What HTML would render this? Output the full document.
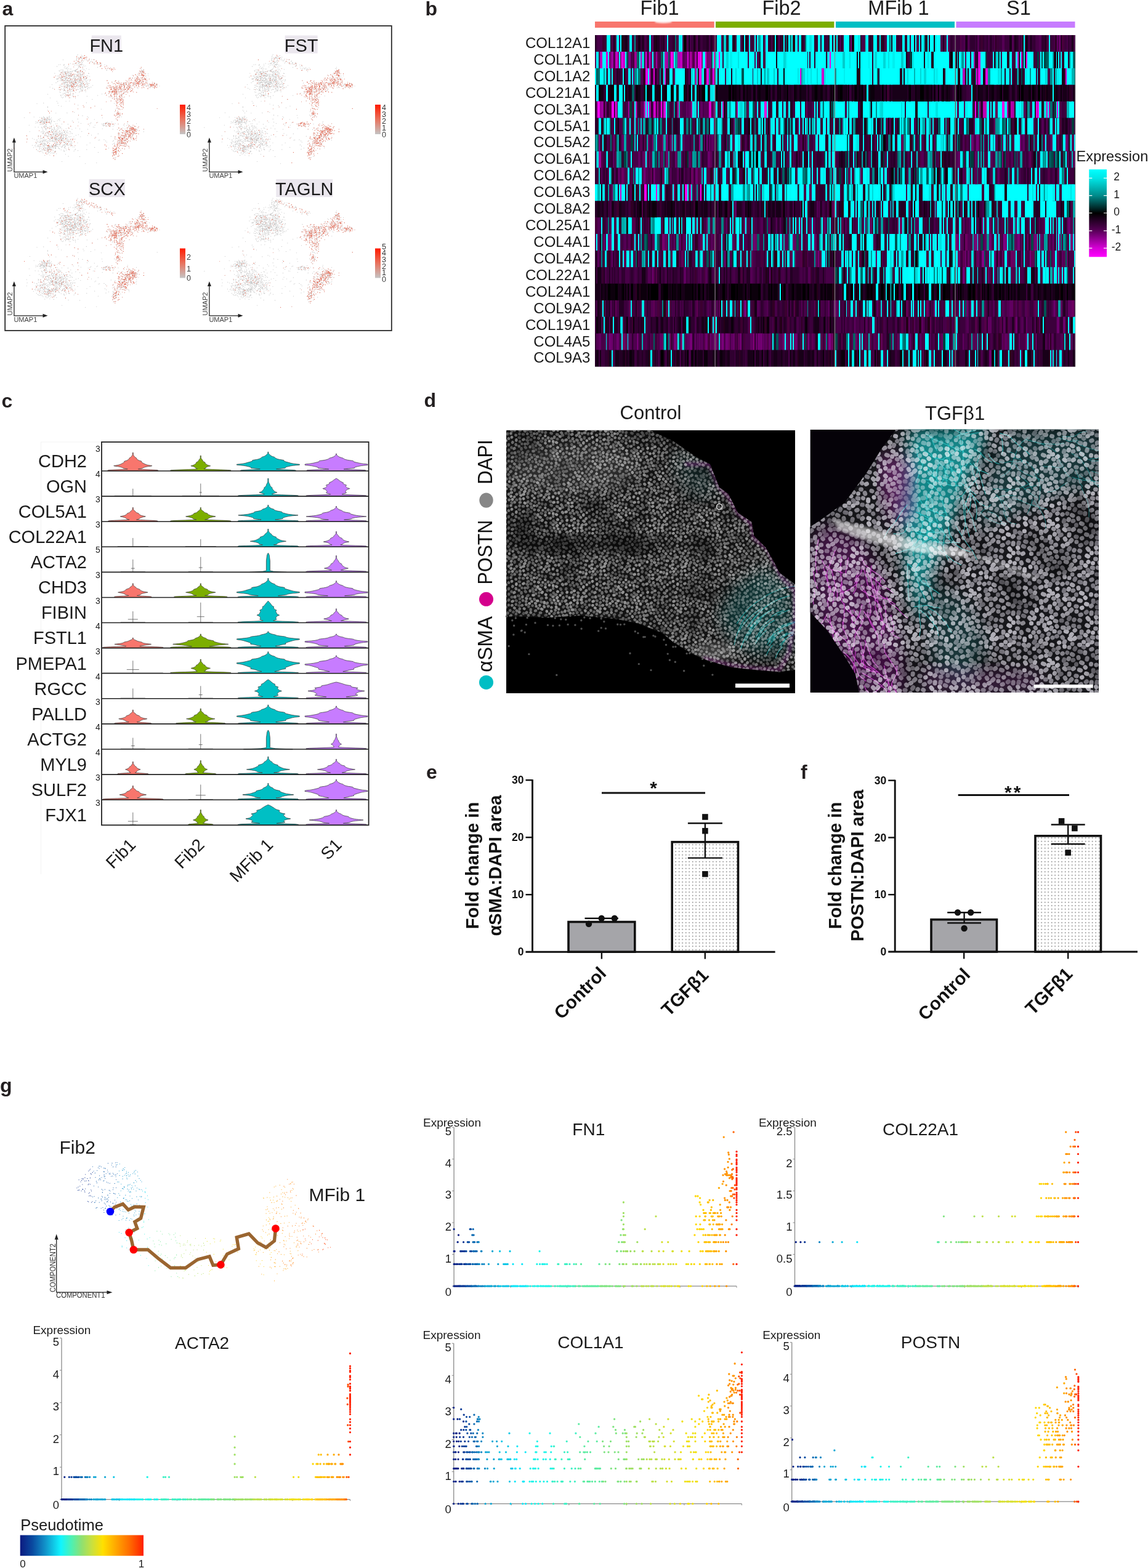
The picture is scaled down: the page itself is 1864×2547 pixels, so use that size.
<!DOCTYPE html>
<html><head><meta charset="utf-8"><title>Figure</title>
<style>
html,body{margin:0;padding:0;background:#fff;}
body{width:1864px;height:2547px;overflow:hidden;}
svg{display:block;}
text{font-family:"Liberation Sans", Arial, Helvetica, sans-serif;}
</style></head>
<body>
<svg width="1864" height="2547" viewBox="0 0 1864 2547">
<defs>
<g id="umapbase"><path d="M113.7 135.4h0M114.1 127.4h0M107.3 129.3h0M127.9 135h0M128 134.2h0M121.2 133.6h0M99.8 140h0M120.5 134.7h0M98.3 113.8h0M107.9 126.4h0M119.4 132h0M121.2 123.1h0M118.1 134.8h0M110 149.1h0M121.7 143.8h0M109.9 123h0M112.4 130.5h0M123.4 132.7h0M110.9 121.4h0M112.6 142.6h0M107 133.9h0M121 115.4h0M116.7 144.7h0M94.4 127.8h0M115.6 123.4h0M122.2 130.4h0M100.2 140.5h0M123.6 140.2h0M131.7 135.5h0M117.3 116h0M122.1 124.2h0M111 118.1h0M105.5 125.9h0M130.8 109.5h0M102.2 133.1h0M131.3 136.8h0M97.9 104.9h0M120.4 123h0M105 141h0M128.3 131.4h0M117.7 136.5h0M132.7 138.6h0M120.7 136.8h0M100.7 145.4h0M125.9 136.1h0M96.7 124.5h0M124.2 113.2h0M112.9 140.6h0M104 147h0M121.6 129.8h0M120.4 138.1h0M116.7 142.3h0M110.3 126.7h0M126.3 132h0M108.2 142.3h0M130.3 126h0M101.6 129.9h0M114.3 128.9h0M128.4 121.3h0M128.5 117.9h0M108.7 137.6h0M126.9 140.9h0M120.2 132.1h0M117.9 136h0M113.5 133.6h0M122.3 131.1h0M123.4 135.7h0M135.4 135.6h0M112.2 126.6h0M117 140.9h0M112.5 134.5h0M135.8 105.2h0M106.1 133.8h0M119.8 133h0M111.3 137.9h0M119.3 126.2h0M141.3 133.8h0M110.4 129.3h0M114.3 129.4h0M88 125.4h0M126 119h0M116.7 140.5h0M123.8 146h0M99.5 127.9h0M112.9 138.9h0M128.2 103.8h0M128.2 115.3h0M123 115.2h0M118.1 144.4h0M114.3 134.2h0M123.5 133.6h0M114 146h0M127.7 128h0M144.3 119.4h0M125.7 128.2h0M116.8 138h0M118.6 136.8h0M101.1 117h0M121.2 120.8h0M105.6 116.1h0M129.2 138.1h0M131.2 121.5h0M116.2 120.6h0M124.1 146.1h0M106 147.4h0M126 128.8h0M95.1 145.1h0M115.2 124.4h0M120 135.9h0M132.1 121.1h0M127.6 145.1h0M131.6 130.4h0M109.6 142.3h0M117.6 132.6h0M130.7 129.3h0M92.7 128.8h0M98 139.1h0M119.4 123.6h0M115.6 139.3h0M118.9 143.9h0M116.3 141.7h0M131.2 147.9h0M107.8 140.7h0M98.6 120.3h0M96.2 142h0M104.2 130.5h0M114.4 131.1h0M109.9 133.7h0M134.7 132h0M120.9 140.8h0M113.9 119.2h0M110.8 140.7h0M98.5 126.5h0M126.7 138.1h0M115.6 139.3h0M119 120.3h0M100 124.3h0M127.1 124.5h0M108.3 123.5h0M100.7 130.8h0M104.6 134.1h0M91 134.4h0M110.1 112.3h0M121.6 129.3h0M94 123.3h0M119.8 126.5h0M124.5 138.9h0M122.5 134.3h0M129.9 137.4h0M119.7 108.7h0M125.7 144.8h0M113.3 125.4h0M136.6 112.9h0M119.4 156.9h0M105.6 139.8h0M135.8 129.5h0M120.1 139.7h0M108.2 131.2h0M119.4 138.1h0M115.6 128.8h0M106.2 127.3h0M125.6 130.8h0M107 123.6h0M142.2 143.3h0M124.5 105.2h0M121.5 136.9h0M131.9 135.7h0M115.2 137.3h0M97.4 141.7h0M120.9 124.7h0M129.3 148.7h0M103.9 124h0M119.5 132.8h0M111.8 119.9h0M137.7 141.5h0M104.8 117h0M132.3 140.3h0M134.7 139.5h0M107.9 133.4h0M94.7 123.5h0M116.9 136.3h0M108.9 130.2h0M121.8 134.2h0M122.3 133h0M111.3 140.1h0M117.6 122.7h0M112.5 132h0M116.7 133.8h0M116.9 131.7h0M116 118.6h0M119.6 141.8h0M121.2 129.9h0M120.9 120.8h0M97.5 131.1h0M106.7 139.2h0M104.1 104.6h0M104.1 146.4h0M111.4 117h0M109 136.3h0M122 132.9h0M131.2 138.6h0M115.8 137.2h0M133.9 140.5h0M127.5 119.2h0M114.5 137.1h0M112.8 143.1h0M122.6 141.3h0M112.9 156.2h0M129.2 129.5h0M117.8 156.1h0M113.1 139.9h0M126.3 131.5h0M104.1 131.6h0M119 141.4h0M123.2 131.2h0M125.9 136h0M117.7 130.7h0M112.4 138.1h0M105.1 124.5h0M115.5 116.5h0M110.9 111h0M108.8 137.4h0M121.3 130.8h0M114.2 116.6h0M136.1 136.4h0M126.7 122.6h0M113.7 112.1h0M124.2 140.7h0M98.3 129.2h0M122.4 114h0M97.5 120.5h0M111 115.8h0M116.6 134.2h0M122.2 136.8h0M130.7 143h0M103 127.3h0M106.5 118.9h0M116.2 131.8h0M122.5 114.8h0M103.2 130.9h0M115.4 128.4h0M116.9 123.9h0M122.9 133.9h0M116.8 123h0M114.2 103.1h0M105.5 131h0M100.9 134.9h0M117.7 116.6h0M113.8 128.6h0M120.3 137h0M114.5 122.9h0M115.3 131.5h0M122.8 135.7h0M109.6 117.1h0M112.1 123.3h0M104 130.5h0M110.8 131.6h0M121.9 126.9h0M139.4 127.6h0M127 133.3h0M128.4 106.3h0M108.5 134.6h0M122.1 156.2h0M119.8 144.6h0M122.4 141.3h0M121.7 129.9h0M121.8 120.5h0M127.8 121.4h0M118.8 151.8h0M113.2 131.4h0M128.3 129.6h0M106.4 134.5h0M122.1 140.5h0M107.2 148.7h0M132.7 131.7h0M120.1 127.9h0M129.8 124.8h0M122.1 126.4h0M109.3 138.8h0M129.2 132h0M109.3 139.3h0M115.5 133.4h0M132.3 142.8h0M111.3 155.7h0M115.6 138.8h0M109.6 131.3h0M98.3 149.9h0M130.5 117.3h0M100.4 113h0M128 126h0M116.1 128h0M114.9 121h0M116.9 115.5h0M115 134.4h0M122.3 128.5h0M106.9 132.9h0M111.9 146.9h0M124.3 129.5h0M111 123.3h0M107.2 127h0M119.6 136.6h0M122.8 150.3h0M108.3 130.2h0M144.5 112.7h0M112.9 134h0M118.9 135.5h0M113.5 135.2h0M115.1 139.6h0M97 122.5h0M115.4 119.7h0M105.1 137.4h0M109.9 137.2h0M124.1 134.7h0M120.5 129.9h0M100.7 130.3h0M121.5 125.1h0M116.7 139.1h0M108 137.6h0M135.8 126.3h0M117.8 129.1h0M131.5 135.8h0M125.2 123.7h0M115.5 129.6h0M97.8 145.9h0M125 112.7h0M124.1 130.1h0M120.4 135h0M100.2 129.6h0M130.6 124.9h0M105.9 116.9h0M102.9 136.1h0M134.6 134.1h0M118.8 152.8h0M111.2 123.2h0M122.1 137h0M107.2 120.1h0M118.8 134.3h0M102.6 128.9h0M110.3 134.3h0M115.5 128.6h0M112.4 142.2h0M130.5 126.1h0M124.3 123.9h0M117.8 139.9h0M130.2 127.5h0M115.1 133.6h0M99.7 131.1h0M109.9 134.3h0M104.4 110.2h0M117.5 132.7h0M109.9 139.8h0M113.2 126.5h0M121.3 114.4h0M109.8 131.1h0M125.1 129.3h0M119.7 123.5h0M118.4 147.6h0M108.4 155.7h0M111.2 132.2h0M118.3 141.7h0M95.1 105.1h0M109.4 126h0M109.4 140.4h0M106.7 123.2h0M111.4 123.6h0M115.3 112.1h0M102.4 97.1h0M111.6 117.9h0M110.6 137.5h0M104.2 121.5h0M101.2 114.1h0M99.6 127.2h0M103.4 122h0M102.3 129.2h0M107.8 119.5h0M108.1 119.7h0M94.2 131.6h0M109.7 114.5h0M112.2 123h0M93.5 132.7h0M106.4 128.9h0M106.4 119.6h0M94.5 128.4h0M105.2 119.4h0M108.1 122.4h0M109.2 119.2h0M104 105.9h0M102.8 125.4h0M113.5 118.4h0M103.3 133.9h0M101 128.5h0M118 121.3h0M113.7 115.9h0M106.6 121.3h0M106 130.2h0M123.5 116.4h0M101 124.8h0M97 125.1h0M108.7 119.6h0M107.8 110h0M109.6 109.2h0M99 116.9h0M101.6 126.4h0M105 117.6h0M107.9 133h0M105.5 124.2h0M113.2 123h0M96.3 138.2h0M121.5 105.8h0M103.8 124.4h0M111.4 127.5h0M103 113.7h0M106.1 128.9h0M96.1 114.8h0M105.6 108.3h0M101.8 119.7h0M107.5 116.9h0M99.1 120.3h0M103 115.7h0M105.6 127.2h0M113 131.5h0M99.3 118.2h0M84.5 137.2h0M97.4 120.7h0M108.4 111.7h0M108.6 121h0M90.6 123.2h0M111.6 106.9h0M112 122.3h0M108 126h0M114.9 119.8h0M111.5 118.2h0M109.2 116.2h0M103.9 135.2h0M107.6 119.9h0M96.6 115.5h0M105.8 127.5h0M107.9 125.4h0M105.7 131.2h0M100.4 117.7h0M112.8 121.5h0M101.9 117h0M100.5 125.6h0M107 111.4h0M108.1 122h0M95.9 126.4h0M103.1 120.4h0M111.4 131.1h0M99.2 124.3h0M99 137.8h0M101.3 130.8h0M99.2 126.8h0M121.1 102.9h0M101.3 124.6h0M103.9 118h0M121.3 120.7h0M92.7 127.6h0M92.1 128.6h0M100.3 122.5h0M113.2 122.5h0M92.6 107.9h0M113.3 127h0M98.5 127.2h0M108.4 126.9h0M88.9 119.1h0M110.8 127.5h0M111.4 104.2h0M105.6 124.3h0M123.3 113.9h0M103.1 122.3h0M109.3 118.7h0M114 116.4h0M106.2 116.9h0M106.5 117.1h0M93 128.4h0M105.6 117.5h0M105.4 128h0M97.8 121.4h0M106.9 124.7h0M103.2 106h0M140.5 126.7h0M130.9 119.9h0M133.6 120.8h0M125.1 116.8h0M128.2 117.6h0M122.4 127.5h0M122.4 129.7h0M124.6 126.3h0M141.4 125.9h0M126.4 122.6h0M133.9 107.7h0M127.6 124.7h0M129.1 124.2h0M138 130.1h0M137.9 128h0M130.1 122.5h0M130.5 120.4h0M129.7 107.6h0M129.2 124.5h0M125.3 123.1h0M134.8 123.4h0M146.6 100.6h0M129.9 108.4h0M139 146.1h0M113.7 123.6h0M134.7 120.5h0M133.5 104.7h0M139.5 125.7h0M131.8 116.9h0M136.5 119.2h0M133.9 117.8h0M114.9 122.5h0M133 131.7h0M125.2 123h0M135.8 125.2h0M142.8 141.6h0M126.3 105.7h0M138.8 136.6h0M139.4 131.2h0M127.7 115.8h0M138.3 115h0M118.9 114.6h0M150.6 138.8h0M126.2 116.9h0M133.7 116.4h0M141.2 122.7h0M124.7 134.6h0M127.7 123.8h0M129.6 119.4h0M134.4 115.4h0M118.6 104h0M122.5 116.1h0M131.2 124.4h0M136 124.3h0M125.6 117.3h0M117.3 121.8h0M135 127h0M130.9 121.1h0M137.4 124.1h0M136.6 126.8h0M132.7 136.1h0M127.5 119.1h0M125 116.9h0M143.3 138.8h0M131.7 128.6h0M141.5 130.7h0M140.3 111.2h0M127.4 128.5h0M142.7 123.2h0M125.6 121.2h0M126.4 116.2h0M143.6 119.1h0M130.6 140.8h0M140.6 126.8h0M127 126.9h0M143.2 129.7h0M139.1 124.3h0M134.5 121h0M133.6 133.9h0M121.3 122.8h0M134.9 118.1h0M129.8 130.4h0M146.5 129.9h0M134.2 109.9h0M145.6 124h0M131.4 114.3h0M131.3 113.8h0M132.2 128h0M131.6 126.5h0M125.1 136.3h0M128.5 107.6h0M130.3 115.7h0M125 120.2h0M134.6 112.5h0M131.1 137.2h0M137 121.7h0M131.6 122.2h0M131.9 130.1h0M130.2 101.5h0M130.8 114.7h0M136.2 118.2h0M134.3 142.4h0M125.3 112.2h0M122.7 103h0M118.4 127.1h0M127.6 108.5h0M121.6 127.3h0M124.7 121.4h0M134.1 136.2h0M145.5 131.8h0M132.5 125.1h0M145 135.3h0M129.9 127.8h0M133.1 122.9h0M126.5 111.5h0M127.8 109.3h0M140.1 127.9h0M123 135.9h0M138.9 107h0M146 129.6h0M122.4 140.7h0M111.1 150.7h0M110.1 149.7h0M114.4 138.3h0M101.6 140h0M104.9 145.6h0M110.2 150.1h0M109.4 143.8h0M104.7 155.2h0M114.7 147.1h0M106.5 157.6h0M104.4 151.6h0M118.1 146.2h0M113.9 140.6h0M114.3 149.4h0M98.3 154.2h0M102.9 158.1h0M103.2 147.5h0M110 145.1h0M113.1 144.7h0M113.1 147.9h0M109.4 129.7h0M116.9 148.4h0M96.7 149.2h0M110.6 155.7h0M101.3 158.9h0M107.1 164.2h0M107.9 153.7h0M105.5 141.9h0M114.9 154.3h0M118.6 154.2h0M102.8 136.8h0M104.1 144.8h0M102.6 153.5h0M109.2 146.8h0M110 147.5h0M110.1 154.1h0M114.1 144.5h0M99.5 157.6h0M107.4 154.8h0M97.1 145.5h0M109 138.4h0M107.1 153.7h0M114.5 158.7h0M104 139.9h0M111.1 155.4h0M109.4 141.7h0M113.2 154.1h0M112.5 144.9h0M110.3 154.6h0M105.2 136.4h0M111 153h0M109.3 154.7h0M104.9 146.7h0M106.6 151.8h0M119.5 146.4h0M122.3 157.6h0M114.4 151.7h0M120 147.8h0M107.5 141.5h0M112.4 158.7h0M110.5 150.5h0M107.7 150.3h0M98.8 155.4h0M105.6 143.1h0M103.4 142.1h0M112.8 154.4h0M100.6 154.2h0M115.8 145.2h0M99.1 144.1h0M105 151.4h0M105.4 134.8h0M109.6 138.5h0M114.2 139.6h0M103.4 144.3h0M106.6 156.3h0M114.3 152.4h0M109.9 138.9h0M105 146.2h0M102.4 151.6h0M124.4 94.9h0M126.1 88.6h0M131.4 104.5h0M128 93.7h0M120.4 99.5h0M132.8 99.4h0M131.5 104.3h0M132.4 95.3h0M132.7 101.2h0M124.3 95.9h0M124.6 97.7h0M131.4 93.8h0M123 103.6h0M130 104.3h0M123.6 102.6h0M136.3 107.5h0M127.5 99.5h0M128.9 101.4h0M132.4 98.8h0M125.1 101.5h0M125.9 99.3h0M131.2 104.9h0M133.5 97.1h0M130 104.9h0M128.2 100h0M133 104h0M131.2 93.2h0M123.7 98.1h0M130.2 109.2h0M126.7 103h0M131.1 92.4h0M127.3 99.8h0M128.1 96.8h0M130.2 94.5h0M129.4 94.7h0M127.2 99.5h0M127.4 99.7h0M133.7 98h0M128.8 101.7h0M127.9 101.9h0M123.4 102.4h0M126.7 94.3h0M133 93.8h0M133.8 101.6h0M131.4 92.8h0M132.3 104.1h0M127.8 97.2h0M135.4 99.1h0M128.4 95.5h0M129.8 100.5h0M129.8 104.8h0M127.3 99.7h0M133.4 94.7h0M131.6 106h0M124.6 92.4h0M125.1 90.5h0M139.1 128.5h0M139.1 148.9h0M127.2 139.4h0M126 145.5h0M131 138.5h0M134.8 144.3h0M134 141.5h0M132.7 140.2h0M128.5 140.9h0M124.5 138.5h0M147.8 141.4h0M126.6 141.4h0M128.3 130.5h0M130.4 145.2h0M137.6 141h0M131.1 134.1h0M144.2 142.2h0M130.4 129.5h0M126.7 155.1h0M130.1 139.7h0M137 139.9h0M133.6 131.7h0M128.9 149.8h0M132.1 145.8h0M126.3 138.2h0M137.5 146.9h0M129.9 143.6h0M138.5 137.5h0M139.8 134.8h0M130.1 139.5h0M120.6 140.6h0M130.1 131.5h0M134.1 146.4h0M133.2 148h0M129.8 133.5h0M145.7 142.7h0M141.4 135.7h0M139.8 142h0M139.1 141.3h0M142.4 137h0M129.4 131.2h0M143.5 135.7h0M131 136h0M131.2 132.8h0M133.6 137.1h0M132.2 134.7h0M136.8 137.9h0M137 141.6h0M137 129h0M132.3 135.2h0M140 132.4h0M131.3 138.5h0M134.1 147.3h0M132.9 146.1h0M126.8 132.3h0M142.5 144.6h0M138.3 141.8h0M136.8 133.8h0M141.1 137.4h0M141 140.2h0M122.9 133.4h0M141.6 139.9h0M133.2 141.7h0M132.5 139h0M185.8 149.1h0M195.6 147.9h0M197.5 162.2h0M197.9 156.3h0M189.4 150.1h0M186 142.5h0M186.4 145.1h0M196.4 153.8h0M182.4 133.7h0M185.6 144.8h0M179.4 139.4h0M171.3 151.1h0M185.5 168h0M185.5 147.6h0M196.3 148.6h0M186 145.8h0M182.2 159.2h0M191.7 161.9h0M182.8 148.5h0M180.2 156.1h0M176.5 151.9h0M194.7 158.1h0M180.4 156.3h0M180.9 142.9h0M177.1 157.1h0M194.7 144.1h0M181.1 145.3h0M202 157.6h0M183.9 135.9h0M181.7 156.9h0M199.3 146.2h0M180.8 145.3h0M172.9 154.5h0M180 154.9h0M174.7 139.3h0M188 141.8h0M190.9 148.3h0M179.8 153.8h0M190.9 135.3h0M198.4 152h0M190.7 134.7h0M180 145.4h0M193.7 139h0M181.6 133.4h0M184.9 149.1h0M174.7 143.2h0M189.9 158.7h0M189.5 145.4h0M178.6 142.3h0M180.9 151h0M185.8 159.9h0M188.1 140.7h0M196.7 155.6h0M188.3 144.2h0M173.2 141.7h0M192.5 141.9h0M176.7 149.3h0M185.6 153.4h0M190.1 159.7h0M180 155.6h0M180.1 154.3h0M187.4 149.4h0M194 149h0M194.3 156.1h0M188 144.7h0M181.4 145.1h0M183.5 148.9h0M204.7 153.4h0M190.2 142.8h0M180.9 148.1h0M187.4 141.3h0M195.8 144.2h0M193 131.3h0M185.6 149.8h0M187.8 152.5h0M187.1 149.9h0M172.9 143.2h0M170.2 152.3h0M187.8 146.4h0M179.6 144.5h0M197.8 159.9h0M185.3 158h0M175.9 134.7h0M183 142.6h0M181.9 149.2h0M206.2 143.4h0M186.3 151h0M186.5 156.2h0M197 139.2h0M187.5 145.4h0M187.3 137.8h0M174 130.9h0M190 150.3h0M187.2 131h0M183.3 142.7h0M177 140.2h0M190 153h0M185.2 152.2h0M182.1 149.4h0M185.9 151.6h0M187.5 146.9h0M186.4 142.4h0M200.7 152.1h0M190.3 166.7h0M195.9 136.4h0M189.9 154h0M197.9 158.2h0M190.4 139.7h0M181.4 151.5h0M187.8 140.3h0M183.2 146.6h0M186.1 152.4h0M184.4 140.6h0M193.4 159.8h0M186.1 156.4h0M187.4 153.1h0M189.3 143.4h0M189.2 157.2h0M180.2 163.9h0M199.9 161.8h0M198.7 153h0M184.4 144.7h0M181.4 149h0M185 153.1h0M172.5 165.3h0M201.6 147.6h0M190 152.5h0M188.5 148.7h0M185.6 141.8h0M186.3 147.7h0M188.1 142.5h0M186.2 148.3h0M189.8 140.7h0M189.2 155.7h0M189.2 144.9h0M183.9 146.7h0M190.6 159.7h0M185.8 143.6h0M188.6 149.8h0M180.5 142.3h0M185.5 154.2h0M179.1 141.6h0M189.5 140.8h0M187.2 152.1h0M184.3 140.2h0M186.2 145.9h0M187.8 141.6h0M194.3 135.4h0M184.9 147.5h0M192.1 145.8h0M191.4 144h0M190 162.4h0M182.7 150.3h0M180.2 154.7h0M192.7 149.6h0M178 150.6h0M193.6 156.2h0M192.2 135.3h0M182.8 159.7h0M179.3 157.6h0M198.3 154.4h0M193.3 144.9h0M177 148.3h0M182.8 147.5h0M189.5 147.4h0M186.4 151.8h0M185.8 161.5h0M188.2 147.4h0M184.7 142.9h0M194.5 149.9h0M179.7 144.9h0M186.2 144.1h0M193.6 141.3h0M189.5 148.7h0M178.6 148.4h0M204 144.8h0M201.3 141.8h0M190.3 135.2h0M211.5 148.1h0M205.4 137.7h0M214.6 126.3h0M197.9 144.3h0M213.1 134.1h0M188.6 151.2h0M207.2 134.7h0M206.3 146.8h0M183.6 149.3h0M211.5 127.1h0M211.9 130h0M215.6 143.9h0M225.7 136.2h0M205.5 148.6h0M200.5 136.7h0M201.9 140h0M195.2 143.7h0M210 140.1h0M221.1 138h0M216.9 137.6h0M211.5 126.7h0M207.8 139.9h0M200.8 137.6h0M203 135.3h0M186.2 135.5h0M200.3 138.4h0M195.5 140.5h0M211 138.9h0M201.8 150.9h0M214.2 147.3h0M216.8 136.7h0M202.9 149.5h0M202.4 140.4h0M208.7 143.4h0M203 146.7h0M203.8 145.4h0M215.2 145.6h0M212.5 133.6h0M193.2 137.8h0M207.4 150.6h0M194.9 142.3h0M199.4 135.1h0M202 144.9h0M207.5 149.1h0M196.8 147.1h0M212.9 140.7h0M209.6 136h0M196 137.8h0M200.3 158.8h0M200.7 151.1h0M206.8 142h0M211.6 134.6h0M213.7 143.7h0M192.1 144.5h0M209.5 142.9h0M219 137.3h0M208.9 145.7h0M197.5 148.3h0M192.1 132.2h0M209.4 133.3h0M204.5 130.5h0M206.5 132.8h0M209.3 129.8h0M209.1 140h0M207.7 140.4h0M206.2 131.8h0M182 140.8h0M196.9 137.2h0M210 127.1h0M200 137.4h0M196.6 142.4h0M203.7 133.8h0M197 145.8h0M199.9 144h0M209.6 127.2h0M194.2 141.1h0M209.2 143.4h0M213.3 147.2h0M202 138.2h0M211.3 138.5h0M214 130.3h0M210.9 141.1h0M188.9 146.1h0M207.7 140h0M194.9 137.2h0M219.4 135.4h0M175.6 135h0M194.6 139.9h0M201.9 136.3h0M199.4 147.9h0M193.2 152h0M200.5 135.4h0M211.6 145h0M197.2 145.3h0M189.1 134.3h0M215.8 139.1h0M195.2 145h0M213.3 142.6h0M189.4 138h0M208.8 145.1h0M221.2 139h0M201.8 139.3h0M214.8 134h0M216.5 123.1h0M211.7 137.5h0M208.9 145.1h0M195.1 141.1h0M207.7 144.6h0M196.8 134.4h0M188.9 157.1h0M203.6 137.8h0M191.9 147.7h0M201.8 150.1h0M211.1 142.3h0M211.5 135.4h0M202.2 137.7h0M193.8 141.9h0M205 149.3h0M177.1 138.5h0M197.2 136.8h0M209.2 143.1h0M204.4 136.8h0M209.8 141.9h0M190.1 139.4h0M193.2 134.1h0M205.9 141.7h0M205.3 134.8h0M204.1 134.3h0M208.6 145.7h0M221.8 150h0M198.7 137.5h0M196 144.1h0M224 143.7h0M186.8 132.5h0M194.6 144.3h0M205.2 142.7h0M220.8 136.2h0M197.7 153.2h0M208.8 136.1h0M188 131h0M185.2 142h0M205.9 147.1h0M204.6 134.7h0M198.5 152.6h0M190.1 141.6h0M207.5 145.3h0M202.1 145.7h0M212.4 139.5h0M202.3 140.2h0M197.6 140.3h0M202.4 141.6h0M216.4 149.4h0M202.2 143.9h0M207.5 144.7h0M207.1 143.1h0M201.4 134.7h0M212.1 148.7h0M211.1 142.6h0M207.5 138.7h0M189.8 145.1h0M205.5 136.9h0M196.8 148.5h0M188.5 152.2h0M210.1 155.8h0M197.9 140.5h0M201.6 141.1h0M203.8 134.7h0M215.1 136h0M200.6 145h0M200 137.9h0M209.7 138.3h0M193.6 141h0M225.5 140.7h0M217.3 135.2h0M219.8 130.1h0M224.5 132h0M233.8 142.4h0M221.4 139.1h0M232.6 136.1h0M222.5 135.2h0M225.9 132.6h0M224.6 135h0M235 138.3h0M225.5 137.6h0M238 126.5h0M236.8 123.6h0M230.3 133.8h0M238.9 132.9h0M223.2 124.8h0M217.4 136.1h0M224.8 126.4h0M231.6 126.4h0M223.2 128.3h0M238.5 140.4h0M225.9 121.9h0M228.4 131.3h0M230.5 134.1h0M224.8 135.2h0M233 132.8h0M224.7 128.5h0M232.1 124.9h0M226.3 128.3h0M216.7 133.9h0M226.9 131.2h0M233.5 123h0M226.3 132.4h0M232.9 123.8h0M232.1 131.6h0M236.8 137.8h0M230.5 142.6h0M226.7 128h0M224.1 126.1h0M227.2 119.1h0M226.7 134.6h0M234.7 129.2h0M236.7 128.6h0M225.4 118.9h0M221.2 126.7h0M236.4 133.1h0M220.3 134.2h0M230.7 129.3h0M225.6 129.2h0M223.8 120.5h0M224.6 138.2h0M236.6 129.5h0M220.5 129.6h0M232.6 133.7h0M222.6 133.8h0M225.1 132.3h0M222.3 123.1h0M227.7 136h0M218.7 129h0M232.5 129.2h0M223.1 142.3h0M232.1 136.3h0M220.7 141h0M213.5 129.1h0M231.2 137.4h0M218.8 126.7h0M229.8 122.1h0M230.2 133.7h0M223.6 134.4h0M231.8 131.6h0M230 139.1h0M221.9 132.1h0M221.8 135.5h0M224.9 134.5h0M228.7 131.5h0M238.4 130.5h0M235.6 136.3h0M236.1 129.9h0M231.7 135.2h0M223.6 133.7h0M226.4 130.6h0M235.9 127.4h0M215 122.1h0M223 125.6h0M224.9 133.5h0M237.9 133.3h0M230.7 126.9h0M231.1 138.7h0M236.2 119.7h0M232.6 140.8h0M232.2 122.6h0M225.4 135.1h0M229.3 126.7h0M219.6 136.6h0M217.5 139.1h0M226.9 133h0M215.4 127.1h0M231.5 122.4h0M240.4 123h0M219.3 131.1h0M229.5 134.8h0M223.1 130.3h0M224.2 128.5h0M209.3 136.9h0M229.2 131.9h0M220.9 132.4h0M227 129.4h0M233.4 122.3h0M228.7 126.1h0M224.9 139.5h0M219.4 131.1h0M222.5 136.2h0M220 121.4h0M232.1 128.5h0M223.3 136.1h0M221.3 128.6h0M227.8 133.2h0M223.3 135.7h0M242.3 128.3h0M240.5 119.8h0M235.5 128.4h0M228 130.1h0M222.8 123.8h0M224.7 136.4h0M234.2 128.3h0M222.2 127.6h0M218.5 141.3h0M231.2 132.2h0M223.8 124.9h0M236.5 134.7h0M221.4 135.5h0M218.7 133.8h0M220 129.8h0M229.5 134.8h0M234.8 126.7h0M237.2 139.2h0M224.4 133h0M222 130.2h0M219.4 131h0M229.9 122h0M232.9 121.7h0M228.4 116.8h0M230.8 117.7h0M226.1 119.2h0M227.8 116.3h0M231 115.9h0M234.8 117h0M234.4 122.2h0M230.5 119.3h0M233.3 116.9h0M229.5 114.2h0M231.9 116.4h0M229.9 120.5h0M233.3 118h0M230.3 121.2h0M228.6 116h0M232 115.5h0M233 112.8h0M233.4 113.9h0M232.5 122.4h0M228.5 122.8h0M227.9 111.4h0M233.8 119.4h0M229.3 109.2h0M231.5 117.2h0M229.2 116.4h0M226.9 115.3h0M234.6 123.7h0M230.2 115h0M231.2 122.6h0M231.1 115h0M231.4 118h0M232.9 123.1h0M232.6 122.4h0M231.3 121.4h0M229.7 118.6h0M231.9 114.4h0M229.5 111.8h0M230.8 116.2h0M230.3 119.7h0M227.8 118.1h0M248.5 137.3h0M254.5 141.9h0M245.6 137.4h0M245 140h0M250.4 136.4h0M253.7 135.7h0M252.1 140.8h0M250.8 143.2h0M246 138.5h0M250.6 139.7h0M241.1 138.4h0M244.8 139.8h0M253.8 137.7h0M247.6 138.5h0M232.9 141.5h0M252.7 139.8h0M246.8 136.8h0M248 141h0M247.3 140.5h0M233.6 138.1h0M249.4 137.9h0M239.4 138.1h0M254.9 136.7h0M243.2 135.7h0M244.8 138.7h0M250.4 134.9h0M255.4 137.9h0M245 140.6h0M247.1 137.4h0M244.4 137.4h0M241.8 136.8h0M251.6 141.8h0M240.1 143.9h0M242.5 137.5h0M249.2 141.7h0M245.5 140h0M259 139.7h0M241.2 139.4h0M244.5 138.4h0M248.7 138.3h0M245.1 141.5h0M247.3 136.1h0M253.8 138.1h0M254.1 137.3h0M251.1 139.4h0M234.9 136.1h0M241.9 141.5h0M236.9 139.9h0M252.5 139.5h0M250.5 136.3h0M247.1 137.6h0M251.4 141.3h0M246 139h0M245.3 137.6h0M238.7 135.4h0M244.3 137.4h0M247.4 133.6h0M244.9 137.7h0M251.7 135.6h0M246.2 139h0M250 139.7h0M253.2 137.3h0M250 138.2h0M243.4 142.7h0M243.5 137.7h0M246.9 138.8h0M252.3 139.6h0M255.6 139.7h0M243.7 141.7h0M246.2 139h0M194.3 165.7h0M200.4 162.6h0M196.3 166.7h0M191.7 160.6h0M194.7 169.2h0M196.4 167.7h0M195.8 162.3h0M198.1 160.9h0M189.6 164.2h0M191.3 162.7h0M193.4 162.3h0M195.4 161.4h0M194.6 155.6h0M195.2 161.2h0M196.7 150.5h0M192.4 166.2h0M187.7 164.1h0M196.6 166.2h0M190.1 168.2h0M194.8 161.9h0M198.7 165.6h0M195.8 163.9h0M196.9 166.7h0M198.9 167h0M193.6 164.7h0M199.4 164.3h0M197.6 169.5h0M194.2 153.8h0M198.3 166.7h0M195.1 162.2h0M200.6 166h0M194.7 160.8h0M197.2 160.2h0M193.1 176.4h0M200.3 171.5h0M200.3 169.1h0M189.6 171.2h0M200 168.7h0M188.5 170h0M199.9 162.6h0M195.4 171.6h0M196.1 171.9h0M196.4 172.4h0M195.2 158h0M191.7 184.9h0M197.5 173.2h0M200.1 174.9h0M196.3 163.2h0M197 154.9h0M194.6 169.6h0M189.8 166.1h0M197.8 173.2h0M193.4 162.3h0M189 160.2h0M198.2 177.5h0M191.7 173.6h0M191.8 182.3h0M195.9 171.6h0M191.3 184.3h0M196.9 189.8h0M195.5 184.1h0M194.2 188.2h0M191.9 185h0M191.3 180.3h0M188.5 192.8h0M190 175.4h0M191.1 184.4h0M193.4 190.5h0M191 182.7h0M189.2 183.7h0M191.8 184.4h0M198.6 184.9h0M190.8 190.9h0M194.9 186.8h0M193 185.5h0M192.8 189.5h0M194.9 187.8h0M190.6 182.8h0M189.3 187.4h0M192.9 182.1h0M190.8 195.1h0M192.9 177h0M192 185.8h0M191.8 184.2h0M193.4 184.1h0M189.4 185.7h0M191.2 183.1h0M190.8 176.6h0M187.5 179.7h0M189.5 171.9h0M195 177.8h0M189.3 184.4h0M187.3 188.5h0M190.9 186.1h0M190.5 183.1h0M191.4 184h0M187.4 177.6h0M190.4 190.1h0M72.4 200.1h0M74.9 198h0M79.5 190h0M75.5 194.5h0M70.9 193.9h0M68.7 193.1h0M67.3 206.6h0M83.4 197.3h0M78.4 192.8h0M55.2 190h0M74.9 203.9h0M73.1 193.2h0M72 191.9h0M64.7 194.6h0M70.9 193.6h0M68.5 192.1h0M74 202.2h0M70.6 205.9h0M65.4 198.2h0M65.6 195.7h0M75.7 198.3h0M80.7 194.5h0M65.1 195.5h0M74.1 193.3h0M80.3 205.2h0M64.3 199h0M80.5 188.8h0M74.8 196.9h0M65 202.3h0M74.8 195.6h0M76 199.1h0M78.3 199h0M77.2 192.2h0M70.9 197h0M57.1 206.3h0M72.9 193.2h0M61.8 197.5h0M73.6 194.6h0M71.6 193.5h0M70.1 195.3h0M69.5 198.6h0M71.9 197h0M75.7 201.5h0M76.2 198.8h0M72.3 194.3h0M70.5 197.9h0M74.6 196h0M64.7 190.7h0M74.8 202.4h0M76.3 191.9h0M72 198.9h0M67.8 198h0M71.8 193.4h0M65 199.4h0M76 193.7h0M66.9 201.4h0M78.7 194.6h0M84 194.9h0M66.4 201.7h0M70.5 198.9h0M74.5 193.1h0M66.6 197.5h0M82.3 193.5h0M83.4 198.2h0M65.1 197.9h0M77 191.8h0M60 199h0M66.3 198.6h0M62.6 195.8h0M67.7 190.7h0M73 198.1h0M70.1 191.5h0M75.9 190.2h0M75.6 199.2h0M82.3 201.8h0M76.4 197.5h0M72.7 191h0M81.5 199.6h0M71.4 190.6h0M83 200.1h0M65.1 199.5h0M87.1 197h0M75.7 195.3h0M70.2 200.6h0M93.1 196.1h0M71.5 199h0M72.3 200.2h0M79.5 193.6h0M66.8 196.8h0M79.2 198.4h0M80.6 190.9h0M76.6 194.3h0M73.6 198.2h0M67.7 196.1h0M66.7 198.7h0M68.7 195.6h0M75.7 195.3h0M81.4 193.7h0M80.9 199h0M68 196.6h0M68.3 194.5h0M72.2 204.3h0M70.6 201.8h0M77.7 190.4h0M58.1 200.1h0M61.4 199.3h0M80.1 198.8h0M72.4 196.3h0M75.9 195.3h0M68.9 197.1h0M80.7 193.5h0M76.6 192.5h0M68.6 193h0M70.5 200.8h0M75.5 195.1h0M77.7 195.2h0M76.2 197h0M92.9 200.7h0M70.4 227.7h0M84.2 238.4h0M85.2 215.2h0M103.5 223.6h0M108.4 224.3h0M84.4 225h0M78.4 216.7h0M81.8 218.7h0M97.1 217h0M88.5 217.3h0M97 196.1h0M85.2 222.3h0M73.8 227.7h0M90.2 230.5h0M99.1 225.7h0M85 209.9h0M85.2 214.9h0M88.9 215.2h0M122.9 208.1h0M100.2 215.9h0M85 228.9h0M86.5 211.7h0M91.6 219.4h0M62.2 221.8h0M74.8 215.5h0M92.4 221.6h0M85.5 237.9h0M91.9 214h0M90.4 219.3h0M62.2 206.6h0M71.1 236.9h0M84 218.8h0M81.5 227.3h0M86.5 234.8h0M97.8 233.8h0M85.6 223.1h0M82.5 218.6h0M68.6 216h0M76.9 215.9h0M100.6 221.9h0M103.3 225.8h0M96.2 226.7h0M80.7 226h0M84.4 214h0M100.4 238h0M75.3 235.6h0M96.2 213.4h0M89.8 223.4h0M91 217.2h0M72.7 219.9h0M97.2 226.6h0M93.8 228.6h0M76.4 220.9h0M89.9 228.2h0M89.3 225.3h0M89.2 236.8h0M62.7 220.7h0M115.1 221.9h0M65.7 221.4h0M71.1 214.5h0M90.9 235.5h0M91.7 225.9h0M98.3 221.9h0M78.9 220.1h0M91 217.3h0M79.6 217.4h0M70 212.4h0M86.2 216.2h0M89.2 229.6h0M90.3 219.8h0M74.8 212h0M92.5 214.1h0M92.2 211.2h0M89.5 219.5h0M97.3 216.5h0M83.5 222.7h0M86.9 235.3h0M84.5 214.4h0M84 224.9h0M90.2 225.7h0M71 241.8h0M107.9 219.9h0M73.3 220.6h0M90.3 201.1h0M88.2 208.4h0M91.7 233h0M98.5 206.7h0M103.4 228.9h0M82.8 223.4h0M104.1 215.4h0M87 216.7h0M100.3 201.5h0M103.6 211.6h0M98.5 206.2h0M78.3 214.9h0M96.6 205.8h0M92.9 215.1h0M101.3 216.8h0M93.1 218.4h0M106.8 217.1h0M87.2 237.4h0M89 226.2h0M78.3 221.3h0M62.1 220.1h0M79.8 207.2h0M71.3 229.9h0M92.8 208.7h0M108.2 215.1h0M82.2 223h0M75.5 205.5h0M80.9 229.6h0M95.9 208.3h0M100.7 219.8h0M92.3 221.4h0M92 211.5h0M77.9 213.5h0M82.4 224.9h0M73 234.1h0M79.9 214.4h0M94.7 222.2h0M83.5 211.2h0M76.5 206.6h0M100.3 228.5h0M108.1 224.5h0M89.9 227h0M97.9 218h0M90.7 239.8h0M68.2 207.7h0M75.7 226.9h0M100.3 216.7h0M94.1 220.5h0M90.6 216.5h0M86.8 219.2h0M100.5 239.1h0M66.3 224.4h0M86.3 228.9h0M98.7 227.1h0M96.4 212h0M68.4 234h0M99.7 211.8h0M100.7 226.3h0M60.2 227.2h0M76.6 230.1h0M80.3 213.2h0M69.9 217.5h0M98 215.6h0M64.7 237.4h0M108.2 226.6h0M80.5 208.3h0M67.4 225.1h0M102.6 212h0M86.6 218.9h0M84.1 224.9h0M110.4 216.1h0M96.3 227.6h0M83.7 219h0M72.4 228.6h0M81 213.7h0M87.7 213h0M75.7 219h0M102.2 218.8h0M93.4 206.9h0M65.4 235.4h0M81.9 207.8h0M87.5 225.8h0M68.4 213.6h0M90 213.2h0M95.5 228.4h0M92.7 217.6h0M86.4 214.6h0M86.1 222.8h0M83.9 229h0M115.7 216.2h0M91.3 226.9h0M93.4 217.6h0M81.8 229.3h0M92.6 225h0M78.3 224.6h0M96.8 218.9h0M94.8 237.6h0M65.2 226h0M75.1 208.9h0M84.4 224.4h0M86.4 211.1h0M70.9 216.4h0M86.7 214h0M69.7 235.4h0M78.8 218.3h0M81.7 215.2h0M86.9 217.8h0M94.6 209.6h0M70.2 236.1h0M85.7 226.5h0M101.1 224.4h0M88.6 206.7h0M68.6 229.2h0M95.9 224.4h0M69 201.2h0M75 209.9h0M89.5 210.5h0M104.6 214.3h0M80.9 226.5h0M89.8 214.8h0M96.6 235.2h0M74 217h0M73.5 205.1h0M95.2 225.4h0M97.3 224.1h0M66.1 220.4h0M80.2 209.3h0M73.3 226.9h0M84.6 236.9h0M92.5 205.1h0M96.6 231.6h0M88.2 209.4h0M107.2 209.1h0M86.7 203.2h0M72.8 205.8h0M99.5 230.2h0M82.8 208.5h0M86.1 224.2h0M69.4 210.1h0M85.3 225.2h0M88.4 223.9h0M72.9 199.4h0M90.6 212.9h0M87.2 217.2h0M92.4 214.9h0M104.1 219.1h0M94.2 225.7h0M99.6 222.7h0M66.6 214.3h0M108.7 223.3h0M93 224.9h0M79.4 214.5h0M79.1 228.7h0M91.2 235.2h0M91.7 237h0M93 210.8h0M106.6 222.1h0M100.7 222.1h0M83.3 221.1h0M73.6 209.4h0M77 215.3h0M73 219h0M91 237.1h0M108 219h0M96.9 217.1h0M90 220.9h0M80.2 221.1h0M70.2 223.5h0M84.4 210.4h0M83.4 224.6h0M80.2 225h0M93.7 234.4h0M75.1 220.4h0M92.9 231.8h0M90.3 226.8h0M70.1 215h0M106 216.7h0M113.3 213.3h0M83.1 205.2h0M93.8 222.4h0M111.4 222h0M83.7 207.1h0M85.3 228.2h0M96.3 230.3h0M98.3 221.3h0M94.2 219.9h0M72.7 234.8h0M92 211.9h0M90.8 222.7h0M98.7 232h0M52.8 224.8h0M104.4 213.4h0M65.9 223.8h0M90.9 224h0M73.8 216.2h0M90.3 224.9h0M112.8 222.5h0M81.1 199.9h0M99.5 218h0M88.2 211h0M95.4 204.1h0M88.2 221.4h0M89.6 232.2h0M85.8 221.4h0M95.4 206.3h0M83.6 220.4h0M97.7 213.5h0M96.8 222.7h0M68.5 207.9h0M70.4 222.2h0M90.2 226.3h0M95.5 215.1h0M98.9 228.2h0M91.3 225h0M71.1 222.8h0M74.1 209.3h0M82.8 221.6h0M86.1 217.8h0M77 221.9h0M77.7 207.8h0M88.2 232.5h0M83.4 211.8h0M104.7 235.4h0M81.7 218.2h0M90.1 245.1h0M88.2 229.5h0M92.4 203.5h0M74 207h0M81.2 239.2h0M93 237h0M79.4 239.5h0M80.9 252h0M79 247.6h0M89.6 236.6h0M84 237.1h0M78.5 239.8h0M77.5 236.2h0M89.9 237.2h0M85.1 249.5h0M82.3 245.4h0M89.2 246.8h0M92.4 230.7h0M95 239.9h0M61.8 235.2h0M65.5 238.1h0M63.8 234.5h0M80.7 241.3h0M70.2 237.7h0M76.4 239.6h0M78.4 238.1h0M86.2 229.6h0M73.5 241.6h0M73.4 235.8h0M73.2 239.5h0M88.1 237.9h0M76.9 241.2h0M73.7 229h0M80.6 237.3h0M72.7 243.7h0M77.4 236.3h0M58.6 230.8h0M78.7 239h0M80.2 241.5h0M73.3 233.1h0M68 238.8h0M68 243.3h0M65.4 230.9h0M75.1 229.9h0M92.2 234.4h0M78.1 237h0M71.1 227.6h0M61.3 244.8h0M87.2 252.9h0M64 242.6h0M77.2 243.9h0M72.4 243.2h0M86.2 244.1h0M90.7 239.8h0M91 234.6h0M91.5 223.7h0M78.4 235.8h0M76.8 246.3h0M83.3 240.5h0M93 232.1h0M70 248.5h0M80.7 227.1h0M80.5 233.1h0M89.1 245.7h0M74.5 247.4h0M69.8 243.4h0M81.8 239.2h0M65.6 238.2h0M58 235.8h0M62.6 245.7h0M69.4 225.2h0M81.2 242.4h0M72.8 252.4h0M85.2 240h0M71.3 222.2h0M81.6 246.2h0M73 232.5h0M77.7 229.2h0M78.3 244.8h0M90.5 241.4h0M78.9 242.9h0M89.6 238.3h0M66.5 233.2h0M65.9 235.2h0M76.6 242.4h0M78.2 239.6h0M73.6 241.4h0M85.6 244h0M90.1 238.1h0M74.3 249.1h0M78.1 240.7h0M73.5 244.3h0M75.2 234.7h0M77.9 236.5h0M85.2 236.4h0M78.1 238.4h0M79.2 236h0M87.6 229.6h0M72.2 235.2h0M83 239.9h0M80.8 238h0M71.3 232.4h0M75.8 236.6h0M80.5 243h0M85.6 238.7h0M69.6 233.2h0M78.3 243.6h0M94.9 240.7h0M91.8 249.7h0M66.9 245.5h0M87.5 247.6h0M76.7 244.9h0M72.7 239.6h0M78.1 249.4h0M75.2 244.1h0M77.7 237.1h0M79.6 244h0M71.7 244.4h0M71 233.7h0M80.2 238.9h0M68.4 230.9h0M77.7 240.9h0M74.9 241h0M64.4 241.5h0M81.3 242h0M72.5 239.4h0M79 245.6h0M80.1 240.8h0M69.5 243.2h0M87.4 234.9h0M81.9 242.9h0M77.6 231.7h0M93 226.9h0M80.3 238.1h0M87.6 236h0M78.6 242.6h0M81 236.7h0M83.2 243.4h0M86 238.2h0M77.4 236.3h0M70.2 241h0M82.2 248.8h0M76.6 241.2h0M87.1 240.7h0M77.3 240.6h0M72.7 233h0M86.9 239.9h0M77.2 232.6h0M78.5 246.8h0M66.9 234.1h0M87.5 249.4h0M90.9 236.4h0M83.7 235.2h0M83 237.6h0M80.1 247.4h0M79.7 237.4h0M78.3 242.5h0M74.5 240.5h0M84.6 247.6h0M58.9 233.4h0M92.7 238.1h0M126 232h0M104.7 240h0M84.2 228.2h0M78.4 231.2h0M100.5 225.4h0M106.5 224.6h0M114.6 229.2h0M106.4 250.6h0M101.7 237.7h0M96.8 241.6h0M112.8 229.8h0M112.8 243.1h0M116.4 229.1h0M104.2 239.8h0M91.4 224.5h0M108.7 235.4h0M120.1 245.6h0M108.4 233.5h0M92.4 228h0M105.5 227.4h0M104.2 234.9h0M96.1 225.3h0M89.3 240.1h0M95.4 215.4h0M110.3 228.5h0M113.9 227.5h0M121.9 236.3h0M104.6 231.4h0M102.7 236.4h0M121.2 226h0M95.2 234.2h0M113.8 217.2h0M99 221.2h0M109.4 236h0M99.1 220.4h0M109.4 212.6h0M110.6 226.4h0M121 238.7h0M99.6 227.5h0M102.1 224.7h0M105.6 237.9h0M91.4 229.5h0M116.7 235.8h0M97.8 223h0M97.5 217.1h0M115.4 230.8h0M98.6 217.5h0M101.1 226.2h0M118.4 225.1h0M105.2 238.3h0M109.7 229.2h0M84.1 242.3h0M108.7 225.9h0M103.4 220.8h0M95.7 217.2h0M106.6 232.6h0M105.8 237.4h0M110.6 230.6h0M96.4 234.7h0M115.1 236h0M114.5 226.2h0M96.2 241.5h0M99.3 231.7h0M102.3 229h0M102.5 225.8h0M90.2 246.4h0M106 212.6h0M95.9 219.6h0M98.5 208.1h0M107.7 243.8h0M102.3 235.4h0M109.7 219.6h0M114.2 214.3h0M99.4 227h0M115.1 232.1h0M103.6 222.2h0M106 229.7h0M111.4 241.8h0M111.9 229.2h0M103.9 243.8h0M105.6 230.3h0M121.7 243.5h0M108.8 228.8h0M100.2 239.1h0M101.9 237.5h0M98.9 229.5h0M107.9 230.8h0M106.2 234.1h0M94.5 220.6h0M104.8 245.9h0M103.2 221.3h0M97.4 230.4h0M115.4 225.9h0M109.6 233.2h0M102.2 219.9h0M102.6 224.3h0M108.9 215.5h0M116.2 235.7h0M111.3 242.5h0M108.6 215.4h0M105.8 233.2h0M100 219.5h0M108.1 234.9h0M100.8 227.3h0M100.3 225.5h0M105.5 240.1h0M92.4 226.9h0M117 232.5h0M105.6 236.1h0M95.7 219.5h0M90.5 218.2h0M106 238h0M101.1 224.6h0M109 234.1h0M108 213.1h0M100.3 209.2h0M107.4 221.4h0M99.2 243.5h0M115.7 233.9h0M107 232.6h0M99.2 228.6h0M120 222h0M98.8 231.5h0M112.1 235.5h0M95.1 229.3h0M102.9 218.3h0M106 223.8h0M114.3 234h0M96.7 230.9h0M101.5 224.1h0M100.2 238.7h0M101 214.6h0M97.6 237.1h0M123.3 219.8h0M101.2 228.3h0M93.2 234.6h0M103.1 231.4h0M121.8 226h0M111 236.1h0M98.3 224.3h0M117.7 236.6h0M106.3 219.2h0M113.3 234h0M122.4 242.3h0M111.1 231h0M106.4 224.7h0M106.7 232.3h0M111.5 239.4h0M106.5 225.6h0M112.3 243.3h0M98 233h0M109.2 233h0M108.3 228.2h0M103.7 245.3h0M117.5 216.9h0M52.4 236.1h0M62 230.2h0M56.5 236.7h0M64 231.1h0M68.4 246.8h0M70.3 239.8h0M61.6 237.5h0M64.1 239.2h0M65.8 234h0M66.4 230.2h0M67 241.6h0M63 237.3h0M54.6 239.7h0M67 228.5h0M72.6 234.1h0M55.8 226.2h0M67.7 232.6h0M67.5 225.2h0M64.2 239.8h0M61.6 238.5h0M61.7 236.6h0M65.5 245.5h0M58.4 238.3h0M69.7 228.4h0M64.4 246.3h0M70.1 216.7h0M62.3 224.8h0M64.9 229h0M60.7 229.9h0M64.3 231.2h0M59.7 232.3h0M65 229h0M69.1 225.2h0M65.4 230.6h0M69.4 230.1h0M59.1 227.2h0M72.4 237.3h0M58.2 231.3h0M59.3 242.8h0M211.8 205.3h0M211.1 219.9h0M209 220h0M208 217.6h0M210.6 211.3h0M213.4 217.1h0M209.4 212.1h0M203.2 218.6h0M216 203.4h0M206 225h0M216 212.4h0M219.4 210h0M201.6 227.9h0M206.2 214.5h0M197.3 209.8h0M200.2 215.7h0M196.3 222.9h0M206.6 213.4h0M205.3 219.9h0M218.7 213.4h0M220.4 225h0M220.5 217.4h0M199.1 219.5h0M206.9 216.4h0M196.7 214.8h0M210.5 210h0M212.6 225.3h0M212 210.5h0M225.1 205.6h0M204.1 218.6h0M205.8 203.8h0M210.8 221.1h0M202.7 223.5h0M212.8 223.6h0M198.5 215.3h0M221.2 227.8h0M219.1 216h0M210.3 213.6h0M218.1 211.4h0M209.2 205.4h0M198.8 226.4h0M208.8 218.3h0M193.8 216.3h0M224.2 207.4h0M192.7 215.5h0M206 215.4h0M199.3 208h0M200.2 220.8h0M208.3 221.8h0M202.4 220.3h0M207.9 216.8h0M216.1 217.4h0M207 207.6h0M209.6 221.9h0M205 214.4h0M197.5 208.5h0M211.4 223.4h0M206.8 207.7h0M206.8 207.3h0M207.2 226.5h0M210.8 215h0M216.4 213.2h0M211.2 218.2h0M212.7 207.9h0M214.5 221.1h0M192 201.5h0M204.6 225.2h0M209.9 222.1h0M212.2 221.8h0M204.4 212.7h0M210.6 219.7h0M213.6 216.9h0M205.6 222.2h0M211.8 222.9h0M192.4 222.4h0M192.6 218.1h0M204.4 217.4h0M206.9 214.2h0M210.5 217.2h0M202 201.2h0M204.3 219.7h0M203.4 219.8h0M205.1 212h0M217.6 226.4h0M209.6 215.3h0M215.4 209h0M202.9 222.3h0M215.6 212.9h0M203.7 218h0M200.5 212.6h0M208 202.2h0M214.7 219.9h0M216.5 209.4h0M199.5 211.3h0M199.5 227.3h0M203.2 215.7h0M210.6 218.3h0M218.5 210.5h0M215.1 217.6h0M198.8 216.8h0M199.6 226h0M201.6 222.3h0M218.7 212.7h0M202.5 216.7h0M201.8 221.9h0M207.9 211.9h0M205 220.3h0M199.7 225.3h0M205.1 215.9h0M202.2 227.8h0M216.3 225.1h0M213 216.7h0M221.8 221h0M212.4 218.6h0M215.5 217.8h0M208.3 206.8h0M224 207.7h0M194.2 211.7h0M221.8 223.7h0M204.8 218.6h0M209.7 203.8h0M206.6 218h0M217.8 208.5h0M192.9 207.9h0M212.6 217.9h0M210.9 215.1h0M206.3 207.9h0M210.2 219.7h0M214.1 223.5h0M200.5 203.1h0M196.1 229.8h0M204 219.2h0M208.6 220.7h0M233.3 213.9h0M207.4 213.6h0M211.6 219.8h0M201.8 223.9h0M216 218.8h0M208 214.7h0M197 219.8h0M202.2 213.4h0M215.9 210.8h0M205.3 221.7h0M223 212h0M216.6 211.2h0M211 219.4h0M200.2 223.5h0M222.1 216.3h0M211 209h0M221.7 216.7h0M198.8 220.8h0M198.5 211.6h0M194.5 224.6h0M226.1 212.1h0M203.5 212h0M203.8 218h0M221.1 210h0M212.6 205.4h0M220.2 217h0M202.7 224.4h0M208.5 223.5h0M217.6 226.9h0M204.1 217.2h0M211.7 215.9h0M219.6 211.2h0M216.3 224h0M196 209.9h0M203.6 212.5h0M211 213.9h0M209.7 212.5h0M208.8 219.1h0M214.3 210.2h0M208 212.2h0M206.5 208.5h0M216.1 219.8h0M208.5 212.8h0M205.9 211.8h0M198.6 225.2h0M233.4 209.9h0M201.8 220.9h0M202.4 219.7h0M184.9 233.5h0M185 241.5h0M194.9 229.7h0M198.8 224.9h0M197.5 226.9h0M204.8 228.8h0M197.1 225.3h0M193.9 224.9h0M198.7 241h0M203.4 231.9h0M208.3 237.2h0M197.1 227.8h0M190.5 233h0M194.5 218h0M188.8 243.6h0M200.2 232h0M198.4 225.3h0M199.9 236.2h0M195.9 234.1h0M206.2 226.4h0M199.3 225.2h0M201.6 229h0M205.6 226.1h0M208.9 228.5h0M192.5 223.9h0M201.4 223.9h0M209.4 237.9h0M200.7 220h0M198.1 224.9h0M185.6 232.4h0M213 225.9h0M204 237.5h0M192.5 228.1h0M198.9 233.3h0M191 230.5h0M196.7 236.3h0M187 225.9h0M194.3 228h0M202.9 226.9h0M215.2 227.5h0M202.8 237.9h0M203.8 227.4h0M191.8 227.9h0M202.8 229h0M200.9 233.5h0M192.3 224h0M207.7 226.5h0M187 242.9h0M193.5 224h0M204 221.8h0M193.6 237h0M192.7 245h0M198.7 249.3h0M198.3 230h0M194.6 228.2h0M195 231.2h0M201.7 220.9h0M192.1 216.2h0M207.4 229.2h0M197.6 229.7h0M203.8 231.7h0M203.3 227.9h0M197.1 227.7h0M185.9 236.9h0M186.3 224.4h0M201 231.8h0M202.3 241.9h0M209.7 240.2h0M195.9 244h0M191.6 227.8h0M204.4 228.8h0M197.1 228.8h0M205.9 212.6h0M206.1 236.2h0M197 233.5h0M190.6 238h0M217.5 225.2h0M206.9 230.3h0M195.1 226.1h0M195.9 221h0M189.1 240.8h0M196.6 232.2h0M198.9 231.5h0M186.9 222.4h0M202.3 235.4h0M189.6 226h0M190.6 234.4h0M200.4 230.6h0M193.1 233.1h0M198.1 224.4h0M201 224.6h0M204.2 234.9h0M193.2 233.9h0M198.1 225.7h0M191.8 219h0M190.8 230.6h0M205.7 225.5h0M200.2 232.3h0M202.2 233.2h0M205.3 233.9h0M192.4 232.8h0M183.2 229.5h0M197.9 233.5h0M195.8 236.2h0M206.1 225.3h0M193.4 231.5h0M201.4 231.3h0M203.2 221.7h0M201.2 237.1h0M204.2 232.3h0M197.3 231.8h0M197.8 219.4h0M192.8 229.7h0M194.8 222.8h0M195.1 227.1h0M198.6 229h0M199 236.7h0M198.5 232.8h0M190.6 210.4h0M195.2 233.4h0M194.8 225.7h0M190.1 235.1h0M193 232.2h0M206.8 231.3h0M211.4 229.1h0M204.2 233.6h0M193.6 231h0M193.7 223.7h0M199.6 224h0M208.1 224.5h0M195.1 231.3h0M194.4 228.9h0M193.2 220.2h0M180.3 221.4h0M193.6 246.5h0M188.1 242.6h0M188.8 247.4h0M183.5 241.3h0M183.7 252.5h0M183.5 249.8h0M186.8 258.9h0M187.6 245.9h0M192.6 250.1h0M192.3 239.6h0M191.7 253.9h0M188 242.6h0M184 250h0M188.9 245.8h0M182.8 253.4h0M189.9 244.7h0M193.3 240.9h0M190.3 240.2h0M192.3 244.2h0M192.5 243.6h0M189.2 250h0M184.2 244.8h0M184.3 249.6h0M186.5 242.9h0M186.6 251.4h0M182.5 246.8h0M185.5 243.3h0M185.8 245.3h0M188.5 238h0M188.5 240.1h0M187.4 256.3h0M184.7 244.6h0M187.5 249.6h0M186.4 235.5h0M182 247.9h0M188 249.8h0M184.7 248.5h0M185.3 251.6h0M188.4 241.7h0M188 255.8h0M185.7 237.6h0M183.4 239.8h0M188.2 246.9h0M187.5 246.8h0M191.9 244.6h0M182.7 234.3h0M189.5 242h0M186.7 247.4h0M187.8 237.6h0M183.3 244.1h0M188 250.4h0M186.3 234.9h0M190.8 236.3h0M184.2 247.7h0M184.1 257h0M188.3 248.1h0M185.3 256.3h0M189.4 240h0M193.8 237.4h0M185.4 247.5h0M187.6 241.7h0M193.3 252.9h0M184.1 247.3h0M185.8 243.2h0M190.8 246.6h0M187.9 245.9h0M184.5 251h0M186.2 251.9h0M216.5 208.8h0M222.2 211.2h0M215.5 210h0M218.8 215.3h0M219.8 210.3h0M213.4 208.2h0M217.5 211.2h0M214.7 214.7h0M213 206.6h0M218.9 212.4h0M215.9 213.7h0M212 216h0M225 217.3h0M217.4 216.8h0M216.7 214.6h0M216.6 211.1h0M220.1 205.4h0M217.1 215.7h0M207.2 210.9h0M220 212.2h0M217 214.8h0M218.6 205.1h0M213.9 210h0M217.3 209.5h0M216.2 215h0M205.1 213.7h0M219 212.2h0M217.2 209.8h0M218.3 211.4h0M214.1 212h0M213.9 210.7h0M216.4 208.6h0M217.6 210.5h0M213.1 209.7h0M212.2 216.3h0M218.9 217.3h0M215.7 212.2h0M211.6 208.9h0M217.8 210.3h0M220.1 209.1h0M221.1 213.3h0M214.7 209.5h0M215.1 214.1h0M215.1 215.1h0M220.2 210.2h0M214.8 214.1h0M214.8 206.5h0M212 211.6h0M218.2 214h0M210 212.4h0M210.9 213.7h0M218.2 209.8h0M222.6 210.3h0M215.9 206.9h0M215 209.4h0M218.2 214.6h0M215.7 207.5h0M214.3 209h0M217 207.7h0M213 211.2h0M213.6 209.5h0M212 211.8h0M219 213.8h0M214.9 207.1h0M212.6 207.4h0M213.5 208.8h0M210.4 212.7h0M210.5 207.9h0M170.1 203.4h0M183.3 201.6h0M173.3 200.3h0M173.1 200.5h0M186.9 200.5h0M173 199h0M176.5 200.6h0M177.2 200.2h0M185.3 202.8h0M165.1 201.2h0M171.6 199.5h0M176.2 201.2h0M177.9 201.8h0M178.4 202h0M175.9 203.7h0M171.8 200.3h0M176.3 203.6h0M172.3 205.5h0M181.7 198.1h0M179.6 201.4h0M176.9 200.7h0M183 201.1h0M173.2 199.5h0M183.8 205.1h0M168.5 200.5h0M175.2 201.7h0M173.4 199h0M176.8 199.3h0M179.1 205.7h0M172.4 204.1h0M176.7 201.1h0M173.2 199.9h0M174.3 204.7h0M180.3 201.1h0M167.5 202.8h0M182.8 202.3h0M174.7 198.5h0M172.2 204.3h0M168.1 204.6h0M170.7 200.3h0M171.3 201.8h0M177.5 201.3h0M167.2 201.3h0M177.7 204.9h0M168.9 203.9h0M178.2 202.7h0M171.6 200.9h0M169 201h0M176.6 204h0M183.6 201.3h0M148.9 96.2h0M163.6 104h0M173.1 114.4h0M172.9 106h0M152.9 96.8h0M142.9 97.8h0M160.4 104.4h0M177.5 111.9h0M139.9 95.3h0M154 103.7h0M158.6 101.7h0M181.9 112.4h0M169.9 105.5h0M145.2 95.8h0M171.3 111.2h0M164.2 106.7h0M133.3 91.4h0M135.9 94.4h0M137.3 90.4h0M135.3 94.5h0M147.9 99.5h0M142.8 99.1h0M151.8 96.8h0M137.5 93.5h0M153.1 101.4h0M176.4 110.5h0M132.5 89.7h0M181.5 114.5h0M138.6 93.2h0M152.5 103.7h0M174.3 110.8h0M156.4 99.1h0M164.4 105h0M162.5 107.9h0M181.2 111.8h0M179.6 109.6h0M162.4 101.6h0M158.1 104h0M170.3 108.7h0M164 102.7h0M130.1 93.3h0M163.3 106.9h0M165.6 111.3h0M144.8 97.2h0M137.3 94.1h0M186.6 112.7h0M152.6 102.3h0M157 103.8h0M158.6 109.3h0M150.1 101.1h0M182.7 116.2h0M173.5 113.1h0M148.2 99.3h0M157.4 101.7h0M155.7 99.7h0M136.4 95.3h0M185 110.5h0M162.2 103.6h0M157.8 102.2h0M163.3 103.1h0M183.6 113.1h0M173.4 107.4h0M136.8 94.7h0M140.5 97.3h0M137.8 96.9h0M140.7 92.9h0M145.3 102.3h0M135.1 91.9h0M180.7 113.6h0M178.6 111.3h0M95 171.3h0M108.9 183.4h0M87.5 206.8h0M84 212.9h0M83.6 191.5h0M106.9 241.2h0M184.3 228.4h0M83.8 204.7h0M154 224.2h0M47.3 203.2h0M85.2 223.4h0M143.3 191.1h0M207.2 197.6h0M221.6 200.8h0M111.1 253.9h0M94.8 194.1h0M179.1 203.9h0M136.2 173.7h0M192.9 229.6h0M130.8 222h0M96.2 194.5h0M48.2 213.8h0M169 226.9h0M155.4 223h0M77.3 173.4h0M142.5 210.1h0M158.6 198.6h0M77.4 216h0M92.3 164.6h0M90.8 183.7h0M67.7 192.3h0M156.8 264.5h0M189.9 194.2h0M167 203.8h0M134 187.9h0M112.9 164.1h0M193 187.4h0M142.1 189.6h0M126.5 176.7h0M100.7 227.6h0M141.3 156.3h0M154 172.3h0M127.3 218.7h0M88.8 197.4h0M105.4 215h0M153.7 239.4h0M129.6 254.4h0M76.1 250.3h0M103.3 224.1h0M111.3 207.9h0M76.3 215h0M202.9 209.5h0M114.8 205h0M146.2 200.9h0M116.9 210.1h0M171.7 228.9h0M70.6 189.3h0M117.8 226.7h0M157 199.4h0M206.9 199.9h0M176.4 240.6h0M183.2 209.9h0M140.3 166.9h0M39.6 191h0M146.1 232.1h0M112 232h0M140.8 242.9h0M48.4 183.1h0M77.3 179h0M186.3 181.2h0M80.7 196.4h0M153.3 194h0M148.5 219.5h0M88.6 145.1h0M77.4 174.5h0M185.8 186.9h0M71.9 213.2h0M118.1 181.4h0M161.7 227.3h0M127.5 187.2h0M77.6 153.1h0M132.8 213.6h0M75.3 205.2h0M255.2 176.3h0M43.2 220.6h0M97.5 192.6h0M143.3 201.7h0M159.3 217.4h0M166.2 209h0M22.9 241h0M43.3 230.7h0M126.8 170.9h0M118.1 226.9h0M72.1 207.1h0M83.3 180.6h0M89.6 236.1h0M145.6 204.1h0M112.8 208.3h0M129.4 209.3h0M44.1 225.8h0M81.1 141.2h0M147.5 175.1h0M110.4 201.9h0M92 217.4h0M103.9 198h0M75.6 198.3h0M71 205.7h0M173.2 231h0M135.1 171.4h0M160 227.8h0M204 148.9h0M117.3 196.3h0M164.4 177.2h0M100.6 262.5h0M158.7 155.1h0M118.3 238.7h0M90.2 219.9h0M121.1 169h0M90.7 232.6h0M166.3 191.2h0M165.4 187.2h0M126.6 204.5h0M63.7 212.3h0M100.7 136.5h0M80.4 183.5h0M78.8 180.8h0M85.7 143.4h0M153.7 206.8h0M127.7 198.3h0M119.1 198.6h0M70.8 167.4h0M120.7 230.2h0M126.5 244.6h0M58.2 197.6h0M90.1 235.1h0M188.6 192.7h0M147.7 199.4h0M73.2 200.7h0M72.8 243.4h0M141 235.2h0M130.7 143.6h0M151.5 206.6h0M14.9 207.1h0M159.4 247.6h0M72 225.3h0M131.4 200.5h0M104.5 218.4h0M142.3 220h0M99.5 172.5h0M172.5 237.2h0M91.7 204.9h0M149.9 161.3h0M138.6 265.7h0M127.5 186.8h0M202.1 204.2h0M126.2 193.4h0M122.6 159.7h0M60 168.2h0M154.2 203.2h0M165.5 152.7h0M89.9 240.7h0M81.6 159h0M83.5 196.4h0M115.2 237.8h0M172 242.4h0M141.5 193.2h0M93.9 167.4h0M170.4 235.4h0M120.8 182.5h0M144 216.8h0" stroke="#c4c4c4" stroke-width="1.15" stroke-linecap="round" fill="none"/></g>
<linearGradient id="redbar" x1="0" y1="0" x2="0" y2="1"><stop offset="0" stop-color="#ff1a00"/><stop offset="0.5" stop-color="#e8735e"/><stop offset="1" stop-color="#c4c4c4"/></linearGradient>
<filter id="blur1" x="-50%" y="-200%" width="200%" height="500%"><feGaussianBlur stdDeviation="1"/></filter>
<linearGradient id="expbar" x1="0" y1="0" x2="0" y2="1"><stop offset="0" stop-color="#00ffff"/><stop offset="0.1" stop-color="#00e6e6"/><stop offset="0.3" stop-color="#008a8a"/><stop offset="0.5" stop-color="#000000"/><stop offset="0.7" stop-color="#580058"/><stop offset="0.9" stop-color="#d600d6"/><stop offset="1" stop-color="#ff00ff"/></linearGradient>
<pattern id="nucA" width="131" height="117" patternUnits="userSpaceOnUse"><path d="M17.6 99.1l0 0.1M85.4 92.3l-0.5 0.3M109.5 50.6l-0.1 0.1M30.5 27l1.3 0.9M115.6 99l0.6 0.3M66.6 91.1l1.3 0.6M68.2 46l0.3 0.2M106 60.7l0 0M74.7 23.4l0 0.9M88.2 9.7l0.6 0.4M22 31.9l-0.5 1M3.1 45.2l1.3 0.4M134.1 45.2l1.3 0.4M29.2 75.9l-0.2 0.7M40.1 100.4l-0.1 0.6M97.4 48.7l0.5 1.3M121.2 53.6l0 0M36.3 92.1l-1.5 0M119.7 113.5l-0.1 0.5M119.7 -3.5l-0.1 0.5M127 13l1.1 1M-4 13l1.1 1M84.7 48.8l0 0M20.9 89.6l-0.1 0.3M50.2 33.2l0 1M14.2 94.5l1.1 0.2M57.9 52.6l-0.2 0.9M109.1 56.7l0.1 0.1M90.4 47l0 0.4M93.5 95.4l0.1 0.2M24.5 6.5l-0.2 1.1M44.9 98l-1.1 0.2M7.9 109.4l0.6 0.4M77.4 40.9l0.2 0.1M19.8 107.5l0 0.2M129.4 84.2l0.8 0.8M-1.6 84.2l0.8 0.8M34.8 32.6l-1.2 0.5M11.1 26.3l-0.5 0.1M117.7 74l-0.4 0.4M62 47.2l-0.8 0.2M81.9 9l-0.2 0.2M83.1 99.1l0 0.1M34.9 23l-0.6 0.9M25.6 21.2l0.4 0.4M9.7 49.2l0.3 1.1M2 39.6l-1.2 1M133 39.6l-1.2 1M43.6 2.2l-0.1 0M43.6 119.2l-0.1 0M19.7 5l-0.9 0.5M28.8 33.5l-1.1 0.9M8.2 77l0.2 0.1M70.6 78.9l-0.9 0.3M0.6 56.3l-0.3 1M131.6 56.3l-0.3 1M101.3 35l-0.4 0.1M23.1 1l-0.5 0.8M23.1 118l-0.5 0.8M13 10.2l-0.2 0.8M68.5 35.7l0.6 0.7M70.4 2.6l-0.2 0.2M70.4 119.6l-0.2 0.2M83.2 43.9l0.6 0.3M62.5 33l-0.2 0.9M8.9 59.9l0.1 0.1M49.4 26.2l-1 0.6M26.8 11.6l0.1 0.6M75.6 59l0.3 0.1M49.2 105.1l-0.2 0.2M28.6 42.8l-1.2 0.7M60.9 79.4l0.6 1M44.3 92.3l-0.3 0.5M108 92l-0.9 0.7M107.9 22.8l-0.4 0.2M19.7 70l0.5 0.9M112.4 33.3l-0.8 0.1M52.1 85.9l-1.4 0.2M95.3 9.9l0 0.2M52.8 55.9l1.1 0.6" stroke="#838383" stroke-width="4.5" stroke-linecap="round" fill="none"/><path d="M100.1 29.8l0.4 0.3M64.9 52.6l0.5 0.3M12.3 3.3l-1 0.6M12.3 120.3l-1 0.6M123 44.6l0.1 0.9M3.8 25.9l-0.2 0.5M134.8 25.9l-0.2 0.5M57.4 58l-0.2 0.3M109.7 65.1l0.3 0.8M15.8 38.9l-0.6 0.3M49.1 51.4l0.5 0.5M5.7 82.3l0.7 1.1M128.8 69.4l0.9 0.5M-2.2 69.4l0.9 0.5M65.8 114.9l1 0.5M65.8 -2.1l1 0.5M102.7 96l-0.1 0.2M46.7 40.5l-1.1 0.5M45.1 8.1l-0.2 0.3M93.2 53.2l1.1 0.5M51.7 67.4l-0.1 0.2M7.7 34.9l-0.1 0.2M113.7 113.9l-1.2 0.3M113.7 -3.1l-1.2 0.3M26.3 38.3l1 0.1M119.3 24.9l0.4 0.2M119.1 34.4l-0.9 1.1M33.2 55.8l0.3 0.5M64.6 100.9l-1 0.3M117.1 16.6l1 0.4M105.3 106.1l0.1 0.9M110.1 87.3l0.2 0.3M90.3 20.8l1.2 0.7M118.8 107.4l0 0.5M112.2 104.9l-0.2 0.5M28.5 66.6l0.1 0M99.3 6.1l0 0M5.3 114.8l0.8 0.5M5.3 -2.2l0.8 0.5M86.4 81.9l1 0.4M32.9 80l0.5 0.7M64.5 75.8l0.3 0.1M92.8 102.3l-1 0.7M22.1 76.4l0.6 0.3M113.5 38.6l0.3 0.4M79.4 30.7l1.3 0M64.5 11.7l-1.1 0.5M99.4 17.8l0.2 0.2M35.8 13.7l0 0.1M20.6 43.3l0.1 0.4M97.8 42.3l0.1 1.2M117 49.8l0.3 1.2M101.8 56.8l0.1 0.6M43.9 104l-0.4 0.4M121.4 98.3l0.1 1M15.8 23.6l-0.9 0.3M17 65.5l0.2 0.6M94.7 25.7l-0.7 1M2.7 12.3l-1 0.3M133.7 12.3l-1 0.3M87.2 40l-1.2 0.1M46.7 76.5l0 0.1M59.5 102.6l0.3 0.1M64 107.9l0.2 0.3M52.4 12.3l-0.1 1.3M87.4 16.7l-0.5 1.4M34.8 112.5l-0.1 1M9.9 43.1l-0.9 0.8M41 80.2l0 0M45.6 47.3l-0.5 0.1M24.8 71.8l-0.6 0.2M97.5 105.6l-0.2 0.4M106 14.6l-0.1 0M30.4 16.7l-0.2 1.4M73.4 44.2l0.5 0.1M24.5 110.3l1 0M120 40l0.3 0.2M81.5 107.1l-0.1 0.1M122.9 6.9l0.8 0.3M104.7 85l-0.2 0.2M2.9 93.5l0 0.6M133.9 93.5l0 0.6M13.3 34.4l-0.1 0.1M123.6 30.9l0 0.1M81 2.4l0.1 0M81 119.4l0.1 0M12.3 114.8l-0.9 0M12.3 -2.2l-0.9 0M112.1 14.9l0.1 0.8M46.2 109.1l-0.4 0.3M66.4 96.1l-1 0.9M12 54.5l1.4 0.1" stroke="#929292" stroke-width="4.5" stroke-linecap="round" fill="none"/><path d="M99.9 0.2l-0.3 0.9M99.9 117.2l-0.3 0.9M28.4 49.4l-0.1 0.1M38 2.5l-0.2 0.6M38 119.5l-0.2 0.6M130 100.6l0.5 0.1M-1 100.6l0.5 0.1M108.7 78.4l0 0.2M100.9 63.1l-1.3 0.3M112.7 27.2l0.4 0.7M35.3 64.1l0 0.3M7.4 101.8l0.3 1.5M70.5 72.9l-0.8 1M2.2 1.7l-0.4 0.3M2.2 118.7l-0.4 0.3M133.2 1.7l-0.4 0.3M133.2 118.7l-0.4 0.3M19.2 84.1l-0.4 0.5M42.1 73.8l-0.1 1.4M107.3 112.6l1.1 0.1M129.3 91.6l-0.2 0.2M-1.7 91.6l-0.2 0.2M44.4 24.9l0.1 0.5M88.4 98l1.1 1.2M115.6 80.4l-0.2 0.2M11.1 19.9l0.4 0.9M44.6 34.1l1.3 0M116.7 66l0.6 0M108.4 1.4l1.3 0.7M108.4 118.4l1.3 0.7M129.4 49.3l-0.8 0.9M-1.6 49.3l-0.8 0.9M40.3 28.8l-0.1 0.8M85.4 75.3l0.9 0.9M31.9 8.5l-0.1 1.6M20.2 58.7l-0.2 0.9M124.3 20.3l0.6 1.3M107.6 37.4l0.2 1.5M51.8 39.6l0.8 0.4M78.7 47.8l-0.1 0M102.6 80l0 1M40 19.9l-0.1 1M81.2 62.1l-1 0.5M76.6 85.9l0 0M102.9 22.2l-0.3 1.3M94.1 35.7l-1.3 0.5M13.9 46.4l0.2 0M17 54.2l0.4 1M83.5 87.1l-0.2 0M82.7 113.4l0.2 0.2M82.7 -3.6l0.2 0.2M26.1 103l0.5 0.4M22 17.4l1.3 0.2M71.5 31.1l-1.2 1.1M26.4 87.4l0.2 1M52.7 109.6l0.6 0.5M2.4 20.1l-0.4 0.8M133.4 20.1l-0.4 0.8M72.4 49.1l-0.1 0.5M129.6 76.9l-0.3 0.8M-1.4 76.9l-0.3 0.8M19.5 48.4l0.3 0.9M89.7 26.5l-0.3 0.2M89 32l0.2 0M1.1 111.4l0.2 0.7M132.1 111.4l0.2 0.7M2.8 105l0.3 0.7M133.8 105l0.3 0.7M20.4 113.7l-0.2 0M20.4 -3.3l-0.2 0M122.6 84.8l-0.9 1M55.2 31.8l1.6 0.1M118.9 11l0.4 0.2M41.3 87.7l-0.5 0.7M77.1 77.6l-0.4 1.3M114.5 60l-0.9 1M15.8 111l0.1 0.4M56.7 8.7l1.1 0.4M60 64.6l-0.3 0.1M94.1 116.3l0.2 0.5M94.1 -0.7l0.2 0.5M108.3 30.3l0.2 0.3M32.7 70.6l1 0.7M126.1 109.1l-0.4 1.1M88.2 110.1l0 0.2M48 71.2l0.7 1.4M92.4 14.4l1.4 0.7M23.8 54.1l1.1 0.8M33 45.9l-0.3 0.1M49.7 93.2l-0.1 1.5M30.5 91.3l0 0M58.2 36.6l-0.2 0.1M64.4 60.1l-0.5 0.8M9.9 68.8l-0.4 0.3M14.7 89.5l-0.1 0.1M47.6 57.9l-0.3 0.4M26.6 82l-0.3 0.6M7.1 3.1l-0.4 1M7.1 120.1l-0.4 1M126.6 40.4l-0.2 0.4M79 20.2l-0.1 1.4M92.4 41.4l1.3 0.6M80 25.3l0.1 0.1M90.3 90.7l0.7 0.3M126 95.4l-1 0M44.6 114.3l0.8 1M44.6 -2.7l0.8 1M56.6 47.5l0.7 0.4" stroke="#5e5e5e" stroke-width="4.5" stroke-linecap="round" fill="none"/><path d="M58.3 84.4l0.8 0.1M118.1 3.6l1.3 0.4M118.1 120.6l1.3 0.4M94.5 83.2l1.2 0.9M39.7 68.7l-0.1 0.1M64.1 3.5l-1.1 0.1M64.1 120.5l-1.1 0.1M75.7 53.7l0 1.4M116.1 86.6l1.1 0.1M14.2 105.3l0.1 0.1M66.8 24.5l0.9 0.9M79.3 95.6l0.7 0.7M88.8 63.7l0.5 0.5M30.7 84.9l-0.5 0.9M99.4 70.2l0.3 0M40.2 38.3l-0.4 0.8M72.2 8.3l-1.3 0.4M14 60.2l-0.2 0.2M72 63.3l0 0.5M16.4 30.3l-1.6 0M89.9 85.6l-0.1 0.5M36.1 75.6l0.5 0.4M48.7 82.1l-0.8 1.1M105.8 73.5l-0.1 0.6M57.5 2.5l-0.1 0.5M57.5 119.5l-0.1 0.5M71.4 112.9l-0.7 1.1M122.8 91.5l1.5 0.2M71.3 17.8l-1 1.1M90.2 70.8l0.7 1.4M9.8 97.2l-0.4 0.8M81.5 37l0.4 0.7M47.3 87.9l-0.8 0.2M84.1 28.4l0 0M58.1 15l0 0.2M76.5 12.2l-0.9 0.1M70.2 104.9l1 1.2M75.4 116.1l0.8 0.7M75.4 -0.9l0.8 0.7M123.4 75.3l-1.5 0.5M126.6 26.8l0.3 0.8M109.3 10.4l1.2 0.2M71.4 98.7l-0.4 1.3M7 55.1l-1.1 1.1M88.2 104.3l-0.2 0.3M26.3 95.6l0.2 0.3M122.4 64.6l0.4 1.1M21.1 38l-0.5 1.3M37 85l0.9 0.7M57.9 42.6l-0.2 0.1M73.8 94.3l-0.6 0.9M98 87.7l0.4 0.1M82.2 15.8l0.5 0.5M52 61.1l-0.1 0.3M57.9 97.7l0.2 1.5M91.3 4.9l-0.8 0.2M14.7 80.2l-0.5 0.5M112.2 20l0 0M68.6 83.6l-0.9 0.1M34.6 40.9l0.4 0.1M128.1 5l-1.3 0.2M-2.9 5l-1.3 0.2M81.6 80.3l-0.3 0.1M3.2 32.6l0 0.1M134.2 32.6l0 0.1M4 50.2l1 0.7M135 50.2l1 0.7M8.9 14.3l0.6 0.2M72.3 88.4l0.3 0M120.8 79.6l-0.9 1M28 2.2l0 0.2M28 119.2l0 0.2M5.8 87.9l-0.1 0.2M60.6 26.3l0 1.6M99.7 12.6l0 0.9M94.6 73.3l-0.4 0.1M121.9 70.5l-0.1 0.2M126.2 58.4l0.5 0.1M117.1 29.8l-1.1 0.6M35.7 50.3l-0.6 0.7M61.4 19.1l0 0M21 95.4l0.5 0.8M78.4 90.5l0.4 0.1M31.2 103.3l-0.8 0.1M69.6 12.8l1.3 0.9" stroke="#6a6a6a" stroke-width="4.5" stroke-linecap="round" fill="none"/><path d="M30 110.6l-0.3 1.2M3.3 63.3l-1.6 0.3M134.3 63.3l-1.6 0.3M84.1 21.8l0 0.1M66.2 68.9l-1.2 0.5M104.5 48.5l-0.6 0.4M22.7 64.2l0.1 0.2M51.6 19.9l0.3 0.9M125.4 0.7l0.8 1.1M125.4 117.7l0.8 1.1M112.8 93.4l0.3 0.8M33.4 98.5l0.7 0.1M14.3 73.1l0.4 0.4M42.2 55.4l0.2 0.4M40.7 109.9l-0.2 0.2M33.1 1l-1 0.1M33.1 118l-1 0.1M92.2 59.5l-1.4 0M56.7 22.7l0.1 0.3M110.2 43.1l-0.1 0.1M113.6 70.7l0.4 0.2M125 103.8l1.2 0.1M49.6 113.5l0.2 0.4M49.6 -3.5l0.2 0.4M128.7 34.6l-0.1 1M-2.3 34.6l-0.1 1M128.4 63.5l0.8 1M-2.6 63.5l0.8 1M90.2 77.4l0 0M43.8 63.7l-1 1M75.8 69.7l-1.3 0.9M104.1 9l-0.3 0.5M46.5 16.2l-0.3 0.7M69.3 58.6l-0.9 1M6.3 8.4l0.2 0.7M35 106.8l0.2 0.4M58.3 108.1l0.5 1.1M82.2 70.9l1.1 0.2M75 36.4l0 0.2M39.9 46.7l0 0.2M78.4 103.2l-0.1 0.1M53.1 100.8l-0.4 0.3M86 2.3l-0.7 0.3M86 119.3l-0.7 0.3M56.6 89.1l-0.1 0.9M55.6 77.5l0.6 1M105.7 100.1l-1 0.8M76.6 4.7l0.9 1.3M60.8 93.1l-0.5 0.5M63.1 39.4l-0.1 0.2M38.5 59.4l-0.2 0.9M89.2 115.2l0 0.3M89.2 -1.8l0 0.3M10.1 84.8l-1.4 0.4M101.5 109.4l0.4 0.3M84 56l-1 0.2M51.8 45.5l0 0.4M27.2 59.4l0.1 0M103.1 90.8l1.5 0.2M19.4 12.6l1.2 0.8M15 15.2l0.2 0.1M39.8 10.3l0.2 0.3M66.5 19.2l-0.1 0.1M51.4 4.8l0.4 0.2M58.6 71.5l0.1 0M2.9 71.5l-0.7 0.2M133.9 71.5l-0.7 0.2M117.7 91.4l-0.1 0M114.3 7.4l-0.2 1.3M94.7 68.2l-0.4 1.2M77.9 111.2l-0.2 0M9.5 91.3l0.5 1M100.6 101.1l-0.2 0.8M94.3 109.9l0.1 0.2M115.8 54.8l0.1 0.4M102.8 43.3l-1.1 1M21.4 26.8l0.6 0.5M115.9 43.6l1.1 1.2M96.8 78l-0.2 0.7M58.9 114.1l-1 0.2M58.9 -2.9l-1 0.2M104.4 68l-0.3 0.2M53.4 73l-0.8 0.5M120.6 59l-0.4 0.1M64 86.4l-0.2 1M68.3 40.7l-0.3 0.6M88.2 52.3l-0.3 0" stroke="#767676" stroke-width="4.5" stroke-linecap="round" fill="none"/></pattern>
<pattern id="nucB" width="127" height="113" patternUnits="userSpaceOnUse"><path d="M121.4 107.1l0 0.4M106.1 83.2l-0.6 0.2M77 68.6l1.9 1.5M56.5 30.3l1.2 0.3M66.8 63.3l-1.4 1M85.7 20.5l2.2 1M58.6 59.9l-1.4 0.2M115.3 30.3l-0.5 0.3M39.6 23.5l-1.2 2.1M79.2 8.5l2.1 0.6M13.5 59l1.1 1.9M49 4.9l-1.8 1.2M13 50.6l1.6 0.7M111.1 14.4l0.9 0.6M12.2 71.8l0.3 0M12.7 20.5l-0.1 2.5M66.1 52.5l-0.4 0.2M77.5 32.7l0.1 0.6M52.2 54.9l1.2 0.7M113.7 111.7l2.2 1.1M113.7 -1.3l2.2 1.1M115 100l1.5 2M56.2 98.4l1.1 0.6M116.2 8.7l-0.1 0.1M23.7 108.6l-0.3 0M68.9 26.8l-0.3 0.1M22 16.6l0.1 0.4M104.4 59.1l2.2 1.1M112.4 77.1l1.8 0.5M1.6 98.4l0.4 0.8M128.6 98.4l0.4 0.8M111 66.8l0.5 0.5M29.6 58.5l-0.5 1.3M94.5 19.5l-1.6 1.4M32.3 86.4l-0.2 1.4M89.3 13.1l-1.4 2M51.6 63.3l-0.1 0.6M50 20.4l-1.1 0.8M54.1 107.7l-2.2 0.5M47.5 28.3l-2.6 0.2M123.5 10.7l0 0M-3.5 10.7l0 0" stroke="#b0aeb6" stroke-width="7.0" stroke-linecap="round" fill="none"/><path d="M7.2 9.6l0.6 1.6M30 2.7l0.5 0.8M30 115.7l0.5 0.8M96.9 89.2l0.1 0M63.6 94l-1 0.2M121.6 79.8l-1.2 1M3.9 50.7l-1.2 1.1M130.9 50.7l-1.2 1.1M74.3 44.4l-0.5 0.3M17.9 6.4l1.2 0.4M4.3 18.2l0.3 0.1M31.8 66.8l0.7 1.6M90.1 29l0 0M0.6 4l0.9 0.1M127.6 4l0.9 0.1M121.2 90.9l-0.2 2.1M2.2 106.6l0.5 0.4M129.2 106.6l0.5 0.4M24.3 90.9l1.9 1.5M48.1 70.4l-1.9 1.5M29.1 79.4l0 0.1M80.8 61.5l-2.1 0.7M19.6 30.3l-0.9 1.8M65.5 83.3l0.9 1.2M36 9.5l-0.4 0.2M105.2 9.1l-0.1 1.7M110.9 42.6l-0.2 1.4M84.3 2.7l-0.7 0.3M84.3 115.7l-0.7 0.3M66.3 42.9l-0.7 0.4M89 86.3l-1.7 1.9M11.2 30.1l1.5 1.7M27.3 10.2l-0.4 0.6M56.4 2.6l-1 1.8M56.4 115.6l-1 1.8M59.4 67.9l0.8 0.5M77.9 24.8l-0.9 2M31 16.9l0.6 2.3M40.9 102.9l-0.5 2.1" stroke="#94929a" stroke-width="7.0" stroke-linecap="round" fill="none"/><path d="M85.1 34.8l0 0M120.6 61.5l-0.1 0.5M48.3 100.8l0.6 0.5M64.8 112.9l0.5 0.9M64.8 -0.1l0.5 0.9M44.9 110.9l-0.3 2.4M44.9 -2.1l-0.3 2.4M62.2 104.5l1.8 0.5M28.2 36.7l0 0M94.6 6.6l-0.6 0.5M28.8 98.9l-0.9 1.9M53.7 81l-0.5 2.4M10.5 107.9l-1.5 0.7M78.1 83.9l0.8 1.5M2.3 63l-0.4 0.1M129.3 63l-0.4 0.1M39.3 72.5l0.1 2.5M101.4 30.4l1.4 0.1M85.2 77l-0.2 1.7M89.3 45.7l1.8 0.9M82.6 92.2l-1.3 0.8M92.6 68.5l-1.6 1.1M61.6 76.3l-0.3 0.8M101.3 71.1l2.4 0.8M35.2 108.2l0 0.6M47.5 40.2l1.2 0.9M40.2 94.7l1.2 1.3M42.3 60.8l2.3 1.1M99.9 50.6l0.3 1.2M61.4 8.4l-0.5 0M74.5 95.1l0.9 1.2M74.5 2.5l1.9 0.1M74.5 115.5l1.9 0.1M108.5 25.9l0.4 0.1M40.1 49.4l-2 0.9M20.4 99.5l1.5 1.7M40.9 82.4l-0.3 0.5M84.5 52.4l-0.6 1.2M47.7 48l-0.1 0M122.3 26l-2.3 0.4" stroke="#a2a0a8" stroke-width="7.0" stroke-linecap="round" fill="none"/><path d="M73.8 17.9l0.8 1.2M54.7 44.5l-0.8 2.1M91.8 112.4l1 0.1M91.8 -0.6l1 0.1M93.3 102.4l-0.5 0.7M122.2 18.2l1.8 0.5M95.8 80.8l1.5 0.4M114.3 52.1l-0.5 2.1M91.9 55l-1.1 0.3M4 40.9l-1.9 1.5M21.8 76l-0.2 0.2M103.3 17.8l-2.4 0.4M14.4 38.1l0.1 0.4M51.9 12.6l-0.4 0.7M24.4 64.6l1 0.8M81.4 108.4l0.2 0.5M122.2 37.4l-1.5 0.6M58.1 18.8l-0.2 0.1M101.3 1l-0.2 0M101.3 114l-0.2 0M104.5 94.4l-1.5 0.4M101.7 103.5l1 0.6M13.6 88.6l1.8 0.5M68.2 35.4l-1.7 0.6M41.1 33.1l0.3 0M67.7 71.3l0.3 1.4M56 88.5l-0.5 1.7M21.9 55.7l1 1.5M69.8 9.6l-0.6 0.4M85 68.6l-0.5 0M82 43.1l-0.1 0.2M33.8 30.8l-1.2 1.2" stroke="#86848c" stroke-width="7.0" stroke-linecap="round" fill="none"/><path d="M41.3 15.4l-0.5 1.2M113.5 90l-1.2 1M72.1 104l1.1 0.1M115.3 21.6l1.4 2M3.2 82.4l1 0.1M130.2 82.4l1 0.1M2.7 28.9l0.8 0.1M129.7 28.9l0.8 0.1M65.4 16.3l-0.8 0.3M29.5 50.3l0.8 0.8M29.4 24.6l-1.5 2.1M101.9 41.4l2.1 0.5M10.2 96.1l1.8 0.8M124.1 71.7l0.2 2M-2.9 71.7l0.2 2M20.6 43.1l0.3 0.6M47.3 86.8l-0.9 0M72.3 77.6l-2.3 1.1M85.8 99.5l-1.3 2M77.1 54.2l-0.8 2.2M123.7 47l0.3 1M-3.3 47l0.3 1M94.8 36l-0.8 1.6M35.8 40.5l1 0.5M14.9 79.6l0 0.7M3.3 90.4l-0.5 2M130.3 90.4l-0.5 2M59.9 38.3l-0.3 0.4M96.5 61.8l0 0.4M108.2 34l0.8 0.5M4.5 74.1l2 1.7" stroke="#78767e" stroke-width="7.0" stroke-linecap="round" fill="none"/></pattern>
<filter id="soft" x="0" y="0" width="100%" height="100%"><feGaussianBlur stdDeviation="0.75"/></filter>
<filter id="patchy" x="0" y="0" width="100%" height="100%" color-interpolation-filters="sRGB">
<feTurbulence type="fractalNoise" baseFrequency="0.018" numOctaves="2" seed="7" result="n"/>
<feColorMatrix in="n" type="matrix" values="0 0 0 0 0  0 0 0 0 0  0 0 0 0 0  -2.2 0 0 0 1.25"/>
</filter>
<filter id="fib" x="0" y="0" width="100%" height="100%" color-interpolation-filters="sRGB">
<feTurbulence type="fractalNoise" baseFrequency="0.02 0.09" numOctaves="3" seed="2" result="n"/>
<feColorMatrix in="n" type="matrix" values="0 0 0 0 0  0 0 0 0 0  0 0 0 0 0  2.2 0 0 0 -0.7"/>
</filter>
<filter id="blur6"><feGaussianBlur stdDeviation="6"/></filter>
<filter id="blur3"><feGaussianBlur stdDeviation="2.5"/></filter>
<filter id="blur12"><feGaussianBlur stdDeviation="12"/></filter>
<clipPath id="clipd1"><rect x="821.9" y="698.7" width="469.1" height="427.5"/></clipPath>
<clipPath id="tis1"><polygon points="821.9,698.7 1055.3,698.7 1092.8,716.3 1130.4,742.6 1152.9,753.9 1167.9,791.4 1182.9,802.6 1197.9,832.7 1220.4,847.7 1224.2,870.2 1243,889 1258,915.2 1265.5,930.2 1291,949 1291,1087.9 1265.5,1091.6 1224.2,1087.9 1186.7,1084.1 1149.1,1072.9 1122.9,1061.6 1092.8,1042.8 1074.1,1027.8 1036.5,1012.8 999,1005.3 942.7,999.7 886.4,1003.4 848.9,1001.6 821.9,1001.6"/></clipPath>
<clipPath id="clipd2"><rect x="1315.4" y="697.8" width="468.6" height="427.2"/></clipPath>
<clipPath id="tis2"><polygon points="1455,697 1785,697 1785,1126 1395,1126 1389,1095 1372,1067 1343,1024 1315,994 1315,856 1332,845 1372,816 1409,765 1432,728"/></clipPath>
<pattern id="dots" width="5.5" height="5.5" patternUnits="userSpaceOnUse"><rect width="5.5" height="5.5" fill="#fff"/><rect x="2" y="2" width="1.3" height="1.3" fill="#444"/></pattern>
<linearGradient id="jetg" x1="0" y1="0" x2="1" y2="0"><stop offset="0%" stop-color="#0c1a80"/><stop offset="10%" stop-color="#0a4aa0"/><stop offset="20%" stop-color="#1190c8"/><stop offset="33%" stop-color="#10f5ff"/><stop offset="42%" stop-color="#50f0b0"/><stop offset="50%" stop-color="#90e070"/><stop offset="58%" stop-color="#c8e040"/><stop offset="67%" stop-color="#ffe000"/><stop offset="78%" stop-color="#ffa500"/><stop offset="88%" stop-color="#ff7000"/><stop offset="100%" stop-color="#ff2000"/></linearGradient>
</defs>
<rect width="1864" height="2547" fill="#fff"/>
<text x="3.5" y="25" font-size="32" font-weight="bold" fill="#231f20">a</text>
<text x="690.5" y="25" font-size="32" font-weight="bold" fill="#231f20">b</text>
<text x="2.5" y="662" font-size="32" font-weight="bold" fill="#231f20">c</text>
<text x="688.5" y="661" font-size="32" font-weight="bold" fill="#231f20">d</text>
<text x="692" y="1265" font-size="32" font-weight="bold" fill="#231f20">e</text>
<text x="1300" y="1265" font-size="32" font-weight="bold" fill="#231f20">f</text>
<text x="0" y="1774" font-size="32" font-weight="bold" fill="#231f20">g</text>
<rect x="8.2" y="42" width="627.6" height="495" fill="none" stroke="#2a2a2a" stroke-width="1.8"/>
<rect x="148.8" y="57.6" width="48" height="29" fill="#ebe7ee"/>
<text x="172.8" y="83.6" font-size="29" text-anchor="middle" fill="#1a1a1a">FN1</text>
<use href="#umapbase" x="0" y="0"/>
<path d="M113.7 135.4h0M107.9 126.4h0M119.4 132h0M121.7 143.8h0M105 141h0M120.7 136.8h0M101.6 129.9h0M114.3 128.9h0M117.9 136h0M117 140.9h0M125.7 128.2h0M115.6 139.3h0M118.9 143.9h0M134.7 132h0M98.5 126.5h0M104.6 134.1h0M122.5 134.3h0M119.7 108.7h0M120.1 139.7h0M97.4 141.7h0M103.9 124h0M116.9 136.3h0M112.5 132h0M116.7 133.8h0M116 118.6h0M129.2 129.5h0M123.2 131.2h0M121.3 130.8h0M103.2 130.9h0M109.6 117.1h0M128.4 106.3h0M122.1 156.2h0M121.8 120.5h0M127.8 121.4h0M118.8 151.8h0M122.1 140.5h0M109.3 139.3h0M111.3 155.7h0M109.6 131.3h0M117.8 129.1h0M125 112.7h0M100.2 129.6h0M115.5 128.6h0M109.9 134.3h0M103.4 122h0M106.6 121.3h0M101.8 119.7h0M90.6 123.2h0M101.9 117h0M95.9 126.4h0M108.4 126.9h0M97.8 121.4h0M130.1 122.5h0M139 146.1h0M127.7 123.8h0M118.6 104h0M136 124.3h0M117.3 121.8h0M127.4 128.5h0M130.6 140.8h0M146.5 129.9h0M134.2 109.9h0M130.2 101.5h0M110.2 150.1h0M107.4 154.8h0M107.1 153.7h0M104 139.9h0M112.5 144.9h0M122.3 157.6h0M115.8 145.2h0M105 146.2h0M131.4 104.5h0M128 93.7h0M127.5 99.5h0M132.4 98.8h0M125.9 99.3h0M133.5 97.1h0M128.1 96.8h0M126.3 138.2h0M133.2 148h0M141.4 135.7h0M141 140.2h0M196.4 153.8h0M185.6 144.8h0M185.5 147.6h0M196.3 148.6h0M186 145.8h0M191.7 161.9h0M180.2 156.1h0M176.5 151.9h0M177.1 157.1h0M202 157.6h0M183.9 135.9h0M181.7 156.9h0M199.3 146.2h0M180.8 145.3h0M188 141.8h0M179.8 153.8h0M193.7 139h0M181.6 133.4h0M184.9 149.1h0M189.5 145.4h0M180.9 151h0M185.8 159.9h0M188.1 140.7h0M188.3 144.2h0M173.2 141.7h0M192.5 141.9h0M185.6 153.4h0M180.1 154.3h0M187.4 149.4h0M194 149h0M204.7 153.4h0M190.2 142.8h0M187.4 141.3h0M185.6 149.8h0M172.9 143.2h0M187.8 146.4h0M197.8 159.9h0M185.3 158h0M206.2 143.4h0M186.3 151h0M186.5 156.2h0M187.5 145.4h0M190 150.3h0M187.2 131h0M177 140.2h0M185.2 152.2h0M182.1 149.4h0M185.9 151.6h0M187.5 146.9h0M195.9 136.4h0M197.9 158.2h0M190.4 139.7h0M186.1 152.4h0M184.4 140.6h0M193.4 159.8h0M187.4 153.1h0M189.3 143.4h0M180.2 163.9h0M198.7 153h0M184.4 144.7h0M172.5 165.3h0M201.6 147.6h0M185.6 141.8h0M188.1 142.5h0M186.2 148.3h0M189.8 140.7h0M189.2 155.7h0M183.9 146.7h0M185.8 143.6h0M180.5 142.3h0M179.1 141.6h0M189.5 140.8h0M186.2 145.9h0M194.3 135.4h0M184.9 147.5h0M191.4 144h0M190 162.4h0M182.7 150.3h0M192.7 149.6h0M182.8 159.7h0M182.8 147.5h0M189.5 147.4h0M186.4 151.8h0M179.7 144.9h0M193.6 141.3h0M190.3 135.2h0M211.5 148.1h0M197.9 144.3h0M183.6 149.3h0M211.9 130h0M215.6 143.9h0M205.5 148.6h0M195.2 143.7h0M210 140.1h0M216.9 137.6h0M207.8 139.9h0M211 138.9h0M216.8 136.7h0M202.9 149.5h0M202.4 140.4h0M208.7 143.4h0M215.2 145.6h0M193.2 137.8h0M207.4 150.6h0M202 144.9h0M207.5 149.1h0M196 137.8h0M206.8 142h0M211.6 134.6h0M213.7 143.7h0M192.1 144.5h0M219 137.3h0M197.5 148.3h0M192.1 132.2h0M204.5 130.5h0M206.5 132.8h0M207.7 140.4h0M206.2 131.8h0M210 127.1h0M197 145.8h0M194.2 141.1h0M209.2 143.4h0M202 138.2h0M214 130.3h0M188.9 146.1h0M194.6 139.9h0M199.4 147.9h0M193.2 152h0M211.6 145h0M197.2 145.3h0M221.2 139h0M214.8 134h0M207.7 144.6h0M196.8 134.4h0M188.9 157.1h0M191.9 147.7h0M202.2 137.7h0M193.8 141.9h0M205 149.3h0M209.2 143.1h0M204.4 136.8h0M209.8 141.9h0M190.1 139.4h0M193.2 134.1h0M205.3 134.8h0M204.1 134.3h0M198.7 137.5h0M186.8 132.5h0M185.2 142h0M204.6 134.7h0M198.5 152.6h0M190.1 141.6h0M202.1 145.7h0M212.4 139.5h0M216.4 149.4h0M202.2 143.9h0M207.5 144.7h0M189.8 145.1h0M205.5 136.9h0M210.1 155.8h0M197.9 140.5h0M203.8 134.7h0M215.1 136h0M200.6 145h0M200 137.9h0M233.8 142.4h0M232.6 136.1h0M222.5 135.2h0M225.5 137.6h0M236.8 123.6h0M230.3 133.8h0M217.4 136.1h0M238.5 140.4h0M230.5 134.1h0M232.1 124.9h0M226.3 128.3h0M216.7 133.9h0M232.9 123.8h0M232.1 131.6h0M226.7 128h0M224.1 126.1h0M227.2 119.1h0M234.7 129.2h0M225.4 118.9h0M221.2 126.7h0M236.4 133.1h0M220.3 134.2h0M224.6 138.2h0M220.5 129.6h0M225.1 132.3h0M223.1 142.3h0M213.5 129.1h0M218.8 126.7h0M223.6 134.4h0M230 139.1h0M221.8 135.5h0M224.9 134.5h0M235.6 136.3h0M236.1 129.9h0M231.7 135.2h0M223.6 133.7h0M235.9 127.4h0M237.9 133.3h0M232.6 140.8h0M225.4 135.1h0M215.4 127.1h0M231.5 122.4h0M227 129.4h0M233.4 122.3h0M224.9 139.5h0M222.5 136.2h0M221.3 128.6h0M242.3 128.3h0M222.8 123.8h0M224.7 136.4h0M223.8 124.9h0M236.5 134.7h0M218.7 133.8h0M222 130.2h0M219.4 131h0M228.4 116.8h0M226.1 119.2h0M234.4 122.2h0M229.5 114.2h0M228.6 116h0M232 115.5h0M233.4 113.9h0M227.9 111.4h0M233.8 119.4h0M231.2 122.6h0M231.4 118h0M232.6 122.4h0M229.7 118.6h0M230.8 116.2h0M252.1 140.8h0M250.6 139.7h0M252.7 139.8h0M246.8 136.8h0M248 141h0M239.4 138.1h0M243.2 135.7h0M244.8 138.7h0M245 140.6h0M247.1 137.4h0M249.2 141.7h0M245.5 140h0M244.5 138.4h0M251.1 139.4h0M241.9 141.5h0M252.5 139.5h0M247.1 137.6h0M245.3 137.6h0M247.4 133.6h0M244.9 137.7h0M246.2 139h0M243.5 137.7h0M246.9 138.8h0M252.3 139.6h0M246.2 139h0M191.7 160.6h0M195.8 162.3h0M198.1 160.9h0M191.3 162.7h0M195.2 161.2h0M196.7 150.5h0M192.4 166.2h0M187.7 164.1h0M196.6 166.2h0M194.8 161.9h0M196.9 166.7h0M198.9 167h0M193.6 164.7h0M197.6 169.5h0M195.1 162.2h0M194.7 160.8h0M193.1 176.4h0M200.3 171.5h0M196.4 172.4h0M191.7 184.9h0M197.5 173.2h0M196.3 163.2h0M194.6 169.6h0M198.2 177.5h0M191.7 173.6h0M191.8 182.3h0M195.9 171.6h0M195.5 184.1h0M191.9 185h0M191.3 180.3h0M188.5 192.8h0M190 175.4h0M193.4 190.5h0M191 182.7h0M190.8 190.9h0M192.8 189.5h0M190.6 182.8h0M189.3 187.4h0M191.8 184.2h0M189.4 185.7h0M189.5 171.9h0M195 177.8h0M189.3 184.4h0M190.5 183.1h0M190.4 190.1h0M73.1 193.2h0M77.2 192.2h0M72.9 193.2h0M72.3 194.3h0M65 199.4h0M80.1 198.8h0M72.4 196.3h0M78.4 216.7h0M62.2 221.8h0M84 218.8h0M86.5 234.8h0M65.7 221.4h0M103.6 211.6h0M100.3 228.5h0M80.5 208.3h0M65.4 235.4h0M90 213.2h0M93.4 217.6h0M69 201.2h0M74 217h0M92.5 205.1h0M73 219h0M92.9 231.8h0M98.7 232h0M71.1 222.8h0M77 221.9h0M81.7 218.2h0M92.4 203.5h0M82.3 245.4h0M77.2 243.9h0M76.8 246.3h0M80.5 233.1h0M78.3 244.8h0M73.5 244.3h0M80.2 238.9h0M77.2 232.6h0M121.9 236.3h0M118.4 225.1h0M114.5 226.2h0M99.3 231.7h0M102.3 229h0M111.4 241.8h0M116.2 235.7h0M109 234.1h0M96.7 230.9h0M106.3 219.2h0M112.3 243.3h0M64.4 246.3h0M58.2 231.3h0M59.3 242.8h0M211.8 205.3h0M209.4 212.1h0M203.2 218.6h0M216 203.4h0M206.2 214.5h0M197.3 209.8h0M218.7 213.4h0M220.5 217.4h0M199.1 219.5h0M206.9 216.4h0M210.5 210h0M212.6 225.3h0M225.1 205.6h0M202.7 223.5h0M212.8 223.6h0M221.2 227.8h0M219.1 216h0M210.3 213.6h0M209.2 205.4h0M198.8 226.4h0M208.8 218.3h0M193.8 216.3h0M224.2 207.4h0M207.9 216.8h0M197.5 208.5h0M211.4 223.4h0M206.8 207.7h0M206.8 207.3h0M207.2 226.5h0M216.4 213.2h0M211.2 218.2h0M192 201.5h0M204.6 225.2h0M209.9 222.1h0M212.2 221.8h0M204.4 212.7h0M211.8 222.9h0M192.4 222.4h0M204.4 217.4h0M206.9 214.2h0M210.5 217.2h0M202 201.2h0M204.3 219.7h0M203.4 219.8h0M215.6 212.9h0M203.7 218h0M199.5 211.3h0M210.6 218.3h0M215.1 217.6h0M198.8 216.8h0M199.6 226h0M218.7 212.7h0M202.5 216.7h0M201.8 221.9h0M205 220.3h0M212.4 218.6h0M215.5 217.8h0M221.8 223.7h0M204.8 218.6h0M217.8 208.5h0M212.6 217.9h0M210.2 219.7h0M196.1 229.8h0M204 219.2h0M201.8 223.9h0M216 218.8h0M215.9 210.8h0M205.3 221.7h0M211 219.4h0M222.1 216.3h0M198.8 220.8h0M198.5 211.6h0M226.1 212.1h0M203.5 212h0M221.1 210h0M220.2 217h0M202.7 224.4h0M208.5 223.5h0M204.1 217.2h0M211.7 215.9h0M219.6 211.2h0M196 209.9h0M208 212.2h0M206.5 208.5h0M208.5 212.8h0M198.6 225.2h0M233.4 209.9h0M201.8 220.9h0M202.4 219.7h0M185 241.5h0M197.5 226.9h0M204.8 228.8h0M203.4 231.9h0M208.3 237.2h0M197.1 227.8h0M194.5 218h0M188.8 243.6h0M200.2 232h0M198.4 225.3h0M199.9 236.2h0M195.9 234.1h0M199.3 225.2h0M208.9 228.5h0M209.4 237.9h0M200.7 220h0M198.1 224.9h0M198.9 233.3h0M187 225.9h0M202.8 237.9h0M192.3 224h0M193.5 224h0M204 221.8h0M192.7 245h0M195 231.2h0M201.7 220.9h0M207.4 229.2h0M197.6 229.7h0M185.9 236.9h0M201 231.8h0M202.3 241.9h0M209.7 240.2h0M195.9 244h0M204.4 228.8h0M205.9 212.6h0M206.1 236.2h0M195.1 226.1h0M189.1 240.8h0M202.3 235.4h0M201 224.6h0M205.7 225.5h0M200.2 232.3h0M205.3 233.9h0M206.1 225.3h0M203.2 221.7h0M201.2 237.1h0M197.8 219.4h0M195.1 227.1h0M199 236.7h0M193 232.2h0M206.8 231.3h0M211.4 229.1h0M204.2 233.6h0M208.1 224.5h0M195.1 231.3h0M193.2 220.2h0M183.7 252.5h0M187.6 245.9h0M192.6 250.1h0M188 242.6h0M188.9 245.8h0M184.2 244.8h0M184.3 249.6h0M186.6 251.4h0M185.8 245.3h0M188.5 240.1h0M187.5 249.6h0M186.4 235.5h0M184.7 248.5h0M185.3 251.6h0M183.4 239.8h0M191.9 244.6h0M189.5 242h0M187.8 237.6h0M188.3 248.1h0M189.4 240h0M193.8 237.4h0M187.6 241.7h0M193.3 252.9h0M185.8 243.2h0M184.5 251h0M186.2 251.9h0M216.5 208.8h0M215.5 210h0M219.8 210.3h0M214.7 214.7h0M213 206.6h0M215.9 213.7h0M220.1 205.4h0M217.1 215.7h0M217 214.8h0M205.1 213.7h0M219 212.2h0M218.3 211.4h0M217.6 210.5h0M213.1 209.7h0M212.2 216.3h0M215.7 212.2h0M211.6 208.9h0M220.1 209.1h0M214.7 209.5h0M215.1 214.1h0M215.1 215.1h0M218.2 214h0M210 212.4h0M210.9 213.7h0M218.2 209.8h0M215.7 207.5h0M214.3 209h0M217 207.7h0M213 211.2h0M213.6 209.5h0M212.6 207.4h0M213.5 208.8h0M210.4 212.7h0M210.5 207.9h0M173.3 200.3h0M177.2 200.2h0M178.4 202h0M176.3 203.6h0M172.2 204.3h0M183.6 201.3h0M152.9 96.8h0M139.9 95.3h0M154 103.7h0M181.9 112.4h0M145.2 95.8h0M164.2 106.7h0M142.8 99.1h0M137.5 93.5h0M176.4 110.5h0M181.5 114.5h0M152.5 103.7h0M174.3 110.8h0M162.5 107.9h0M144.8 97.2h0M137.3 94.1h0M182.7 116.2h0M155.7 99.7h0M136.4 95.3h0M162.2 103.6h0M157.8 102.2h0M173.4 107.4h0M154 224.2h0M179.1 203.9h0M155.4 223h0M67.7 192.3h0M126.5 176.7h0M154 172.3h0M76.1 250.3h0M111.3 207.9h0M76.3 215h0M157 199.4h0M48.4 183.1h0M80.7 196.4h0M88.6 145.1h0M118.1 181.4h0M127.5 187.2h0M255.2 176.3h0M143.3 201.7h0M43.3 230.7h0M118.1 226.9h0M72.1 207.1h0M83.3 180.6h0M89.6 236.1h0M135.1 171.4h0M121.1 169h0M126.6 204.5h0M63.7 212.3h0M119.1 198.6h0M90.1 235.1h0" stroke="#f3a092" stroke-width="1.15" stroke-linecap="round" fill="none"/>
<path d="M115.6 123.4h0M130.8 109.5h0M108.2 142.3h0M130.3 126h0M135.4 135.6h0M88 125.4h0M116.7 140.5h0M123.8 146h0M123.5 133.6h0M131.6 130.4h0M116.3 141.7h0M96.2 142h0M119 120.3h0M124.5 138.9h0M119.4 156.9h0M119.4 138.1h0M119 141.4h0M116.6 134.2h0M106.5 118.9h0M122.9 133.9h0M112.1 123.3h0M114.9 121h0M122.3 128.5h0M124.3 129.5h0M119.6 136.6h0M116.7 139.1h0M135.8 126.3h0M97.8 145.9h0M117.8 139.9h0M130.2 127.5h0M118 121.3h0M103.8 124.4h0M111.4 127.5h0M99.3 118.2h0M100.5 125.6h0M101.3 124.6h0M100.3 122.5h0M111.4 104.2h0M134.7 120.5h0M125.2 123h0M135.8 125.2h0M126.2 116.9h0M133.7 116.4h0M140.6 126.8h0M139.1 124.3h0M132.2 128h0M130.3 115.7h0M130.8 114.7h0M136.2 118.2h0M113.1 144.7h0M110.6 155.7h0M110 147.5h0M110.1 154.1h0M113.2 154.1h0M119.5 146.4h0M120 147.8h0M112.4 158.7h0M120.4 99.5h0M131.2 93.2h0M131.1 92.4h0M123.4 102.4h0M128.4 95.5h0M127.3 99.7h0M124.6 92.4h0M130.1 139.7h0M129.8 133.5h0M136.8 137.9h0M185.8 149.1h0M197.5 162.2h0M197.9 156.3h0M189.4 150.1h0M186.4 145.1h0M179.4 139.4h0M171.3 151.1h0M182.8 148.5h0M194.7 158.1h0M180.9 142.9h0M194.7 144.1h0M172.9 154.5h0M180 154.9h0M190.9 135.3h0M180 145.4h0M174.7 143.2h0M178.6 142.3h0M194.3 156.1h0M188 144.7h0M181.4 145.1h0M183.5 148.9h0M195.8 144.2h0M187.1 149.9h0M175.9 134.7h0M181.9 149.2h0M197 139.2h0M187.3 137.8h0M174 130.9h0M190 153h0M200.7 152.1h0M190.3 166.7h0M186.1 156.4h0M181.4 149h0M185 153.1h0M190 152.5h0M188.5 148.7h0M186.3 147.7h0M185.5 154.2h0M184.3 140.2h0M192.1 145.8h0M178 150.6h0M193.6 156.2h0M192.2 135.3h0M177 148.3h0M185.8 161.5h0M184.7 142.9h0M189.5 148.7h0M178.6 148.4h0M204 144.8h0M201.3 141.8h0M205.4 137.7h0M213.1 134.1h0M188.6 151.2h0M206.3 146.8h0M211.5 127.1h0M225.7 136.2h0M221.1 138h0M211.5 126.7h0M186.2 135.5h0M214.2 147.3h0M203.8 145.4h0M212.5 133.6h0M194.9 142.3h0M209.6 136h0M200.7 151.1h0M209.5 142.9h0M209.4 133.3h0M209.3 129.8h0M209.1 140h0M182 140.8h0M196.9 137.2h0M200 137.4h0M196.6 142.4h0M209.6 127.2h0M213.3 147.2h0M210.9 141.1h0M175.6 135h0M200.5 135.4h0M189.1 134.3h0M215.8 139.1h0M208.8 145.1h0M201.8 139.3h0M216.5 123.1h0M208.9 145.1h0M195.1 141.1h0M211.1 142.3h0M211.5 135.4h0M177.1 138.5h0M197.2 136.8h0M205.9 141.7h0M221.8 150h0M188 131h0M207.5 145.3h0M197.6 140.3h0M202.4 141.6h0M201.4 134.7h0M212.1 148.7h0M207.5 138.7h0M196.8 148.5h0M225.5 140.7h0M217.3 135.2h0M219.8 130.1h0M221.4 139.1h0M231.6 126.4h0M223.2 128.3h0M225.9 121.9h0M224.8 135.2h0M233 132.8h0M224.7 128.5h0M226.9 131.2h0M226.3 132.4h0M230.5 142.6h0M236.7 128.6h0M230.7 129.3h0M236.6 129.5h0M222.6 133.8h0M227.7 136h0M232.5 129.2h0M232.1 136.3h0M231.2 137.4h0M229.8 122.1h0M231.8 131.6h0M221.9 132.1h0M228.7 131.5h0M238.4 130.5h0M223 125.6h0M224.9 133.5h0M231.1 138.7h0M236.2 119.7h0M232.2 122.6h0M229.3 126.7h0M226.9 133h0M219.3 131.1h0M229.5 134.8h0M223.1 130.3h0M209.3 136.9h0M220.9 132.4h0M219.4 131.1h0M220 121.4h0M223.3 136.1h0M223.3 135.7h0M228 130.1h0M234.2 128.3h0M222.2 127.6h0M218.5 141.3h0M221.4 135.5h0M229.5 134.8h0M234.8 126.7h0M229.9 122h0M232.9 121.7h0M233.3 116.9h0M231.9 116.4h0M233.3 118h0M230.3 121.2h0M229.3 109.2h0M226.9 115.3h0M232.9 123.1h0M231.3 121.4h0M230.3 119.7h0M254.5 141.9h0M245.6 137.4h0M245 140h0M250.4 136.4h0M250.8 143.2h0M246 138.5h0M253.8 137.7h0M247.6 138.5h0M233.6 138.1h0M249.4 137.9h0M254.9 136.7h0M250.4 134.9h0M244.4 137.4h0M251.6 141.8h0M240.1 143.9h0M248.7 138.3h0M247.3 136.1h0M253.8 138.1h0M234.9 136.1h0M251.4 141.3h0M238.7 135.4h0M244.3 137.4h0M250 138.2h0M196.3 166.7h0M194.7 169.2h0M196.4 167.7h0M189.6 164.2h0M195.4 161.4h0M190.1 168.2h0M198.7 165.6h0M195.8 163.9h0M199.4 164.3h0M200.6 166h0M197.2 160.2h0M200.3 169.1h0M189.6 171.2h0M200 168.7h0M199.9 162.6h0M195.2 158h0M200.1 174.9h0M197 154.9h0M189.8 166.1h0M197.8 173.2h0M189 160.2h0M191.8 184.4h0M198.6 184.9h0M194.9 186.8h0M193 185.5h0M190.8 195.1h0M192.9 177h0M193.4 184.1h0M187.5 179.7h0M187.3 188.5h0M190.9 186.1h0M75.7 198.3h0M76 199.1h0M76.2 198.8h0M62.6 195.8h0M75.6 199.2h0M72.3 200.2h0M79.2 198.4h0M66.7 198.7h0M81.8 218.7h0M92.4 221.6h0M85.5 237.9h0M97.8 233.8h0M86.9 235.3h0M84.5 214.4h0M71 241.8h0M79.9 214.4h0M89.9 227h0M80.3 213.2h0M84.1 224.9h0M95.5 228.4h0M78.3 224.6h0M88.4 223.9h0M99.6 222.7h0M90 220.9h0M70.2 223.5h0M83.1 205.2h0M77.7 207.8h0M88.2 232.5h0M89.2 246.8h0M92.4 230.7h0M78.1 237h0M87.2 252.9h0M81.2 242.4h0M74.3 249.1h0M77.9 236.5h0M79.2 236h0M78.6 242.6h0M83.2 243.4h0M77.4 236.3h0M66.9 234.1h0M104.6 231.4h0M99.6 227.5h0M115.1 236h0M111.9 229.2h0M109.6 233.2h0M100 219.5h0M95.7 219.5h0M98.3 224.3h0M106.5 225.6h0M211.1 219.9h0M213.4 217.1h0M206 225h0M201.6 227.9h0M200.2 215.7h0M196.3 222.9h0M206.6 213.4h0M220.4 225h0M210.8 221.1h0M198.5 215.3h0M218.1 211.4h0M200.2 220.8h0M208.3 221.8h0M209.6 221.9h0M205 214.4h0M210.8 215h0M212.7 207.9h0M214.5 221.1h0M192.6 218.1h0M205.1 212h0M209.6 215.3h0M215.4 209h0M200.5 212.6h0M199.5 227.3h0M203.2 215.7h0M199.7 225.3h0M216.3 225.1h0M213 216.7h0M221.8 221h0M194.2 211.7h0M209.7 203.8h0M206.6 218h0M192.9 207.9h0M207.4 213.6h0M211.6 219.8h0M197 219.8h0M211 209h0M221.7 216.7h0M217.6 226.9h0M216.3 224h0M209.7 212.5h0M208.8 219.1h0M214.3 210.2h0M205.9 211.8h0M198.8 224.9h0M193.9 224.9h0M198.7 241h0M190.5 233h0M206.2 226.4h0M192.5 223.9h0M204 237.5h0M196.7 236.3h0M194.3 228h0M203.8 227.4h0M191.8 227.9h0M200.9 233.5h0M187 242.9h0M193.6 237h0M198.7 249.3h0M198.3 230h0M192.1 216.2h0M203.8 231.7h0M197.1 227.7h0M197.1 228.8h0M190.6 238h0M217.5 225.2h0M206.9 230.3h0M196.6 232.2h0M198.9 231.5h0M186.9 222.4h0M190.6 234.4h0M198.1 224.4h0M193.2 233.9h0M198.1 225.7h0M190.8 230.6h0M202.2 233.2h0M195.8 236.2h0M193.4 231.5h0M201.4 231.3h0M197.3 231.8h0M194.8 222.8h0M198.6 229h0M198.5 232.8h0M194.8 225.7h0M190.1 235.1h0M193.7 223.7h0M193.6 246.5h0M188.8 247.4h0M183.5 241.3h0M186.8 258.9h0M192.3 239.6h0M191.7 253.9h0M184 250h0M182.8 253.4h0M193.3 240.9h0M192.3 244.2h0M189.2 250h0M186.5 242.9h0M184.7 244.6h0M188 249.8h0M188.4 241.7h0M185.7 237.6h0M188.2 246.9h0M187.5 246.8h0M186.7 247.4h0M183.3 244.1h0M190.8 236.3h0M184.2 247.7h0M184.1 257h0M185.4 247.5h0M184.1 247.3h0M187.9 245.9h0M213.4 208.2h0M217.5 211.2h0M212 216h0M225 217.3h0M217.4 216.8h0M220 212.2h0M218.6 205.1h0M213.9 210h0M217.3 209.5h0M216.2 215h0M214.1 212h0M216.4 208.6h0M221.1 213.3h0M220.2 210.2h0M214.8 214.1h0M212 211.6h0M215.9 206.9h0M215 209.4h0M212 211.8h0M214.9 207.1h0M183.3 201.6h0M179.6 201.4h0M176.9 200.7h0M175.2 201.7h0M177.7 204.9h0M171.6 200.9h0M158.6 101.7h0M171.3 111.2h0M135.9 94.4h0M137.3 90.4h0M135.3 94.5h0M138.6 93.2h0M156.4 99.1h0M181.2 111.8h0M162.4 101.6h0M158.1 104h0M170.3 108.7h0M163.3 106.9h0M165.6 111.3h0M186.6 112.7h0M150.1 101.1h0M157.4 101.7h0M185 110.5h0M163.3 103.1h0M183.6 113.1h0M136.8 94.7h0M140.7 92.9h0M145.3 102.3h0M180.7 113.6h0M178.6 111.3h0M85.2 223.4h0M207.2 197.6h0M136.2 173.7h0M114.8 205h0M117.8 226.7h0M185.8 186.9h0M43.2 220.6h0M22.9 241h0M44.1 225.8h0M147.5 175.1h0M103.9 198h0M165.4 187.2h0M100.7 136.5h0M80.4 183.5h0M78.8 180.8h0M120.7 230.2h0M172.5 237.2h0M172 242.4h0M141.5 193.2h0M170.4 235.4h0M144 216.8h0" stroke="#ec5a40" stroke-width="1.15" stroke-linecap="round" fill="none"/>
<rect x="292" y="170" width="9" height="48" fill="url(#redbar)"/>
<text x="303" y="179" font-size="12.5" fill="#3a3a3a">4</text>
<text x="303" y="189.9" font-size="12.5" fill="#3a3a3a">3</text>
<text x="303" y="200.8" font-size="12.5" fill="#3a3a3a">2</text>
<text x="303" y="211.6" font-size="12.5" fill="#3a3a3a">1</text>
<text x="303" y="222.5" font-size="12.5" fill="#3a3a3a">0</text>
<path d="M22.9 228V279.3H72" stroke="#222" stroke-width="1.3" fill="none"/>
<path d="M22.9 223.5l-3 8h6z M77.5 279.3l-8 -3v6z" fill="#222"/>
<text x="22.4" y="289" font-size="11" fill="#444">UMAP1</text>
<text transform="translate(20.4 260) rotate(-90)" font-size="11" text-anchor="middle" fill="#444">UMAP2</text>
<rect x="462.6" y="57.6" width="53" height="29" fill="#ebe7ee"/>
<text x="489.1" y="83.6" font-size="29" text-anchor="middle" fill="#1a1a1a">FST</text>
<use href="#umapbase" x="317" y="0"/>
<path d="M439.2 130.4h0M428 118.1h0M447.8 109.5h0M440 115.2h0M446.9 137.4h0M436.4 138.1h0M442.6 130.8h0M448.9 135.7h0M449.3 140.3h0M433.9 115.5h0M426.9 137.2h0M437.5 129.9h0M452.8 126.3h0M435.8 152.8h0M423 130.2h0M416.1 120.3h0M456 146.1h0M457.3 111.2h0M459.7 123.2h0M448.4 114.3h0M445.5 107.6h0M430.1 147.9h0M433.9 148.4h0M414.1 145.5h0M437.4 99.5h0M442.9 99.3h0M446.4 94.7h0M444.8 97.2h0M452.4 99.1h0M445.4 95.5h0M445.5 140.9h0M461.2 142.2h0M456.1 141.3h0M514.5 162.2h0M506.4 150.1h0M513.4 153.8h0M502.5 168h0M499.2 159.2h0M499.8 148.5h0M497.2 156.1h0M497.4 156.3h0M497.9 142.9h0M494.1 157.1h0M511.7 144.1h0M516.3 146.2h0M489.9 154.5h0M491.7 139.3h0M505 141.8h0M507.9 135.3h0M515.4 152h0M507.7 134.7h0M510.7 139h0M501.9 149.1h0M506.9 158.7h0M506.5 145.4h0M505.1 140.7h0M505.3 144.2h0M509.5 141.9h0M502.6 153.4h0M507.1 159.7h0M497 155.6h0M497.1 154.3h0M504.4 149.4h0M511 149h0M505 144.7h0M498.4 145.1h0M521.7 153.4h0M510 131.3h0M502.6 149.8h0M489.9 143.2h0M504.8 146.4h0M496.6 144.5h0M500 142.6h0M498.9 149.2h0M523.2 143.4h0M503.3 151h0M504.3 137.8h0M491 130.9h0M507 150.3h0M494 140.2h0M502.2 152.2h0M499.1 149.4h0M502.9 151.6h0M504.5 146.9h0M503.4 142.4h0M506.9 154h0M514.9 158.2h0M507.4 139.7h0M504.8 140.3h0M501.4 140.6h0M510.4 159.8h0M503.1 156.4h0M506.3 143.4h0M506.2 157.2h0M497.2 163.9h0M516.9 161.8h0M515.7 153h0M489.5 165.3h0M507 152.5h0M503.3 147.7h0M505.1 142.5h0M503.2 148.3h0M506.8 140.7h0M506.2 155.7h0M497.5 142.3h0M508.4 144h0M495 150.6h0M499.8 159.7h0M496.3 157.6h0M515.3 154.4h0M510.3 144.9h0M494 148.3h0M505.2 147.4h0M501.7 142.9h0M496.7 144.9h0M503.2 144.1h0M506.5 148.7h0M495.6 148.4h0M521 144.8h0M507.3 135.2h0M531.6 126.3h0M505.6 151.2h0M523.3 146.8h0M500.6 149.3h0M528.5 127.1h0M542.7 136.2h0M517.5 136.7h0M518.9 140h0M528.5 126.7h0M524.8 139.9h0M517.8 137.6h0M503.2 135.5h0M517.3 138.4h0M512.5 140.5h0M528 138.9h0M518.8 150.9h0M532.2 145.6h0M529.5 133.6h0M524.4 150.6h0M516.4 135.1h0M519 144.9h0M524.5 149.1h0M526.6 136h0M513 137.8h0M528.6 134.6h0M536 137.3h0M514.5 148.3h0M509.1 132.2h0M526.4 133.3h0M521.5 130.5h0M523.5 132.8h0M526.1 140h0M524.7 140.4h0M513.9 137.2h0M527 127.1h0M517 137.4h0M520.7 133.8h0M514 145.8h0M526.6 127.2h0M519 138.2h0M531 130.3h0M527.9 141.1h0M505.9 146.1h0M524.7 140h0M536.4 135.4h0M511.6 139.9h0M518.9 136.3h0M516.4 147.9h0M510.2 152h0M517.5 135.4h0M514.2 145.3h0M532.8 139.1h0M531.8 134h0M533.5 123.1h0M528.7 137.5h0M505.9 157.1h0M518.8 150.1h0M528.1 142.3h0M528.5 135.4h0M519.2 137.7h0M510.8 141.9h0M522 149.3h0M526.2 143.1h0M510.2 134.1h0M522.3 134.8h0M525.6 145.7h0M515.7 137.5h0M513 144.1h0M503.8 132.5h0M522.2 142.7h0M514.7 153.2h0M522.9 147.1h0M515.5 152.6h0M519.1 145.7h0M529.4 139.5h0M519.3 140.2h0M519.4 141.6h0M524.5 144.7h0M524.1 143.1h0M518.4 134.7h0M528.1 142.6h0M517 137.9h0M526.7 138.3h0M542.5 140.7h0M536.8 130.1h0M538.4 139.1h0M542.9 132.6h0M542.5 137.6h0M541.8 126.4h0M548.6 126.4h0M545.4 131.3h0M547.5 134.1h0M541.8 135.2h0M550 132.8h0M541.7 128.5h0M543.3 128.3h0M550.5 123h0M551.7 129.2h0M553.4 133.1h0M537.3 134.2h0M547.7 129.3h0M541.6 138.2h0M537.5 129.6h0M539.6 133.8h0M544.7 136h0M546.8 122.1h0M547.2 133.7h0M547 139.1h0M538.9 132.1h0M545.7 131.5h0M540.6 133.7h0M532 122.1h0M540 125.6h0M541.9 133.5h0M554.9 133.3h0M547.7 126.9h0M548.1 138.7h0M553.2 119.7h0M549.2 122.6h0M542.4 135.1h0M534.5 139.1h0M546.5 134.8h0M541.2 128.5h0M537.9 132.4h0M544 129.4h0M550.4 122.3h0M545.7 126.1h0M540.3 136.1h0M544.8 133.2h0M540.3 135.7h0M559.3 128.3h0M552.5 128.4h0M539.8 123.8h0M541.7 136.4h0M539.2 127.6h0M548.2 132.2h0M553.5 134.7h0M538.4 135.5h0M537 129.8h0M554.2 139.2h0M541.4 133h0M536.4 131h0M547.8 117.7h0M544.8 116.3h0M547.5 119.3h0M547.3 121.2h0M545.6 116h0M550 112.8h0M545.5 122.8h0M548.5 117.2h0M546.2 116.4h0M551.6 123.7h0M547.2 115h0M548.2 122.6h0M548.1 115h0M548.3 121.4h0M544.8 118.1h0M571.5 141.9h0M562 140h0M567.8 143.2h0M567.6 139.7h0M561.8 139.8h0M564.6 138.5h0M549.9 141.5h0M565 141h0M564.3 140.5h0M566.4 137.9h0M571.9 136.7h0M560.2 135.7h0M567.4 134.9h0M562 140.6h0M561.4 137.4h0M559.5 137.5h0M562.5 140h0M565.7 138.3h0M570.8 138.1h0M567.5 136.3h0M555.7 135.4h0M564.4 133.6h0M568.7 135.6h0M563.2 139h0M567 139.7h0M572.6 139.7h0M560.7 141.7h0M511.3 165.7h0M517.4 162.6h0M508.7 160.6h0M511.7 169.2h0M513.4 167.7h0M515.1 160.9h0M508.3 162.7h0M511.6 155.6h0M513.7 150.5h0M504.7 164.1h0M513.6 166.2h0M511.8 161.9h0M512.8 163.9h0M515.9 167h0M514.6 169.5h0M511.2 153.8h0M512.1 162.2h0M517.3 169.1h0M506.6 171.2h0M505.5 170h0M516.9 162.6h0M513.1 171.9h0M513.4 172.4h0M512.2 158h0M508.7 184.9h0M511.6 169.6h0M506.8 166.1h0M510.4 162.3h0M506 160.2h0M508.8 182.3h0M508.3 184.3h0M513.9 189.8h0M512.5 184.1h0M511.2 188.2h0M505.5 192.8h0M507 175.4h0M508.1 184.4h0M510.4 190.5h0M508 182.7h0M507.8 190.9h0M509.8 189.5h0M511.9 187.8h0M507.6 182.8h0M507.8 195.1h0M509.9 177h0M509 185.8h0M506.4 185.7h0M508.2 183.1h0M504.5 179.7h0M506.5 171.9h0M504.3 188.5h0M507.5 183.1h0M504.4 177.6h0M395.4 192.8h0M401 194.9h0M392.7 195.3h0M385 196.6h0M387.6 201.8h0M401.4 225h0M403.5 234.8h0M404.2 237.4h0M399.4 224.9h0M390 234.1h0M407.7 239.8h0M415.7 227.1h0M392.1 208.9h0M409.9 231.8h0M421.7 235.4h0M394.7 240.9h0M404.4 234.9h0M403 238.2h0M408.4 224.5h0M430.8 217.2h0M432.4 225.9h0M387.3 239.8h0M389.4 237.3h0M528.1 219.9h0M525 217.6h0M526.4 212.1h0M533 203.4h0M533 212.4h0M518.6 227.9h0M514.3 209.8h0M513.3 222.9h0M537.4 225h0M527.5 210h0M529 210.5h0M529.8 223.6h0M515.5 215.3h0M536.1 216h0M527.3 213.6h0M526.2 205.4h0M515.8 226.4h0M541.2 207.4h0M509.7 215.5h0M523 215.4h0M525.3 221.8h0M524.9 216.8h0M533.1 217.4h0M526.6 221.9h0M514.5 208.5h0M523.8 207.7h0M527.8 215h0M528.2 218.2h0M526.9 222.1h0M521.4 212.7h0M522.6 222.2h0M509.6 218.1h0M521.4 217.4h0M523.9 214.2h0M527.5 217.2h0M519 201.2h0M521.3 219.7h0M522.1 212h0M526.6 215.3h0M532.4 209h0M519.9 222.3h0M532.6 212.9h0M517.5 212.6h0M533.5 209.4h0M516.5 227.3h0M535.5 210.5h0M532.1 217.6h0M518.6 222.3h0M519.5 216.7h0M524.9 211.9h0M519.2 227.8h0M529.4 218.6h0M532.5 217.8h0M525.3 206.8h0M521.8 218.6h0M526.7 203.8h0M534.8 208.5h0M527.9 215.1h0M527.2 219.7h0M521 219.2h0M525.6 220.7h0M524.4 213.6h0M528.6 219.8h0M533 218.8h0M540 212h0M533.6 211.2h0M538.7 216.7h0M515.5 211.6h0M511.5 224.6h0M529.6 205.4h0M528.7 215.9h0M528 213.9h0M526.7 212.5h0M525.8 219.1h0M515.6 225.2h0M550.4 209.9h0M518.8 220.9h0M501.9 233.5h0M511.9 229.7h0M514.5 226.9h0M515.7 241h0M520.4 231.9h0M525.3 237.2h0M511.5 218h0M505.8 243.6h0M515.4 225.3h0M512.9 234.1h0M523.2 226.4h0M516.3 225.2h0M522.6 226.1h0M526.4 237.9h0M517.7 220h0M515.1 224.9h0M502.6 232.4h0M521 237.5h0M515.9 233.3h0M504 225.9h0M519.9 226.9h0M532.2 227.5h0M519.8 237.9h0M520.8 227.4h0M517.9 233.5h0M509.3 224h0M504 242.9h0M510.6 237h0M515.7 249.3h0M515.3 230h0M511.6 228.2h0M512 231.2h0M514.6 229.7h0M520.3 227.9h0M518 231.8h0M519.3 241.9h0M512.9 244h0M508.6 227.8h0M521.4 228.8h0M522.9 212.6h0M523.1 236.2h0M514 233.5h0M507.6 238h0M523.9 230.3h0M512.1 226.1h0M506.1 240.8h0M510.1 233.1h0M518 224.6h0M515.1 225.7h0M508.8 219h0M517.2 232.3h0M519.2 233.2h0M509.4 232.8h0M500.2 229.5h0M512.8 236.2h0M523.1 225.3h0M518.4 231.3h0M520.2 221.7h0M514.3 231.8h0M514.8 219.4h0M509.8 229.7h0M512.1 227.1h0M515.6 229h0M512.2 233.4h0M510 232.2h0M521.2 233.6h0M516.6 224h0M511.4 228.9h0M510.2 220.2h0M510.6 246.5h0M505.1 242.6h0M500.7 252.5h0M500.5 249.8h0M505 242.6h0M501 250h0M499.8 253.4h0M506.9 244.7h0M510.3 240.9h0M506.2 250h0M503.6 251.4h0M499.5 246.8h0M502.5 243.3h0M505.5 240.1h0M504.4 256.3h0M501.7 244.6h0M504.5 249.6h0M503.4 235.5h0M505 249.8h0M502.3 251.6h0M508.9 244.6h0M499.7 234.3h0M506.5 242h0M503.7 247.4h0M504.8 237.6h0M505 250.4h0M503.3 234.9h0M507.8 236.3h0M501.2 247.7h0M501.1 257h0M506.4 240h0M510.8 237.4h0M502.4 247.5h0M504.6 241.7h0M510.3 252.9h0M504.9 245.9h0M503.2 251.9h0M532.5 210h0M530.4 208.2h0M531.7 214.7h0M530 206.6h0M535.9 212.4h0M529 216h0M534.4 216.8h0M533.6 211.1h0M537.1 205.4h0M534.1 215.7h0M524.2 210.9h0M537 212.2h0M534 214.8h0M534.3 209.5h0M534.2 209.8h0M535.3 211.4h0M530.9 210.7h0M534.6 210.5h0M529.2 216.3h0M528.6 208.9h0M532.1 215.1h0M537.2 210.2h0M531.8 206.5h0M535.2 214h0M527 212.4h0M539.6 210.3h0M532 209.4h0M535.2 214.6h0M532.7 207.5h0M529 211.8h0M536 213.8h0M529.6 207.4h0M527.4 212.7h0M490.3 200.3h0M490.1 200.5h0M493.5 200.6h0M502.3 202.8h0M482.1 201.2h0M495.4 202h0M488.8 200.3h0M493.3 203.6h0M496.6 201.4h0M490.2 199.5h0M500.8 205.1h0M485.5 200.5h0M489.4 204.1h0M493.7 201.1h0M490.2 199.9h0M491.3 204.7h0M497.3 201.1h0M484.5 202.8h0M491.7 198.5h0M489.2 204.3h0M488.3 201.8h0M494.5 201.3h0M484.2 201.3h0M494.7 204.9h0M485.9 203.9h0M495.2 202.7h0M486 201h0M500.6 201.3h0M465.9 96.2h0M469.9 96.8h0M477.4 104.4h0M471 103.7h0M481.2 106.7h0M450.3 91.4h0M498.5 114.5h0M482.6 111.3h0M454.3 94.1h0M500.6 113.1h0M453.8 94.7h0M400.8 204.7h0M471 224.2h0M402.2 223.4h0M538.6 200.8h0M428.1 253.9h0M453.2 173.7h0M413.2 194.5h0M365.2 213.8h0M394.4 216h0M384.7 192.3h0M429.9 164.1h0M443.5 176.7h0M458.3 156.3h0M433.9 210.1h0M387.6 189.3h0M434.8 226.7h0M500.2 209.9h0M457.3 166.9h0M397.7 196.4h0M435.1 181.4h0M460.3 201.7h0M435.1 226.9h0M389.1 207.1h0M398.1 141.2h0M434.3 196.3h0M387.8 167.4h0M519.1 204.2h0" stroke="#f3a092" stroke-width="1.15" stroke-linecap="round" fill="none"/>
<path d="M418.6 129.9h0M432.6 139.3h0M415.6 120.3h0M437.9 140.8h0M430.9 119.2h0M415.3 129.2h0M417.9 134.9h0M435.8 151.8h0M428 123.3h0M424.2 120.1h0M419.4 97.1h0M425.1 119.7h0M420 113.7h0M407.6 123.2h0M422.6 124.3h0M454.9 128h0M447.5 120.4h0M451.8 123.4h0M457.6 126.8h0M438.6 127.3h0M428.1 155.4h0M444.3 99.7h0M460.5 135.7h0M448.2 132.8h0M502.8 149.1h0M514.9 156.3h0M503 142.5h0M499.4 133.7h0M502.6 144.8h0M496.4 139.4h0M502.5 147.6h0M503 145.8h0M508.7 161.9h0M511.7 158.1h0M500.9 135.9h0M498.7 156.9h0M497.8 145.3h0M497 154.9h0M496.8 153.8h0M497 145.4h0M498.6 133.4h0M491.7 143.2h0M495.6 142.3h0M497.9 151h0M502.8 159.9h0M513.7 155.6h0M490.2 141.7h0M500.5 148.9h0M507.2 142.8h0M497.9 148.1h0M504.4 141.3h0M504.8 152.5h0M504.1 149.9h0M487.2 152.3h0M502.3 158h0M514 139.2h0M504.5 145.4h0M504.2 131h0M500.3 142.7h0M507 153h0M517.7 152.1h0M507.3 166.7h0M498.4 151.5h0M500.2 146.6h0M503.1 152.4h0M504.4 153.1h0M501.4 144.7h0M498.4 149h0M502 153.1h0M518.6 147.6h0M505.5 148.7h0M506.2 144.9h0M502.8 143.6h0M502.5 154.2h0M506.5 140.8h0M504.2 152.1h0M511.3 135.4h0M507 162.4h0M499.7 150.3h0M509.7 149.6h0M510.6 156.2h0M499.8 147.5h0M506.5 147.4h0M503.4 151.8h0M502.8 161.5h0M511.5 149.9h0M510.6 141.3h0M518.3 141.8h0M528.5 148.1h0M522.4 137.7h0M530.1 134.1h0M524.2 134.7h0M528.9 130h0M522.5 148.6h0M512.2 143.7h0M527 140.1h0M538.1 138h0M533.9 137.6h0M520 135.3h0M533.8 136.7h0M519.4 140.4h0M520.8 145.4h0M510.2 137.8h0M513.8 147.1h0M529.9 140.7h0M517.7 151.1h0M526.5 142.9h0M525.9 145.7h0M526.3 129.8h0M523.2 131.8h0M513.6 142.4h0M516.9 144h0M511.9 137.2h0M528.6 145h0M506.1 134.3h0M530.3 142.6h0M506.4 138h0M525.8 145.1h0M538.2 139h0M518.8 139.3h0M525.9 145.1h0M512.1 141.1h0M513.8 134.4h0M494.1 138.5h0M514.2 136.8h0M521.4 136.8h0M507.1 139.4h0M521.1 134.3h0M538.8 150h0M541 143.7h0M511.6 144.3h0M505 131h0M521.6 134.7h0M507.1 141.6h0M514.6 140.3h0M533.4 149.4h0M519.2 143.9h0M529.1 148.7h0M524.5 138.7h0M522.5 136.9h0M513.8 148.5h0M514.9 140.5h0M518.6 141.1h0M520.8 134.7h0M532.1 136h0M517.6 145h0M510.6 141h0M534.3 135.2h0M541.5 132h0M539.5 135.2h0M541.6 135h0M552 138.3h0M547.3 133.8h0M555.9 132.9h0M534.4 136.1h0M555.5 140.4h0M549.9 123.8h0M553.8 137.8h0M543.7 128h0M544.2 119.1h0M543.7 134.6h0M553.7 128.6h0M542.4 118.9h0M542.6 129.2h0M553.6 129.5h0M549.6 133.7h0M542.1 132.3h0M539.3 123.1h0M535.7 129h0M549.5 129.2h0M540.1 142.3h0M549.1 136.3h0M537.7 141h0M530.5 129.1h0M548.2 137.4h0M535.8 126.7h0M540.6 134.4h0M548.8 131.6h0M541.9 134.5h0M555.4 130.5h0M552.6 136.3h0M553.1 129.9h0M548.7 135.2h0M543.4 130.6h0M536.6 136.6h0M543.9 133h0M532.4 127.1h0M536.3 131.1h0M540.1 130.3h0M526.3 136.9h0M541.9 139.5h0M537 121.4h0M549.1 128.5h0M538.3 128.6h0M557.5 119.8h0M545 130.1h0M540.8 124.9h0M546.5 134.8h0M551.8 126.7h0M539 130.2h0M549.9 121.7h0M545.4 116.8h0M543.1 119.2h0M548 115.9h0M550.3 116.9h0M546.5 114.2h0M546.9 120.5h0M550.3 118h0M549 115.5h0M550.4 113.9h0M549.5 122.4h0M550.8 119.4h0M548.4 118h0M549.9 123.1h0M549.6 122.4h0M548.9 114.4h0M547.3 119.7h0M562.6 137.4h0M567.4 136.4h0M570.7 135.7h0M569.1 140.8h0M570.8 137.7h0M569.7 139.8h0M561.8 138.7h0M572.4 137.9h0M564.1 137.4h0M557.1 143.9h0M566.2 141.7h0M564.3 136.1h0M568.1 139.4h0M551.9 136.1h0M569.5 139.5h0M564.1 137.6h0M563 139h0M561.9 137.7h0M567 138.2h0M563.9 138.8h0M569.3 139.6h0M513.3 166.7h0M512.4 161.4h0M512.2 161.2h0M509.4 166.2h0M507.1 168.2h0M515.7 165.6h0M513.9 166.7h0M510.6 164.7h0M516.4 164.3h0M515.3 166.7h0M517.6 166h0M514.2 160.2h0M510.1 176.4h0M517.3 171.5h0M517 168.7h0M512.4 171.6h0M513.3 163.2h0M514.8 173.2h0M515.2 177.5h0M508.9 185h0M508.3 180.3h0M506.2 183.7h0M515.6 184.9h0M510 185.5h0M509.9 182.1h0M508.8 184.2h0M510.4 184.1h0M507.8 176.6h0M512 177.8h0M507.9 186.1h0M508.4 184h0M374.1 206.3h0M389.9 193.2h0M397.7 193.5h0M408.9 214h0M396.6 217.4h0M414.3 216.5h0M420.6 211.6h0M399.2 223h0M386.9 217.5h0M413.6 235.2h0M410 237h0M409.4 230.7h0M390.5 241.6h0M394.4 236.3h0M397.8 238h0M393.7 244.9h0M396 245.6h0M410 226.9h0M404.5 249.4h0M412.2 234.2h0M432.1 232.1h0M417.2 238.7h0M423.5 225.6h0M385.4 246.8h0M375.4 238.3h0M528.8 205.3h0M527.6 211.3h0M530.4 217.1h0M520.2 218.6h0M523 225h0M536.4 210h0M523.2 214.5h0M523.6 213.4h0M522.3 219.9h0M535.7 213.4h0M537.5 217.4h0M523.9 216.4h0M529.6 225.3h0M542.1 205.6h0M521.1 218.6h0M522.8 203.8h0M519.7 223.5h0M535.1 211.4h0M525.8 218.3h0M510.8 216.3h0M516.3 208h0M517.2 220.8h0M519.4 220.3h0M522 214.4h0M523.8 207.3h0M524.2 226.5h0M529.7 207.9h0M529.2 221.8h0M527.6 219.7h0M530.6 216.9h0M534.6 226.4h0M520.7 218h0M525 202.2h0M531.7 219.9h0M516.5 211.3h0M520.2 215.7h0M527.6 218.3h0M515.8 216.8h0M522.1 215.9h0M533.3 225.1h0M530 216.7h0M541 207.7h0M511.2 211.7h0M538.8 223.7h0M509.9 207.9h0M529.6 217.9h0M517.5 203.1h0M513.1 229.8h0M550.3 213.9h0M518.8 223.9h0M525 214.7h0M514 219.8h0M519.2 213.4h0M522.3 221.7h0M528 219.4h0M517.2 223.5h0M539.1 216.3h0M528 209h0M543.1 212.1h0M520.5 212h0M520.8 218h0M538.1 210h0M537.2 217h0M519.7 224.4h0M525.5 223.5h0M521.1 217.2h0M536.6 211.2h0M533.3 224h0M531.3 210.2h0M525.5 212.8h0M515.8 224.9h0M514.1 225.3h0M510.9 224.9h0M514.1 227.8h0M507.5 233h0M517.2 232h0M516.9 236.2h0M518.6 229h0M525.9 228.5h0M509.5 223.9h0M518.4 223.9h0M530 225.9h0M508 230.5h0M513.7 236.3h0M511.3 228h0M519.8 229h0M509.7 245h0M518.7 220.9h0M509.1 216.2h0M524.4 229.2h0M520.8 231.7h0M502.9 236.9h0M503.3 224.4h0M514.1 228.8h0M534.5 225.2h0M513.6 232.2h0M515.9 231.5h0M503.9 222.4h0M519.3 235.4h0M506.6 226h0M521.2 234.9h0M522.3 233.9h0M514.9 233.5h0M510.4 231.5h0M518.2 237.1h0M511.8 222.8h0M516 236.7h0M515.5 232.8h0M511.8 225.7h0M528.4 229.1h0M510.7 223.7h0M512.1 231.3h0M500.5 241.3h0M503.8 258.9h0M504.6 245.9h0M509.6 250.1h0M509.3 239.6h0M505.9 245.8h0M509.5 243.6h0M501.3 249.6h0M503.5 242.9h0M502.8 245.3h0M505.5 238h0M499 247.9h0M501.7 248.5h0M505.4 241.7h0M502.7 237.6h0M500.4 239.8h0M505.3 248.1h0M502.3 256.3h0M501.1 247.3h0M502.8 243.2h0M507.8 246.6h0M501.5 251h0M533.5 208.8h0M539.2 211.2h0M535.8 215.3h0M536.8 210.3h0M534.5 211.2h0M532.9 213.7h0M542 217.3h0M535.6 205.1h0M530.9 210h0M522.1 213.7h0M531.1 212h0M533.4 208.6h0M530.1 209.7h0M535.9 217.3h0M532.7 212.2h0M534.8 210.3h0M537.1 209.1h0M538.1 213.3h0M531.7 209.5h0M532.1 214.1h0M531.8 214.1h0M535.2 209.8h0M531.3 209h0M534 207.7h0M531.9 207.1h0M530.5 208.8h0M527.5 207.9h0M487.1 203.4h0M500.3 201.6h0M503.9 200.5h0M490 199h0M488.6 199.5h0M493.2 201.2h0M494.9 201.8h0M492.9 203.7h0M489.3 205.5h0M498.7 198.1h0M493.9 200.7h0M500 201.1h0M492.2 201.7h0M490.4 199h0M493.8 199.3h0M496.1 205.7h0M485.1 204.6h0M487.7 200.3h0M488.6 200.9h0M493.6 204h0M490.1 114.4h0M489.9 106h0M464.9 99.5h0M449.5 89.7h0M503.6 112.7h0M469.6 102.3h0M453.4 95.3h0M480.3 103.1h0M412 171.3h0M475.6 198.6h0M473.8 264.5h0M506.9 194.2h0M444.3 218.7h0M572.2 176.3h0M361.1 225.8h0M409 217.4h0M481.4 177.2h0M407.7 232.6h0M464.7 199.4h0M468.5 206.6h0M476.4 247.6h0M421.5 218.4h0M459.3 220h0M466.9 161.3h0M482.5 152.7h0M458.5 193.2h0" stroke="#ec5a40" stroke-width="1.15" stroke-linecap="round" fill="none"/>
<rect x="609" y="170" width="9" height="48" fill="url(#redbar)"/>
<text x="620" y="179" font-size="12.5" fill="#3a3a3a">4</text>
<text x="620" y="189.9" font-size="12.5" fill="#3a3a3a">3</text>
<text x="620" y="200.8" font-size="12.5" fill="#3a3a3a">2</text>
<text x="620" y="211.6" font-size="12.5" fill="#3a3a3a">1</text>
<text x="620" y="222.5" font-size="12.5" fill="#3a3a3a">0</text>
<path d="M339.9 228V279.3H389" stroke="#222" stroke-width="1.3" fill="none"/>
<path d="M339.9 223.5l-3 8h6z M394.5 279.3l-8 -3v6z" fill="#222"/>
<text x="339.4" y="289" font-size="11" fill="#444">UMAP1</text>
<text transform="translate(337.4 260) rotate(-90)" font-size="11" text-anchor="middle" fill="#444">UMAP2</text>
<rect x="144.6" y="291.1" width="58.4" height="29" fill="#ebe7ee"/>
<text x="173.8" y="317.1" font-size="29" text-anchor="middle" fill="#1a1a1a">SCX</text>
<use href="#umapbase" x="0" y="233.5"/>
<path d="M115.6 356.9h0M131.3 370.3h0M132.7 372.1h0M104 380.5h0M123.4 369.2h0M125.7 361.7h0M118.6 370.3h0M98.6 353.8h0M108.3 357h0M97.4 375.2h0M107.9 366.9h0M112.5 365.5h0M104.1 338.1h0M109 369.8h0M129.2 363h0M113.1 373.4h0M98.3 362.7h0M111.3 389.2h0M111.9 380.4h0M115.1 373.1h0M97.8 379.4h0M130.6 358.4h0M134.6 367.6h0M111.2 365.7h0M106.7 356.7h0M112.2 356.5h0M106.4 353.1h0M104 339.4h0M101.6 359.9h0M113 365h0M103.9 368.7h0M103.1 353.9h0M139 379.6h0M113.7 357.1h0M133.5 338.2h0M126.3 339.2h0M134.9 351.6h0M129.8 363.9h0M128.5 341.1h0M114.1 378h0M106.6 385.3h0M114.4 385.2h0M130 337.8h0M125.1 335h0M129.4 328.2h0M133.7 331.5h0M129.8 334h0M131.6 339.5h0M125.1 324h0M139.1 382.4h0M126.3 371.7h0M138.5 371h0M131 369.5h0M185.8 382.6h0M195.6 381.4h0M197.5 395.7h0M189.4 383.6h0M196.4 387.3h0M182.4 367.2h0M179.4 372.9h0M171.3 384.6h0M185.5 381.1h0M196.3 382.1h0M182.8 382h0M177.1 390.6h0M194.7 377.6h0M183.9 369.4h0M180 388.4h0M174.7 372.8h0M179.8 387.3h0M190.9 368.8h0M190.7 368.2h0M180 378.9h0M181.6 366.9h0M174.7 376.7h0M178.6 375.8h0M180.9 384.5h0M196.7 389.1h0M192.5 375.4h0M180 389.1h0M194.3 389.6h0M188 378.2h0M204.7 386.9h0M187.8 386h0M187.1 383.4h0M179.6 378h0M175.9 368.2h0M183 376.1h0M186.5 389.7h0M197 372.7h0M187.3 371.3h0M190 383.8h0M183.3 376.2h0M177 373.7h0M190 386.5h0M185.2 385.7h0M185.9 385.1h0M200.7 385.6h0M197.9 391.7h0M190.4 373.2h0M183.2 380.1h0M186.1 385.9h0M193.4 393.3h0M186.1 389.9h0M189.3 376.9h0M180.2 397.4h0M199.9 395.3h0M184.4 378.2h0M181.4 382.5h0M172.5 398.8h0M201.6 381.1h0M190 386h0M188.1 376h0M185.8 377.1h0M185.5 387.7h0M179.1 375.1h0M189.5 374.3h0M186.2 379.4h0M187.8 375.1h0M184.9 381h0M191.4 377.5h0M190 395.9h0M182.7 383.8h0M198.3 387.9h0M193.3 378.4h0M189.5 380.9h0M184.7 376.4h0M179.7 378.4h0M186.2 377.6h0M189.5 382.2h0M204 378.3h0M211.5 381.6h0M197.9 377.8h0M213.1 367.6h0M211.5 360.6h0M200.8 371.1h0M203 368.8h0M200.3 371.9h0M201.8 384.4h0M216.8 370.2h0M202.4 373.9h0M208.7 376.9h0M212.5 367.1h0M199.4 368.6h0M209.6 369.5h0M200.3 392.3h0M200.7 384.6h0M206.8 375.5h0M211.6 368.1h0M208.9 379.2h0M197.5 381.8h0M204.5 364h0M209.1 373.5h0M206.2 365.3h0M203.7 367.3h0M194.2 374.6h0M213.3 380.7h0M202 371.7h0M210.9 374.6h0M207.7 373.5h0M194.9 370.7h0M194.6 373.4h0M199.4 381.4h0M200.5 368.9h0M211.6 378.5h0M189.4 371.5h0M208.8 378.6h0M221.2 372.5h0M214.8 367.5h0M216.5 356.6h0M211.7 371h0M201.8 383.6h0M209.2 376.6h0M209.8 375.4h0M190.1 372.9h0M205.3 368.3h0M208.6 379.2h0M221.8 383.5h0M198.7 371h0M224 377.2h0M186.8 366h0M208.8 369.6h0M185.2 375.5h0M204.6 368.2h0M190.1 375.1h0M202.3 373.7h0M216.4 382.9h0M202.2 377.4h0M207.1 376.6h0M212.1 382.2h0M211.1 376.1h0M207.5 372.2h0M210.1 389.3h0M201.6 374.6h0M215.1 369.5h0M200 371.4h0M209.7 371.8h0M193.6 374.5h0M225.5 374.2h0M217.3 368.7h0M222.5 368.7h0M235 371.8h0M225.5 371.1h0M236.8 357.1h0M223.2 358.3h0M224.8 359.9h0M231.6 359.9h0M238.5 373.9h0M228.4 364.8h0M230.5 367.6h0M224.8 368.7h0M233 366.3h0M224.7 362h0M233.5 356.5h0M226.3 365.9h0M236.8 371.3h0M230.5 376.1h0M226.7 361.5h0M224.1 359.6h0M227.2 352.6h0M226.7 368.1h0M234.7 362.7h0M221.2 360.2h0M230.7 362.8h0M225.6 362.7h0M224.6 371.7h0M220.5 363.1h0M232.6 367.2h0M222.6 367.3h0M222.3 356.6h0M223.1 375.8h0M232.1 369.8h0M213.5 362.6h0M231.2 370.9h0M218.8 360.2h0M229.8 355.6h0M231.8 365.1h0M224.9 368h0M238.4 364h0M223.6 367.2h0M237.9 366.8h0M230.7 360.4h0M232.6 374.3h0M229.3 360.2h0M219.6 370.1h0M231.5 355.9h0M219.3 364.6h0M229.5 368.3h0M224.2 362h0M229.2 365.4h0M220.9 365.9h0M227 362.9h0M233.4 355.8h0M228.7 359.6h0M224.9 373h0M219.4 364.6h0M223.3 369.2h0M234.2 361.8h0M218.7 367.3h0M237.2 372.7h0M224.4 366.5h0M222 363.7h0M229.9 355.5h0M230.8 351.2h0M226.1 352.7h0M231 349.4h0M234.8 350.5h0M229.5 347.7h0M233.3 351.5h0M230.3 354.7h0M228.6 349.5h0M232 349h0M233.4 347.4h0M229.3 342.7h0M226.9 348.8h0M231.2 356.1h0M231.1 348.5h0M232.9 356.6h0M229.5 345.3h0M230.8 349.7h0M230.3 353.2h0M254.5 375.4h0M245.6 370.9h0M245 373.5h0M250.4 369.9h0M246 372h0M241.1 371.9h0M253.8 371.2h0M233.6 371.6h0M249.4 371.4h0M239.4 371.6h0M243.2 369.2h0M244.8 372.2h0M244.4 370.9h0M240.1 377.4h0M249.2 375.2h0M245.5 373.5h0M241.2 372.9h0M248.7 371.8h0M251.1 372.9h0M252.5 373h0M247.1 371.1h0M245.3 371.1h0M244.9 371.2h0M246.2 372.5h0M250 373.2h0M253.2 370.8h0M250 371.7h0M243.5 371.2h0M252.3 373.1h0M243.7 375.2h0M246.2 372.5h0M200.4 396.1h0M196.3 400.2h0M191.7 394.1h0M194.7 402.7h0M198.1 394.4h0M193.4 395.8h0M195.4 394.9h0M194.6 389.1h0M196.6 399.7h0M190.1 401.7h0M194.8 395.4h0M198.7 399.1h0M195.8 397.4h0M196.9 400.2h0M198.9 400.5h0M199.4 397.8h0M197.6 403h0M198.3 400.2h0M195.1 395.7h0M197.2 393.7h0M193.1 409.9h0M200.3 405h0M199.9 396.1h0M195.4 405.1h0M196.1 405.4h0M191.7 418.4h0M197.5 406.7h0M196.3 396.7h0M194.6 403.1h0M197.8 406.7h0M189 393.7h0M191.8 415.8h0M195.9 405.1h0M195.5 417.6h0M194.2 421.7h0M191.9 418.5h0M188.5 426.3h0M190 408.9h0M193.4 424h0M191 416.2h0M189.2 417.2h0M198.6 418.4h0M194.9 420.3h0M193 419h0M194.9 421.3h0M189.3 420.9h0M192.9 415.6h0M193.4 417.6h0M189.4 419.2h0M191.2 416.6h0M195 411.3h0M190.9 419.6h0M190.5 416.6h0M72 425.4h0M65.6 429.2h0M81.5 433.1h0M76.6 427.8h0M68.3 428h0M85 443.4h0M74.8 449h0M65.7 454.9h0M73 467.6h0M86.3 462.4h0M67.4 458.6h0M94.8 471.1h0M88.6 440.2h0M74 450.5h0M92.5 438.6h0M72.8 439.3h0M82.8 442h0M72.7 468.3h0M71.1 456.3h0M71.1 461.1h0M72.4 476.7h0M86.2 477.6h0M91 468.1h0M81.8 472.7h0M73 466h0M73.5 477.8h0M85.2 469.9h0M85.6 472.2h0M76.7 478.4h0M87.4 468.4h0M81.9 476.4h0M83.7 468.7h0M58.9 466.9h0M106.5 458.1h0M97.8 456.5h0M115.1 469.5h0M99.4 460.5h0M100.3 442.7h0M117.7 470.1h0M122.4 475.8h0M61.6 472h0M65.4 464.1h0M211.8 438.8h0M209.4 445.6h0M219.4 443.5h0M201.6 461.4h0M197.3 443.3h0M200.2 449.2h0M196.3 456.4h0M218.7 446.9h0M220.5 450.9h0M199.1 453h0M206.9 449.9h0M212 444h0M205.8 437.3h0M202.7 457h0M212.8 457.1h0M218.1 444.9h0M209.2 438.9h0M208.8 451.8h0M206 448.9h0M208.3 455.3h0M202.4 453.8h0M211.4 456.9h0M206.8 440.8h0M207.2 460h0M210.8 448.5h0M211.2 451.7h0M212.7 441.4h0M214.5 454.6h0M213.6 450.4h0M205.6 455.7h0M202 434.7h0M215.6 446.4h0M203.7 451.5h0M214.7 453.4h0M216.5 442.9h0M198.8 450.3h0M201.8 455.4h0M205.1 449.4h0M216.3 458.6h0M213 450.2h0M212.4 452.1h0M224 441.2h0M204.8 452.1h0M217.8 442h0M210.9 448.6h0M196.1 463.3h0M204 452.7h0M208.6 454.2h0M207.4 447.1h0M201.8 457.4h0M208 448.2h0M222.1 449.8h0M221.7 450.2h0M194.5 458.1h0M226.1 445.6h0M203.8 451.5h0M221.1 443.5h0M220.2 450.5h0M217.6 460.4h0M211.7 449.4h0M203.6 446h0M209.7 446h0M208.8 452.6h0M206.5 442h0M216.1 453.3h0M198.6 458.7h0M233.4 443.4h0M184.9 467h0M185 475h0M198.8 458.4h0M197.5 460.4h0M198.7 474.5h0M197.1 461.3h0M198.4 458.8h0M195.9 467.6h0M201.6 462.5h0M205.6 459.6h0M201.4 457.4h0M200.7 453.5h0M213 459.4h0M204 471h0M194.3 461.5h0M202.9 460.4h0M215.2 461h0M202.8 471.4h0M191.8 461.4h0M207.7 460h0M193.5 457.5h0M204 455.3h0M198.7 482.8h0M198.3 463.5h0M192.1 449.7h0M203.8 465.2h0M186.3 457.9h0M201 465.3h0M202.3 475.4h0M197.1 462.3h0M205.9 446.1h0M206.1 469.7h0M206.9 463.8h0M195.9 454.5h0M189.6 459.5h0M200.4 464.1h0M191.8 452.5h0M205.7 459h0M195.8 469.7h0M193.4 465h0M201.2 470.6h0M197.3 465.3h0M195.1 460.6h0M198.5 466.3h0M211.4 462.6h0M188.1 476.1h0M183.7 486h0M186.8 492.4h0M192.6 483.6h0M192.3 473.1h0M182.8 486.9h0M190.3 473.7h0M192.5 477.1h0M184.3 483.1h0M188.5 471.5h0M188.5 473.6h0M184.7 478.1h0M187.5 483.1h0M188 483.3h0M185.7 471.1h0M187.5 480.3h0M186.7 480.9h0M187.8 471.1h0M189.4 473.5h0M185.4 481h0M184.1 480.8h0M184.5 484.5h0M222.2 444.7h0M213.4 441.7h0M215.9 447.2h0M212 449.5h0M217.4 450.3h0M207.2 444.4h0M205.1 447.2h0M219 445.7h0M217.2 443.3h0M218.3 444.9h0M213.9 444.2h0M216.4 442.1h0M217.6 444h0M212.2 449.8h0M218.9 450.8h0M211.6 442.4h0M217.8 443.8h0M220.1 442.6h0M214.8 440h0M218.2 448.1h0M213 444.7h0M213.6 443h0M212 445.3h0M219 447.3h0M214.9 440.6h0M210.4 446.2h0M183.3 435.1h0M176.5 434.1h0M177.2 433.7h0M165.1 434.7h0M176.2 434.7h0M181.7 431.6h0M183.8 438.6h0M175.2 435.2h0M172.4 437.6h0M173.2 433.4h0M178.2 436.2h0M163.6 337.5h0M142.9 331.3h0M177.5 345.4h0M139.9 328.8h0M154 337.2h0M158.6 335.2h0M181.9 345.9h0M145.2 329.3h0M171.3 344.7h0M135.3 328h0M142.8 332.6h0M153.1 334.9h0M176.4 344h0M132.5 323.2h0M138.6 326.7h0M152.5 337.2h0M156.4 332.6h0M181.2 345.3h0M158.1 337.5h0M165.6 344.8h0M137.3 327.6h0M186.6 346.2h0M152.6 335.8h0M155.7 333.2h0M183.6 346.6h0M145.3 335.8h0M180.7 347.1h0M108.9 416.9h0M87.5 440.3h0M106.9 474.7h0M83.8 438.2h0M96.2 428h0M112.9 397.6h0M111.3 441.4h0M202.9 443h0M206.9 433.4h0M88.6 378.6h0M118.1 414.9h0M103.9 431.5h0M173.2 464.5h0M204 382.4h0M117.3 429.8h0M153.7 440.3h0M120.7 463.7h0M126.5 478.1h0M142.3 453.5h0M165.5 386.2h0M81.6 392.5h0M83.5 429.9h0M115.2 471.3h0M144 450.3h0" stroke="#f3a092" stroke-width="1.15" stroke-linecap="round" fill="none"/>
<path d="M141.3 367.3h0M123.8 379.5h0M117.6 366.1h0M98 372.6h0M118.9 377.4h0M131.2 381.4h0M134.7 365.5h0M126.7 371.6h0M116.7 367.3h0M97.5 364.6h0M105.1 358h0M121.3 364.3h0M113.7 345.6h0M130.7 376.5h0M122.5 348.3h0M121.8 354h0M118.8 385.3h0M129.8 358.3h0M106.9 366.4h0M111.6 351.4h0M109.6 342.7h0M111.4 361h0M105.6 341.8h0M109.2 349.7h0M100.5 359.1h0M92.7 361.1h0M93 361.9h0M103.2 339.5h0M130.9 353.4h0M130.1 356h0M129.6 352.9h0M136 357.8h0M141.5 364.2h0M118.4 360.6h0M105.5 375.4h0M98.8 388.9h0M99.1 377.6h0M114.2 373.1h0M132.4 328.8h0M125.9 332.8h0M130 338.4h0M128.2 333.5h0M124.6 325.9h0M130.1 373h0M145.7 376.2h0M143.5 369.2h0M132.3 368.7h0M136.8 367.3h0M132.5 372.5h0M197.9 389.8h0M186 376h0M185.6 378.3h0M185.5 401.5h0M186 379.3h0M191.7 395.4h0M180.2 389.6h0M176.5 385.4h0M194.7 391.6h0M180.4 389.8h0M180.9 376.4h0M181.1 378.8h0M202 391.1h0M180.8 378.8h0M172.9 388h0M188 375.3h0M198.4 385.5h0M184.9 382.6h0M189.9 392.2h0M189.5 378.9h0M185.8 393.4h0M188.3 377.7h0M173.2 375.2h0M185.6 386.9h0M190.1 393.2h0M180.1 387.8h0M187.4 382.9h0M183.5 382.4h0M180.9 381.6h0M193 364.8h0M185.6 383.3h0M170.2 385.8h0M185.3 391.5h0M181.9 382.7h0M187.5 378.9h0M174 364.4h0M187.5 380.4h0M195.9 369.9h0M189.9 387.5h0M181.4 385h0M184.4 374.1h0M187.4 386.6h0M189.2 390.7h0M185 386.6h0M188.5 382.2h0M185.6 375.3h0M186.3 381.2h0M186.2 381.8h0M189.2 378.4h0M183.9 380.2h0M188.6 383.3h0M184.3 373.7h0M194.3 368.9h0M192.1 379.3h0M192.7 383.1h0M178 384.1h0M192.2 368.8h0M179.3 391.1h0M182.8 381h0M186.4 385.3h0M188.2 380.9h0M193.6 374.8h0M178.6 381.9h0M201.3 375.3h0M190.3 368.7h0M214.6 359.8h0M188.6 384.7h0M207.2 368.2h0M206.3 380.3h0M183.6 382.8h0M211.9 363.5h0M205.5 382.1h0M201.9 373.5h0M210 373.6h0M221.1 371.5h0M211.5 360.2h0M207.8 373.4h0M195.5 374h0M214.2 380.8h0M203.8 378.9h0M215.2 379.1h0M193.2 371.3h0M207.4 384.1h0M194.9 375.8h0M207.5 382.6h0M213.7 377.2h0M192.1 378h0M219 370.8h0M192.1 365.7h0M182 374.3h0M196.9 370.7h0M200 370.9h0M199.9 377.5h0M211.3 372h0M219.4 368.9h0M175.6 368.5h0M197.2 378.8h0M189.1 367.8h0M215.8 372.6h0M195.2 378.5h0M201.8 372.8h0M208.9 378.6h0M207.7 378.1h0M188.9 390.6h0M203.6 371.3h0M211.1 375.8h0M211.5 368.9h0M193.8 375.4h0M205 382.8h0M177.1 372h0M197.2 370.3h0M204.4 370.3h0M193.2 367.6h0M205.9 375.2h0M204.1 367.8h0M196 377.6h0M205.2 376.2h0M220.8 369.7h0M197.7 386.7h0M198.5 386.1h0M202.1 379.2h0M212.4 373h0M197.6 373.8h0M202.4 375.1h0M189.8 378.6h0M205.5 370.4h0M196.8 382h0M188.5 385.7h0M197.9 374h0M203.8 368.2h0M219.8 363.6h0M233.8 375.9h0M221.4 372.6h0M232.6 369.6h0M224.6 368.5h0M238 360h0M230.3 367.3h0M238.9 366.4h0M223.2 361.8h0M225.9 355.4h0M232.1 365.1h0M236.4 366.6h0M220.3 367.7h0M236.6 363h0M225.1 365.8h0M227.7 369.5h0M218.7 362.5h0M232.5 362.7h0M220.7 374.5h0M223.6 367.9h0M221.8 369h0M228.7 365h0M231.7 368.7h0M226.4 364.1h0M235.9 360.9h0M215 355.6h0M224.9 367h0M236.2 353.2h0M232.2 356.1h0M225.4 368.6h0M217.5 372.6h0M226.9 366.5h0M240.4 356.5h0M223.1 363.8h0M232.1 362h0M223.3 369.6h0M221.3 362.1h0M227.8 366.7h0M235.5 361.9h0M222.8 357.3h0M224.7 369.9h0M222.2 361.1h0M218.5 374.8h0M231.2 365.7h0M223.8 358.4h0M236.5 368.2h0M221.4 369h0M220 363.3h0M229.5 368.3h0M219.4 364.5h0M228.4 350.3h0M234.4 355.7h0M230.5 352.8h0M233.3 350.4h0M233 346.3h0M228.5 356.3h0M227.9 344.9h0M234.6 357.2h0M230.2 348.5h0M231.4 351.5h0M229.7 352.1h0M227.8 351.6h0M248.5 370.8h0M252.1 374.3h0M244.8 373.3h0M247.6 372h0M232.9 375h0M252.7 373.3h0M246.8 370.3h0M248 374.5h0M254.9 370.2h0M250.4 368.4h0M255.4 371.4h0M245 374.1h0M247.1 370.9h0M251.6 375.3h0M242.5 371h0M245.1 375h0M247.3 369.6h0M253.8 371.6h0M234.9 369.6h0M250.5 369.8h0M251.4 374.8h0M246 372.5h0M238.7 368.9h0M247.4 367.1h0M251.7 369.1h0M246.9 372.3h0M255.6 373.2h0M194.3 399.2h0M189.6 397.7h0M191.3 396.2h0M192.4 399.7h0M193.6 398.2h0M200.6 399.5h0M194.7 394.3h0M200.3 402.6h0M189.6 404.7h0M200 402.2h0M188.5 403.5h0M195.2 391.5h0M200.1 408.4h0M197 388.4h0M193.4 395.8h0M198.2 411h0M191.7 407.1h0M191.3 417.8h0M196.9 423.3h0M191.1 417.9h0M191.8 417.9h0M192.8 423h0M190.6 416.3h0M190.8 428.6h0M191.8 417.7h0M190.8 410.1h0M187.5 413.2h0M189.3 417.9h0M191.4 417.5h0M187.4 411.1h0M190.4 423.6h0M83.4 431.7h0M71.4 424.1h0M75.7 428.8h0M72.2 437.8h0M77.7 423.9h0M85.6 456.6h0M72.7 453.4h0M90.3 434.6h0M95.9 441.8h0M100.3 462h0M97.9 451.5h0M90.7 473.3h0M90.6 450h0M66.3 457.9h0M68.4 467.5h0M80.5 441.8h0M96.3 461.1h0M75.1 442.4h0M86.9 451.3h0M85.7 460h0M104.6 447.8h0M96.6 468.7h0M90.6 446.4h0M92 445.4h0M52.8 458.3h0M112.8 456h0M91.3 458.5h0M81.7 451.7h0M85.1 483h0M87.6 463.1h0M83 473.4h0M87.5 481.1h0M72.7 473.1h0M75.2 477.6h0M80.2 472.4h0M78.6 476.1h0M92.7 471.6h0M106.4 484.1h0M108.4 467h0M105.6 471.4h0M105.2 471.8h0M105.6 463.8h0M101.9 471h0M108.1 468.4h0M100.3 459h0M108 446.6h0M107 466.1h0M113.3 467.5h0M111.5 472.9h0M52.4 469.6h0M64.2 473.3h0M59.7 465.8h0M211.1 453.4h0M209 453.5h0M208 451.1h0M210.6 444.8h0M216 436.9h0M196.7 448.3h0M212.6 458.8h0M225.1 439.1h0M210.8 454.6h0M198.5 448.8h0M219.1 449.5h0M193.8 449.8h0M192.7 449h0M200.2 454.3h0M216.1 450.9h0M207 441.1h0M197.5 442h0M204.6 458.7h0M212.2 455.3h0M204.4 446.2h0M210.6 453.2h0M192.6 451.6h0M206.9 447.7h0M210.5 450.7h0M204.3 453.2h0M203.4 453.3h0M205.1 445.5h0M217.6 459.9h0M209.6 448.8h0M215.4 442.5h0M200.5 446.1h0M199.5 460.8h0M210.6 451.8h0M215.1 451.1h0M199.6 459.5h0M218.7 446.2h0M202.5 450.2h0M207.9 445.4h0M199.7 458.8h0M202.2 461.3h0M194.2 445.2h0M209.7 437.3h0M212.6 451.4h0M210.2 453.2h0M200.5 436.6h0M233.3 447.4h0M216 452.3h0M202.2 446.9h0M205.3 455.2h0M216.6 444.7h0M211 452.9h0M211 442.5h0M198.5 445.1h0M202.7 457.9h0M204.1 450.7h0M216.3 457.5h0M196 443.4h0M214.3 443.7h0M208 445.7h0M208.5 446.3h0M201.8 454.4h0M202.4 453.2h0M204.8 462.3h0M193.9 458.4h0M203.4 465.4h0M190.5 466.5h0M194.5 451.5h0M188.8 477.1h0M192.5 461.6h0M191 464h0M187 459.4h0M203.8 460.9h0M202.8 462.5h0M192.3 457.5h0M187 476.4h0M192.7 478.5h0M194.6 461.7h0M195 464.7h0M207.4 462.7h0M197.6 463.2h0M203.3 461.4h0M197.1 461.2h0M191.6 461.3h0M197 467h0M217.5 458.7h0M189.1 474.3h0M201 458.1h0M204.2 468.4h0M198.1 459.2h0M190.8 464.1h0M202.2 466.7h0M205.3 467.4h0M183.2 463h0M201.4 464.8h0M204.2 465.8h0M197.8 452.9h0M199 470.2h0M190.6 443.9h0M194.8 459.2h0M190.1 468.6h0M193 465.7h0M204.2 467.1h0M193.7 457.2h0M208.1 458h0M195.1 464.8h0M194.4 462.4h0M193.2 453.7h0M183.5 483.3h0M187.6 479.4h0M191.7 487.4h0M193.3 474.4h0M192.3 477.7h0M189.2 483.5h0M184.2 478.3h0M186.5 476.4h0M186.6 484.9h0M187.4 489.8h0M186.4 469h0M184.7 482h0M188.4 475.2h0M191.9 478.1h0M185.3 489.8h0M193.3 486.4h0M187.9 479.4h0M215.5 443.5h0M218.8 448.8h0M219.8 443.8h0M214.7 448.2h0M213 440.1h0M216.7 448.1h0M217 448.3h0M218.6 438.6h0M213.9 443.5h0M214.1 445.5h0M213.1 443.2h0M215.7 445.7h0M221.1 446.8h0M214.7 443h0M215.1 447.6h0M215.1 448.6h0M220.2 443.7h0M214.8 447.6h0M218.2 447.5h0M210 445.9h0M215.9 440.4h0M215.7 441h0M217 441.2h0M186.9 434h0M172.3 439h0M183 434.6h0M179.1 439.2h0M172.2 437.8h0M177.7 438.4h0M169 434.5h0M148.9 329.7h0M172.9 339.5h0M164.2 340.2h0M133.3 324.9h0M137.3 323.9h0M147.9 333h0M151.8 330.3h0M181.5 348h0M174.3 344.3h0M144.8 330.7h0M150.1 334.6h0M182.7 349.7h0M148.2 332.8h0M157.4 335.2h0M136.4 328.8h0M162.2 337.1h0M140.5 330.8h0M140.7 326.4h0M85.2 456.9h0M142.5 443.6h0M92.3 398.1h0M193 420.9h0M142.1 423.1h0M88.8 430.9h0M103.3 457.6h0M70.6 422.8h0M39.6 424.5h0M132.8 447.1h0M97.5 426.1h0M126.8 404.4h0M83.3 414.1h0M145.6 437.6h0M75.6 431.8h0M118.3 472.2h0M90.2 453.4h0M121.1 402.5h0M126.6 438h0M78.8 414.3h0M85.7 376.9h0M149.9 394.8h0M126.2 426.9h0M120.8 416h0" stroke="#ec5a40" stroke-width="1.15" stroke-linecap="round" fill="none"/>
<rect x="292" y="403.5" width="9" height="48" fill="url(#redbar)"/>
<text x="303" y="422.3" font-size="12.5" fill="#3a3a3a">2</text>
<text x="303" y="440.5" font-size="12.5" fill="#3a3a3a">1</text>
<text x="303" y="455.8" font-size="12.5" fill="#3a3a3a">0</text>
<path d="M22.9 461.5V512.8H72" stroke="#222" stroke-width="1.3" fill="none"/>
<path d="M22.9 457l-3 8h6z M77.5 512.8l-8 -3v6z" fill="#222"/>
<text x="22.4" y="522.5" font-size="11" fill="#444">UMAP1</text>
<text transform="translate(20.4 493.5) rotate(-90)" font-size="11" text-anchor="middle" fill="#444">UMAP2</text>
<rect x="448.3" y="291.1" width="92" height="29" fill="#ebe7ee"/>
<text x="494.3" y="317.1" font-size="29" text-anchor="middle" fill="#1a1a1a">TAGLN</text>
<use href="#umapbase" x="317" y="233.5"/>
<path d="M437.5 368.2h0M439.2 363.9h0M422.5 359.4h0M418.6 363.4h0M431.3 362.4h0M429.9 372.4h0M423 380.9h0M442.7 378.3h0M423.2 360.8h0M428.8 353.4h0M450.9 374h0M433.6 367.7h0M447.6 358.4h0M428.6 351.4h0M423.1 362.4h0M416.2 357.8h0M438.3 354.2h0M420.2 339.5h0M453.5 352.7h0M444.4 362h0M447.6 374.3h0M439.4 374.2h0M428.1 384.2h0M422.5 375.4h0M419.4 385.1h0M454 362.5h0M443.8 365.8h0M512.6 381.4h0M514.5 395.7h0M514.9 389.8h0M503 376h0M499.4 367.2h0M502.5 381.1h0M500.9 369.4h0M498.7 390.4h0M489.9 388h0M497 388.4h0M507.9 381.8h0M496.8 387.3h0M507.9 368.8h0M497 378.9h0M498.6 366.9h0M495.6 375.8h0M497.9 384.5h0M505.1 374.2h0M513.7 389.1h0M509.5 375.4h0M493.7 382.8h0M507.1 393.2h0M511 382.5h0M511.3 389.6h0M500.5 382.4h0M504.1 383.4h0M502.3 391.5h0M492.9 368.2h0M500 376.1h0M503.3 384.5h0M514 372.7h0M504.5 378.9h0M507 383.8h0M500.3 376.2h0M507 386.5h0M502.2 385.7h0M504.5 380.4h0M512.9 369.9h0M506.9 387.5h0M514.9 391.7h0M507.4 373.2h0M498.4 385h0M503.1 385.9h0M501.4 374.1h0M510.4 393.3h0M504.4 386.6h0M506.2 390.7h0M497.2 397.4h0M501.4 378.2h0M502 386.6h0M503.2 381.8h0M506.8 374.2h0M497.5 375.8h0M504.2 385.6h0M501.9 381h0M508.4 377.5h0M495 384.1h0M499.8 393.2h0M499.8 381h0M505.2 380.9h0M501.7 376.4h0M511.5 383.4h0M496.7 378.4h0M510.6 374.8h0M506.5 382.2h0M495.6 381.9h0M518.3 375.3h0M531.6 359.8h0M514.9 377.8h0M528.5 360.6h0M528.9 363.5h0M527 373.6h0M533.9 371.1h0M528.5 360.2h0M520 368.8h0M503.2 369h0M517.3 371.9h0M512.5 374h0M525.7 376.9h0M524.4 384.1h0M529.9 374.2h0M517.7 384.6h0M509.1 378h0M536 370.8h0M514.5 381.8h0M509.1 365.7h0M526.1 373.5h0M524.7 373.9h0M523.2 365.3h0M514 379.3h0M516.9 377.5h0M531 363.8h0M527.9 374.6h0M505.9 379.6h0M492.6 368.5h0M518.9 369.8h0M516.4 381.4h0M510.2 385.5h0M528.6 378.5h0M530.3 376.1h0M506.4 371.5h0M531.8 367.5h0M528.7 371h0M512.1 374.6h0M524.7 378.1h0M505.9 390.6h0M519.2 371.2h0M510.8 375.4h0M522 382.8h0M494.1 372h0M507.1 372.9h0M522.3 368.3h0M525.6 379.2h0M503.8 366h0M511.6 377.8h0M505 364.5h0M522.9 380.6h0M507.1 375.1h0M519.3 373.7h0M514.6 373.8h0M519.4 375.1h0M533.4 382.9h0M529.1 382.2h0M505.5 385.7h0M527.1 389.3h0M514.9 374h0M518.6 374.6h0M526.7 371.8h0M510.6 374.5h0M542.5 374.2h0M534.3 368.7h0M539.5 368.7h0M541.6 368.5h0M552 371.8h0M542.5 371.1h0M547.3 367.3h0M540.2 358.3h0M548.6 359.9h0M540.2 361.8h0M545.4 364.8h0M541.8 368.7h0M550 366.3h0M533.7 367.4h0M543.9 364.7h0M543.3 365.9h0M549.1 365.1h0M547.5 376.1h0M541.1 359.6h0M551.7 362.7h0M542.4 352.4h0M553.4 366.6h0M537.3 367.7h0M547.7 362.8h0M542.6 362.7h0M541.6 371.7h0M535.7 362.5h0M547.2 367.2h0M538.8 369h0M555.4 364h0M552.6 369.8h0M540.6 367.2h0M540 359.1h0M541.9 367h0M554.9 366.8h0M547.7 360.4h0M548.1 372.2h0M553.2 353.2h0M549.2 356.1h0M542.4 368.6h0M548.5 355.9h0M557.4 356.5h0M540.1 363.8h0M550.4 355.8h0M541.9 373h0M539.5 369.7h0M537 354.9h0M549.1 362h0M540.3 369.6h0M544.8 366.7h0M540.3 369.2h0M552.5 361.9h0M539.2 361.1h0M535.5 374.8h0M540.8 358.4h0M537 363.3h0M551.8 360.2h0M541.4 366.5h0M549.9 355.2h0M547.8 351.2h0M543.1 352.7h0M548 349.4h0M547.5 352.8h0M549.5 355.9h0M551.6 357.2h0M548.2 356.1h0M548.4 351.5h0M546.5 345.3h0M547.8 349.7h0M547.3 353.2h0M571.5 375.4h0M567.4 369.9h0M570.7 369.2h0M567.8 376.7h0M563 372h0M567.6 373.2h0M564.6 372h0M569.7 373.3h0M564.3 374h0M566.4 371.4h0M556.4 371.6h0M561.8 372.2h0M567.4 368.4h0M572.4 371.4h0M562 374.1h0M559.5 371h0M562.5 373.5h0M576 373.2h0M565.7 371.8h0M551.9 369.6h0M553.9 373.4h0M569.5 373h0M567.5 369.8h0M568.4 374.8h0M563 372.5h0M561.3 370.9h0M561.9 371.2h0M568.7 369.1h0M563.2 372.5h0M563.9 372.3h0M569.3 373.1h0M508.7 394.1h0M511.7 402.7h0M512.8 395.8h0M515.1 394.4h0M508.3 396.2h0M510.4 395.8h0M511.6 389.1h0M509.4 399.7h0M511.8 395.4h0M512.8 397.4h0M515.9 400.5h0M514.6 403h0M511.2 387.3h0M512.1 395.7h0M517.6 399.5h0M517.3 405h0M517.3 402.6h0M506.6 404.7h0M513.1 405.4h0M513.4 405.9h0M512.2 391.5h0M508.7 418.4h0M514 388.4h0M511.6 403.1h0M506.8 399.6h0M506 393.7h0M515.2 411h0M508.7 407.1h0M508.8 415.8h0M513.9 423.3h0M512.5 417.6h0M508.9 418.5h0M505.5 426.3h0M508.1 417.9h0M510.4 424h0M506.2 417.2h0M508.8 417.9h0M507.8 428.6h0M508.2 416.6h0M506.3 417.9h0M504.3 422h0M507.9 419.6h0M507.5 416.6h0M504.4 411.1h0M507.4 423.6h0M400.4 430.8h0M374.1 439.8h0M377 432.5h0M392.9 423.7h0M409.9 434.2h0M401.4 458.5h0M391.8 449h0M379.1 453.6h0M417.7 453.3h0M414.9 451.5h0M413.4 445.5h0M417.7 459.8h0M412.2 458.9h0M390.3 460.4h0M403.1 451.3h0M409.4 437h0M378.8 468.7h0M395.7 472.5h0M397.2 472.4h0M398.9 476.4h0M433.4 462.6h0M413.1 458.8h0M438.2 459.5h0M416.4 460.5h0M428.9 462.7h0M417.2 472.6h0M418.5 457.6h0M387.1 450.2h0M528.8 438.8h0M520.2 452.1h0M536.4 443.5h0M518.6 461.4h0M523.2 448h0M513.3 456.4h0M523.6 446.9h0M537.5 450.9h0M529.6 458.8h0M529 444h0M542.1 439.1h0M529.8 457.1h0M515.5 448.8h0M538.2 461.3h0M527.3 447.1h0M515.8 459.9h0M525.8 451.8h0M510.8 449.8h0M519.4 453.8h0M533.1 450.9h0M526.6 455.4h0M514.5 442h0M528.2 451.7h0M529.7 441.4h0M531.5 454.6h0M521.6 458.7h0M530.6 450.4h0M522.6 455.7h0M527.5 450.7h0M520.4 453.3h0M519.9 455.8h0M525 435.7h0M516.5 444.8h0M520.2 449.2h0M527.6 451.8h0M519.5 450.2h0M522.1 449.4h0M519.2 461.3h0M538.8 454.5h0M532.5 451.3h0M525.3 440.3h0M541 441.2h0M511.2 445.2h0M521.8 452.1h0M523.6 451.5h0M529.6 451.4h0M527.9 448.6h0M527.2 453.2h0M521 452.7h0M550.3 447.4h0M525 448.2h0M514 453.3h0M519.2 446.9h0M522.3 455.2h0M540 445.5h0M515.8 454.3h0M511.5 458.1h0M543.1 445.6h0M520.8 451.5h0M529.6 438.9h0M525.5 457h0M513 443.4h0M528 447.4h0M526.7 446h0M531.3 443.7h0M523.5 442h0M533.1 453.3h0M525.5 446.3h0M515.6 458.7h0M550.4 443.4h0M521.8 462.3h0M525.3 470.7h0M507.5 466.5h0M516.9 469.7h0M523.2 459.9h0M518.6 462.5h0M526.4 471.4h0M502.6 465.9h0M508 464h0M511.3 461.5h0M532.2 461h0M509.3 457.5h0M510.6 470.5h0M509.1 449.7h0M503.3 457.9h0M518 465.3h0M508.6 461.3h0M521.4 462.3h0M514.1 462.3h0M514 467h0M507.6 471.5h0M523.9 463.8h0M512.9 454.5h0M515.9 465h0M510.1 466.6h0M521.2 468.4h0M515.1 459.2h0M508.8 452.5h0M519.2 466.7h0M512.8 469.7h0M510.4 465h0M520.2 455.2h0M518.2 470.6h0M521.2 465.8h0M514.3 465.3h0M514.8 452.9h0M509.8 463.2h0M511.8 456.3h0M515.6 462.5h0M512.2 466.9h0M507.1 468.6h0M510.6 464.5h0M516.6 457.5h0M512.1 464.8h0M505.1 476.1h0M505.8 480.9h0M500.5 474.8h0M503.8 492.4h0M509.6 483.6h0M509.3 473.1h0M501 483.5h0M505.9 479.3h0M509.5 477.1h0M501.3 483.1h0M502.5 476.8h0M503.4 469h0M505 483.3h0M505.4 475.2h0M505 489.3h0M500.4 473.3h0M499.7 467.8h0M503.7 480.9h0M500.3 477.6h0M505 483.9h0M502.3 489.8h0M510.8 470.9h0M501.1 480.8h0M507.8 480.1h0M501.5 484.5h0M539.2 444.7h0M535.8 448.8h0M530.4 441.7h0M534.5 444.7h0M530 440.1h0M542 450.8h0M535.6 438.6h0M522.1 447.2h0M536 445.7h0M534.2 443.3h0M531.1 445.5h0M530.9 444.2h0M529.2 449.8h0M534.8 443.8h0M537.2 443.7h0M527 445.9h0M539.6 443.8h0M532.9 440.4h0M532 442.9h0M535.2 448.1h0M531.3 442.5h0M530 444.7h0M530.6 443h0M529 445.3h0M531.9 440.6h0M529.6 440.9h0M530.5 442.3h0M527.5 441.4h0M490 432.5h0M494.9 435.3h0M497.3 434.6h0M494.5 434.8h0M484.2 434.8h0M489.9 339.5h0M469.9 330.3h0M459.9 331.3h0M477.4 337.9h0M494.5 345.4h0M456.9 328.8h0M471 337.2h0M475.6 335.2h0M468.8 330.3h0M470.1 334.9h0M498.5 348h0M469.5 337.2h0M491.3 344.3h0M481.4 338.5h0M479.5 341.4h0M475.1 337.5h0M480.3 340.4h0M469.6 335.8h0M474 337.3h0M474.4 335.2h0M502 344h0M457.5 330.8h0M454.8 330.4h0M452.1 325.4h0M497.7 347.1h0M495.6 344.8h0M496.1 437.4h0M413.2 428h0M365.2 447.3h0M473.8 498h0M443.5 410.2h0M356.6 424.5h0M429 465.5h0M503.3 414.7h0M394.4 408h0M460.3 435.2h0M388 439.2h0M435.3 472.2h0M395.8 414.3h0M402.7 376.9h0M437.7 463.7h0M464.7 432.9h0M421.5 451.9h0M489.5 470.7h0" stroke="#f3a092" stroke-width="1.15" stroke-linecap="round" fill="none"/>
<path d="M440.6 373.7h0M414.5 354h0M420.2 364.4h0M431.9 354.5h0M436.6 370.1h0M424.2 353.6h0M441.3 357.4h0M416.7 364.6h0M430.5 351.9h0M416.3 351.7h0M424.9 358.9h0M442.2 356.5h0M458.5 364.2h0M447.3 349.2h0M453.2 351.7h0M431.9 387.8h0M435.6 387.7h0M426.4 375.2h0M448.1 325.9h0M456.8 368.3h0M506.4 383.6h0M513.4 387.3h0M502.6 378.3h0M496.4 372.9h0M488.3 384.6h0M502.5 401.5h0M508.7 395.4h0M497.2 389.6h0M497.4 389.8h0M497.9 376.4h0M494.1 390.6h0M511.7 377.6h0M519 391.1h0M505 375.3h0M510.7 372.5h0M491.7 376.7h0M506.9 392.2h0M506.5 378.9h0M502.8 393.4h0M502.6 386.9h0M497 389.1h0M497.1 387.8h0M504.4 382.9h0M505 378.2h0M521.7 386.9h0M512.8 377.7h0M510 364.8h0M502.6 383.3h0M489.9 376.7h0M487.2 385.8h0M496.6 378h0M514.8 393.4h0M498.9 382.7h0M504.2 364.5h0M494 373.7h0M517.7 385.6h0M507.3 400.2h0M504.8 373.8h0M500.2 380.1h0M503.1 389.9h0M506.3 376.9h0M498.4 382.5h0M518.6 381.1h0M505.5 382.2h0M503.3 381.2h0M505.1 376h0M507.6 393.2h0M502.8 377.1h0M505.6 383.3h0M496.1 375.1h0M503.2 379.4h0M511.3 368.9h0M509.7 383.1h0M509.2 368.8h0M496.3 391.1h0M510.3 378.4h0M494 381.8h0M506.5 380.9h0M502.8 395h0M503.2 377.6h0M528.5 381.6h0M530.1 367.6h0M505.6 384.7h0M524.2 368.2h0M523.3 380.3h0M500.6 382.8h0M522.5 382.1h0M517.5 370.2h0M518.9 373.5h0M512.2 377.2h0M538.1 371.5h0M524.8 373.4h0M528 372.4h0M518.8 384.4h0M531.2 380.8h0M532.2 379.1h0M510.2 371.3h0M511.9 375.8h0M516.4 368.6h0M519 378.4h0M513.8 380.6h0M526.6 369.5h0M513 371.3h0M523.8 375.5h0M528.6 368.1h0M525.9 379.2h0M526.4 366.8h0M521.5 364h0M526.3 363.3h0M513.6 375.9h0M526.2 376.9h0M528.3 372h0M524.7 373.5h0M536.4 368.9h0M511.6 373.4h0M517.5 368.9h0M538.2 372.5h0M525.9 378.6h0M513.8 367.9h0M528.1 375.8h0M526.2 376.6h0M526.8 375.4h0M510.2 367.6h0M522.9 375.2h0M515.7 371h0M513 377.6h0M537.8 369.7h0M525.8 369.6h0M524.5 378.8h0M529.4 373h0M519.2 377.4h0M524.5 372.2h0M522.5 370.4h0M513.8 382h0M517.6 378.5h0M541.5 365.5h0M542.9 366.1h0M555 360h0M534.4 369.6h0M541.8 359.9h0M555.5 373.9h0M542.9 355.4h0M547.5 367.6h0M543.7 361.5h0M544.2 352.6h0M543.7 368.1h0M553.7 362.1h0M538.2 360.2h0M540.8 354h0M553.6 363h0M549.6 367.2h0M539.6 367.3h0M539.3 356.6h0M544.7 369.5h0M549.5 362.7h0M549.1 369.8h0M548.2 370.9h0M540.6 367.9h0M547 372.6h0M538.9 365.6h0M541.9 368h0M545.7 365h0M553.1 363.4h0M548.7 368.7h0M543.4 364.1h0M552.9 360.9h0M549.6 374.3h0M536.6 370.1h0M534.5 372.6h0M543.9 366.5h0M532.4 360.6h0M536.3 364.6h0M526.3 370.4h0M537.9 365.9h0M538.3 362.1h0M559.3 361.8h0M545 363.6h0M541.7 369.9h0M551.2 361.8h0M548.2 365.7h0M553.5 368.2h0M538.4 369h0M539 363.7h0M546.9 355.5h0M544.8 349.8h0M551.4 355.7h0M550.3 350.4h0M550.3 351.5h0M545.6 349.5h0M550 346.3h0M550.4 347.4h0M550.8 352.9h0M546.2 349.9h0M548.3 354.9h0M548.9 347.9h0M565.5 370.8h0M562.6 370.9h0M562 373.5h0M569.1 374.3h0M570.8 371.2h0M549.9 375h0M560.2 369.2h0M558.8 370.3h0M568.6 375.3h0M557.1 377.4h0M562.1 375h0M564.3 369.6h0M570.8 371.6h0M558.9 375h0M562.3 371.1h0M564.4 367.1h0M567 373.2h0M570.2 370.8h0M560.4 376.2h0M560.5 371.2h0M572.6 373.2h0M563.2 372.5h0M511.3 399.2h0M517.4 396.1h0M513.4 401.2h0M513.7 384h0M504.7 397.6h0M513.6 399.7h0M510.6 398.2h0M516.4 397.8h0M515.3 400.2h0M505.5 403.5h0M517.1 408.4h0M513.3 396.7h0M510.4 395.8h0M508.3 417.8h0M508.3 413.8h0M515.6 418.4h0M509.8 423h0M506.3 420.9h0M508.8 417.7h0M506.4 419.2h0M504.5 413.2h0M506.5 405.4h0M508.4 417.5h0M395.7 428.1h0M387.5 432.4h0M384.7 429.6h0M392.7 428.8h0M402.2 455.8h0M390.8 461.2h0M414.3 450h0M415 449.1h0M381.7 470.9h0M419.6 445.5h0M404.5 459.3h0M398.7 448.7h0M394 448.8h0M410.8 455.9h0M402.8 454.9h0M394 455.4h0M398.6 479.7h0M395.3 478.3h0M397.8 471.5h0M388 467.2h0M398.3 475.5h0M422.5 473.6h0M384.5 458.7h0M386.7 461.9h0M525 451.1h0M527.6 444.8h0M530.4 450.6h0M533 436.9h0M522.3 453.4h0M535.7 446.9h0M516.1 453h0M523.9 449.9h0M527.5 443.5h0M521.1 452.1h0M527.8 454.6h0M517.2 454.3h0M525.3 455.3h0M524.9 450.3h0M524 441.1h0M528.4 456.9h0M523.8 441.2h0M509 435h0M526.9 455.6h0M509.4 455.9h0M521.4 450.9h0M523.9 447.7h0M519 434.7h0M521.3 453.2h0M522.1 445.5h0M516.6 459.5h0M518.6 455.8h0M518.8 455.4h0M522 453.8h0M529.4 452.1h0M534.8 442h0M531.1 457h0M517.5 436.6h0M513.1 463.3h0M524.4 447.1h0M528.6 453.3h0M518.8 457.4h0M532.9 444.3h0M515.5 445.1h0M538.1 443.5h0M536.6 444.7h0M533.3 457.5h0M525 445.7h0M502 475h0M515.8 458.4h0M514.1 458.8h0M515.7 474.5h0M520.4 465.4h0M514.1 461.3h0M505.8 477.1h0M525.9 462h0M509.5 457.4h0M518.4 457.4h0M517.7 453.5h0M530 459.4h0M509.5 461.6h0M515.9 466.8h0M520.8 460.9h0M508.8 461.4h0M519.8 462.5h0M521 455.3h0M509.7 478.5h0M515.3 463.5h0M524.4 462.7h0M514.6 463.2h0M520.3 461.4h0M519.3 475.4h0M526.7 473.7h0M512.9 477.5h0M523.1 469.7h0M512.1 459.6h0M513.6 465.7h0M503.9 455.9h0M519.3 468.9h0M507.6 467.9h0M515.1 457.9h0M510.2 467.4h0M507.8 464.1h0M522.3 467.4h0M509.4 466.3h0M516 470.2h0M515.5 466.3h0M511.8 459.2h0M523.8 464.8h0M528.4 462.6h0M510.7 457.2h0M511.4 462.4h0M510.2 453.7h0M510.6 480h0M500.7 486h0M506.2 483.5h0M499.5 480.3h0M505.5 473.6h0M504.4 489.8h0M501.7 478.1h0M499 481.4h0M501.7 482h0M502.3 485.1h0M502.7 471.1h0M505.2 480.4h0M504.8 471.1h0M507.8 469.8h0M505.3 481.6h0M506.4 473.5h0M504.6 475.2h0M510.3 486.4h0M503.2 485.4h0M533.5 442.3h0M536.8 443.8h0M531.7 448.2h0M535.9 445.9h0M532.9 447.2h0M529 449.5h0M537.1 438.9h0M524.2 444.4h0M534.3 443h0M533.4 442.1h0M534.6 444h0M530.1 443.2h0M535.9 450.8h0M538.1 446.8h0M531.7 443h0M532.1 448.6h0M531.8 440h0M535.2 447.5h0M535.2 443.3h0M532.7 441h0M534 441.2h0M536 447.3h0M500.3 435.1h0M489.4 437.6h0M499.8 435.8h0M486.9 339h0M488.3 344.7h0M481.2 340.2h0M452.9 327.9h0M452.3 328h0M464.9 333h0M454.5 327h0M455.6 326.7h0M473.4 332.6h0M496.6 343.1h0M474.8 335.7h0M490.4 340.9h0M412 404.8h0M460.3 424.6h0M411.8 427.6h0M510 420.9h0M572.2 409.8h0M455.6 499.2h0" stroke="#ec5a40" stroke-width="1.15" stroke-linecap="round" fill="none"/>
<rect x="609" y="403.5" width="9" height="48" fill="url(#redbar)"/>
<text x="620" y="405.4" font-size="12.5" fill="#3a3a3a">5</text>
<text x="620" y="415.1" font-size="12.5" fill="#3a3a3a">4</text>
<text x="620" y="426" font-size="12.5" fill="#3a3a3a">3</text>
<text x="620" y="436.8" font-size="12.5" fill="#3a3a3a">2</text>
<text x="620" y="447.3" font-size="12.5" fill="#3a3a3a">1</text>
<text x="620" y="457.8" font-size="12.5" fill="#3a3a3a">0</text>
<path d="M339.9 461.5V512.8H389" stroke="#222" stroke-width="1.3" fill="none"/>
<path d="M339.9 457l-3 8h6z M394.5 512.8l-8 -3v6z" fill="#222"/>
<text x="339.4" y="522.5" font-size="11" fill="#444">UMAP1</text>
<text transform="translate(337.4 493.5) rotate(-90)" font-size="11" text-anchor="middle" fill="#444">UMAP2</text>
<rect x="966" y="57" width="780" height="538.4" fill="#2a0028"/>
<path d="M966 70.5h2M997 70.5h2M1013 70.5h2M1042 70.5h4M1061 70.5h2M1067 70.5h4M1077 70.5h2M1133 70.5h4M1147 70.5h4M1155 70.5h2M1173 70.5h2M1210 70.5h2M1251 70.5h1M1270 70.5h2M1278 70.5h2M1301 70.5h2M1345 70.5h2M1366 70.5h2M1379 70.5h2M1412 70.5h2M1432 70.5h2M1484 70.5h2M1494 70.5h2M1502 70.5h4M1531 70.5h2M1567 70.5h2M1608 70.5h2M1649 70.5h3M1672 70.5h4M1697 70.5h2M1722 70.5h2M1512 97.4h2M1555 97.4h2M1614 97.4h2M1635 97.4h4M1664 97.4h2M1726 97.4h2M1001 124.3h2M1085 124.3h2M1120 124.3h2M1187 124.3h2M1461 124.3h4M1567 124.3h2M1587 124.3h1M1598 124.3h2M1631 124.3h2M1645 124.3h2M1654 124.3h4M1660 124.3h2M966 151.2h2M1044 151.2h2M1124 151.2h4M1133 151.2h2M1137 151.2h2M1187 151.2h2M1202 151.2h2M1210 151.2h2M1222 151.2h1M1268 151.2h4M1283 151.2h4M1295 151.2h2M1311 151.2h1M1336 151.2h4M1356 151.2h4M1375 151.2h2M1385 151.2h2M1401 151.2h4M1410 151.2h2M1430 151.2h2M1447 151.2h2M1473 151.2h2M1479 151.2h7M1527 151.2h2M1533 151.2h2M1543 151.2h4M1561 151.2h2M1596 151.2h4M1614 151.2h4M1647 151.2h2M1652 151.2h2M1656 151.2h2M1682 151.2h2M1718 151.2h4M1724 151.2h2M1732 151.2h2M1260 178.1h4M1283 178.1h4M1347 178.1h2M1647 178.1h2M1666 178.1h2M1680 178.1h2M1691 178.1h4M968 205.1h2M976 205.1h4M1048 205.1h4M1059 205.1h2M1069 205.1h2M1094 205.1h6M1118 205.1h2M1137 205.1h4M1151 205.1h2M1208 205.1h4M1220 205.1h3M1274 205.1h4M1280 205.1h2M1285 205.1h2M1316 205.1h2M1356 205.1h2M1360 205.1h2M1377 205.1h2M1389 205.1h4M1418 205.1h4M1424 205.1h4M1447 205.1h2M1457 205.1h2M1492 205.1h2M1521 205.1h2M1552 205.1h2M1563 205.1h2M1573 205.1h8M1594 205.1h2M1641 205.1h2M1687 205.1h2M1701 205.1h2M1715 205.1h1M1724 205.1h4M1732 205.1h2M980 232h4M1005 232h2M1145 232h2M1177 232h2M1214 232h2M1341 232h2M1399 232h2M1412 232h2M1514 232h2M1537 232h2M1672 232h2M1173 258.9h2M1187 258.9h2M1200 258.9h2M1266 258.9h2M1270 258.9h2M1274 258.9h2M1305 258.9h7M1362 258.9h4M1368 258.9h4M1379 258.9h2M1397 258.9h2M1416 258.9h6M1430 258.9h4M1446 258.9h1M1451 258.9h2M1529 258.9h2M1533 258.9h4M1539 258.9h4M1629 258.9h2M993 285.8h4M1001 285.8h2M1073 285.8h2M1106 285.8h4M1167 285.8h2M1189 285.8h4M1256 285.8h4M1264 285.8h2M1274 285.8h4M1420 285.8h4M1444 285.8h3M1459 285.8h2M1549 285.8h2M1559 285.8h4M1602 285.8h4M1631 285.8h4M1668 285.8h2M1676 285.8h4M1713 285.8h3M985 312.7h2M1081 312.7h4M1110 312.7h2M1167 312.7h4M1223 312.7h2M1227 312.7h2M1249 312.7h2M1295 312.7h2M1385 312.7h4M1444 312.7h3M1492 312.7h6M1543 312.7h4M1606 312.7h4M966 339.7h4M974 339.7h4M1009 339.7h6M1019 339.7h1M1028 339.7h2M1046 339.7h2M1056 339.7h1M1069 339.7h2M1075 339.7h4M1081 339.7h2M1098 339.7h4M1104 339.7h4M1114 339.7h6M1122 339.7h4M1133 339.7h6M1141 339.7h2M1175 339.7h2M1196 339.7h8M1212 339.7h2M1229 339.7h4M1235 339.7h6M1243 339.7h2M1251 339.7h3M1282 339.7h5M1314 339.7h2M1349 339.7h2M1362 339.7h4M1391 339.7h2M1407 339.7h3M1418 339.7h2M1426 339.7h2M1451 339.7h4M1459 339.7h12M1502 339.7h4M1512 339.7h4M1557 339.7h2M1567 339.7h4M1579 339.7h4M1610 339.7h2M1662 339.7h2M1678 339.7h11M1697 339.7h2M1724 339.7h4M1054 366.6h2M1112 366.6h2M1218 366.6h2M1251 366.6h1M1289 366.6h2M1303 366.6h2M1311 366.6h1M1383 366.6h2M1506 366.6h2M1533 366.6h2M1590 366.6h4M1682 366.6h2M1177 393.5h2M1358 393.5h4M1379 393.5h4M1424 393.5h2M1428 393.5h2M1494 393.5h4M1500 393.5h2M968 420.4h2M1034 420.4h2M1054 420.4h3M1083 420.4h2M1098 420.4h4M1120 420.4h2M1347 420.4h4M1399 420.4h2M1407 420.4h3M1482 420.4h2M1618 420.4h2M980 447.3h2M989 447.3h2M1083 447.3h2M1092 447.3h2M1104 447.3h2M1169 447.3h2M1175 447.3h2M1179 447.3h2M1185 447.3h2M1206 447.3h2M1212 447.3h6M1245 447.3h4M1276 447.3h2M1283 447.3h4M1326 447.3h4M1336 447.3h2M1360 447.3h2M1420 447.3h2M1430 447.3h4M1463 447.3h2M1500 447.3h2M1575 447.3h2M1594 447.3h2M1633 447.3h4M1682 447.3h2M974 474.3h2M1017 474.3h2M1028 474.3h4M1131 474.3h2M1143 474.3h4M1167 474.3h2M1212 474.3h2M1243 474.3h4M1270 474.3h2M1314 474.3h2M1318 474.3h4M1328 474.3h4M1356 474.3h6M1379 474.3h2M1401 474.3h4M1436 474.3h2M1475 474.3h4M1488 474.3h2M1516 474.3h5M1527 474.3h4M1565 474.3h6M1600 474.3h2M1620 474.3h1M1631 474.3h2M1639 474.3h2M1649 474.3h3M1682 474.3h3M1691 474.3h2M1707 474.3h2M1730 474.3h2M972 501.2h4M984 501.2h1M989 501.2h2M1005 501.2h8M1032 501.2h2M1110 501.2h2M1124 501.2h4M1194 501.2h2M1212 501.2h2M1251 501.2h3M1280 501.2h3M1285 501.2h2M1293 501.2h4M1347 501.2h2M1395 501.2h2M1444 501.2h2M1465 501.2h4M1492 501.2h2M1604 501.2h2M1684 501.2h1M1726 501.2h4M972 528.1h2M985 528.1h4M997 528.1h6M1005 528.1h2M1036 528.1h2M1040 528.1h6M1057 528.1h2M1081 528.1h4M1094 528.1h2M1100 528.1h2M1131 528.1h4M1143 528.1h2M1167 528.1h2M1171 528.1h4M1183 528.1h4M1191 528.1h2M1198 528.1h4M1206 528.1h2M1227 528.1h4M1237 528.1h2M1272 528.1h4M1289 528.1h4M1320 528.1h2M1336 528.1h2M1349 528.1h6M1403 528.1h2M1440 528.1h2M1457 528.1h2M1633 528.1h2M1643 528.1h4M1676 528.1h2M1682 528.1h2M1689 528.1h2M1695 528.1h2M1324 555h4M1440 555h4M1482 555h2M1614 555h2M1684 555h1M966 581.9h2M991 581.9h2M1005 581.9h6M1019 581.9h3M1034 581.9h4M1042 581.9h2M1048 581.9h4M1054 581.9h2M1063 581.9h2M1071 581.9h2M1085 581.9h2M1094 581.9h2M1102 581.9h2M1114 581.9h2M1131 581.9h2M1149 581.9h8M1167 581.9h2M1177 581.9h4M1194 581.9h6M1202 581.9h4M1235 581.9h2M1241 581.9h4M1247 581.9h2M1252 581.9h4M1262 581.9h6M1270 581.9h2M1274 581.9h6M1282 581.9h1M1307 581.9h4M1316 581.9h2M1332 581.9h4M1341 581.9h4M1351 581.9h4M1360 581.9h4M1375 581.9h2M1409 581.9h1M1426 581.9h4M1447 581.9h6M1469 581.9h4M1549 581.9h2M1554 581.9h3M1577 581.9h6M1585 581.9h2M1598 581.9h2M1602 581.9h2M1639 581.9h2M1645 581.9h2M1651 581.9h1M1660 581.9h2M1726 581.9h4" stroke="#240024" stroke-width="27" fill="none"/>
<path d="M968 70.5h2M982 70.5h2M1019 70.5h3M1026 70.5h4M1040 70.5h2M1071 70.5h2M1085 70.5h7M1122 70.5h4M1137 70.5h4M1159 70.5h2M1162 70.5h2M1193 70.5h3M1204 70.5h2M1218 70.5h4M1227 70.5h2M1274 70.5h2M1305 70.5h2M1340 70.5h5M1362 70.5h2M1410 70.5h2M1455 70.5h2M1459 70.5h4M1547 70.5h4M1552 70.5h7M1583 70.5h2M1598 70.5h4M1606 70.5h2M1610 70.5h4M1618 70.5h2M1621 70.5h6M1631 70.5h8M1656 70.5h2M1664 70.5h2M1676 70.5h2M1680 70.5h2M1707 70.5h4M1728 70.5h4M1736 70.5h4M1173 97.4h2M1311 97.4h1M1314 97.4h2M1473 97.4h4M1541 97.4h2M1575 97.4h2M1602 97.4h10M1645 97.4h4M1680 97.4h4M1724 97.4h2M991 124.3h2M1007 124.3h4M1059 124.3h2M1145 124.3h2M1222 124.3h1M1662 124.3h2M1682 124.3h2M1019 151.2h1M1030 151.2h2M1379 151.2h2M1525 151.2h2M1547 151.2h2M1569 151.2h8M1649 151.2h2M1011 178.1h6M1087 178.1h4M1135 178.1h2M1167 178.1h4M1252 178.1h2M1270 178.1h2M1276 178.1h4M1287 178.1h4M1299 178.1h2M1311 178.1h7M1324 178.1h2M1393 178.1h4M1506 178.1h2M1579 178.1h4M1637 178.1h4M1724 178.1h8M995 205.1h2M1017 205.1h2M1075 205.1h6M1083 205.1h2M1092 205.1h2M1124 205.1h2M1179 205.1h2M1202 205.1h2M1223 205.1h2M1243 205.1h4M1258 205.1h2M1301 205.1h2M1324 205.1h2M1332 205.1h2M1341 205.1h2M1349 205.1h4M1358 205.1h2M1453 205.1h4M1502 205.1h2M1512 205.1h2M1519 205.1h2M1533 205.1h2M1559 205.1h4M1596 205.1h2M1612 205.1h2M1680 205.1h2M1709 205.1h4M1734 205.1h2M1744 205.1h2M974 232h4M989 232h2M993 232h2M1007 232h2M1100 232h2M1120 232h2M1128 232h7M1149 232h2M1171 232h4M1208 232h2M1212 232h2M1231 232h4M1247 232h4M1272 232h2M1280 232h2M1285 232h4M1307 232h2M1314 232h6M1379 232h2M1409 232h3M1481 232h1M1488 232h2M1552 232h2M1590 232h2M1594 232h2M1643 232h2M1664 232h4M1674 232h4M1693 232h2M1699 232h2M1722 232h2M1734 232h2M980 258.9h4M989 258.9h4M1026 258.9h2M1040 258.9h2M1052 258.9h2M1056 258.9h1M1079 258.9h2M1092 258.9h4M1143 258.9h6M1164 258.9h3M1252 258.9h2M1260 258.9h4M1276 258.9h2M1291 258.9h2M1299 258.9h4M1324 258.9h2M1334 258.9h4M1358 258.9h4M1375 258.9h2M1444 258.9h2M1455 258.9h2M1463 258.9h2M1490 258.9h4M1500 258.9h6M1543 258.9h2M1573 258.9h2M1581 258.9h2M1590 258.9h2M1594 258.9h2M1600 258.9h2M1639 258.9h2M1660 258.9h4M1666 258.9h4M1701 258.9h2M1711 258.9h2M968 285.8h4M978 285.8h2M999 285.8h2M1022 285.8h2M1071 285.8h2M1092 285.8h6M1112 285.8h4M1126 285.8h3M1165 285.8h2M1169 285.8h4M1204 285.8h2M1231 285.8h2M1249 285.8h2M1260 285.8h2M1268 285.8h2M1330 285.8h2M1383 285.8h4M1399 285.8h2M1412 285.8h4M1440 285.8h4M1479 285.8h3M1486 285.8h2M1552 285.8h2M1592 285.8h2M1606 285.8h2M1625 285.8h6M1639 285.8h2M1647 285.8h4M1658 285.8h4M1670 285.8h4M1684 285.8h1M1689 285.8h4M1697 285.8h4M1705 285.8h4M1736 285.8h8M982 312.7h3M991 312.7h2M1036 312.7h2M1040 312.7h2M1056 312.7h1M1073 312.7h2M1089 312.7h2M1118 312.7h2M1128 312.7h1M1345 312.7h2M1364 312.7h2M1527 312.7h2M1594 312.7h4M1720 312.7h4M987 339.7h4M1020 339.7h4M1096 339.7h2M1164 339.7h3M1206 339.7h4M1223 339.7h2M1233 339.7h2M1278 339.7h4M1334 339.7h2M1338 339.7h2M1358 339.7h4M1387 339.7h2M1412 339.7h4M1422 339.7h2M1442 339.7h4M1492 339.7h2M1506 339.7h2M1516 339.7h2M1535 339.7h4M1590 339.7h4M1647 339.7h5M1658 339.7h4M1718 339.7h4M982 366.6h2M989 366.6h2M1042 366.6h4M1048 366.6h2M1092 366.6h2M1108 366.6h4M1122 366.6h2M1133 366.6h4M1162 366.6h2M1167 366.6h4M1191 366.6h3M1204 366.6h4M1229 366.6h4M1243 366.6h2M1258 366.6h2M1268 366.6h2M1283 366.6h4M1305 366.6h2M1324 366.6h2M1328 366.6h4M1349 366.6h2M1362 366.6h2M1375 366.6h4M1387 366.6h2M1391 366.6h2M1399 366.6h2M1416 366.6h2M1426 366.6h4M1444 366.6h5M1453 366.6h2M1475 366.6h4M1481 366.6h3M1500 366.6h6M1519 366.6h4M1529 366.6h2M1539 366.6h8M1552 366.6h2M1555 366.6h2M1567 366.6h2M1585 366.6h2M1588 366.6h2M1610 366.6h2M1623 366.6h2M1629 366.6h2M1633 366.6h2M1666 366.6h4M1674 366.6h6M1684 366.6h3M1689 366.6h2M1711 366.6h4M1722 366.6h2M978 393.5h2M997 393.5h6M1009 393.5h2M1017 393.5h2M1032 393.5h4M1042 393.5h4M1056 393.5h1M1071 393.5h4M1096 393.5h2M1116 393.5h2M1164 393.5h3M1193 393.5h1M1202 393.5h4M1214 393.5h4M1241 393.5h4M1251 393.5h1M1305 393.5h2M1326 393.5h4M1336 393.5h4M1347 393.5h2M1370 393.5h7M1442 393.5h2M1488 393.5h2M1512 393.5h2M1521 393.5h2M1535 393.5h2M1664 393.5h4M1685 393.5h2M1701 393.5h2M1711 393.5h4M974 420.4h2M978 420.4h2M985 420.4h2M999 420.4h2M1022 420.4h2M1038 420.4h4M1048 420.4h4M1057 420.4h2M1063 420.4h2M1073 420.4h4M1081 420.4h2M1110 420.4h2M1114 420.4h2M1126 420.4h3M1133 420.4h2M1143 420.4h4M1151 420.4h2M1159 420.4h2M1162 420.4h3M1198 420.4h2M1204 420.4h8M1214 420.4h4M1227 420.4h8M1239 420.4h2M1266 420.4h4M1312 420.4h10M1358 420.4h8M1383 420.4h2M1391 420.4h2M1434 420.4h6M1451 420.4h2M1535 420.4h2M1561 420.4h2M1569 420.4h2M1575 420.4h2M1623 420.4h4M1629 420.4h2M1651 420.4h7M1689 420.4h2M1720 420.4h4M968 447.3h2M985 447.3h4M995 447.3h2M999 447.3h4M1022 447.3h2M1028 447.3h2M1034 447.3h2M1038 447.3h4M1050 447.3h2M1063 447.3h2M1073 447.3h4M1085 447.3h2M1089 447.3h3M1100 447.3h4M1114 447.3h2M1122 447.3h2M1126 447.3h2M1131 447.3h2M1139 447.3h4M1155 447.3h2M1165 447.3h2M1171 447.3h4M1177 447.3h2M1181 447.3h4M1187 447.3h2M1194 447.3h4M1208 447.3h4M1225 447.3h2M1254 447.3h2M1260 447.3h4M1274 447.3h2M1278 447.3h2M1282 447.3h1M1297 447.3h2M1303 447.3h2M1307 447.3h2M1311 447.3h1M1322 447.3h2M1330 447.3h6M1338 447.3h3M1353 447.3h2M1372 447.3h2M1377 447.3h2M1405 447.3h2M1418 447.3h2M1436 447.3h2M1449 447.3h4M1567 447.3h2M1577 447.3h2M1590 447.3h4M1602 447.3h2M1616 447.3h4M1621 447.3h2M1652 447.3h2M1662 447.3h2M1680 447.3h2M1684 447.3h1M1689 447.3h2M1703 447.3h2M1734 447.3h8M1500 474.3h2M1554 474.3h1M1666 474.3h2M1674 474.3h4M976 501.2h2M993 501.2h4M1013 501.2h6M1026 501.2h6M1036 501.2h4M1052 501.2h5M1071 501.2h4M1089 501.2h2M1106 501.2h2M1118 501.2h4M1133 501.2h4M1141 501.2h2M1165 501.2h2M1181 501.2h4M1198 501.2h2M1218 501.2h4M1239 501.2h2M1247 501.2h2M1266 501.2h4M1297 501.2h4M1309 501.2h2M1312 501.2h2M1316 501.2h6M1338 501.2h2M1364 501.2h4M1379 501.2h2M1391 501.2h4M1434 501.2h2M1442 501.2h2M1447 501.2h2M1451 501.2h2M1461 501.2h2M1475 501.2h4M1481 501.2h1M1486 501.2h2M1502 501.2h2M1514 501.2h2M1521 501.2h2M1525 501.2h4M1531 501.2h4M1573 501.2h2M1587 501.2h1M1602 501.2h2M1610 501.2h2M1618 501.2h2M1625 501.2h2M1652 501.2h2M1660 501.2h4M1672 501.2h6M1699 501.2h2M1703 501.2h4M1716 501.2h2M1732 501.2h2M1744 501.2h2M966 528.1h2M982 528.1h2M1003 528.1h2M1048 528.1h8M1069 528.1h2M1096 528.1h2M1155 528.1h2M1220 528.1h5M1249 528.1h5M1262 528.1h2M1270 528.1h2M1285 528.1h4M1297 528.1h4M1303 528.1h2M1314 528.1h6M1334 528.1h2M1341 528.1h2M1356 528.1h2M1375 528.1h4M1383 528.1h4M1395 528.1h2M1410 528.1h2M1438 528.1h2M1442 528.1h7M1461 528.1h2M1467 528.1h2M1477 528.1h4M1486 528.1h4M1504 528.1h2M1512 528.1h2M1519 528.1h6M1527 528.1h2M1541 528.1h2M1559 528.1h8M1573 528.1h4M1587 528.1h1M1610 528.1h4M1620 528.1h3M1678 528.1h2M1699 528.1h16M1720 528.1h2M1038 555h4M1052 555h4M1063 555h4M1196 555h2M1206 555h2M1295 555h4M1301 555h2M1336 555h2M1360 555h2M1409 555h1M1416 555h2M1434 555h2M1438 555h2M1451 555h2M1508 555h2M1512 555h2M1521 555h2M1541 555h4M1557 555h6M1606 555h2M1620 555h1M1625 555h2M1651 555h3M1670 555h2M1685 555h8M1701 555h2M1726 555h2M1744 555h2M972 581.9h2M976 581.9h6M997 581.9h2M1030 581.9h4M1079 581.9h4M1210 581.9h2M1225 581.9h2M1239 581.9h2M1249 581.9h3M1322 581.9h4M1372 581.9h2M1391 581.9h2M1399 581.9h4M1414 581.9h4M1422 581.9h2M1453 581.9h4M1481 581.9h1M1492 581.9h2M1539 581.9h2M1552 581.9h2M1559 581.9h8M1571 581.9h2M1635 581.9h2M1647 581.9h4M1652 581.9h4M1680 581.9h4M1716 581.9h4" stroke="#3c003c" stroke-width="27" fill="none"/>
<path d="M970 70.5h8M999 70.5h2M1046 70.5h4M1057 70.5h2M1079 70.5h4M1098 70.5h4M1120 70.5h2M1151 70.5h2M1202 70.5h2M1214 70.5h2M1223 70.5h2M1252 70.5h2M1295 70.5h2M1368 70.5h2M1399 70.5h6M1436 70.5h4M1488 70.5h4M1527 70.5h4M1533 70.5h4M1541 70.5h2M1561 70.5h4M1573 70.5h2M1604 70.5h2M1614 70.5h2M1645 70.5h2M1654 70.5h2M1658 70.5h2M1670 70.5h2M1682 70.5h5M1701 70.5h2M1711 70.5h2M1718 70.5h2M1732 70.5h2M1744 70.5h2M972 97.4h2M997 97.4h2M1024 97.4h4M1046 97.4h2M1069 97.4h4M1131 97.4h2M1214 97.4h2M1229 97.4h4M1625 97.4h2M1643 97.4h2M999 124.3h2M1019 124.3h1M1040 124.3h2M1056 124.3h1M1128 124.3h1M1177 124.3h2M1643 124.3h2M1701 124.3h4M997 178.1h2M1017 178.1h3M1034 178.1h2M1059 178.1h2M1065 178.1h2M1069 178.1h2M1098 178.1h2M1108 178.1h6M1141 178.1h2M1155 178.1h2M1225 178.1h4M1231 178.1h2M1247 178.1h2M1318 178.1h4M1372 178.1h3M1606 178.1h2M1672 178.1h4M1720 178.1h4M993 205.1h2M1005 205.1h6M1019 205.1h3M1024 205.1h2M1028 205.1h2M1042 205.1h2M1126 205.1h2M1249 205.1h2M1299 205.1h2M1366 205.1h2M1438 205.1h4M1484 205.1h4M1557 205.1h2M1678 205.1h2M1684 205.1h1M1738 205.1h2M985 232h4M1017 232h2M1020 232h4M1028 232h2M1032 232h2M1038 232h2M1042 232h2M1054 232h5M1102 232h2M1112 232h8M1122 232h4M1159 232h2M1162 232h2M1183 232h2M1189 232h4M1216 232h2M1274 232h4M1295 232h4M1305 232h2M1320 232h4M1328 232h2M1490 232h2M1496 232h4M1508 232h2M1565 232h2M1569 232h4M1581 232h4M1602 232h2M1606 232h2M1618 232h3M1623 232h2M1633 232h2M1637 232h2M1645 232h2M1658 232h2M1668 232h2M1680 232h4M1701 232h4M1716 232h2M978 258.9h2M997 258.9h4M1019 258.9h5M1028 258.9h8M1067 258.9h2M1071 258.9h2M1089 258.9h3M1110 258.9h2M1122 258.9h2M1193 258.9h1M1235 258.9h2M1264 258.9h2M1278 258.9h4M1287 258.9h4M1295 258.9h2M1314 258.9h4M1349 258.9h2M1356 258.9h2M1412 258.9h2M1436 258.9h4M1473 258.9h4M1519 258.9h6M1565 258.9h2M1602 258.9h2M1612 258.9h4M1633 258.9h2M1649 258.9h2M1652 258.9h4M1664 258.9h2M1684 258.9h1M1687 258.9h2M1732 258.9h2M1007 285.8h2M1015 285.8h4M1024 285.8h4M1042 285.8h2M1052 285.8h4M1065 285.8h6M1098 285.8h2M1104 285.8h2M1116 285.8h4M1147 285.8h2M1157 285.8h2M1179 285.8h4M1212 285.8h2M1293 285.8h2M1320 285.8h4M1328 285.8h2M1351 285.8h2M1366 285.8h2M1434 285.8h2M1473 285.8h2M1557 285.8h2M1565 285.8h4M1581 285.8h2M1588 285.8h4M1608 285.8h4M1618 285.8h2M1635 285.8h2M1654 285.8h4M1666 285.8h2M1685 285.8h2M1709 285.8h4M1716 285.8h2M1022 312.7h2M1071 312.7h2M1091 312.7h1M1104 312.7h4M1124 312.7h4M1133 312.7h4M1159 312.7h2M1235 312.7h2M1305 312.7h4M1471 312.7h2M1535 312.7h2M1571 312.7h2M991 339.7h2M1191 339.7h2M1287 339.7h2M1299 339.7h2M1328 339.7h4M1336 339.7h2M1343 339.7h2M1475 339.7h4M1481 339.7h1M1519 339.7h2M1559 339.7h4M1594 339.7h4M1620 339.7h1M1738 339.7h2M974 366.6h2M984 366.6h3M997 366.6h4M1038 366.6h2M1052 366.6h2M1073 366.6h4M1143 366.6h4M1153 366.6h4M1164 366.6h3M1175 366.6h4M1212 366.6h6M1222 366.6h7M1233 366.6h2M1278 366.6h4M1293 366.6h4M1307 366.6h2M1312 366.6h2M1341 366.6h2M1385 366.6h2M1389 366.6h2M1516 366.6h3M1571 366.6h2M1575 366.6h2M1587 366.6h1M1598 366.6h4M1618 366.6h2M1621 366.6h2M1625 366.6h4M1639 366.6h4M1656 366.6h2M1670 366.6h2M1691 366.6h2M1703 366.6h2M1726 366.6h2M1738 366.6h2M982 393.5h2M1007 393.5h2M1011 393.5h2M1019 393.5h1M1038 393.5h2M1052 393.5h4M1083 393.5h2M1087 393.5h2M1091 393.5h3M1133 393.5h2M1145 393.5h2M1151 393.5h4M1157 393.5h2M1167 393.5h4M1173 393.5h2M1194 393.5h2M1208 393.5h6M1218 393.5h2M1233 393.5h6M1303 393.5h2M1307 393.5h4M1418 393.5h4M1575 393.5h4M1610 393.5h4M1623 393.5h6M1656 393.5h2M1707 393.5h2M1724 393.5h2M1732 393.5h4M1744 393.5h2M972 420.4h2M991 420.4h2M997 420.4h2M1015 420.4h2M1028 420.4h4M1069 420.4h4M1089 420.4h2M1104 420.4h2M1124 420.4h2M1185 420.4h4M1200 420.4h2M1223 420.4h4M1293 420.4h6M1432 420.4h2M1527 420.4h2M1559 420.4h2M1581 420.4h2M1590 420.4h4M1600 420.4h2M1620 420.4h1M1637 420.4h4M1664 420.4h8M1695 420.4h2M1707 420.4h2M1736 420.4h8M982 447.3h3M991 447.3h2M1005 447.3h4M1015 447.3h7M1030 447.3h4M1056 447.3h3M1079 447.3h4M1116 447.3h4M1133 447.3h4M1157 447.3h4M1164 447.3h1M1189 447.3h5M1222 447.3h3M1229 447.3h4M1237 447.3h2M1268 447.3h6M1280 447.3h2M1299 447.3h4M1305 447.3h2M1341 447.3h12M1374 447.3h1M1410 447.3h2M1647 447.3h2M1656 447.3h6M1691 447.3h2M968 501.2h2M982 501.2h2M1001 501.2h4M1019 501.2h3M1040 501.2h2M1046 501.2h4M1063 501.2h4M1087 501.2h2M1091 501.2h5M1098 501.2h2M1104 501.2h2M1108 501.2h2M1122 501.2h2M1128 501.2h3M1147 501.2h2M1151 501.2h4M1162 501.2h2M1173 501.2h2M1189 501.2h2M1196 501.2h2M1206 501.2h2M1233 501.2h2M1241 501.2h4M1258 501.2h4M1278 501.2h2M1283 501.2h2M1305 501.2h4M1332 501.2h6M1341 501.2h4M1360 501.2h2M1368 501.2h2M1385 501.2h4M1416 501.2h2M1422 501.2h2M1428 501.2h2M1432 501.2h2M1449 501.2h2M1484 501.2h2M1496 501.2h4M1508 501.2h2M1512 501.2h2M1529 501.2h2M1541 501.2h4M1547 501.2h4M1552 501.2h2M1555 501.2h2M1581 501.2h4M1588 501.2h4M1606 501.2h4M1614 501.2h2M1631 501.2h4M1651 501.2h1M1658 501.2h2M1670 501.2h2M1687 501.2h4M1707 501.2h2M1715 501.2h1M1724 501.2h2M1730 501.2h2M976 528.1h2M989 528.1h2M1011 528.1h2M1020 528.1h2M1085 528.1h2M1092 528.1h2M1106 528.1h2M1128 528.1h3M1159 528.1h2M1214 528.1h2M1254 528.1h2M1293 528.1h4M1358 528.1h8M1368 528.1h2M1372 528.1h3M1379 528.1h4M1389 528.1h6M1397 528.1h6M1414 528.1h2M1420 528.1h4M1426 528.1h2M1434 528.1h4M1453 528.1h4M1469 528.1h2M1490 528.1h2M1500 528.1h2M1531 528.1h6M1545 528.1h4M1567 528.1h2M1594 528.1h4M1618 528.1h2M1639 528.1h4M1656 528.1h2M1668 528.1h8M1715 528.1h1M976 555h8M987 555h2M995 555h2M1005 555h4M1028 555h2M1032 555h2M1046 555h2M1050 555h2M1057 555h4M1069 555h2M1091 555h3M1129 555h2M1141 555h2M1175 555h2M1185 555h2M1210 555h8M1251 555h3M1299 555h2M1309 555h2M1314 555h4M1322 555h2M1343 555h2M1379 555h2M1401 555h4M1407 555h2M1414 555h2M1422 555h2M1436 555h2M1453 555h4M1475 555h2M1479 555h3M1484 555h2M1492 555h2M1496 555h6M1514 555h4M1545 555h2M1554 555h3M1565 555h6M1575 555h2M1588 555h2M1608 555h4M1643 555h2M1656 555h8M1672 555h4M1680 555h2M1699 555h2M1715 555h7M995 581.9h2M1069 581.9h2M1104 581.9h2M1118 581.9h4M1193 581.9h1M1280 581.9h2M1418 581.9h2M1434 581.9h4M1512 581.9h4M1592 581.9h4M1620 581.9h3M1724 581.9h2" stroke="#480048" stroke-width="27" fill="none"/>
<path d="M978 70.5h4M1114 70.5h2M1129 70.5h2M1179 70.5h2M1324 70.5h2M1592 70.5h4M1620 70.5h1M1720 97.4h2M985 124.3h2M995 124.3h4M1728 124.3h2M1116 151.2h2M1440 151.2h4M1307 178.1h2M1229 205.1h2M1643 205.1h4M1407 232h2M1422 232h2M1567 232h2M987 258.9h2M1320 258.9h4M1393 258.9h4M1525 258.9h2M1328 312.7h2M1343 312.7h2M1512 312.7h4M1001 339.7h4M1071 339.7h2M1112 339.7h2M1126 339.7h2M1159 339.7h2M1181 339.7h4M1245 339.7h2M1311 339.7h3M1345 339.7h2M1050 366.6h2M1024 393.5h4M1106 393.5h2M1307 420.4h4M978 447.3h2M1128 447.3h3M1316 447.3h2M1368 447.3h2M1592 474.3h2M1137 501.2h4M1200 501.2h2M1222 501.2h3M1274 501.2h4M1409 501.2h1M1026 528.1h2M1202 528.1h4M1256 528.1h2M1432 528.1h2M1481 528.1h3M1635 528.1h2M1684 528.1h3M1697 528.1h2M1089 555h2M1490 555h2M1687 581.9h2" stroke="#3c0030" stroke-width="27" fill="none"/>
<path d="M984 70.5h1M991 70.5h2M995 70.5h2M1032 70.5h4M1050 70.5h4M1073 70.5h4M1092 70.5h4M1141 70.5h6M1153 70.5h2M1189 70.5h2M1222 70.5h1M1239 70.5h2M1247 70.5h4M1254 70.5h2M1262 70.5h2M1266 70.5h4M1303 70.5h2M1322 70.5h2M1326 70.5h2M1332 70.5h2M1338 70.5h2M1351 70.5h2M1360 70.5h2M1397 70.5h2M1414 70.5h4M1424 70.5h4M1430 70.5h2M1457 70.5h2M1463 70.5h2M1469 70.5h4M1508 70.5h2M1543 70.5h4M1575 70.5h8M1585 70.5h2M1590 70.5h2M1596 70.5h2M1602 70.5h2M1652 70.5h2M1668 70.5h2M1678 70.5h2M1691 70.5h6M1705 70.5h2M1715 70.5h1M1734 70.5h2M1742 70.5h2M1322 97.4h2M1341 97.4h2M1416 97.4h2M1583 97.4h4M1660 97.4h2M1678 97.4h2M1734 97.4h2M1003 124.3h4M1024 124.3h2M1057 124.3h2M1063 124.3h4M1069 124.3h2M1073 124.3h4M1081 124.3h4M1092 124.3h2M1114 124.3h4M1143 124.3h2M1262 124.3h2M1416 124.3h2M1426 124.3h2M1533 124.3h2M1577 124.3h4M1639 124.3h2M1647 124.3h4M1685 124.3h4M980 151.2h4M1040 151.2h4M1204 151.2h2M1220 151.2h2M1227 151.2h2M1251 151.2h3M1258 151.2h4M1280 151.2h2M1287 151.2h2M1309 151.2h2M1314 151.2h4M1343 151.2h4M1381 151.2h2M1436 151.2h2M1514 151.2h2M1519 151.2h4M1552 151.2h2M1563 151.2h6M1585 151.2h3M1604 151.2h2M1627 151.2h2M1639 151.2h4M1674 151.2h2M1684 151.2h1M1689 151.2h2M1740 151.2h2M966 178.1h2M985 178.1h4M1036 178.1h4M1057 178.1h2M1091 178.1h1M1096 178.1h2M1165 178.1h2M1177 178.1h4M1194 178.1h2M1233 178.1h2M1249 178.1h3M1328 178.1h2M1469 178.1h2M1585 178.1h2M1592 178.1h4M1610 178.1h2M1709 178.1h2M1744 178.1h2M966 205.1h2M970 205.1h2M991 205.1h2M999 205.1h4M1026 205.1h2M1089 205.1h2M1100 205.1h4M1110 205.1h4M1128 205.1h3M1145 205.1h2M1173 205.1h6M1187 205.1h4M1212 205.1h2M1227 205.1h2M1291 205.1h4M1305 205.1h2M1312 205.1h2M1334 205.1h2M1347 205.1h2M1383 205.1h2M1397 205.1h4M1428 205.1h2M1432 205.1h2M1446 205.1h1M1477 205.1h2M1554 205.1h1M1606 205.1h6M1633 205.1h2M1654 205.1h4M1682 205.1h2M1689 205.1h2M1695 205.1h4M1728 205.1h2M1736 205.1h2M999 232h2M1036 232h2M1044 232h2M1048 232h2M1085 232h2M1141 232h2M1175 232h2M1222 232h3M1229 232h2M1237 232h4M1245 232h2M1256 232h4M1268 232h2M1340 232h1M1343 232h2M1349 232h2M1395 232h4M1403 232h4M1416 232h4M1426 232h2M1438 232h4M1446 232h1M1453 232h4M1486 232h2M1500 232h4M1547 232h4M1559 232h4M1573 232h2M1600 232h2M1715 232h1M1720 232h2M966 258.9h2M993 258.9h2M1009 258.9h4M1108 258.9h2M1112 258.9h2M1131 258.9h2M1139 258.9h4M1157 258.9h2M1175 258.9h2M1185 258.9h2M1237 258.9h4M1245 258.9h7M1285 258.9h2M1297 258.9h2M1326 258.9h8M1343 258.9h2M1381 258.9h4M1401 258.9h2M1407 258.9h3M1422 258.9h4M1442 258.9h2M1447 258.9h4M1453 258.9h2M1465 258.9h2M1469 258.9h4M1477 258.9h2M1482 258.9h6M1537 258.9h2M1545 258.9h6M1645 258.9h2M1676 258.9h2M1685 258.9h2M1722 258.9h4M1736 258.9h2M966 285.8h2M974 285.8h2M980 285.8h2M984 285.8h3M1059 285.8h2M1091 285.8h1M1102 285.8h2M1120 285.8h2M1183 285.8h2M1220 285.8h2M1237 285.8h6M1291 285.8h2M1316 285.8h2M1324 285.8h2M1341 285.8h6M1358 285.8h4M1374 285.8h1M1453 285.8h4M1471 285.8h2M1525 285.8h2M1533 285.8h2M1547 285.8h2M1579 285.8h2M1616 285.8h2M1641 285.8h2M1662 285.8h4M1693 285.8h4M1003 312.7h2M1015 312.7h2M1019 312.7h3M1034 312.7h2M1042 312.7h4M1050 312.7h2M1054 312.7h2M1085 312.7h4M1096 312.7h4M1139 312.7h4M1145 312.7h2M1183 312.7h4M1258 312.7h2M1270 312.7h4M1324 312.7h4M1330 312.7h10M1366 312.7h4M1401 312.7h2M1434 312.7h4M1610 312.7h4M1668 312.7h2M980 339.7h5M997 339.7h4M1015 339.7h4M1032 339.7h2M1048 339.7h2M1067 339.7h2M1073 339.7h2M1102 339.7h2M1128 339.7h1M1149 339.7h4M1155 339.7h4M1173 339.7h2M1204 339.7h2M1220 339.7h3M1225 339.7h4M1258 339.7h2M1268 339.7h2M1274 339.7h4M1291 339.7h8M1305 339.7h2M1322 339.7h4M1340 339.7h3M1401 339.7h2M1432 339.7h2M1447 339.7h2M1496 339.7h4M1552 339.7h2M1575 339.7h2M1585 339.7h3M1614 339.7h4M1621 339.7h6M1637 339.7h4M1715 339.7h3M978 366.6h4M1005 366.6h4M1019 366.6h1M1032 366.6h4M1046 366.6h2M1089 366.6h2M1098 366.6h4M1139 366.6h4M1181 366.6h4M1239 366.6h4M1254 366.6h4M1262 366.6h4M1270 366.6h2M1353 366.6h2M1356 366.6h4M1370 366.6h2M1438 366.6h4M1449 366.6h4M1455 366.6h2M1498 366.6h2M1510 366.6h6M1523 366.6h2M1554 366.6h1M1561 366.6h2M1664 366.6h2M1728 366.6h4M1744 366.6h2M1057 393.5h2M1124 393.5h2M1128 393.5h1M1245 393.5h2M1377 393.5h2M1391 393.5h6M1422 393.5h2M1426 393.5h2M1436 393.5h4M1479 393.5h5M1541 393.5h4M1565 393.5h2M1660 393.5h2M1670 393.5h2M966 420.4h2M980 420.4h2M995 420.4h2M1001 420.4h4M1007 420.4h4M1118 420.4h2M1122 420.4h2M1165 420.4h6M1196 420.4h2M1241 420.4h2M1249 420.4h3M1256 420.4h2M1276 420.4h2M1305 420.4h2M1351 420.4h2M1356 420.4h2M1370 420.4h2M1389 420.4h2M1453 420.4h2M1457 420.4h2M1471 420.4h2M1479 420.4h3M1512 420.4h4M1583 420.4h2M1660 420.4h2M1734 420.4h2M976 447.3h2M993 447.3h2M997 447.3h2M1003 447.3h2M1009 447.3h6M1024 447.3h4M1036 447.3h2M1048 447.3h2M1067 447.3h4M1077 447.3h2M1087 447.3h2M1094 447.3h6M1106 447.3h4M1120 447.3h2M1124 447.3h2M1149 447.3h2M1162 447.3h2M1227 447.3h2M1233 447.3h4M1239 447.3h4M1251 447.3h1M1256 447.3h4M1266 447.3h2M1287 447.3h10M1309 447.3h2M1318 447.3h4M1389 447.3h4M1412 447.3h2M1422 447.3h2M1428 447.3h2M1459 447.3h2M1537 447.3h4M1554 447.3h1M1559 447.3h4M1581 447.3h6M1588 447.3h2M1596 447.3h2M1610 447.3h2M1629 447.3h2M1022 474.3h2M1069 474.3h4M1181 474.3h2M1235 474.3h4M1264 474.3h2M1276 474.3h4M1362 474.3h6M1387 474.3h2M1459 474.3h4M1543 474.3h4M1585 474.3h2M1610 474.3h4M966 501.2h2M980 501.2h2M985 501.2h4M997 501.2h2M1050 501.2h2M1096 501.2h2M1100 501.2h4M1112 501.2h6M1143 501.2h4M1155 501.2h4M1175 501.2h4M1191 501.2h2M1204 501.2h2M1235 501.2h4M1249 501.2h2M1262 501.2h4M1270 501.2h4M1287 501.2h2M1303 501.2h2M1314 501.2h2M1324 501.2h4M1340 501.2h1M1349 501.2h4M1370 501.2h4M1397 501.2h4M1436 501.2h4M1453 501.2h2M1488 501.2h2M1510 501.2h2M1561 501.2h2M1592 501.2h2M1616 501.2h2M1691 501.2h4M1701 501.2h2M978 528.1h2M1013 528.1h4M1022 528.1h4M1030 528.1h6M1038 528.1h2M1056 528.1h1M1059 528.1h6M1071 528.1h2M1077 528.1h4M1087 528.1h4M1098 528.1h2M1122 528.1h6M1135 528.1h4M1165 528.1h2M1169 528.1h2M1193 528.1h5M1208 528.1h6M1225 528.1h2M1233 528.1h2M1264 528.1h2M1276 528.1h2M1282 528.1h3M1305 528.1h2M1311 528.1h3M1330 528.1h4M1340 528.1h1M1343 528.1h2M1366 528.1h2M1370 528.1h2M1409 528.1h1M1424 528.1h2M1428 528.1h4M1449 528.1h4M1459 528.1h2M1502 528.1h2M1514 528.1h4M1525 528.1h2M1529 528.1h2M1549 528.1h2M1555 528.1h4M1577 528.1h6M1588 528.1h2M1592 528.1h2M1602 528.1h2M1614 528.1h4M1627 528.1h2M1652 528.1h4M1662 528.1h4M1722 528.1h4M1730 528.1h4M966 555h2M1026 555h2M1083 555h2M1124 555h4M1193 555h1M1204 555h2M1225 555h2M1258 555h2M1362 555h4M1368 555h6M1428 555h2M1518 555h3M1571 555h2M1596 555h4M1612 555h2M1616 555h2M1647 555h4M1678 555h2M1711 555h4M1730 555h6M1742 555h2M982 581.9h5M1038 581.9h4M1044 581.9h4M1059 581.9h4M1065 581.9h4M1091 581.9h3M1096 581.9h2M1108 581.9h4M1126 581.9h2M1141 581.9h2M1165 581.9h2M1185 581.9h8M1206 581.9h4M1212 581.9h2M1233 581.9h2M1272 581.9h2M1285 581.9h2M1291 581.9h4M1305 581.9h2M1328 581.9h4M1338 581.9h3M1349 581.9h2M1358 581.9h2M1374 581.9h1M1379 581.9h2M1397 581.9h2M1438 581.9h2M1442 581.9h2M1457 581.9h4M1473 581.9h2M1496 581.9h2M1506 581.9h2M1519 581.9h10M1537 581.9h2M1543 581.9h2M1557 581.9h2M1575 581.9h2M1588 581.9h2M1596 581.9h2M1604 581.9h2M1629 581.9h4M1674 581.9h4M1684 581.9h3M1689 581.9h4M1711 581.9h4M1730 581.9h4M1736 581.9h6" stroke="#300030" stroke-width="27" fill="none"/>
<path d="M985 70.5h6M1001 70.5h4M1007 70.5h2M1022 70.5h4M1054 70.5h3M1083 70.5h2M1106 70.5h2M1164 70.5h7M1185 70.5h4M1196 70.5h6M1208 70.5h2M1216 70.5h2M1225 70.5h2M1229 70.5h2M1235 70.5h4M1243 70.5h4M1258 70.5h2M1272 70.5h2M1280 70.5h3M1285 70.5h2M1291 70.5h4M1297 70.5h4M1311 70.5h3M1318 70.5h4M1328 70.5h4M1334 70.5h4M1347 70.5h4M1358 70.5h2M1370 70.5h7M1387 70.5h6M1407 70.5h2M1418 70.5h4M1440 70.5h4M1446 70.5h1M1453 70.5h2M1465 70.5h4M1473 70.5h4M1479 70.5h5M1486 70.5h2M1492 70.5h2M1496 70.5h4M1506 70.5h2M1510 70.5h6M1521 70.5h6M1537 70.5h2M1662 70.5h2M1703 70.5h2M968 97.4h4M978 97.4h6M987 97.4h2M1005 97.4h2M1015 97.4h2M1059 97.4h2M1077 97.4h2M1094 97.4h2M1141 97.4h4M1157 97.4h2M1164 97.4h3M1169 97.4h4M1175 97.4h4M1183 97.4h2M1189 97.4h9M1200 97.4h14M1216 97.4h9M1227 97.4h2M1235 97.4h4M1243 97.4h17M1262 97.4h8M1278 97.4h33M1312 97.4h2M1318 97.4h2M1324 97.4h17M1345 97.4h2M1349 97.4h6M1356 97.4h12M1372 97.4h7M1381 97.4h10M1393 97.4h2M1397 97.4h13M1412 97.4h4M1418 97.4h2M1424 97.4h10M1438 97.4h4M1444 97.4h5M1453 97.4h10M1467 97.4h2M1481 97.4h1M1484 97.4h16M1502 97.4h4M1508 97.4h4M1516 97.4h25M1549 97.4h2M1557 97.4h4M1565 97.4h2M1569 97.4h6M1577 97.4h4M1592 97.4h8M1612 97.4h2M1618 97.4h2M1627 97.4h8M1639 97.4h4M1649 97.4h3M1656 97.4h2M1668 97.4h10M1689 97.4h2M1693 97.4h2M1703 97.4h6M1715 97.4h1M1718 97.4h2M1722 97.4h2M1728 97.4h6M1738 97.4h4M966 124.3h2M974 124.3h6M982 124.3h2M987 124.3h4M993 124.3h2M1011 124.3h2M1020 124.3h4M1026 124.3h2M1052 124.3h2M1077 124.3h2M1087 124.3h5M1098 124.3h14M1126 124.3h2M1141 124.3h2M1162 124.3h2M1167 124.3h10M1183 124.3h4M1189 124.3h5M1196 124.3h8M1208 124.3h14M1223 124.3h6M1231 124.3h4M1237 124.3h4M1243 124.3h2M1249 124.3h7M1258 124.3h4M1264 124.3h8M1274 124.3h21M1297 124.3h2M1307 124.3h4M1312 124.3h4M1318 124.3h8M1328 124.3h6M1341 124.3h2M1345 124.3h10M1358 124.3h12M1372 124.3h17M1397 124.3h15M1414 124.3h2M1418 124.3h6M1428 124.3h33M1465 124.3h2M1469 124.3h4M1475 124.3h9M1486 124.3h8M1496 124.3h4M1504 124.3h12M1518 124.3h1M1523 124.3h8M1535 124.3h14M1552 124.3h3M1559 124.3h2M1573 124.3h4M1594 124.3h2M1608 124.3h12M1627 124.3h4M1633 124.3h6M1641 124.3h2M1668 124.3h4M1674 124.3h8M1684 124.3h1M1689 124.3h8M1709 124.3h2M1720 124.3h4M1732 124.3h8M968 151.2h4M984 151.2h3M997 151.2h4M1005 151.2h6M1013 151.2h2M1048 151.2h2M1059 151.2h2M1073 151.2h2M1083 151.2h6M1094 151.2h4M1102 151.2h8M1122 151.2h2M1128 151.2h3M1145 151.2h4M1407 151.2h3M1577 151.2h2M1709 151.2h2M1003 178.1h6M1030 178.1h2M1048 178.1h2M1052 178.1h2M1081 178.1h2M1124 178.1h2M1128 178.1h1M1133 178.1h2M1164 178.1h1M1171 178.1h2M1181 178.1h2M1187 178.1h7M1198 178.1h2M1206 178.1h2M1218 178.1h4M1229 178.1h2M1235 178.1h6M1254 178.1h6M1264 178.1h6M1272 178.1h4M1280 178.1h3M1291 178.1h8M1301 178.1h6M1322 178.1h2M1326 178.1h2M1332 178.1h2M1338 178.1h3M1343 178.1h4M1356 178.1h14M1375 178.1h2M1379 178.1h14M1401 178.1h11M1416 178.1h6M1424 178.1h4M1434 178.1h29M1465 178.1h4M1471 178.1h15M1490 178.1h16M1508 178.1h11M1523 178.1h28M1552 178.1h2M1557 178.1h8M1571 178.1h8M1602 178.1h4M1608 178.1h2M1612 178.1h4M1620 178.1h7M1631 178.1h4M1649 178.1h5M1656 178.1h2M1676 178.1h4M1687 178.1h4M1701 178.1h2M1715 178.1h1M1718 178.1h2M1736 178.1h8M972 205.1h4M982 205.1h2M985 205.1h4M997 205.1h2M1015 205.1h2M1022 205.1h2M1030 205.1h2M1067 205.1h2M1081 205.1h2M1104 205.1h6M1131 205.1h2M1153 205.1h6M1165 205.1h2M1204 205.1h4M1237 205.1h2M1241 205.1h2M1251 205.1h1M1254 205.1h4M1260 205.1h4M1268 205.1h4M1287 205.1h4M1297 205.1h2M1303 205.1h2M1307 205.1h2M1314 205.1h2M1326 205.1h6M1336 205.1h5M1343 205.1h4M1353 205.1h2M1370 205.1h2M1374 205.1h3M1379 205.1h4M1410 205.1h4M1416 205.1h2M1436 205.1h2M1451 205.1h2M1461 205.1h2M1465 205.1h2M1471 205.1h2M1479 205.1h5M1494 205.1h2M1504 205.1h4M1527 205.1h6M1543 205.1h6M1555 205.1h2M1565 205.1h4M1587 205.1h3M1598 205.1h2M1602 205.1h4M1625 205.1h2M1635 205.1h2M1652 205.1h2M1660 205.1h4M1668 205.1h10M1685 205.1h2M1705 205.1h4M1713 205.1h2M978 232h2M1034 232h2M1091 232h1M1106 232h2M1187 232h2M1193 232h5M1235 232h2M1251 232h3M1260 232h8M1278 232h2M1289 232h6M1324 232h4M1330 232h10M1345 232h4M1358 232h17M1377 232h2M1401 232h2M1414 232h2M1424 232h2M1428 232h2M1457 232h6M1471 232h6M1494 232h2M1504 232h4M1510 232h4M1521 232h6M1533 232h2M1543 232h4M1608 232h4M1614 232h2M1629 232h4M1639 232h2M1647 232h9M1684 232h3M1697 232h2M1709 232h6M1726 232h4M1738 232h2M1744 232h2M1024 258.9h2M1048 258.9h2M1177 258.9h4M1183 258.9h2M1194 258.9h4M1206 258.9h2M1210 258.9h6M1220 258.9h2M1225 258.9h2M1231 258.9h4M1243 258.9h2M1268 258.9h2M1272 258.9h2M1282 258.9h3M1303 258.9h2M1312 258.9h2M1318 258.9h2M1340 258.9h3M1351 258.9h4M1385 258.9h2M1426 258.9h2M1440 258.9h2M1479 258.9h2M1527 258.9h2M1559 258.9h4M1569 258.9h4M1604 258.9h4M1699 258.9h2M1720 258.9h2M1730 258.9h2M989 285.8h2M1019 285.8h3M1032 285.8h4M1038 285.8h4M1079 285.8h2M1143 285.8h4M1159 285.8h2M1162 285.8h3M1173 285.8h6M1185 285.8h4M1198 285.8h2M1210 285.8h2M1214 285.8h6M1225 285.8h6M1233 285.8h4M1247 285.8h2M1251 285.8h5M1262 285.8h2M1282 285.8h1M1285 285.8h6M1295 285.8h8M1311 285.8h5M1318 285.8h2M1326 285.8h2M1332 285.8h4M1340 285.8h1M1353 285.8h2M1356 285.8h2M1372 285.8h2M1381 285.8h2M1389 285.8h6M1401 285.8h6M1409 285.8h3M1426 285.8h2M1430 285.8h4M1436 285.8h4M1465 285.8h4M1492 285.8h2M1498 285.8h6M1508 285.8h4M1519 285.8h2M1529 285.8h2M1539 285.8h6M1555 285.8h2M1577 285.8h2M1594 285.8h4M1600 285.8h2M1643 285.8h4M1674 285.8h2M1680 285.8h4M1687 285.8h2M1720 285.8h4M1732 285.8h2M966 312.7h4M974 312.7h2M1005 312.7h2M1009 312.7h6M1017 312.7h2M1030 312.7h2M1052 312.7h2M1057 312.7h8M1067 312.7h2M1075 312.7h4M1092 312.7h2M1100 312.7h4M1108 312.7h2M1116 312.7h2M1143 312.7h2M1147 312.7h6M1155 312.7h4M1162 312.7h5M1171 312.7h12M1191 312.7h15M1210 312.7h2M1218 312.7h5M1225 312.7h2M1229 312.7h2M1241 312.7h8M1254 312.7h4M1264 312.7h6M1274 312.7h2M1278 312.7h4M1285 312.7h10M1299 312.7h6M1309 312.7h5M1318 312.7h6M1341 312.7h2M1347 312.7h2M1356 312.7h8M1372 312.7h3M1379 312.7h2M1389 312.7h2M1393 312.7h8M1405 312.7h4M1412 312.7h4M1418 312.7h12M1432 312.7h2M1440 312.7h4M1453 312.7h18M1473 312.7h4M1482 312.7h4M1488 312.7h4M1498 312.7h10M1516 312.7h5M1525 312.7h2M1533 312.7h2M1539 312.7h4M1547 312.7h4M1555 312.7h4M1565 312.7h6M1573 312.7h21M1598 312.7h6M1616 312.7h15M1635 312.7h33M1670 312.7h6M1678 312.7h4M1684 312.7h3M1689 312.7h4M1697 312.7h2M1701 312.7h8M1715 312.7h5M1724 312.7h14M1740 312.7h6M1189 339.7h2M1303 339.7h2M1307 339.7h4M1356 339.7h2M1370 339.7h7M1381 339.7h6M1389 339.7h2M1393 339.7h4M1403 339.7h4M1410 339.7h2M1420 339.7h2M1434 339.7h8M1446 339.7h1M1455 339.7h2M1471 339.7h4M1482 339.7h2M1486 339.7h6M1518 339.7h1M1521 339.7h8M1531 339.7h4M1539 339.7h2M1543 339.7h4M1549 339.7h2M1563 339.7h2M1571 339.7h2M1577 339.7h2M1627 339.7h10M1641 339.7h6M1652 339.7h6M1664 339.7h14M1689 339.7h8M1699 339.7h16M1728 339.7h4M976 366.6h2M993 366.6h4M1001 366.6h2M1020 366.6h4M1040 366.6h2M1063 366.6h10M1079 366.6h6M1087 366.6h2M1091 366.6h1M1094 366.6h4M1102 366.6h2M1114 366.6h8M1124 366.6h4M1131 366.6h2M1137 366.6h2M1185 366.6h2M1196 366.6h4M1202 366.6h2M1210 366.6h2M1220 366.6h2M1287 366.6h2M1291 366.6h2M1297 366.6h2M1301 366.6h2M1309 366.6h2M1318 366.6h2M1334 366.6h2M1379 366.6h4M1393 366.6h2M1410 366.6h2M1418 366.6h2M1459 366.6h2M1465 366.6h2M1492 366.6h6M1531 366.6h2M1537 366.6h2M1547 366.6h4M1557 366.6h4M1577 366.6h4M1583 366.6h2M1602 366.6h4M1612 366.6h2M1620 366.6h1M1631 366.6h2M1645 366.6h2M1651 366.6h3M1658 366.6h6M1672 366.6h2M1697 366.6h6M1705 366.6h2M1715 366.6h1M1724 366.6h2M968 393.5h2M993 393.5h4M1003 393.5h4M1030 393.5h2M1036 393.5h2M1114 393.5h2M1122 393.5h2M1147 393.5h2M1183 393.5h4M1196 393.5h4M1206 393.5h2M1247 393.5h4M1301 393.5h2M1312 393.5h4M1318 393.5h4M1340 393.5h3M1356 393.5h2M1368 393.5h2M1383 393.5h8M1397 393.5h2M1401 393.5h2M1407 393.5h9M1430 393.5h6M1440 393.5h2M1444 393.5h9M1457 393.5h4M1463 393.5h10M1484 393.5h4M1490 393.5h2M1498 393.5h2M1504 393.5h4M1510 393.5h2M1518 393.5h3M1523 393.5h2M1529 393.5h6M1539 393.5h2M1545 393.5h6M1557 393.5h2M1587 393.5h1M1614 393.5h4M1621 393.5h2M1715 393.5h1M1718 393.5h2M1736 393.5h2M1742 393.5h2M982 420.4h3M1005 420.4h2M1011 420.4h2M1017 420.4h5M1024 420.4h4M1052 420.4h2M1059 420.4h4M1067 420.4h2M1077 420.4h4M1085 420.4h2M1096 420.4h2M1112 420.4h2M1137 420.4h4M1157 420.4h2M1171 420.4h2M1191 420.4h5M1202 420.4h2M1212 420.4h2M1245 420.4h2M1252 420.4h2M1262 420.4h4M1270 420.4h2M1278 420.4h4M1287 420.4h2M1334 420.4h6M1372 420.4h2M1375 420.4h2M1379 420.4h4M1385 420.4h4M1393 420.4h2M1410 420.4h4M1416 420.4h4M1424 420.4h6M1440 420.4h6M1447 420.4h4M1455 420.4h2M1459 420.4h4M1467 420.4h4M1475 420.4h4M1492 420.4h12M1508 420.4h4M1518 420.4h9M1529 420.4h6M1539 420.4h2M1547 420.4h4M1552 420.4h3M1606 420.4h2M1610 420.4h4M1631 420.4h4M1649 420.4h2M1662 420.4h2M1684 420.4h5M1691 420.4h4M1697 420.4h2M1713 420.4h3M1744 420.4h2M1167 447.3h2M1362 447.3h4M1375 447.3h2M1383 447.3h6M1393 447.3h4M1401 447.3h2M1409 447.3h1M1424 447.3h4M1438 447.3h6M1453 447.3h6M1465 447.3h4M1475 447.3h7M1490 447.3h4M1498 447.3h2M1502 447.3h2M1506 447.3h2M1510 447.3h6M1518 447.3h3M1523 447.3h2M1527 447.3h2M1531 447.3h4M1545 447.3h4M1552 447.3h2M1555 447.3h4M1571 447.3h4M1587 447.3h1M1600 447.3h2M1612 447.3h2M1623 447.3h4M1631 447.3h2M1637 447.3h4M1654 447.3h2M1668 447.3h2M1685 447.3h4M1693 447.3h4M1699 447.3h4M1711 447.3h2M1715 447.3h1M1724 447.3h2M1728 447.3h4M1266 474.3h2M1370 474.3h4M1385 474.3h2M1395 474.3h2M1422 474.3h4M1446 474.3h1M1451 474.3h2M1467 474.3h4M1481 474.3h3M1508 474.3h4M1525 474.3h2M978 501.2h2M1085 501.2h2M1171 501.2h2M1179 501.2h2M1187 501.2h2M1193 501.2h1M1202 501.2h2M1214 501.2h4M1374 501.2h1M1381 501.2h4M1389 501.2h2M1401 501.2h4M1407 501.2h2M1410 501.2h6M1440 501.2h2M1446 501.2h1M1457 501.2h4M1479 501.2h2M1482 501.2h2M1490 501.2h2M1494 501.2h2M1500 501.2h2M1518 501.2h3M1523 501.2h2M1535 501.2h6M1545 501.2h2M1557 501.2h2M1563 501.2h2M1577 501.2h4M1585 501.2h2M1621 501.2h4M1685 501.2h2M980 528.1h2M995 528.1h2M1009 528.1h2M1046 528.1h2M1149 528.1h2M1157 528.1h2M1162 528.1h2M1218 528.1h2M1416 528.1h4M1693 528.1h2M1734 528.1h2M1742 528.1h4M1009 555h2M1019 555h1M1079 555h2M1100 555h2M1108 555h2M1274 555h2M1283 555h2M1287 555h2M1303 555h2M1328 555h4M1377 555h2M1395 555h2M1426 555h2M1461 555h4M1471 555h4M1486 555h4M1502 555h6M1523 555h2M1539 555h2M1552 555h2M1594 555h2M1602 555h2M1639 555h4M1645 555h2M1668 555h2M1676 555h2M1736 555h2M993 581.9h2M1056 581.9h3M1089 581.9h2M1356 581.9h2M1377 581.9h2M1395 581.9h2M1403 581.9h4M1410 581.9h4M1432 581.9h2M1440 581.9h2M1475 581.9h2M1482 581.9h6M1494 581.9h2M1508 581.9h4M1516 581.9h2M1529 581.9h2M1541 581.9h2M1573 581.9h2M1583 581.9h2M1623 581.9h4M1637 581.9h2M1656 581.9h2M1664 581.9h4M1678 581.9h2M1715 581.9h1M1720 581.9h4" stroke="#00ffff" stroke-width="27" fill="none"/>
<path d="M993 70.5h2M1559 70.5h2M1124 97.4h4M989 178.1h4M1092 178.1h2M1106 178.1h2M1212 178.1h4M1069 232h6M1092 232h2M1420 232h2M976 258.9h2M1189 258.9h2M1494 258.9h2M1598 258.9h2M1635 258.9h4M1133 285.8h4M1149 285.8h4M1575 285.8h2M1701 285.8h4M1682 312.7h2M1713 312.7h2M1042 339.7h2M1026 366.6h6M1187 366.6h2M1336 366.6h2M1366 366.6h4M1569 366.6h2M1637 366.6h2M1687 366.6h2M1707 366.6h2M1508 393.5h2M1102 420.4h2M1222 420.4h1M1272 420.4h2M1299 420.4h4M1330 420.4h4M1061 447.3h2M1065 447.3h2M1643 447.3h4M1081 501.2h4M1289 501.2h2M1322 501.2h2M1375 501.2h4M1598 501.2h4M1654 501.2h4M1668 501.2h2M1678 501.2h2M1216 528.1h2M1412 528.1h2M1463 528.1h4M1583 528.1h4M1598 528.1h4M1623 528.1h4M1647 528.1h2M1067 555h2M1143 555h2M1194 555h2M1245 555h2M1311 555h1M1332 555h4M1366 555h2M1432 555h2M1525 555h2M1592 555h2M1629 555h2M1664 555h2M1498 581.9h2" stroke="#540048" stroke-width="27" fill="none"/>
<path d="M1005 70.5h2M1108 70.5h2M1116 70.5h2M1131 70.5h2M1264 70.5h2M1364 70.5h2M1565 70.5h2M1571 70.5h2M1587 70.5h3M1627 70.5h4M1643 70.5h2M1687 70.5h4M966 97.4h2M1050 97.4h4M1061 97.4h4M1108 97.4h4M1225 97.4h2M1687 97.4h2M1042 124.3h2M1067 124.3h2M1118 124.3h2M1153 124.3h4M1071 178.1h2M1104 178.1h2M1116 178.1h2M1143 178.1h8M1330 178.1h2M1554 178.1h3M1565 178.1h2M1662 178.1h4M1032 205.1h4M1038 205.1h2M1159 205.1h2M1295 205.1h2M1444 205.1h2M1581 205.1h2M1691 205.1h4M1019 232h1M1067 232h2M1098 232h2M1108 232h4M1153 232h2M1179 232h2M1210 232h2M1299 232h4M1516 232h3M1563 232h2M1598 232h2M1616 232h2M1705 232h2M1740 232h4M1042 258.9h2M1057 258.9h2M1098 258.9h2M1106 258.9h2M1155 258.9h2M1159 258.9h2M1387 258.9h2M1410 258.9h2M1481 258.9h1M1496 258.9h4M1552 258.9h3M1585 258.9h2M1608 258.9h4M1620 258.9h1M1641 258.9h4M1670 258.9h2M1734 258.9h2M1738 258.9h2M1742 258.9h4M976 285.8h2M997 285.8h2M1013 285.8h2M1048 285.8h4M1063 285.8h2M1087 285.8h4M1110 285.8h2M1141 285.8h2M1377 285.8h4M1554 285.8h1M1563 285.8h2M1583 285.8h4M1728 285.8h2M989 312.7h2M1024 312.7h2M1079 312.7h2M1129 312.7h2M1314 312.7h4M1326 339.7h2M970 366.6h4M991 366.6h2M1085 366.6h2M1128 366.6h3M1235 366.6h4M1247 366.6h4M1260 366.6h2M1266 366.6h2M1314 366.6h4M1320 366.6h4M1372 366.6h3M1401 366.6h2M1405 366.6h2M1486 366.6h6M1563 366.6h4M1573 366.6h2M1616 366.6h2M1643 366.6h2M1716 366.6h2M1732 366.6h2M1740 366.6h2M966 393.5h2M970 393.5h4M1013 393.5h4M1020 393.5h4M1028 393.5h2M1059 393.5h4M1089 393.5h2M1102 393.5h2M1108 393.5h6M1126 393.5h2M1135 393.5h2M1149 393.5h2M1189 393.5h4M1200 393.5h2M1222 393.5h1M1264 393.5h2M1270 393.5h2M1274 393.5h6M1297 393.5h4M1316 393.5h2M1473 393.5h2M1561 393.5h4M1571 393.5h4M1588 393.5h2M1596 393.5h2M1618 393.5h3M1658 393.5h2M1693 393.5h2M1705 393.5h2M1036 420.4h2M1091 420.4h1M1141 420.4h2M1220 420.4h2M1243 420.4h2M1283 420.4h4M1291 420.4h2M1311 420.4h1M1326 420.4h2M1573 420.4h2M1602 420.4h4M1616 420.4h2M1678 420.4h2M1701 420.4h4M1726 420.4h4M1052 447.3h4M1137 447.3h2M1145 447.3h4M1218 447.3h4M1312 447.3h4M1598 447.3h2M1606 447.3h2M1641 447.3h2M1720 447.3h4M1726 447.3h2M1057 501.2h4M1149 501.2h2M1159 501.2h2M1229 501.2h4M1245 501.2h2M1301 501.2h2M1353 501.2h2M1554 501.2h1M1559 501.2h2M1612 501.2h2M1620 501.2h1M1627 501.2h4M1635 501.2h4M1649 501.2h2M1664 501.2h4M1680 501.2h4M1709 501.2h2M1713 501.2h2M1405 528.1h4M1484 528.1h2M1498 528.1h2M1569 528.1h4M1631 528.1h2M1637 528.1h2M1658 528.1h4M1680 528.1h2M1687 528.1h2M1736 528.1h2M968 555h4M985 555h2M997 555h4M1017 555h2M1020 555h6M1030 555h2M1036 555h2M1044 555h2M1048 555h2M1104 555h2M1112 555h4M1131 555h4M1137 555h2M1155 555h2M1164 555h3M1229 555h2M1241 555h2M1247 555h2M1264 555h6M1280 555h3M1285 555h2M1305 555h2M1320 555h2M1383 555h2M1391 555h4M1418 555h4M1424 555h2M1459 555h2M1510 555h2M1527 555h2M1579 555h8M1635 555h4M1697 555h2M1703 555h2M1707 555h4M1722 555h4M1738 555h4M1547 581.9h2M1658 581.9h2" stroke="#540054" stroke-width="27" fill="none"/>
<path d="M1009 70.5h2M1015 70.5h4M1036 70.5h4M1065 70.5h2M1118 70.5h2M1126 70.5h3M1191 70.5h2M1206 70.5h2M1212 70.5h2M1256 70.5h2M1385 70.5h2M1447 70.5h2M1516 70.5h2M1569 70.5h2M1639 70.5h4M1647 70.5h2M1660 70.5h2M1740 70.5h2M1233 97.4h2M1260 97.4h2M1391 97.4h2M1471 97.4h2M1500 97.4h2M1514 97.4h2M1552 97.4h2M1587 97.4h1M1654 97.4h2M1711 97.4h4M1013 124.3h2M1112 124.3h2M1133 124.3h2M1165 124.3h2M1235 124.3h2M1391 124.3h4M1467 124.3h2M1531 124.3h2M1555 124.3h4M1571 124.3h2M1581 124.3h2M1596 124.3h2M1724 124.3h4M976 151.2h4M987 151.2h4M1001 151.2h4M1011 151.2h2M1015 151.2h4M1020 151.2h6M1036 151.2h4M1054 151.2h5M1063 151.2h10M1075 151.2h4M1098 151.2h4M1112 151.2h4M1120 151.2h2M1131 151.2h2M1165 151.2h18M1196 151.2h4M1214 151.2h6M1229 151.2h2M1235 151.2h8M1247 151.2h2M1254 151.2h4M1264 151.2h2M1272 151.2h6M1282 151.2h1M1293 151.2h2M1297 151.2h2M1301 151.2h8M1312 151.2h2M1318 151.2h4M1328 151.2h4M1340 151.2h3M1347 151.2h2M1351 151.2h2M1368 151.2h6M1383 151.2h2M1391 151.2h4M1397 151.2h2M1420 151.2h10M1434 151.2h2M1444 151.2h3M1449 151.2h24M1488 151.2h6M1500 151.2h4M1508 151.2h4M1535 151.2h2M1539 151.2h4M1549 151.2h2M1557 151.2h2M1579 151.2h4M1590 151.2h6M1600 151.2h2M1606 151.2h4M1618 151.2h5M1637 151.2h2M1643 151.2h4M1651 151.2h1M1662 151.2h8M1680 151.2h2M1693 151.2h4M1701 151.2h8M1713 151.2h2M1716 151.2h2M1726 151.2h6M1734 151.2h2M1742 151.2h4M1175 178.1h2M1397 178.1h4M1414 178.1h2M1486 178.1h4M1003 205.1h2M1214 205.1h4M1239 205.1h2M1247 205.1h2M1403 205.1h4M1442 205.1h2M1449 205.1h2M1488 205.1h2M1647 205.1h4M1666 205.1h2M1730 205.1h2M1447 232h2M1687 232h4M1198 258.9h2M1293 258.9h2M1366 258.9h2M1391 258.9h2M1403 258.9h2M1516 258.9h2M1678 258.9h4M1266 285.8h2M1424 285.8h2M1482 285.8h2M1516 285.8h3M1521 285.8h4M1730 285.8h2M1744 285.8h2M976 312.7h2M1026 312.7h4M1403 312.7h2M1430 312.7h2M1486 312.7h2M1521 312.7h2M1631 312.7h4M970 339.7h4M978 339.7h2M985 339.7h2M993 339.7h4M1005 339.7h4M1030 339.7h2M1034 339.7h4M1044 339.7h2M1052 339.7h2M1057 339.7h2M1065 339.7h2M1079 339.7h2M1083 339.7h6M1092 339.7h4M1108 339.7h4M1120 339.7h2M1139 339.7h2M1143 339.7h6M1153 339.7h2M1162 339.7h2M1169 339.7h4M1185 339.7h4M1210 339.7h2M1216 339.7h4M1247 339.7h4M1254 339.7h4M1260 339.7h8M1289 339.7h2M1316 339.7h6M1332 339.7h2M1377 339.7h2M1424 339.7h2M1479 339.7h2M1500 339.7h2M1508 339.7h2M1565 339.7h2M1598 339.7h2M1722 339.7h2M1736 339.7h2M1036 366.6h2M1077 366.6h2M1252 366.6h2M1272 366.6h4M1469 366.6h4M1581 366.6h2M974 393.5h2M1256 393.5h2M1366 393.5h2M1403 393.5h4M1179 420.4h2M1343 420.4h2M1401 420.4h2M1473 420.4h2M1541 420.4h4M966 447.3h2M970 447.3h6M1042 447.3h6M1071 447.3h2M1151 447.3h4M1198 447.3h4M1370 447.3h2M1407 447.3h2M1541 447.3h2M1676 447.3h4M1744 447.3h2M966 474.3h8M978 474.3h4M984 474.3h3M1003 474.3h6M1013 474.3h2M1050 474.3h2M1085 474.3h2M1089 474.3h2M1098 474.3h2M1106 474.3h6M1126 474.3h2M1137 474.3h4M1149 474.3h2M1165 474.3h2M1169 474.3h4M1177 474.3h4M1183 474.3h4M1206 474.3h4M1214 474.3h4M1239 474.3h4M1251 474.3h1M1254 474.3h2M1262 474.3h2M1280 474.3h5M1289 474.3h4M1301 474.3h2M1309 474.3h2M1316 474.3h2M1336 474.3h2M1341 474.3h2M1377 474.3h2M1391 474.3h4M1405 474.3h2M1418 474.3h2M1426 474.3h4M1444 474.3h2M1473 474.3h2M1494 474.3h6M1512 474.3h2M1549 474.3h2M1552 474.3h2M1557 474.3h2M1561 474.3h4M1577 474.3h2M1587 474.3h5M1596 474.3h2M1606 474.3h4M1625 474.3h2M1633 474.3h4M1643 474.3h4M1656 474.3h10M1668 474.3h2M1672 474.3h2M1678 474.3h4M1687 474.3h4M1693 474.3h2M1699 474.3h6M1709 474.3h4M1726 474.3h4M1734 474.3h6M970 501.2h2M1169 501.2h2M1225 501.2h4M1405 501.2h2M1418 501.2h4M1469 501.2h2M970 528.1h2M974 528.1h2M991 528.1h2M1019 528.1h1M1065 528.1h4M1073 528.1h4M1091 528.1h1M1102 528.1h4M1108 528.1h6M1118 528.1h4M1139 528.1h4M1145 528.1h4M1151 528.1h4M1164 528.1h1M1177 528.1h6M1231 528.1h2M1235 528.1h2M1258 528.1h4M1322 528.1h8M1691 528.1h2M1738 528.1h4M1693 555h4M968 581.9h4M974 581.9h2M989 581.9h2M999 581.9h6M1011 581.9h4M1017 581.9h2M1026 581.9h4M1052 581.9h2M1077 581.9h2M1083 581.9h2M1087 581.9h2M1100 581.9h2M1106 581.9h2M1112 581.9h2M1133 581.9h8M1157 581.9h4M1162 581.9h3M1173 581.9h4M1181 581.9h4M1214 581.9h9M1227 581.9h6M1256 581.9h6M1268 581.9h2M1283 581.9h2M1287 581.9h4M1297 581.9h8M1311 581.9h5M1318 581.9h4M1326 581.9h2M1347 581.9h2M1364 581.9h2M1381 581.9h2M1387 581.9h4M1444 581.9h3M1477 581.9h4M1488 581.9h2M1518 581.9h1M1531 581.9h6M1567 581.9h4M1600 581.9h2M1616 581.9h4M1627 581.9h2M1672 581.9h2M1693 581.9h10M1734 581.9h2M1742 581.9h4" stroke="#180018" stroke-width="27" fill="none"/>
<path d="M1011 70.5h2M1063 70.5h2M1287 70.5h4M1395 124.3h2M1583 151.2h2M1697 151.2h2M1518 205.1h1M984 232h1M1303 232h2M1621 232h2M1206 285.8h4M1479 312.7h3M1687 312.7h2M1050 339.7h2M1366 339.7h4M1379 339.7h2M1494 339.7h2M1612 339.7h2M1104 366.6h2M1258 420.4h4M1243 447.3h2M1252 447.3h2M1264 447.3h2M1674 447.3h2M1038 474.3h2M1326 474.3h2M1351 474.3h4M1583 474.3h2M1720 474.3h2M1077 501.2h4M1175 528.1h2M1266 528.1h4M1471 528.1h4M1492 528.1h4M1506 528.1h4M1604 555h2M1098 581.9h2M1295 581.9h2M1424 581.9h2M1590 581.9h2M1668 581.9h4M1703 581.9h2" stroke="#240018" stroke-width="27" fill="none"/>
<path d="M1030 70.5h2M1500 70.5h2M980 124.3h2M1356 124.3h2M1604 124.3h4M1625 124.3h2M1672 124.3h2M1705 124.3h4M1208 178.1h4M1422 178.1h2M1588 178.1h2M1668 178.1h4M1387 205.1h2M1469 205.1h2M1490 205.1h2M1535 205.1h2M1616 205.1h4M1137 232h4M1311 232h3M1596 232h2M1069 258.9h2M1100 258.9h4M1128 258.9h3M1167 258.9h4M1258 258.9h2M1510 258.9h4M1682 258.9h2M1693 258.9h2M1512 285.8h4M1531 285.8h2M1131 312.7h2M1153 312.7h2M1206 312.7h4M1353 312.7h2M1552 312.7h2M1614 312.7h2M1059 366.6h4M1395 366.6h4M1424 366.6h2M1484 366.6h2M1742 366.6h2M1098 393.5h4M1120 393.5h2M1330 393.5h2M1349 393.5h4M1461 393.5h2M1502 393.5h2M1602 393.5h4M1726 393.5h4M1183 420.4h2M1254 420.4h2M1274 420.4h2M1289 420.4h2M1322 420.4h2M1521 447.3h2M1549 447.3h2M1311 501.2h1M1594 501.2h4M1547 555h2" stroke="#009090" stroke-width="27" fill="none"/>
<path d="M1059 70.5h2M1171 70.5h2M1241 70.5h2M1539 70.5h2M1716 70.5h2M1112 97.4h2M1118 97.4h2M1094 124.3h2M968 178.1h2M1075 178.1h2M1114 178.1h2M1118 178.1h4M1131 178.1h2M1137 178.1h4M1191 205.1h2M1699 205.1h2M995 232h4M1009 232h4M1087 232h4M1143 232h2M1151 232h2M1155 232h4M1309 232h2M1627 232h2M1660 232h4M1695 232h2M1707 232h2M995 258.9h2M1036 258.9h4M1044 258.9h4M1050 258.9h2M1073 258.9h4M1118 258.9h4M1137 258.9h2M1208 258.9h2M1555 258.9h4M1003 285.8h4M1030 285.8h2M1044 285.8h2M1100 285.8h2M1137 285.8h2M1397 285.8h2M1620 285.8h3M1193 339.7h3M1147 366.6h2M1179 366.6h2M1338 366.6h3M1412 366.6h4M1535 366.6h2M1649 366.6h2M1695 366.6h2M1079 393.5h4M1094 393.5h2M1104 393.5h2M1155 393.5h2M1289 393.5h4M1322 393.5h4M1555 393.5h2M1559 393.5h2M1598 393.5h4M1649 393.5h3M1689 393.5h4M1703 393.5h2M1716 393.5h2M970 420.4h2M993 420.4h2M1175 420.4h4M1324 420.4h2M1340 420.4h1M1422 420.4h2M1555 420.4h2M1587 420.4h3M1627 420.4h2M1635 420.4h2M1645 420.4h4M1658 420.4h2M1709 420.4h4M1724 420.4h2M1732 420.4h2M1110 447.3h4M1249 447.3h2M1494 447.3h2M1604 447.3h2M991 501.2h2M1022 501.2h2M1345 501.2h2M1356 501.2h4M1424 501.2h2M1565 501.2h2M1571 501.2h2M1575 501.2h2M1639 501.2h6M1722 501.2h2M1734 501.2h6M1387 528.1h2M1475 528.1h2M1496 528.1h2M1604 528.1h6M1629 528.1h2M1666 528.1h2M972 555h4M1056 555h1M1071 555h6M1098 555h2M1116 555h4M1135 555h2M1139 555h2M1157 555h4M1169 555h2M1177 555h2M1187 555h4M1200 555h2M1218 555h5M1237 555h4M1243 555h2M1270 555h2M1276 555h4M1289 555h2M1447 555h2M1477 555h2M1494 555h2M1563 555h2M1627 555h2M1631 555h4M1654 555h2M1682 555h2M1707 581.9h2" stroke="#600060" stroke-width="27" fill="none"/>
<path d="M1096 70.5h2M1283 70.5h2M1307 70.5h2M1742 97.4h2M970 124.3h4M1036 124.3h4M1651 124.3h1M1336 178.1h2M1705 178.1h4M1133 205.1h4M1147 205.1h4M1194 205.1h4M1225 205.1h2M966 232h2M991 232h2M1430 232h4M1482 232h2M1077 258.9h2M1389 258.9h2M1405 258.9h2M1457 258.9h2M1518 258.9h1M1651 258.9h1M1222 285.8h3M1554 339.7h3M1600 339.7h2M1056 366.6h1M1345 366.6h2M1537 393.5h2M1135 420.4h2M1153 420.4h2M1345 420.4h2M1608 420.4h2M1366 447.3h2M1379 447.3h2M1397 447.3h4M1416 447.3h2M1484 447.3h2M1110 555h2M1467 555h4" stroke="#006c6c" stroke-width="27" fill="none"/>
<path d="M1102 70.5h4M1309 70.5h2M1353 70.5h2M1377 70.5h2M1422 70.5h2M1449 70.5h4M1519 70.5h2M1038 97.4h2M1185 97.4h4M1276 97.4h2M1316 97.4h2M1320 97.4h2M1410 97.4h2M1449 97.4h4M1469 97.4h2M1547 97.4h2M1623 97.4h2M1662 97.4h2M1096 124.3h2M1179 124.3h4M1370 124.3h2M1389 124.3h2M1412 124.3h2M1519 124.3h4M1561 124.3h2M1623 124.3h2M1664 124.3h4M1716 124.3h4M1157 151.2h4M1370 178.1h2M1567 178.1h4M1654 178.1h2M1063 205.1h2M1167 205.1h4M1181 205.1h4M1218 205.1h2M1231 205.1h4M1422 205.1h2M1514 205.1h2M1623 205.1h2M1716 205.1h4M1282 232h3M1356 232h2M1389 232h2M970 258.9h2M985 258.9h2M1336 285.8h4M1407 285.8h2M978 312.7h4M1604 312.7h2M1709 312.7h4M1241 339.7h2M1024 366.6h2M1189 366.6h2M1282 366.6h1M1347 366.6h2M984 393.5h3M1118 393.5h2M1283 393.5h4M1362 393.5h4M1514 393.5h4M1635 393.5h2M1662 393.5h2M1684 393.5h1M1537 420.4h2M1508 447.3h2M1670 447.3h4M1713 447.3h2M1742 447.3h2M1024 501.2h2M1362 501.2h2M1463 501.2h2M1552 528.1h3M1254 555h2M1399 555h2M1465 581.9h2M1545 581.9h2M1705 581.9h2" stroke="#00f0f0" stroke-width="27" fill="none"/>
<path d="M1110 70.5h4M1089 151.2h3M1141 151.2h4M1162 151.2h3M1183 151.2h4M1189 151.2h2M1243 151.2h4M1278 151.2h2M1324 151.2h2M1353 151.2h2M1364 151.2h4M1389 151.2h2M1399 151.2h2M1432 151.2h2M1477 151.2h2M1494 151.2h6M1523 151.2h2M1554 151.2h3M1559 151.2h2M1625 151.2h2M1654 151.2h2M1658 151.2h4M1676 151.2h2M1685 151.2h4M1227 258.9h4M1129 339.7h4M1272 339.7h2M1347 339.7h2M987 474.3h4M999 474.3h4M1011 474.3h2M1024 474.3h4M1052 474.3h2M1057 474.3h12M1077 474.3h8M1091 474.3h1M1104 474.3h2M1124 474.3h2M1133 474.3h4M1141 474.3h2M1173 474.3h4M1187 474.3h7M1196 474.3h2M1210 474.3h2M1218 474.3h2M1231 474.3h4M1252 474.3h2M1268 474.3h2M1272 474.3h2M1287 474.3h2M1303 474.3h4M1311 474.3h3M1340 474.3h1M1374 474.3h1M1381 474.3h4M1409 474.3h1M1414 474.3h2M1430 474.3h4M1440 474.3h4M1447 474.3h4M1457 474.3h2M1465 474.3h2M1479 474.3h2M1486 474.3h2M1490 474.3h4M1514 474.3h2M1521 474.3h2M1531 474.3h4M1559 474.3h2M1573 474.3h4M1579 474.3h4M1604 474.3h2M1623 474.3h2M1637 474.3h2M1722 474.3h4M1732 474.3h2M1744 474.3h2M1073 581.9h4M1116 581.9h2" stroke="#000000" stroke-width="27" fill="none"/>
<path d="M1157 70.5h2M1477 70.5h2M1699 70.5h2M1724 70.5h4M1028 97.4h2M1239 97.4h4M1015 124.3h4M1026 178.1h4M1264 205.1h2M1516 205.1h2M1537 205.1h4M1664 205.1h2M1720 205.1h4M1254 232h2M1087 258.9h2M1171 258.9h2M1514 258.9h2M1674 258.9h2M982 285.8h2M1200 285.8h4M1623 285.8h2M1734 285.8h2M1428 339.7h2M1740 339.7h2M966 366.6h4M1326 366.6h2M1351 366.6h2M1434 366.6h4M1693 366.6h2M1162 393.5h2M1175 393.5h2M1235 420.4h4M1282 420.4h1M1395 420.4h4M1405 420.4h2M1504 420.4h4M1143 447.3h2M1202 447.3h4M1608 447.3h2M1034 501.2h2M1067 501.2h4M1426 501.2h2M1645 501.2h4M1278 528.1h4M1345 528.1h2M1537 528.1h4M1149 555h4M1208 555h2M1338 555h2M1381 555h2M1573 555h2M1618 555h2" stroke="#48003c" stroke-width="27" fill="none"/>
<path d="M1175 70.5h4M1368 97.4h4M1463 97.4h4M1131 124.3h2M1139 124.3h2M1229 124.3h2M1245 124.3h4M1256 124.3h2M1129 178.1h2M1409 205.1h1M1030 232h2M1185 232h2M1270 232h2M1531 232h2M1191 258.9h2M1488 258.9h2M972 285.8h2M1297 312.7h2M1340 312.7h1M1381 312.7h4M1449 312.7h2M1477 312.7h2M1449 339.7h2M1106 366.6h2M1143 393.5h2M1282 393.5h1M1504 447.3h2M1328 501.2h2M1614 581.9h2" stroke="#00cccc" stroke-width="27" fill="none"/>
<path d="M1181 70.5h2M1356 70.5h2M1434 70.5h2M1616 70.5h2M1713 70.5h2M1044 124.3h4M1711 124.3h2M1151 151.2h2M1736 151.2h4M980 178.1h2M1085 205.1h4M1393 205.1h4M1204 232h4M1381 232h4M1477 232h4M1114 258.9h2M1162 258.9h2M1531 258.9h2M1153 285.8h4M1243 285.8h2M1368 285.8h4M1469 285.8h2M1032 312.7h2M1024 339.7h4M1270 339.7h2M1129 393.5h4M1492 393.5h2M987 420.4h4M1065 420.4h2M1303 420.4h2M1430 420.4h2M1324 447.3h2M1664 447.3h4M1032 474.3h2M1254 501.2h4M1291 501.2h2M993 528.1h2M1241 528.1h4M1301 528.1h2M1543 528.1h2M1353 555h2M1621 555h4M1705 555h2M987 581.9h2M1015 581.9h2M1200 581.9h2M1345 581.9h2M1407 581.9h2M1467 581.9h2M1500 581.9h4M1633 581.9h2M1641 581.9h4" stroke="#300024" stroke-width="27" fill="none"/>
<path d="M1183 70.5h2M1405 70.5h2M1518 70.5h1M1042 97.4h4M1162 97.4h2M1179 97.4h4M1272 97.4h4M1343 97.4h2M1420 97.4h4M1434 97.4h4M1194 124.3h2M1303 124.3h4M1311 124.3h1M1326 124.3h2M1473 124.3h2M1494 124.3h2M1500 124.3h4M1516 124.3h2M1697 124.3h4M1061 151.2h2M1126 178.1h2M1202 178.1h4M1430 178.1h4M1658 178.1h4M1695 178.1h4M1040 205.1h2M1401 205.1h2M1496 205.1h2M1225 232h2M1241 258.9h2M1196 285.8h2M1612 285.8h4M1069 312.7h2M1122 312.7h2M1237 312.7h4M1351 312.7h2M1416 312.7h2M1583 339.7h2M1194 366.6h2M1709 366.6h2M1063 393.5h4M1353 393.5h2M1577 420.4h4M1414 447.3h2M1486 447.3h4M1579 447.3h2M1620 447.3h1M1438 474.3h2M1430 501.2h2M1007 528.1h2M1728 555h2M1490 581.9h2" stroke="#00d8d8" stroke-width="27" fill="none"/>
<path d="M1231 70.5h4M1096 97.4h4M1561 97.4h4M1241 124.3h2M1094 178.1h2M1412 178.1h2M1013 205.1h2M1120 205.1h2M1278 205.1h2M1385 205.1h2M1621 205.1h2M1104 232h2M1126 232h2M1535 232h2M1554 232h1M1104 258.9h2M1124 258.9h4M1254 258.9h4M1377 258.9h2M1596 258.9h2M1616 258.9h4M1656 258.9h2M1695 258.9h4M1494 285.8h4M1545 285.8h2M1651 285.8h3M987 312.7h2M1214 312.7h4M1695 312.7h2M1602 339.7h4M1149 366.6h4M1157 366.6h4M1200 366.6h2M1430 366.6h4M1647 366.6h2M1345 393.5h2M1695 393.5h6M1042 420.4h4M1087 420.4h2M1181 420.4h2M1414 420.4h2M1484 420.4h2M1549 555h2M1577 555h2" stroke="#009c9c" stroke-width="27" fill="none"/>
<path d="M1260 70.5h2M1383 70.5h2M1666 70.5h2M1395 97.4h2M1543 97.4h4M1716 97.4h2M1272 124.3h2M972 151.2h4M991 151.2h6M1032 151.2h4M1046 151.2h2M1050 151.2h4M1079 151.2h4M1092 151.2h2M1110 151.2h2M1118 151.2h2M1135 151.2h2M1139 151.2h2M1149 151.2h2M1191 151.2h5M1200 151.2h2M1206 151.2h4M1212 151.2h2M1223 151.2h4M1231 151.2h4M1249 151.2h2M1262 151.2h2M1266 151.2h2M1289 151.2h4M1299 151.2h2M1322 151.2h2M1326 151.2h2M1332 151.2h4M1349 151.2h2M1360 151.2h4M1374 151.2h1M1377 151.2h2M1387 151.2h2M1395 151.2h2M1405 151.2h2M1412 151.2h8M1438 151.2h2M1475 151.2h2M1486 151.2h2M1504 151.2h4M1512 151.2h2M1516 151.2h3M1529 151.2h4M1537 151.2h2M1588 151.2h2M1602 151.2h2M1610 151.2h4M1623 151.2h2M1629 151.2h8M1670 151.2h4M1678 151.2h2M1691 151.2h2M1699 151.2h2M1711 151.2h2M1715 151.2h1M1722 151.2h2M1185 205.1h2M1541 205.1h2M1434 232h4M1202 258.9h4M1447 285.8h4M1535 285.8h4M1038 339.7h4M1054 339.7h2M1059 339.7h6M1089 339.7h3M1167 339.7h2M1177 339.7h4M1214 339.7h2M1301 339.7h2M1484 339.7h2M1541 339.7h2M1547 339.7h2M1588 339.7h2M1017 366.6h2M1353 420.4h2M1486 420.4h4M976 474.3h2M982 474.3h2M991 474.3h8M1009 474.3h2M1015 474.3h2M1019 474.3h3M1034 474.3h4M1040 474.3h10M1054 474.3h3M1073 474.3h4M1087 474.3h2M1092 474.3h6M1100 474.3h4M1112 474.3h12M1128 474.3h3M1147 474.3h2M1151 474.3h10M1162 474.3h3M1194 474.3h2M1198 474.3h8M1220 474.3h11M1247 474.3h4M1256 474.3h6M1274 474.3h2M1285 474.3h2M1293 474.3h8M1307 474.3h2M1322 474.3h4M1332 474.3h4M1338 474.3h2M1343 474.3h8M1368 474.3h2M1375 474.3h2M1389 474.3h2M1397 474.3h4M1407 474.3h2M1410 474.3h4M1416 474.3h2M1420 474.3h2M1434 474.3h2M1453 474.3h4M1463 474.3h2M1471 474.3h2M1484 474.3h2M1502 474.3h6M1523 474.3h2M1535 474.3h8M1547 474.3h2M1555 474.3h2M1571 474.3h2M1594 474.3h2M1598 474.3h2M1602 474.3h2M1614 474.3h6M1621 474.3h2M1627 474.3h4M1641 474.3h2M1647 474.3h2M1652 474.3h4M1670 474.3h2M1685 474.3h2M1695 474.3h4M1705 474.3h2M1713 474.3h7M1740 474.3h4M1330 501.2h2M968 528.1h2M984 528.1h1M1017 528.1h2M1028 528.1h2M1187 528.1h4M1239 528.1h2M1245 528.1h4M1307 528.1h4M1338 528.1h2M1347 528.1h2M1590 528.1h2M1022 581.9h4M1122 581.9h4M1128 581.9h3M1143 581.9h6M1169 581.9h4M1223 581.9h2M1237 581.9h2M1245 581.9h2M1336 581.9h2M1366 581.9h6M1393 581.9h2M1420 581.9h2M1461 581.9h4M1504 581.9h2M1610 581.9h4M1662 581.9h2" stroke="#0c000c" stroke-width="27" fill="none"/>
<path d="M1276 70.5h2M1155 97.4h2M968 124.3h2M1204 124.3h4M1583 124.3h2M1083 178.1h4M1222 178.1h3M1011 205.1h2M1122 205.1h2M1162 205.1h3M1592 205.1h2M1600 205.1h2M970 232h2M1492 232h2M1519 232h2M1625 232h2M1063 258.9h4M1563 258.9h2M1647 258.9h2M1703 258.9h2M1726 258.9h4M1490 285.8h2M1251 312.7h3M1349 312.7h2M1523 312.7h2M1732 339.7h4M1453 393.5h4M1637 393.5h2M1641 393.5h2M1730 393.5h2M1147 420.4h4M1173 420.4h2M1403 420.4h2M1598 420.4h2M1705 420.4h2M1529 447.3h2M1567 501.2h2M1695 501.2h4M1260 555h4" stroke="#005454" stroke-width="27" fill="none"/>
<path d="M1314 70.5h4M1393 70.5h4M1409 70.5h1M1428 70.5h2M1198 97.4h2M1379 97.4h2M1442 97.4h2M1482 97.4h2M1506 97.4h2M1554 97.4h1M1034 124.3h2M1122 124.3h4M1295 124.3h2M1316 124.3h2M1338 124.3h3M1569 124.3h2M1592 124.3h2M1620 124.3h3M1153 151.2h4M1009 178.1h2M1162 178.1h2M1200 178.1h2M1216 178.1h2M1334 178.1h2M1428 178.1h2M1463 178.1h2M1519 178.1h4M1252 205.1h2M1322 205.1h2M1372 205.1h2M1414 205.1h2M1583 205.1h4M1065 232h2M1167 232h4M1198 232h4M1218 232h4M1351 232h4M1391 232h4M1484 232h2M1527 232h4M1345 258.9h4M1428 258.9h2M1569 285.8h4M1598 285.8h2M1370 312.7h2M1451 312.7h2M1508 312.7h4M1529 312.7h4M1676 312.7h2M1693 312.7h2M1699 312.7h2M1738 312.7h2M1416 339.7h2M1430 339.7h2M1457 339.7h2M1606 339.7h4M1003 366.6h2M1360 366.6h2M1403 366.6h2M1525 366.6h4M1596 366.6h2M1085 393.5h2M1187 393.5h2M1252 393.5h4M1266 393.5h4M1332 393.5h4M1416 393.5h2M1525 393.5h4M1129 420.4h4M1420 420.4h2M1516 420.4h2M1403 447.3h2M1444 447.3h2M1525 447.3h2M1535 447.3h2M1569 447.3h2M1697 447.3h2M1718 447.3h2M1042 501.2h4M1114 528.1h4M984 555h1M1167 555h2M1535 555h4M1587 555h1M1383 581.9h4M1430 581.9h2M1587 581.9h1M1709 581.9h2" stroke="#00e4e4" stroke-width="27" fill="none"/>
<path d="M1381 70.5h2M1720 70.5h2M989 97.4h4M1020 97.4h2M1151 97.4h4M1147 232h2M1585 232h3M1656 232h2M1046 285.8h2M1061 285.8h2M1594 366.6h2M991 393.5h2M1552 393.5h3M1583 393.5h4M1631 393.5h4M1652 393.5h4M1680 393.5h4M1738 393.5h2M1328 420.4h2M1672 420.4h2M1563 447.3h2M1208 501.2h4M989 555h2M1034 555h2M1094 555h4M1120 555h4M1162 555h2M1179 555h2M1202 555h2M1231 555h2M1235 555h2M1312 555h2M1340 555h1M1666 555h2" stroke="#780078" stroke-width="27" fill="none"/>
<path d="M1444 70.5h2M1017 97.4h2M1034 97.4h4M1073 97.4h4M1085 97.4h2M1620 97.4h3M1699 97.4h4M1424 124.3h2M1026 151.2h4M1407 205.1h2M1523 205.1h4M1590 205.1h2M1627 205.1h4M1703 205.1h2M1375 232h2M1635 232h2M1641 232h2M1705 258.9h2M1270 285.8h4M1307 285.8h4M1428 285.8h2M1461 285.8h4M1488 285.8h2M1504 285.8h4M1375 312.7h4M1447 312.7h2M1397 339.7h4M1245 366.6h2M1276 366.6h2M1046 393.5h4M1067 393.5h4M1229 393.5h4M1280 393.5h2M1032 420.4h2M1155 420.4h2M1680 420.4h2M1730 420.4h2M1061 555h2M1102 555h2M1385 555h4" stroke="#006060" stroke-width="27" fill="none"/>
<path d="M974 97.4h2M993 97.4h2M1563 124.3h4M1635 178.1h2" stroke="#b400b4" stroke-width="27" fill="none"/>
<path d="M976 97.4h2M999 97.4h2M1040 97.4h2M1104 97.4h4M1658 97.4h2M1129 124.3h2M1032 178.1h2M1077 178.1h2M1173 178.1h2" stroke="#c000c0" stroke-width="27" fill="none"/>
<path d="M984 97.4h3M1116 97.4h2M1652 97.4h2M1054 124.3h2M1079 124.3h2M1061 178.1h2" stroke="#d800d8" stroke-width="27" fill="none"/>
<path d="M995 97.4h2M1056 97.4h3M1087 97.4h2M1114 97.4h2M1028 124.3h2M982 178.1h3M1044 178.1h2M1157 178.1h4M1052 232h2M1059 232h2M1075 232h2M1081 232h4M1577 232h4M1588 232h2M1730 232h4M1081 258.9h4M1096 258.9h2M1149 258.9h4M1583 258.9h2M1129 285.8h4M993 312.7h2M1208 366.6h2M1734 366.6h4M980 393.5h2M987 393.5h4M1223 393.5h4M1287 393.5h2M1581 393.5h2M1606 393.5h4M1678 393.5h2M1709 393.5h2M1740 393.5h2M1557 420.4h2M1567 420.4h2M1571 420.4h2M1614 420.4h2M1059 447.3h2M1565 447.3h2M1614 447.3h2M1716 447.3h2M1164 501.2h1M1516 501.2h2M1569 501.2h2M1711 501.2h2M1649 528.1h3M1716 528.1h4M1726 528.1h4M991 555h4M1001 555h4M1087 555h2M1145 555h4M1153 555h2M1171 555h2M1181 555h2M1191 555h2M1227 555h2M1233 555h2M1249 555h2M1272 555h2M1291 555h4M1389 555h2M1606 581.9h4" stroke="#6c006c" stroke-width="27" fill="none"/>
<path d="M1001 97.4h2M1092 97.4h2" stroke="#cc00c0" stroke-width="27" fill="none"/>
<path d="M1003 97.4h2M1022 97.4h2M1139 97.4h2M972 232h2M1135 232h2M1629 393.5h2M1720 393.5h2M1594 420.4h4M1128 555h1M1173 555h2M1345 555h4" stroke="#840084" stroke-width="27" fill="none"/>
<path d="M1007 97.4h2M1106 555h2M1223 555h2" stroke="#840078" stroke-width="27" fill="none"/>
<path d="M1009 97.4h2M1089 97.4h3M1167 97.4h2M1157 124.3h2M1588 124.3h4M970 178.1h4M993 178.1h4M999 178.1h2M1050 178.1h2M1583 178.1h2M1627 178.1h2M1682 178.1h2M1112 312.7h4" stroke="#f000f0" stroke-width="27" fill="none"/>
<path d="M1011 97.4h4M1054 97.4h2M1145 97.4h2M1334 124.3h4M1730 124.3h2" stroke="#cc00cc" stroke-width="27" fill="none"/>
<path d="M1019 97.4h1M1600 97.4h2M1691 97.4h2M1695 97.4h4M1658 124.3h2M1349 178.1h4M984 205.1h1M1052 205.1h2M1057 205.1h2M1459 205.1h2M1569 205.1h2M1164 232h1M1181 232h2M1736 232h2M1013 258.9h4M1222 258.9h3M1338 258.9h2M1567 258.9h2M1575 258.9h2M1625 258.9h2M1631 258.9h2M1707 258.9h4M1193 285.8h3M1245 285.8h2M1278 285.8h4M1283 285.8h2M1529 339.7h2M1409 366.6h1M1420 366.6h4M1442 366.6h2M1614 366.6h2M1293 393.5h4M1311 393.5h1M1343 393.5h2M1592 393.5h4M1643 393.5h2M1674 393.5h4M1247 420.4h2M1699 420.4h2M1356 447.3h4M1081 555h2M1356 555h4" stroke="#004848" stroke-width="27" fill="none"/>
<path d="M1030 97.4h4M1122 97.4h2M1590 178.1h2M972 258.9h4" stroke="#9c0090" stroke-width="27" fill="none"/>
<path d="M1048 97.4h2M1133 97.4h4M1666 97.4h2M1048 124.3h4M1147 124.3h4M1299 124.3h2M1585 124.3h2M1600 124.3h4M1079 178.1h2M1716 178.1h2" stroke="#e400e4" stroke-width="27" fill="none"/>
<path d="M1065 97.4h2M1083 97.4h2M1581 97.4h2M976 178.1h4M1020 178.1h2M1054 178.1h3M1196 178.1h2M1645 178.1h2" stroke="#9c009c" stroke-width="27" fill="none"/>
<path d="M1067 97.4h2M1567 97.4h2M1040 178.1h4M1309 178.1h2M1587 178.1h1M1616 178.1h4M1614 205.1h2M1040 232h2M1046 232h2M1463 232h4M1718 232h2M1153 258.9h2M1672 258.9h2M987 285.8h2M1056 285.8h3M1075 285.8h4M1718 285.8h2M1351 339.7h4M1457 366.6h2M1606 366.6h4M1137 393.5h4M1590 393.5h2M1647 393.5h2M1672 393.5h2M1106 420.4h4M1563 420.4h4M1585 420.4h2M1674 420.4h4M1716 420.4h4M1709 447.3h2M999 501.2h2M1061 501.2h2M1131 501.2h2M1167 501.2h2M1471 501.2h4M1510 528.1h2M1518 528.1h1M1015 555h2M1198 555h2M1318 555h2M1397 555h2M1405 555h2M1412 555h2M1430 555h2M1457 555h2M1600 555h2" stroke="#600054" stroke-width="27" fill="none"/>
<path d="M1079 97.4h4M1100 97.4h4M1128 97.4h3M1684 178.1h1M1703 178.1h2" stroke="#a800a8" stroke-width="27" fill="none"/>
<path d="M1120 97.4h2M1067 178.1h2" stroke="#a8009c" stroke-width="27" fill="none"/>
<path d="M1137 97.4h2M1046 312.7h4M1137 312.7h2" stroke="#fc00f0" stroke-width="27" fill="none"/>
<path d="M1147 97.4h4M1001 178.1h2M1627 258.9h2M1094 312.7h2M1075 393.5h4" stroke="#78006c" stroke-width="27" fill="none"/>
<path d="M1159 97.4h2M1061 124.3h2M1241 178.1h4M1629 178.1h2M1065 312.7h2" stroke="#e400d8" stroke-width="27" fill="none"/>
<path d="M1270 97.4h2M1164 124.3h1M1343 124.3h2M1549 124.3h2M1245 178.1h2M1341 178.1h2M1385 232h4M1449 232h4M1689 258.9h4M999 312.7h4M1038 312.7h2M1282 312.7h3M1537 312.7h2M1563 312.7h2M1718 366.6h4M1141 393.5h2M1171 393.5h2M1262 393.5h2M1092 420.4h4M1366 420.4h4M1469 447.3h6M1482 447.3h2M1185 501.2h2" stroke="#00fcfc" stroke-width="27" fill="none"/>
<path d="M1347 97.4h2M1135 124.3h4M1073 178.1h2M1685 178.1h2" stroke="#f000e4" stroke-width="27" fill="none"/>
<path d="M1477 97.4h4M1684 97.4h3M1744 97.4h2M1022 178.1h4M1711 178.1h4M1198 205.1h4M1364 205.1h2M1740 205.1h4M1024 232h4M1555 232h4M1724 232h2M1116 258.9h2M1216 258.9h4M1372 258.9h3M1434 258.9h2M1577 258.9h4M1716 258.9h4M1085 285.8h2M1362 285.8h4M1484 285.8h2M1554 312.7h1M1050 393.5h2M1181 393.5h2M1189 420.4h2M1545 420.4h2M1682 420.4h2M1496 447.3h2M1256 555h2M1307 555h2M1444 555h3M1531 555h4M1590 555h2" stroke="#003c3c" stroke-width="27" fill="none"/>
<path d="M1588 97.4h4M1151 178.1h4M1699 178.1h2M1007 312.7h2" stroke="#d800cc" stroke-width="27" fill="none"/>
<path d="M1616 97.4h2M1736 97.4h2M984 124.3h1M1030 124.3h4M1071 124.3h2M1151 124.3h2M1744 124.3h2M1377 178.1h2M1054 205.1h3M1061 205.1h2M1065 205.1h2M1282 205.1h3M1362 205.1h2M1510 205.1h2M1549 205.1h2M1571 205.1h2M1631 205.1h2M1001 232h2M1061 232h2M1227 232h2M1442 232h4M1467 232h4M1592 232h2M1678 232h2M1691 232h2M1005 258.9h4M1017 258.9h2M1133 258.9h4M1181 258.9h2M1459 258.9h2M1587 258.9h1M1621 258.9h4M1347 285.8h4M1416 285.8h4M1451 285.8h2M1724 285.8h4M995 312.7h4M1231 312.7h4M1409 312.7h3M1438 312.7h2M1171 366.6h4M1407 366.6h2M1467 366.6h2M1508 366.6h2M1680 366.6h2M1239 393.5h2M1475 393.5h4M1639 393.5h2M1645 393.5h2M976 420.4h2M1516 447.3h2M1075 501.2h2M1077 555h2M1085 555h2M1465 555h2" stroke="#008484" stroke-width="27" fill="none"/>
<path d="M1709 97.4h2M1301 124.3h2M1183 178.1h4M1353 178.1h2M1044 205.1h4M1091 205.1h1M1141 205.1h4M1193 205.1h1M1266 205.1h2M1434 205.1h2M1498 205.1h4M1620 205.1h1M1658 205.1h2M968 232h2M1003 232h2M1013 232h4M1050 232h2M1077 232h4M1575 232h2M1001 258.9h4M1085 258.9h2M1399 258.9h2M1461 258.9h2M1467 258.9h2M1658 258.9h2M991 285.8h2M1036 285.8h2M1395 285.8h2M1457 285.8h2M1475 285.8h4M1637 285.8h2M1187 312.7h4M1276 312.7h2M1391 312.7h2M1510 339.7h2M1573 339.7h2M1742 339.7h4M1009 366.6h4M1343 366.6h2M1654 366.6h2M976 393.5h2M1040 393.5h2M1179 393.5h2M1258 393.5h4M1579 393.5h2M1116 420.4h2M1218 420.4h2M1341 420.4h2M1374 420.4h1M1463 420.4h4M1381 447.3h2M1434 447.3h2M1446 447.3h3M1705 447.3h4M1455 501.2h2M1718 501.2h4M1449 555h2" stroke="#00a8a8" stroke-width="27" fill="none"/>
<path d="M1159 124.3h2M974 178.1h2M1122 178.1h2" stroke="#900090" stroke-width="27" fill="none"/>
<path d="M1484 124.3h2M1652 124.3h2M1713 124.3h3M1740 124.3h4M1102 178.1h2M1732 178.1h4M980 205.1h2M989 205.1h2M1171 205.1h2M1309 205.1h3M1318 205.1h4M1368 205.1h2M1463 205.1h2M1508 205.1h2M1651 205.1h1M1094 232h4M1241 232h4M1604 232h2M1612 232h2M968 258.9h2M984 258.9h1M1059 258.9h4M1414 258.9h2M1506 258.9h4M1588 258.9h2M1592 258.9h2M1740 258.9h2M1081 285.8h4M1139 285.8h2M1387 285.8h2M1573 285.8h2M970 312.7h4M1212 312.7h2M1260 312.7h4M1618 339.7h2M1013 366.6h4M1057 366.6h2M1364 366.6h2M1473 366.6h2M1479 366.6h2M1220 393.5h2M1272 393.5h2M1687 393.5h2M1046 420.4h2M1446 420.4h1M1461 447.3h2M1543 447.3h2M1627 447.3h2M1649 447.3h3M1042 555h2M1410 555h2" stroke="#00b4b4" stroke-width="27" fill="none"/>
<path d="M1046 178.1h2M1063 178.1h2M1596 178.1h4" stroke="#c000b4" stroke-width="27" fill="none"/>
<path d="M1100 178.1h2M1600 178.1h2M1641 178.1h4M1120 312.7h2" stroke="#b400a8" stroke-width="27" fill="none"/>
<path d="M1036 205.1h2M1071 205.1h4M1114 205.1h4M1235 205.1h2M1272 205.1h2M1430 205.1h2M1467 205.1h2M1473 205.1h4M1637 205.1h4M1063 232h2M1165 232h2M1539 232h4M1670 232h2M1713 258.9h3M1028 285.8h2M1303 285.8h4M1375 285.8h2M1527 285.8h2M1587 285.8h1M1559 312.7h4M987 366.6h2M1332 366.6h2M1635 366.6h2M1399 393.5h2M1722 393.5h2M1377 420.4h2M1490 420.4h2M1732 447.3h2M1341 555h2M1374 555h3" stroke="#007878" stroke-width="27" fill="none"/>
<path d="M1202 232h2M1054 258.9h2M1009 285.8h4M1122 285.8h4M1299 366.6h2M1461 366.6h4M1159 393.5h2M1227 393.5h2M1567 393.5h4M1668 393.5h2M1013 420.4h2M1621 420.4h2M1641 420.4h4M1504 501.2h4M1740 501.2h4M1011 555h4M1183 555h2M1349 555h4M1529 555h2" stroke="#6c0060" stroke-width="27" fill="none"/>
<rect x="1745.6" y="57" width="1" height="538.4" fill="#b0b0b0"/>
<rect x="1160.5" y="57" width="1.1" height="538.4" fill="#8a8a8a"/>
<rect x="1355" y="57" width="1.1" height="538.4" fill="#8a8a8a"/>
<rect x="1550.5" y="57" width="1.1" height="538.4" fill="#8a8a8a"/>
<rect x="966" y="35" width="193.7" height="10" fill="#f8766d"/>
<text x="1071" y="24.2" font-size="32.5" text-anchor="middle" fill="#1a1a1a">Fib1</text>
<rect x="1162" y="35" width="192.4" height="10" fill="#7cae00"/>
<text x="1269" y="24.2" font-size="32.5" text-anchor="middle" fill="#1a1a1a">Fib2</text>
<rect x="1357" y="35" width="193" height="10" fill="#00bfc4"/>
<text x="1459" y="24.2" font-size="32.5" text-anchor="middle" fill="#1a1a1a">MFib 1</text>
<rect x="1552.5" y="35" width="193" height="10" fill="#c77cff"/>
<text x="1654" y="24.2" font-size="32.5" text-anchor="middle" fill="#1a1a1a">S1</text>
<ellipse cx="1077" cy="35.5" rx="14" ry="2.2" fill="#fff" opacity="0.85" filter="url(#blur1)"/>
<text x="958.4" y="77.9" font-size="24" text-anchor="end" fill="#1a1a1a">COL12A1</text>
<text x="958.4" y="104.8" font-size="24" text-anchor="end" fill="#1a1a1a">COL1A1</text>
<text x="958.4" y="131.7" font-size="24" text-anchor="end" fill="#1a1a1a">COL1A2</text>
<text x="958.4" y="158.7" font-size="24" text-anchor="end" fill="#1a1a1a">COL21A1</text>
<text x="958.4" y="185.6" font-size="24" text-anchor="end" fill="#1a1a1a">COL3A1</text>
<text x="958.4" y="212.5" font-size="24" text-anchor="end" fill="#1a1a1a">COL5A1</text>
<text x="958.4" y="239.4" font-size="24" text-anchor="end" fill="#1a1a1a">COL5A2</text>
<text x="958.4" y="266.3" font-size="24" text-anchor="end" fill="#1a1a1a">COL6A1</text>
<text x="958.4" y="293.3" font-size="24" text-anchor="end" fill="#1a1a1a">COL6A2</text>
<text x="958.4" y="320.2" font-size="24" text-anchor="end" fill="#1a1a1a">COL6A3</text>
<text x="958.4" y="347.1" font-size="24" text-anchor="end" fill="#1a1a1a">COL8A2</text>
<text x="958.4" y="374" font-size="24" text-anchor="end" fill="#1a1a1a">COL25A1</text>
<text x="958.4" y="400.9" font-size="24" text-anchor="end" fill="#1a1a1a">COL4A1</text>
<text x="958.4" y="427.9" font-size="24" text-anchor="end" fill="#1a1a1a">COL4A2</text>
<text x="958.4" y="454.8" font-size="24" text-anchor="end" fill="#1a1a1a">COL22A1</text>
<text x="958.4" y="481.7" font-size="24" text-anchor="end" fill="#1a1a1a">COL24A1</text>
<text x="958.4" y="508.6" font-size="24" text-anchor="end" fill="#1a1a1a">COL9A2</text>
<text x="958.4" y="535.5" font-size="24" text-anchor="end" fill="#1a1a1a">COL19A1</text>
<text x="958.4" y="562.5" font-size="24" text-anchor="end" fill="#1a1a1a">COL4A5</text>
<text x="958.4" y="589.4" font-size="24" text-anchor="end" fill="#1a1a1a">COL9A3</text>
<text x="1747.6" y="262.2" font-size="23.6" fill="#1a1a1a">Expression</text>
<rect x="1768.3" y="275.2" width="28.7" height="142.1" fill="url(#expbar)"/>
<path d="M1768.3 289.3h5M1792 289.3h5" stroke="#fff" stroke-width="1.2"/>
<text x="1813" y="293.1" font-size="17.5" text-anchor="middle" fill="#1a1a1a">2</text>
<path d="M1768.3 317.7h5M1792 317.7h5" stroke="#fff" stroke-width="1.2"/>
<text x="1813" y="321.5" font-size="17.5" text-anchor="middle" fill="#1a1a1a">1</text>
<path d="M1768.3 346h5M1792 346h5" stroke="#fff" stroke-width="1.2"/>
<text x="1813" y="349.8" font-size="17.5" text-anchor="middle" fill="#1a1a1a">0</text>
<path d="M1768.3 374.8h5M1792 374.8h5" stroke="#fff" stroke-width="1.2"/>
<text x="1812.5" y="378.6" font-size="17.5" text-anchor="middle" fill="#1a1a1a">-1</text>
<path d="M1768.3 403.2h5M1792 403.2h5" stroke="#fff" stroke-width="1.2"/>
<text x="1812.5" y="407" font-size="17.5" text-anchor="middle" fill="#1a1a1a">-2</text>
<path d="M66.5 718V1420M66 718H165" stroke="#f3f3f3" stroke-width="1" fill="none"/>
<polygon points="256.8,765 256.8,764.5 256.8,764 255,763.5 244.6,763 231.7,762.5 224.4,762 227.3,761.5 229.9,761.1 231.7,760.6 232.1,760.1 232.9,759.6 234.3,759.1 235.9,758.6 238.2,758.1 241.5,757.6 245.5,757.1 246.9,756.6 243.8,756.1 240.6,755.6 238.5,755.1 237.1,754.6 236.1,754.2 235.1,753.7 234.1,753.2 233.1,752.7 232.2,752.2 231.3,751.7 230.5,751.2 230,750.7 230,750.2 230.2,749.7 229.6,749.2 228.1,748.7 226.3,748.2 225.1,747.7 224.3,747.2 223.6,746.8 223,746.3 222.4,745.8 222,745.3 221.8,744.8 221.7,744.3 221.1,743.8 220.3,743.3 219.5,742.8 218.9,742.3 218.4,741.8 218.1,741.3 217.7,740.8 217.4,740.3 217.1,739.9 216.8,739.4 216.6,738.9 216.4,738.4 216.4,737.9 216.4,737.4 216.4,736.9 216.4,736.4 216.4,735.9 216.4,735.4 216.2,735.4 215.4,735.4 215.2,735.4 215.2,735.9 215.2,736.4 215.2,736.9 215.2,737.4 215.2,737.9 215.2,738.4 215,738.9 214.8,739.4 214.5,739.9 214.2,740.3 213.9,740.8 213.5,741.3 213.2,741.8 212.7,742.3 212.1,742.8 211.3,743.3 210.5,743.8 209.9,744.3 209.8,744.8 209.6,745.3 209.2,745.8 208.6,746.3 208,746.8 207.3,747.2 206.5,747.7 205.3,748.2 203.5,748.7 202,749.2 201.4,749.7 201.6,750.2 201.6,750.7 201.1,751.2 200.3,751.7 199.4,752.2 198.5,752.7 197.5,753.2 196.5,753.7 195.5,754.2 194.5,754.6 193.1,755.1 191,755.6 187.8,756.1 184.7,756.6 186.1,757.1 190.1,757.6 193.4,758.1 195.7,758.6 197.3,759.1 198.7,759.6 199.5,760.1 199.9,760.6 201.7,761.1 204.3,761.5 207.2,762 199.9,762.5 187,763 176.6,763.5 174.8,764 174.8,764.5 174.8,765" fill="#f8766d" stroke="#333" stroke-width="0.7"/>
<polygon points="374.8,765 374.8,764.6 374.8,764.2 374.8,763.8 369.4,763.4 357.6,762.9 344.8,762.5 335.1,762.1 331.1,761.7 332.2,761.3 333.2,760.9 333.8,760.5 334,760.1 334.3,759.7 334.8,759.2 335.4,758.8 336.2,758.4 337.2,758 338.7,757.6 340.4,757.2 341.7,756.8 340.5,756.4 338.9,756 337.5,755.5 336.6,755.1 335.9,754.7 335.4,754.3 334.8,753.9 334.3,753.5 333.8,753.1 333.4,752.7 333.2,752.3 333.1,751.9 333.1,751.4 332.8,751 332.1,750.6 331.3,750.2 330.6,749.8 330,749.4 329.6,749 329.3,748.6 329.1,748.2 329,747.7 328.8,747.3 328.6,746.9 328.2,746.5 327.8,746.1 327.4,745.7 327.1,745.3 326.9,744.9 326.7,744.5 326.6,744 326.4,743.6 326.4,743.2 326.4,742.8 326.4,742.4 326.4,742 326.4,741.6 326.4,741.2 326.4,740.8 326.4,740.3 326.2,740.3 325.4,740.3 325.2,740.3 325.2,740.8 325.2,741.2 325.2,741.6 325.2,742 325.2,742.4 325.2,742.8 325.2,743.2 325.2,743.6 325,744 324.9,744.5 324.7,744.9 324.5,745.3 324.2,745.7 323.8,746.1 323.4,746.5 323,746.9 322.8,747.3 322.6,747.7 322.5,748.2 322.3,748.6 322,749 321.6,749.4 321,749.8 320.3,750.2 319.5,750.6 318.8,751 318.5,751.4 318.5,751.9 318.4,752.3 318.2,752.7 317.8,753.1 317.3,753.5 316.8,753.9 316.2,754.3 315.7,754.7 315,755.1 314.1,755.5 312.7,756 311.1,756.4 309.9,756.8 311.2,757.2 312.9,757.6 314.4,758 315.4,758.4 316.2,758.8 316.8,759.2 317.3,759.7 317.6,760.1 317.8,760.5 318.4,760.9 319.4,761.3 320.5,761.7 316.5,762.1 306.8,762.5 294,762.9 282.2,763.4 276.8,763.8 276.8,764.2 276.8,764.6 276.8,765" fill="#7cae00" stroke="#333" stroke-width="0.7"/>
<polygon points="480.4,765 480.4,764.5 480.4,764 477.4,763.5 464.6,762.9 450.3,762.4 448.6,761.9 452.5,761.4 457.9,760.9 462.7,760.4 463.7,759.9 463.5,759.4 464.1,758.8 465.7,758.3 467.8,757.8 470.1,757.3 472.5,756.8 475.6,756.3 480.5,755.8 486.4,755.2 486.4,754.7 486.4,754.2 481.3,753.7 476.8,753.2 474,752.7 471.9,752.2 469.9,751.6 468,751.1 466.2,750.6 464.4,750.1 462.7,749.6 461.4,749.1 461.1,748.6 461.4,748.1 460.7,747.5 457.9,747 454.6,746.5 452.2,746 450.5,745.5 449.2,745 448,744.5 447.1,743.9 446.5,743.4 446.2,742.9 445.5,742.4 443.9,741.9 442.3,741.4 441.1,740.9 440.2,740.3 439.4,739.8 438.8,739.3 438.2,738.8 437.6,738.3 437.1,737.8 436.7,737.3 436.3,736.8 436,736.2 436,735.7 436,735.2 436,734.7 436,734.2 435.8,734.2 435,734.2 434.8,734.2 434.8,734.7 434.8,735.2 434.8,735.7 434.8,736.2 434.5,736.8 434.1,737.3 433.7,737.8 433.2,738.3 432.6,738.8 432,739.3 431.4,739.8 430.6,740.3 429.7,740.9 428.5,741.4 426.9,741.9 425.3,742.4 424.6,742.9 424.3,743.4 423.7,743.9 422.8,744.5 421.6,745 420.3,745.5 418.6,746 416.2,746.5 412.9,747 410.1,747.5 409.4,748.1 409.7,748.6 409.4,749.1 408.1,749.6 406.4,750.1 404.6,750.6 402.8,751.1 400.9,751.6 398.9,752.2 396.8,752.7 394,753.2 389.5,753.7 384.4,754.2 384.4,754.7 384.4,755.2 390.3,755.8 395.2,756.3 398.3,756.8 400.7,757.3 403,757.8 405.1,758.3 406.7,758.8 407.3,759.4 407.1,759.9 408.1,760.4 412.9,760.9 418.3,761.4 422.2,761.9 420.5,762.4 406.2,762.9 393.4,763.5 390.4,764 390.4,764.5 390.4,765" fill="#00bfc4" stroke="#333" stroke-width="0.7"/>
<polygon points="594,765 594,764.5 594,764.1 592.9,763.6 583,763.1 568.6,762.7 558.2,762.2 561.3,761.7 565.5,761.3 570.9,760.8 575.2,760.3 576.1,759.9 575.9,759.4 576.3,758.9 577.6,758.5 579.6,758 581.7,757.5 583.9,757.1 586.4,756.6 589.7,756.2 594.8,755.7 597,755.2 597,754.8 597,754.3 595.6,753.8 590.3,753.4 586.9,752.9 584.4,752.4 582.2,752 580.1,751.5 578,751 576.1,750.6 574.6,750.1 574,749.6 574,749.2 573.5,748.7 571.1,748.2 567.7,747.8 564.6,747.3 562.4,746.8 560.9,746.4 559.6,745.9 558.6,745.4 558,745 557.5,744.5 556.4,744 554.7,743.6 553,743.1 551.8,742.6 550.8,742.2 550,741.7 549.2,741.2 548.6,740.8 548,740.3 547.5,739.9 547.1,739.4 546.7,738.9 546.6,738.5 546.6,738 546.6,737.5 546.6,737.1 546.4,737.1 545.6,737.1 545.4,737.1 545.4,737.5 545.4,738 545.4,738.5 545.3,738.9 544.9,739.4 544.5,739.9 544,740.3 543.4,740.8 542.8,741.2 542,741.7 541.2,742.2 540.2,742.6 539,743.1 537.3,743.6 535.6,744 534.5,744.5 534,745 533.4,745.4 532.4,745.9 531.1,746.4 529.6,746.8 527.4,747.3 524.3,747.8 520.9,748.2 518.5,748.7 518,749.2 518,749.6 517.4,750.1 515.9,750.6 514,751 511.9,751.5 509.8,752 507.6,752.4 505.1,752.9 501.7,753.4 496.4,753.8 495,754.3 495,754.8 495,755.2 497.2,755.7 502.3,756.2 505.6,756.6 508.1,757.1 510.3,757.5 512.4,758 514.4,758.5 515.7,758.9 516.1,759.4 515.9,759.9 516.8,760.3 521.1,760.8 526.5,761.3 530.7,761.7 533.8,762.2 523.4,762.7 509,763.1 499.1,763.6 498,764.1 498,764.5 498,765" fill="#c77cff" stroke="#333" stroke-width="0.7"/>
<text x="155" y="733.5" font-size="14" fill="#222">3</text>
<text x="141" y="758.8" font-size="29" text-anchor="end" fill="#1a1a1a">CDH2</text>
<path d="M185.8 805.3h60" stroke="#888" stroke-width="0.9" fill="none"/>
<path d="M215.8 806.1V793.8" stroke="#555" stroke-width="0.8" fill="none"/>
<path d="M295.8 805.3h60" stroke="#888" stroke-width="0.9" fill="none"/>
<path d="M325.8 806.1V785.5" stroke="#555" stroke-width="0.8" fill="none"/>
<path d="M323.8 799.9h4" stroke="#555" stroke-width="0.8" fill="none"/>
<polygon points="484.4,806.1 484.4,805.6 484.4,805.1 482.8,804.7 471.5,804.2 456.4,803.7 444.7,803.2 441.4,802.7 442.4,802.3 443.6,801.8 444.9,801.3 446.5,800.8 448.6,800.3 449.9,799.9 448.7,799.4 447.2,798.9 446.2,798.4 445.5,797.9 445,797.5 444.6,797 444.2,796.5 443.8,796 443.4,795.5 443,795.1 442.6,794.6 442.2,794.1 442,793.6 441.9,793.1 442,792.7 442,792.2 441.5,791.7 440.7,791.2 440.1,790.7 439.6,790.3 439.3,789.8 439,789.3 438.7,788.8 438.5,788.4 438.3,787.9 438.2,787.4 438.1,786.9 438,786.4 437.7,786 437.3,785.5 437,785 436.8,784.5 436.6,784 436.4,783.6 436.3,783.1 436.2,782.6 436,782.1 436,781.6 436,781.2 436,780.7 436,780.2 436,779.7 436,779.2 436,778.8 436,778.3 436,777.8 436,777.3 435.8,777.3 435,777.3 434.8,777.3 434.8,777.8 434.8,778.3 434.8,778.8 434.8,779.2 434.8,779.7 434.8,780.2 434.8,780.7 434.8,781.2 434.8,781.6 434.8,782.1 434.6,782.6 434.5,783.1 434.4,783.6 434.2,784 434,784.5 433.8,785 433.5,785.5 433.1,786 432.8,786.4 432.7,786.9 432.6,787.4 432.5,787.9 432.3,788.4 432.1,788.8 431.8,789.3 431.5,789.8 431.2,790.3 430.7,790.7 430.1,791.2 429.3,791.7 428.8,792.2 428.8,792.7 428.9,793.1 428.8,793.6 428.6,794.1 428.2,794.6 427.8,795.1 427.4,795.5 427,796 426.6,796.5 426.2,797 425.8,797.5 425.3,797.9 424.6,798.4 423.6,798.9 422.1,799.4 420.9,799.9 422.2,800.3 424.3,800.8 425.9,801.3 427.2,801.8 428.4,802.3 429.4,802.7 426.1,803.2 414.4,803.7 399.3,804.2 388,804.7 386.4,805.1 386.4,805.6 386.4,806.1" fill="#00bfc4" stroke="#333" stroke-width="0.7"/>
<polygon points="595,806.1 595,805.6 595,805.1 593.4,804.7 582.1,804.2 567,803.7 555.3,803.2 555.6,802.7 557,802.3 558.9,801.8 560.7,801.3 562.1,800.8 562.6,800.3 561.9,799.9 561.1,799.4 560.8,798.9 561,798.4 561.3,797.9 561.6,797.5 561.9,797 562.2,796.5 562.5,796 563,795.5 563.8,795.1 565.4,794.6 567.3,794.1 567.8,793.6 566.4,793.1 564.6,792.7 563.4,792.2 562.8,791.7 562.4,791.2 562,790.7 561.6,790.3 561.3,789.8 561.4,789.3 561.9,788.8 562.6,788.4 562.3,787.9 560.9,787.4 559.3,786.9 558.2,786.4 557.5,786 557.1,785.5 557.1,785 557.4,784.5 557.4,784 556.5,783.6 555.2,783.1 554,782.6 553.2,782.1 552.5,781.6 551.9,781.2 551.3,780.7 550.7,780.2 550.1,779.7 549.4,779.2 548.7,778.8 548,778.3 547.2,777.8 546.6,777.3 546.4,777.3 545.6,777.3 545.4,777.3 544.8,777.8 544,778.3 543.3,778.8 542.6,779.2 541.9,779.7 541.3,780.2 540.7,780.7 540.1,781.2 539.5,781.6 538.8,782.1 538,782.6 536.8,783.1 535.5,783.6 534.6,784 534.6,784.5 534.9,785 534.9,785.5 534.5,786 533.8,786.4 532.7,786.9 531.1,787.4 529.7,787.9 529.4,788.4 530.1,788.8 530.6,789.3 530.7,789.8 530.4,790.3 530,790.7 529.6,791.2 529.2,791.7 528.6,792.2 527.4,792.7 525.6,793.1 524.2,793.6 524.7,794.1 526.6,794.6 528.2,795.1 529,795.5 529.5,796 529.8,796.5 530.1,797 530.4,797.5 530.7,797.9 531,798.4 531.2,798.9 530.9,799.4 530.1,799.9 529.4,800.3 529.9,800.8 531.3,801.3 533.1,801.8 535,802.3 536.4,802.7 536.7,803.2 525,803.7 509.9,804.2 498.6,804.7 497,805.1 497,805.6 497,806.1" fill="#c77cff" stroke="#333" stroke-width="0.7"/>
<text x="155" y="775" font-size="14" fill="#222">4</text>
<text x="141" y="799.9" font-size="29" text-anchor="end" fill="#1a1a1a">OGN</text>
<polygon points="255.8,847.2 255.8,846.8 255.8,846.4 255.8,846.1 253.6,845.7 246.1,845.3 236.4,844.9 227.6,844.5 221.6,844.2 223.1,843.8 224.5,843.4 225.6,843 226.3,842.7 226.4,842.3 226.8,841.9 227.4,841.5 228.1,841.2 228.9,840.8 230,840.4 231.5,840 233.4,839.6 235.3,839.3 236.3,838.9 234.7,838.5 232.7,838.1 231,837.8 229.7,837.4 228.7,837 228,836.6 227.3,836.3 226.6,835.9 226.1,835.5 225.7,835.1 225.6,834.8 225.5,834.4 225.1,834 224.2,833.6 223.2,833.2 222.2,832.9 221.4,832.5 220.9,832.1 220.5,831.7 220.2,831.4 220,831 219.7,830.6 219.3,830.2 218.8,829.9 218.2,829.5 217.8,829.1 217.4,828.7 217.1,828.3 216.9,828 216.7,827.6 216.5,827.2 216.4,826.8 216.4,826.5 216.4,826.1 216.4,825.7 216.4,825.3 216.4,825 216.4,824.6 216.2,824.6 215.4,824.6 215.2,824.6 215.2,825 215.2,825.3 215.2,825.7 215.2,826.1 215.2,826.5 215.2,826.8 215.1,827.2 214.9,827.6 214.7,828 214.5,828.3 214.2,828.7 213.8,829.1 213.4,829.5 212.8,829.9 212.3,830.2 211.9,830.6 211.6,831 211.4,831.4 211.1,831.7 210.7,832.1 210.2,832.5 209.4,832.9 208.4,833.2 207.4,833.6 206.5,834 206.1,834.4 206,834.8 205.9,835.1 205.5,835.5 205,835.9 204.3,836.3 203.6,836.6 202.9,837 201.9,837.4 200.6,837.8 198.9,838.1 196.9,838.5 195.3,838.9 196.3,839.3 198.2,839.6 200.1,840 201.6,840.4 202.7,840.8 203.5,841.2 204.2,841.5 204.8,841.9 205.2,842.3 205.3,842.7 206,843 207.1,843.4 208.5,843.8 210,844.2 204,844.5 195.2,844.9 185.5,845.3 178,845.7 175.8,846.1 175.8,846.4 175.8,846.8 175.8,847.2" fill="#f8766d" stroke="#333" stroke-width="0.7"/>
<polygon points="374.8,847.2 374.8,846.8 374.8,846.4 374.8,846.1 372.1,845.7 363,845.3 351,844.9 340.2,844.5 332.8,844.2 334.4,843.8 336,843.4 337.3,843 338.2,842.7 338.3,842.3 338.7,841.9 339.4,841.5 340.3,841.2 341.2,840.8 342.5,840.4 344.2,840 346.5,839.6 348.8,839.3 350,838.9 348,838.5 345.7,838.1 343.6,837.8 342.1,837.4 341,837 340.1,836.6 339.3,836.3 338.5,835.9 337.9,835.5 337.5,835.1 337.3,834.8 337.2,834.4 336.7,834 335.7,833.6 334.5,833.2 333.3,832.9 332.4,832.5 331.8,832.1 331.3,831.7 331,831.4 330.7,831 330.4,830.6 329.9,830.2 329.3,829.9 328.7,829.5 328.1,829.1 327.7,828.7 327.4,828.3 327.1,828 326.8,827.6 326.6,827.2 326.4,826.8 326.4,826.5 326.4,826.1 326.4,825.7 326.4,825.3 326.4,825 326.4,824.6 326.2,824.6 325.4,824.6 325.2,824.6 325.2,825 325.2,825.3 325.2,825.7 325.2,826.1 325.2,826.5 325.2,826.8 325,827.2 324.8,827.6 324.5,828 324.2,828.3 323.9,828.7 323.5,829.1 322.9,829.5 322.3,829.9 321.7,830.2 321.2,830.6 320.9,831 320.6,831.4 320.3,831.7 319.8,832.1 319.2,832.5 318.3,832.9 317.1,833.2 315.9,833.6 314.9,834 314.4,834.4 314.3,834.8 314.1,835.1 313.7,835.5 313.1,835.9 312.3,836.3 311.5,836.6 310.6,837 309.5,837.4 308,837.8 305.9,838.1 303.6,838.5 301.6,838.9 302.8,839.3 305.1,839.6 307.4,840 309.1,840.4 310.4,840.8 311.3,841.2 312.2,841.5 312.9,841.9 313.3,842.3 313.4,842.7 314.3,843 315.6,843.4 317.2,843.8 318.8,844.2 311.4,844.5 300.6,844.9 288.6,845.3 279.5,845.7 276.8,846.1 276.8,846.4 276.8,846.8 276.8,847.2" fill="#7cae00" stroke="#333" stroke-width="0.7"/>
<polygon points="484.4,847.2 484.4,846.7 484.4,846.3 483.9,845.8 475.5,845.4 461.7,845 449,844.5 446.8,844.1 449.7,843.6 453.5,843.2 457.8,842.7 459.3,842.3 459.4,841.8 459.4,841.4 460,840.9 461.2,840.5 462.7,840.1 464.4,839.6 466.1,839.2 468.1,838.7 470.8,838.3 474.8,837.8 480,837.4 484,836.9 480.6,836.5 475.4,836.1 471,835.6 468,835.2 465.9,834.7 464.1,834.3 462.4,833.8 460.7,833.4 459.3,832.9 458.3,832.5 458,832 457.9,831.6 456.9,831.2 454.6,830.7 451.8,830.3 449.6,829.8 448,829.4 446.8,828.9 445.9,828.5 445.3,828 444.9,827.6 444.2,827.1 443,826.7 441.6,826.3 440.4,825.8 439.5,825.4 438.8,824.9 438.1,824.5 437.6,824 437.1,823.6 436.7,823.1 436.3,822.7 436,822.3 436,821.8 436,821.4 436,820.9 436,820.5 435.8,820.5 435,820.5 434.8,820.5 434.8,820.9 434.8,821.4 434.8,821.8 434.8,822.3 434.5,822.7 434.1,823.1 433.7,823.6 433.2,824 432.7,824.5 432,824.9 431.3,825.4 430.4,825.8 429.2,826.3 427.8,826.7 426.6,827.1 425.9,827.6 425.5,828 424.9,828.5 424,828.9 422.8,829.4 421.2,829.8 419,830.3 416.2,830.7 413.9,831.2 412.9,831.6 412.8,832 412.5,832.5 411.5,832.9 410.1,833.4 408.4,833.8 406.7,834.3 404.9,834.7 402.8,835.2 399.8,835.6 395.4,836.1 390.2,836.5 386.8,836.9 390.8,837.4 396,837.8 400,838.3 402.7,838.7 404.7,839.2 406.4,839.6 408.1,840.1 409.6,840.5 410.8,840.9 411.4,841.4 411.4,841.8 411.5,842.3 413,842.7 417.3,843.2 421.1,843.6 424,844.1 421.8,844.5 409.1,845 395.3,845.4 386.9,845.8 386.4,846.3 386.4,846.7 386.4,847.2" fill="#00bfc4" stroke="#333" stroke-width="0.7"/>
<polygon points="595,847.2 595,846.8 595,846.4 595,845.9 589.6,845.5 577.8,845.1 565,844.7 558.6,844.3 562.2,843.9 565.8,843.5 568.7,843.1 570.7,842.7 571.1,842.2 572.1,841.8 573.7,841.4 575.6,841 577.9,840.6 581.1,840.2 585.6,839.8 590.8,839.4 594.8,839 591.2,838.6 586.3,838.1 582.2,837.7 579.2,837.3 577.1,836.9 575.4,836.5 573.8,836.1 572.2,835.7 570.7,835.3 569.5,834.9 568.8,834.4 568.6,834 568.5,833.6 567.5,833.2 565.4,832.8 562.9,832.4 560.7,832 559,831.6 557.8,831.2 556.9,830.7 556.2,830.3 555.8,829.9 555.3,829.5 554.6,829.1 553.4,828.7 552.1,828.3 551,827.9 550.1,827.5 549.5,827 548.9,826.6 548.4,826.2 547.9,825.8 547.5,825.4 547.1,825 546.8,824.6 546.6,824.2 546.6,823.8 546.6,823.3 546.6,822.9 546.6,822.5 546.4,822.5 545.6,822.5 545.4,822.5 545.4,822.9 545.4,823.3 545.4,823.8 545.4,824.2 545.2,824.6 544.9,825 544.5,825.4 544.1,825.8 543.6,826.2 543.1,826.6 542.5,827 541.9,827.5 541,827.9 539.9,828.3 538.6,828.7 537.4,829.1 536.7,829.5 536.2,829.9 535.8,830.3 535.1,830.7 534.2,831.2 533,831.6 531.3,832 529.1,832.4 526.6,832.8 524.5,833.2 523.5,833.6 523.4,834 523.2,834.4 522.5,834.9 521.3,835.3 519.8,835.7 518.2,836.1 516.6,836.5 514.9,836.9 512.8,837.3 509.8,837.7 505.7,838.1 500.8,838.6 497.2,839 501.2,839.4 506.4,839.8 510.9,840.2 514.1,840.6 516.4,841 518.3,841.4 519.9,841.8 520.9,842.2 521.3,842.7 523.3,843.1 526.2,843.5 529.8,843.9 533.4,844.3 527,844.7 514.2,845.1 502.4,845.5 497,845.9 497,846.4 497,846.8 497,847.2" fill="#c77cff" stroke="#333" stroke-width="0.7"/>
<text x="155" y="816.1" font-size="14" fill="#222">3</text>
<text x="141" y="841" font-size="29" text-anchor="end" fill="#1a1a1a">COL5A1</text>
<path d="M190.8 887.5h50" stroke="#888" stroke-width="0.9" fill="none"/>
<path d="M215.8 888.3V873.9" stroke="#555" stroke-width="0.8" fill="none"/>
<path d="M300.8 887.5h50" stroke="#888" stroke-width="0.9" fill="none"/>
<path d="M325.8 888.3V875.9" stroke="#555" stroke-width="0.8" fill="none"/>
<polygon points="484.4,888.3 484.4,887.8 484.4,887.3 482.8,886.8 471.5,886.4 456.4,885.9 444.7,885.4 444.4,884.9 447.1,884.4 449.4,884 450,883.5 450.1,883 450.7,882.5 451.7,882 452.9,881.6 454.3,881.1 456.1,880.6 458.9,880.1 462.4,879.6 464.5,879.2 461.9,878.7 458.7,878.2 456.5,877.7 455.1,877.2 454,876.8 453.1,876.3 452.1,875.8 451.2,875.3 450.3,874.8 449.5,874.4 448.8,873.9 448.6,873.4 448.7,872.9 448.5,872.5 447.4,872 445.7,871.5 444.4,871 443.4,870.5 442.7,870.1 442.1,869.6 441.6,869.1 441.2,868.6 441,868.1 440.8,867.7 440.2,867.2 439.4,866.7 438.7,866.2 438.1,865.7 437.7,865.3 437.4,864.8 437,864.3 436.7,863.8 436.5,863.3 436.2,862.9 436,862.4 436,861.9 436,861.4 436,860.9 436,860.5 436,860 436,859.5 435.8,859.5 435,859.5 434.8,859.5 434.8,860 434.8,860.5 434.8,860.9 434.8,861.4 434.8,861.9 434.8,862.4 434.6,862.9 434.3,863.3 434.1,863.8 433.8,864.3 433.4,864.8 433.1,865.3 432.7,865.7 432.1,866.2 431.4,866.7 430.6,867.2 430,867.7 429.8,868.1 429.6,868.6 429.2,869.1 428.7,869.6 428.1,870.1 427.4,870.5 426.4,871 425.1,871.5 423.4,872 422.3,872.5 422.1,872.9 422.2,873.4 422,873.9 421.3,874.4 420.5,874.8 419.6,875.3 418.7,875.8 417.7,876.3 416.8,876.8 415.7,877.2 414.3,877.7 412.1,878.2 408.9,878.7 406.3,879.2 408.4,879.6 411.9,880.1 414.7,880.6 416.5,881.1 417.9,881.6 419.1,882 420.1,882.5 420.7,883 420.8,883.5 421.4,884 423.7,884.4 426.4,884.9 426.1,885.4 414.4,885.9 399.3,886.4 388,886.8 386.4,887.3 386.4,887.8 386.4,888.3" fill="#00bfc4" stroke="#333" stroke-width="0.7"/>
<polygon points="595,888.3 595,887.9 595,887.4 595,887 589.6,886.6 577.8,886.2 565,885.8 555.3,885.4 552.9,885 554.4,884.6 555.7,884.2 556.5,883.8 556.7,883.3 557.1,882.9 557.8,882.5 558.6,882.1 559.6,881.7 560.9,881.3 562.8,880.9 565,880.5 566.7,880.1 565.2,879.6 563.1,879.2 561.4,878.8 560.1,878.4 559.2,878 558.5,877.6 557.8,877.2 557.1,876.8 556.5,876.4 556,875.9 555.7,875.5 555.6,875.1 555.6,874.7 555.1,874.3 554.3,873.9 553.2,873.5 552.2,873.1 551.5,872.7 551,872.2 550.6,871.8 550.3,871.4 550.1,871 550,870.6 549.6,870.2 549.1,869.8 548.6,869.4 548.1,869 547.8,868.5 547.5,868.1 547.2,867.7 547,867.3 546.8,866.9 546.6,866.5 546.6,866.1 546.6,865.7 546.6,865.3 546.6,864.8 546.6,864.4 546.6,864 546.6,863.6 546.4,863.6 545.6,863.6 545.4,863.6 545.4,864 545.4,864.4 545.4,864.8 545.4,865.3 545.4,865.7 545.4,866.1 545.4,866.5 545.2,866.9 545,867.3 544.8,867.7 544.5,868.1 544.2,868.5 543.9,869 543.4,869.4 542.9,869.8 542.4,870.2 542,870.6 541.9,871 541.7,871.4 541.4,871.8 541,872.2 540.5,872.7 539.8,873.1 538.8,873.5 537.7,873.9 536.9,874.3 536.4,874.7 536.4,875.1 536.3,875.5 536,875.9 535.5,876.4 534.9,876.8 534.2,877.2 533.5,877.6 532.8,878 531.9,878.4 530.6,878.8 528.9,879.2 526.8,879.6 525.3,880.1 527,880.5 529.2,880.9 531.1,881.3 532.4,881.7 533.4,882.1 534.2,882.5 534.9,882.9 535.3,883.3 535.5,883.8 536.3,884.2 537.6,884.6 539.1,885 536.7,885.4 527,885.8 514.2,886.2 502.4,886.6 497,887 497,887.4 497,887.9 497,888.3" fill="#c77cff" stroke="#333" stroke-width="0.7"/>
<text x="155" y="857.2" font-size="14" fill="#222">3</text>
<text x="141" y="882.1" font-size="29" text-anchor="end" fill="#1a1a1a">COL22A1</text>
<path d="M195.8 928.6h40" stroke="#888" stroke-width="0.9" fill="none"/>
<path d="M215.8 929.4V908.8" stroke="#555" stroke-width="0.8" fill="none"/>
<path d="M212.8 923.2h6" stroke="#555" stroke-width="0.8" fill="none"/>
<path d="M305.8 928.6h40" stroke="#888" stroke-width="0.9" fill="none"/>
<path d="M325.8 929.4V904.7" stroke="#555" stroke-width="0.8" fill="none"/>
<path d="M322.8 922h6" stroke="#555" stroke-width="0.8" fill="none"/>
<polygon points="465.4,929.4 444.4,928.2 438.4,926.9 438.4,910.9 437.2,901.6 435.7,898.5 435.1,898.5 433.6,901.6 432.4,910.9 432.4,926.9 426.4,928.2 405.4,929.4" fill="#00bfc4" stroke="#333" stroke-width="0.7"/>
<polygon points="595,929.4 595,928.9 595,928.5 594.5,928 586.1,927.6 572.3,927.1 559.6,926.7 553.4,926.2 554.6,925.8 555.8,925.4 557.6,924.9 559.1,924.5 561.2,924 563.8,923.6 565.4,923.1 563.8,922.7 561.9,922.2 560.4,921.8 559.5,921.3 558.8,920.9 558.2,920.5 557.6,920 557.1,919.6 556.5,919.1 556,918.7 555.5,918.2 555,917.8 554.8,917.3 554.8,916.9 554.9,916.5 554.6,916 553.8,915.6 552.8,915.1 552,914.7 551.4,914.2 551,913.8 550.6,913.3 550.3,912.9 550,912.4 549.8,912 549.7,911.6 549.6,911.1 549.2,910.7 548.7,910.2 548.3,909.8 547.9,909.3 547.7,908.9 547.4,908.4 547.2,908 547,907.5 546.9,907.1 546.7,906.7 546.6,906.2 546.6,905.8 546.6,905.3 546.6,904.9 546.6,904.4 546.6,904 546.6,903.5 546.6,903.1 546.6,902.7 546.4,902.7 545.6,902.7 545.4,902.7 545.4,903.1 545.4,903.5 545.4,904 545.4,904.4 545.4,904.9 545.4,905.3 545.4,905.8 545.4,906.2 545.3,906.7 545.1,907.1 545,907.5 544.8,908 544.6,908.4 544.3,908.9 544.1,909.3 543.7,909.8 543.3,910.2 542.8,910.7 542.4,911.1 542.3,911.6 542.2,912 542,912.4 541.7,912.9 541.4,913.3 541,913.8 540.6,914.2 540,914.7 539.2,915.1 538.2,915.6 537.4,916 537.1,916.5 537.2,916.9 537.2,917.3 537,917.8 536.5,918.2 536,918.7 535.5,919.1 534.9,919.6 534.4,920 533.8,920.5 533.2,920.9 532.5,921.3 531.6,921.8 530.1,922.2 528.2,922.7 526.6,923.1 528.2,923.6 530.8,924 532.9,924.5 534.4,924.9 536.2,925.4 537.4,925.8 538.6,926.2 532.4,926.7 519.7,927.1 505.9,927.6 497.5,928 497,928.5 497,928.9 497,929.4" fill="#c77cff" stroke="#333" stroke-width="0.7"/>
<text x="155" y="898.3" font-size="14" fill="#222">5</text>
<text x="141" y="923.2" font-size="29" text-anchor="end" fill="#1a1a1a">ACTA2</text>
<polygon points="245.8,970.5 245.8,970.1 245.8,969.7 245.8,969.3 244.2,968.9 238.6,968.6 231.2,968.2 224.6,967.8 222.6,967.4 224.4,967.1 226,966.7 227.3,966.3 228.2,965.9 228.3,965.6 228.7,965.2 229.4,964.8 230.3,964.4 231.2,964 232.5,963.7 234.2,963.3 236.5,962.9 238.8,962.5 240,962.2 238,961.8 235.7,961.4 233.6,961 232.1,960.7 231,960.3 230.1,959.9 229.3,959.5 228.5,959.2 227.9,958.8 227.5,958.4 227.3,958 227.2,957.6 226.7,957.3 225.7,956.9 224.5,956.5 223.3,956.1 222.4,955.8 221.8,955.4 221.3,955 221,954.6 220.7,954.3 220.4,953.9 219.9,953.5 219.3,953.1 218.7,952.7 218.1,952.4 217.7,952 217.4,951.6 217.1,951.2 216.8,950.9 216.6,950.5 216.4,950.1 216.4,949.7 216.4,949.4 216.4,949 216.4,948.6 216.4,948.2 216.4,947.9 216.2,947.9 215.4,947.9 215.2,947.9 215.2,948.2 215.2,948.6 215.2,949 215.2,949.4 215.2,949.7 215.2,950.1 215,950.5 214.8,950.9 214.5,951.2 214.2,951.6 213.9,952 213.5,952.4 212.9,952.7 212.3,953.1 211.7,953.5 211.2,953.9 210.9,954.3 210.6,954.6 210.3,955 209.8,955.4 209.2,955.8 208.3,956.1 207.1,956.5 205.9,956.9 204.9,957.3 204.4,957.6 204.3,958 204.1,958.4 203.7,958.8 203.1,959.2 202.3,959.5 201.5,959.9 200.6,960.3 199.5,960.7 198,961 195.9,961.4 193.6,961.8 191.6,962.2 192.8,962.5 195.1,962.9 197.4,963.3 199.1,963.7 200.4,964 201.3,964.4 202.2,964.8 202.9,965.2 203.3,965.6 203.4,965.9 204.3,966.3 205.6,966.7 207.2,967.1 209,967.4 207,967.8 200.4,968.2 193,968.6 187.4,968.9 185.8,969.3 185.8,969.7 185.8,970.1 185.8,970.5" fill="#f8766d" stroke="#333" stroke-width="0.7"/>
<polygon points="368.8,970.5 368.8,970.1 368.8,969.7 368.8,969.3 366.5,968.9 358.4,968.6 347.9,968.2 338.5,967.8 332.6,967.4 334.4,967.1 336,966.7 337.3,966.3 338.2,965.9 338.3,965.6 338.7,965.2 339.4,964.8 340.3,964.4 341.2,964 342.5,963.7 344.2,963.3 346.5,962.9 348.8,962.5 350,962.2 348,961.8 345.7,961.4 343.6,961 342.1,960.7 341,960.3 340.1,959.9 339.3,959.5 338.5,959.2 337.9,958.8 337.5,958.4 337.3,958 337.2,957.6 336.7,957.3 335.7,956.9 334.5,956.5 333.3,956.1 332.4,955.8 331.8,955.4 331.3,955 331,954.6 330.7,954.3 330.4,953.9 329.9,953.5 329.3,953.1 328.7,952.7 328.1,952.4 327.7,952 327.4,951.6 327.1,951.2 326.8,950.9 326.6,950.5 326.4,950.1 326.4,949.7 326.4,949.4 326.4,949 326.4,948.6 326.4,948.2 326.4,947.9 326.2,947.9 325.4,947.9 325.2,947.9 325.2,948.2 325.2,948.6 325.2,949 325.2,949.4 325.2,949.7 325.2,950.1 325,950.5 324.8,950.9 324.5,951.2 324.2,951.6 323.9,952 323.5,952.4 322.9,952.7 322.3,953.1 321.7,953.5 321.2,953.9 320.9,954.3 320.6,954.6 320.3,955 319.8,955.4 319.2,955.8 318.3,956.1 317.1,956.5 315.9,956.9 314.9,957.3 314.4,957.6 314.3,958 314.1,958.4 313.7,958.8 313.1,959.2 312.3,959.5 311.5,959.9 310.6,960.3 309.5,960.7 308,961 305.9,961.4 303.6,961.8 301.6,962.2 302.8,962.5 305.1,962.9 307.4,963.3 309.1,963.7 310.4,964 311.3,964.4 312.2,964.8 312.9,965.2 313.3,965.6 313.4,965.9 314.3,966.3 315.6,966.7 317.2,967.1 319,967.4 313.1,967.8 303.7,968.2 293.2,968.6 285.1,968.9 282.8,969.3 282.8,969.7 282.8,970.1 282.8,970.5" fill="#7cae00" stroke="#333" stroke-width="0.7"/>
<polygon points="484.4,970.5 484.4,969.9 484.4,969.4 481.1,968.9 467.2,968.4 451.6,967.9 452.9,967.4 458.6,966.9 463.3,966.3 465.8,965.8 466.7,965.3 468.8,964.8 471.7,964.3 475.4,963.8 481,963.3 486.4,962.7 486.4,962.2 486.4,961.7 483.7,961.2 479.1,960.7 476.4,960.2 474.4,959.7 472.5,959.2 470.7,958.6 468.9,958.1 467.1,957.6 465.4,957.1 463.8,956.6 462.4,956.1 461.8,955.6 462.2,955 462.3,954.5 460.3,954 456.9,953.5 454.1,953 452.3,952.5 450.9,952 449.7,951.4 448.5,950.9 447.5,950.4 446.9,949.9 446.6,949.4 446.3,948.9 445.1,948.4 443.4,947.9 442,947.3 441,946.8 440.2,946.3 439.6,945.8 438.9,945.3 438.3,944.8 437.8,944.3 437.3,943.7 436.9,943.2 436.5,942.7 436.2,942.2 436,941.7 436,941.2 436,940.7 436,940.1 436,939.6 435.8,939.6 435,939.6 434.8,939.6 434.8,940.1 434.8,940.7 434.8,941.2 434.8,941.7 434.6,942.2 434.3,942.7 433.9,943.2 433.5,943.7 433,944.3 432.5,944.8 431.9,945.3 431.2,945.8 430.6,946.3 429.8,946.8 428.8,947.3 427.4,947.9 425.7,948.4 424.5,948.9 424.2,949.4 423.9,949.9 423.3,950.4 422.3,950.9 421.1,951.4 419.9,952 418.5,952.5 416.7,953 413.9,953.5 410.5,954 408.5,954.5 408.6,955 409,955.6 408.4,956.1 407,956.6 405.4,957.1 403.7,957.6 401.9,958.1 400.1,958.6 398.3,959.2 396.4,959.7 394.4,960.2 391.7,960.7 387.1,961.2 384.4,961.7 384.4,962.2 384.4,962.7 389.8,963.3 395.4,963.8 399.1,964.3 402,964.8 404.1,965.3 405,965.8 407.5,966.3 412.2,966.9 417.9,967.4 419.2,967.9 403.6,968.4 389.7,968.9 386.4,969.4 386.4,969.9 386.4,970.5" fill="#00bfc4" stroke="#333" stroke-width="0.7"/>
<polygon points="595,970.5 595,970 595,969.6 594.5,969.1 586.1,968.7 572.3,968.2 559.6,967.8 563.9,967.3 568.8,966.9 573.1,966.4 576.1,966 576.7,965.6 578,965.1 580.1,964.7 582.7,964.2 586,963.8 590.7,963.3 597,962.9 597,962.4 597,962 597,961.5 592.1,961.1 588.1,960.7 585.5,960.2 583.4,959.8 581.4,959.3 579.5,958.9 577.7,958.4 575.9,958 574.4,957.5 573.4,957.1 573.2,956.7 573.3,956.2 572.4,955.8 569.7,955.3 566.5,954.9 563.9,954.4 562.1,954 560.7,953.5 559.5,953.1 558.5,952.6 557.9,952.2 557.5,951.8 556.9,951.3 555.6,950.9 554,950.4 552.6,950 551.5,949.5 550.6,949.1 549.9,948.6 549.3,948.2 548.7,947.7 548.1,947.3 547.7,946.9 547.2,946.4 546.9,946 546.6,945.5 546.6,945.1 546.6,944.6 546.6,944.2 546.6,943.7 546.4,943.7 545.6,943.7 545.4,943.7 545.4,944.2 545.4,944.6 545.4,945.1 545.4,945.5 545.1,946 544.8,946.4 544.3,946.9 543.9,947.3 543.3,947.7 542.7,948.2 542.1,948.6 541.4,949.1 540.5,949.5 539.4,950 538,950.4 536.4,950.9 535.1,951.3 534.5,951.8 534.1,952.2 533.5,952.6 532.5,953.1 531.3,953.5 529.9,954 528.1,954.4 525.5,954.9 522.3,955.3 519.6,955.8 518.7,956.2 518.8,956.7 518.6,957.1 517.6,957.5 516.1,958 514.3,958.4 512.5,958.9 510.6,959.3 508.6,959.8 506.5,960.2 503.9,960.7 499.9,961.1 495,961.5 495,962 495,962.4 495,962.9 501.3,963.3 506,963.8 509.3,964.2 511.9,964.7 514,965.1 515.3,965.6 515.9,966 518.9,966.4 523.2,966.9 528.1,967.3 532.4,967.8 519.7,968.2 505.9,968.7 497.5,969.1 497,969.6 497,970 497,970.5" fill="#c77cff" stroke="#333" stroke-width="0.7"/>
<text x="155" y="939.4" font-size="14" fill="#222">3</text>
<text x="141" y="964.2" font-size="29" text-anchor="end" fill="#1a1a1a">CHD3</text>
<path d="M195.8 1010.7h40" stroke="#888" stroke-width="0.9" fill="none"/>
<path d="M215.8 1011.5V993" stroke="#555" stroke-width="0.8" fill="none"/>
<path d="M207.8 1006h16" stroke="#555" stroke-width="0.8" fill="none"/>
<path d="M305.8 1010.7h40" stroke="#888" stroke-width="0.9" fill="none"/>
<path d="M325.8 1011.5V978.7" stroke="#555" stroke-width="0.8" fill="none"/>
<path d="M319.8 1001.7h12" stroke="#555" stroke-width="0.8" fill="none"/>
<polygon points="484.4,1011.5 484.4,1011 484.4,1010.4 476.5,1009.8 458.5,1009.2 444.1,1008.6 443.7,1008 445.3,1007.5 447.3,1006.9 448.7,1006.3 449.2,1005.7 448.4,1005.1 447.8,1004.6 447.8,1004 448.1,1003.4 448.4,1002.8 448.8,1002.2 449.1,1001.6 449.5,1001.1 450.3,1000.5 452,999.9 453.6,999.3 452.9,998.7 451.1,998.2 450.1,997.6 449.6,997 449.4,996.4 449.1,995.8 448.8,995.2 448.5,994.7 448.2,994.1 447.9,993.5 447.8,992.9 448.2,992.3 449,991.7 449,991.2 447.7,990.6 446.3,990 445.6,989.4 445.2,988.8 444.8,988.3 444.4,987.7 444.3,987.1 444.5,986.5 444.8,985.9 444.3,985.3 443.1,984.8 442.2,984.2 441.6,983.6 441.2,983 440.8,982.4 440.3,981.9 439.9,981.3 439.4,980.7 439,980.1 438.5,979.5 438,978.9 437.5,978.4 436.9,977.8 436.3,977.2 436,976.6 435.8,976.6 435,976.6 434.8,976.6 434.5,977.2 433.9,977.8 433.3,978.4 432.8,978.9 432.3,979.5 431.8,980.1 431.4,980.7 430.9,981.3 430.5,981.9 430,982.4 429.6,983 429.2,983.6 428.6,984.2 427.7,984.8 426.5,985.3 426,985.9 426.3,986.5 426.5,987.1 426.4,987.7 426,988.3 425.6,988.8 425.2,989.4 424.5,990 423.1,990.6 421.8,991.2 421.8,991.7 422.6,992.3 423,992.9 422.9,993.5 422.6,994.1 422.3,994.7 422,995.2 421.7,995.8 421.4,996.4 421.2,997 420.7,997.6 419.7,998.2 417.9,998.7 417.2,999.3 418.8,999.9 420.5,1000.5 421.3,1001.1 421.7,1001.6 422,1002.2 422.4,1002.8 422.7,1003.4 423,1004 423,1004.6 422.4,1005.1 421.6,1005.7 422.1,1006.3 423.5,1006.9 425.5,1007.5 427.1,1008 426.7,1008.6 412.3,1009.2 394.3,1009.8 386.4,1010.4 386.4,1011 386.4,1011.5" fill="#00bfc4" stroke="#333" stroke-width="0.7"/>
<polygon points="595,1011.5 595,1011.2 595,1010.8 595,1010.4 592.3,1010 583.2,1009.7 571.2,1009.3 560.4,1008.9 553.5,1008.5 554.6,1008.2 555.7,1007.8 557,1007.4 558.6,1007 559.9,1006.6 561.8,1006.3 564,1005.9 566.2,1005.5 566,1005.1 564.2,1004.8 562.3,1004.4 560.9,1004 559.9,1003.6 559.1,1003.3 558.4,1002.9 557.8,1002.5 557.2,1002.1 556.6,1001.7 556.1,1001.4 555.7,1001 555.6,1000.6 555.6,1000.2 555.4,999.9 554.9,999.5 554,999.1 553,998.7 552.2,998.4 551.5,998 551.1,997.6 550.7,997.2 550.4,996.9 550.2,996.5 550.1,996.1 549.8,995.7 549.4,995.3 548.9,995 548.4,994.6 548,994.2 547.7,993.8 547.5,993.5 547.2,993.1 547,992.7 546.8,992.3 546.7,992 546.6,991.6 546.6,991.2 546.6,990.8 546.6,990.4 546.6,990.1 546.6,989.7 546.6,989.3 546.6,988.9 546.4,988.9 545.6,988.9 545.4,988.9 545.4,989.3 545.4,989.7 545.4,990.1 545.4,990.4 545.4,990.8 545.4,991.2 545.4,991.6 545.3,992 545.2,992.3 545,992.7 544.8,993.1 544.5,993.5 544.3,993.8 544,994.2 543.6,994.6 543.1,995 542.6,995.3 542.2,995.7 541.9,996.1 541.8,996.5 541.6,996.9 541.3,997.2 540.9,997.6 540.5,998 539.8,998.4 539,998.7 538,999.1 537.1,999.5 536.6,999.9 536.4,1000.2 536.4,1000.6 536.3,1001 535.9,1001.4 535.4,1001.7 534.8,1002.1 534.2,1002.5 533.6,1002.9 532.9,1003.3 532.1,1003.6 531.1,1004 529.7,1004.4 527.8,1004.8 526,1005.1 525.8,1005.5 528,1005.9 530.2,1006.3 532.1,1006.6 533.4,1007 535,1007.4 536.3,1007.8 537.4,1008.2 538.5,1008.5 531.6,1008.9 520.8,1009.3 508.8,1009.7 499.7,1010 497,1010.4 497,1010.8 497,1011.2 497,1011.5" fill="#c77cff" stroke="#333" stroke-width="0.7"/>
<text x="155" y="980.5" font-size="14" fill="#222">3</text>
<text x="141" y="1005.3" font-size="29" text-anchor="end" fill="#1a1a1a">FIBIN</text>
<polygon points="264.8,1052.6 264.8,1052.4 264.8,1052.1 264.8,1051.8 264.8,1051.5 264,1051.3 259.4,1051 251.9,1050.7 243.2,1050.4 234.8,1050.2 227.9,1049.9 226.8,1049.6 228.1,1049.3 229.2,1049.1 230.4,1048.8 231.7,1048.5 233.4,1048.2 234.9,1048 236.5,1047.7 238.4,1047.4 240.8,1047.2 243.3,1046.9 245.4,1046.6 245.4,1046.3 243.2,1046.1 240.7,1045.8 238.4,1045.5 236.4,1045.2 234.8,1045 233.5,1044.7 232.5,1044.4 231.8,1044.1 231.3,1043.9 231,1043.6 230.5,1043.3 229.8,1043 228.8,1042.8 227.6,1042.5 226.2,1042.2 225,1041.9 224,1041.7 223.3,1041.4 222.8,1041.1 222.3,1040.9 221.8,1040.6 221.1,1040.3 220.4,1040 219.7,1039.8 219,1039.5 218.4,1039.2 217.9,1038.9 217.5,1038.7 217.1,1038.4 216.8,1038.1 216.6,1037.8 216.4,1037.6 216.4,1037.3 216.4,1037 216.4,1036.7 216.4,1036.5 216.4,1036.2 216.2,1036.2 215.4,1036.2 215.2,1036.2 215.2,1036.5 215.2,1036.7 215.2,1037 215.2,1037.3 215.2,1037.6 215,1037.8 214.8,1038.1 214.5,1038.4 214.1,1038.7 213.7,1038.9 213.2,1039.2 212.6,1039.5 211.9,1039.8 211.2,1040 210.5,1040.3 209.8,1040.6 209.3,1040.9 208.8,1041.1 208.3,1041.4 207.6,1041.7 206.6,1041.9 205.4,1042.2 204,1042.5 202.8,1042.8 201.8,1043 201.1,1043.3 200.6,1043.6 200.3,1043.9 199.8,1044.1 199.1,1044.4 198.1,1044.7 196.8,1045 195.2,1045.2 193.2,1045.5 190.9,1045.8 188.4,1046.1 186.2,1046.3 186.2,1046.6 188.3,1046.9 190.8,1047.2 193.2,1047.4 195.1,1047.7 196.7,1048 198.2,1048.2 199.9,1048.5 201.2,1048.8 202.4,1049.1 203.5,1049.3 204.8,1049.6 203.7,1049.9 196.8,1050.2 188.4,1050.4 179.7,1050.7 172.2,1051 167.6,1051.3 166.8,1051.5 166.8,1051.8 166.8,1052.1 166.8,1052.4 166.8,1052.6" fill="#f8766d" stroke="#333" stroke-width="0.7"/>
<polygon points="374.8,1052.6 374.8,1052.3 374.8,1051.9 374.8,1051.5 372.1,1051.1 363,1050.7 351,1050.4 340.2,1050 342.6,1049.6 345.1,1049.2 347.5,1048.9 350.3,1048.5 353.9,1048.1 356.9,1047.7 361.1,1047.4 366.1,1047 370.9,1046.6 370.4,1046.2 366.5,1045.9 362.3,1045.5 359.1,1045.1 356.8,1044.7 355.1,1044.3 353.6,1044 352.2,1043.6 350.8,1043.2 349.5,1042.8 348.4,1042.5 347.6,1042.1 347.3,1041.7 347.3,1041.3 346.9,1041 345.7,1040.6 343.6,1040.2 341.4,1039.8 339.6,1039.4 338.2,1039.1 337.1,1038.7 336.3,1038.3 335.6,1037.9 335.2,1037.6 334.9,1037.2 334.4,1036.8 333.5,1036.4 332.4,1036.1 331.3,1035.7 330.4,1035.3 329.7,1034.9 329.1,1034.6 328.6,1034.2 328.1,1033.8 327.7,1033.4 327.3,1033 327,1032.7 326.7,1032.3 326.4,1031.9 326.4,1031.5 326.4,1031.2 326.4,1030.8 326.4,1030.4 326.4,1030 326.2,1030 325.4,1030 325.2,1030 325.2,1030.4 325.2,1030.8 325.2,1031.2 325.2,1031.5 325.2,1031.9 324.9,1032.3 324.6,1032.7 324.3,1033 323.9,1033.4 323.5,1033.8 323,1034.2 322.5,1034.6 321.9,1034.9 321.2,1035.3 320.3,1035.7 319.2,1036.1 318.1,1036.4 317.2,1036.8 316.7,1037.2 316.4,1037.6 316,1037.9 315.3,1038.3 314.5,1038.7 313.4,1039.1 312,1039.4 310.2,1039.8 308,1040.2 305.9,1040.6 304.7,1041 304.3,1041.3 304.3,1041.7 304,1042.1 303.2,1042.5 302.1,1042.8 300.8,1043.2 299.4,1043.6 298,1044 296.5,1044.3 294.8,1044.7 292.5,1045.1 289.3,1045.5 285.1,1045.9 281.2,1046.2 280.7,1046.6 285.5,1047 290.5,1047.4 294.7,1047.7 297.7,1048.1 301.3,1048.5 304.1,1048.9 306.5,1049.2 309,1049.6 311.4,1050 300.6,1050.4 288.6,1050.7 279.5,1051.1 276.8,1051.5 276.8,1051.9 276.8,1052.3 276.8,1052.6" fill="#7cae00" stroke="#333" stroke-width="0.7"/>
<polygon points="484.4,1052.6 484.4,1052.2 484.4,1051.7 483.9,1051.3 475.5,1050.8 461.7,1050.4 449,1050 447.2,1049.5 449.3,1049.1 451.5,1048.6 454,1048.2 455.3,1047.7 457.2,1047.3 460,1046.8 462.9,1046.4 464.3,1046 464.1,1045.5 463.4,1045.1 463.5,1044.6 464.3,1044.2 465.6,1043.7 466.9,1043.3 468.3,1042.8 469.7,1042.4 471.2,1041.9 472.7,1041.5 474.2,1041.1 475.8,1040.6 477.5,1040.2 480,1039.7 484,1039.3 486.4,1038.8 486.4,1038.4 486.4,1037.9 484.3,1037.5 477.9,1037.1 473.3,1036.6 470,1036.2 467.3,1035.7 465.4,1035.3 464.4,1034.8 463.7,1034.4 461.8,1033.9 458.3,1033.5 454.4,1033 451.4,1032.6 449.5,1032.2 448.3,1031.7 447.3,1031.3 445.7,1030.8 443.7,1030.4 441.7,1029.9 440.2,1029.5 439,1029 438.1,1028.6 437.3,1028.1 436.6,1027.7 436.1,1027.3 436,1026.8 436,1026.4 436,1025.9 435.8,1025.9 435,1025.9 434.8,1025.9 434.8,1026.4 434.8,1026.8 434.7,1027.3 434.2,1027.7 433.5,1028.1 432.7,1028.6 431.8,1029 430.6,1029.5 429.1,1029.9 427.1,1030.4 425.1,1030.8 423.5,1031.3 422.5,1031.7 421.3,1032.2 419.4,1032.6 416.4,1033 412.5,1033.5 409,1033.9 407.1,1034.4 406.4,1034.8 405.4,1035.3 403.5,1035.7 400.8,1036.2 397.5,1036.6 392.9,1037.1 386.5,1037.5 384.4,1037.9 384.4,1038.4 384.4,1038.8 386.8,1039.3 390.8,1039.7 393.3,1040.2 395,1040.6 396.6,1041.1 398.1,1041.5 399.6,1041.9 401.1,1042.4 402.5,1042.8 403.9,1043.3 405.2,1043.7 406.5,1044.2 407.3,1044.6 407.4,1045.1 406.7,1045.5 406.5,1046 407.9,1046.4 410.8,1046.8 413.6,1047.3 415.5,1047.7 416.8,1048.2 419.3,1048.6 421.5,1049.1 423.6,1049.5 421.8,1050 409.1,1050.4 395.3,1050.8 386.9,1051.3 386.4,1051.7 386.4,1052.2 386.4,1052.6" fill="#00bfc4" stroke="#333" stroke-width="0.7"/>
<polygon points="595,1052.6 595,1052.3 595,1051.9 595,1051.5 592.3,1051.1 583.2,1050.7 571.2,1050.4 560.4,1050 559.3,1049.6 562,1049.2 565.5,1048.9 569.9,1048.5 574,1048.1 575.3,1047.7 575.5,1047.4 575.3,1047 575.6,1046.6 576.6,1046.2 578,1045.9 579.6,1045.5 581.3,1045.1 583.1,1044.7 585,1044.3 587.4,1044 590.6,1043.6 595.2,1043.2 597,1042.8 597,1042.5 597,1042.1 596.6,1041.7 590.7,1041.3 586.1,1041 582.8,1040.6 580.1,1040.2 577.9,1039.8 576.3,1039.4 575.3,1039.1 574.7,1038.7 573.7,1038.3 571.7,1037.9 568.6,1037.6 565.3,1037.2 562.6,1036.8 560.7,1036.4 559.5,1036.1 558.6,1035.7 557.7,1035.3 556.3,1034.9 554.6,1034.6 552.9,1034.2 551.4,1033.8 550.3,1033.4 549.4,1033 548.6,1032.7 548,1032.3 547.4,1031.9 546.9,1031.5 546.6,1031.2 546.6,1030.8 546.6,1030.4 546.6,1030 546.4,1030 545.6,1030 545.4,1030 545.4,1030.4 545.4,1030.8 545.4,1031.2 545.1,1031.5 544.6,1031.9 544,1032.3 543.4,1032.7 542.6,1033 541.7,1033.4 540.6,1033.8 539.1,1034.2 537.4,1034.6 535.7,1034.9 534.3,1035.3 533.4,1035.7 532.5,1036.1 531.3,1036.4 529.4,1036.8 526.7,1037.2 523.4,1037.6 520.3,1037.9 518.3,1038.3 517.3,1038.7 516.7,1039.1 515.7,1039.4 514.1,1039.8 511.9,1040.2 509.2,1040.6 505.9,1041 501.3,1041.3 495.4,1041.7 495,1042.1 495,1042.5 495,1042.8 496.8,1043.2 501.4,1043.6 504.6,1044 507,1044.3 508.9,1044.7 510.7,1045.1 512.4,1045.5 514,1045.9 515.4,1046.2 516.4,1046.6 516.7,1047 516.5,1047.4 516.7,1047.7 518,1048.1 522.1,1048.5 526.5,1048.9 530,1049.2 532.7,1049.6 531.6,1050 520.8,1050.4 508.8,1050.7 499.7,1051.1 497,1051.5 497,1051.9 497,1052.3 497,1052.6" fill="#c77cff" stroke="#333" stroke-width="0.7"/>
<text x="155" y="1021.5" font-size="14" fill="#222">4</text>
<text x="141" y="1046.4" font-size="29" text-anchor="end" fill="#1a1a1a">FSTL1</text>
<path d="M166.8 1092.9h98" stroke="#888" stroke-width="0.9" fill="none"/>
<path d="M215.8 1093.7V1073.2" stroke="#555" stroke-width="0.8" fill="none"/>
<path d="M205.8 1087.6h20" stroke="#555" stroke-width="0.8" fill="none"/>
<polygon points="374.8,1093.7 374.8,1093.3 374.8,1093 374.8,1092.6 372.1,1092.2 363,1091.8 351,1091.5 340.2,1091.1 332.8,1090.7 331.4,1090.3 332.4,1090 333.3,1089.6 333.8,1089.2 333.9,1088.8 334.2,1088.4 334.7,1088.1 335.2,1087.7 335.8,1087.3 336.6,1086.9 337.8,1086.6 339.2,1086.2 340.7,1085.8 341.5,1085.4 340.3,1085.1 338.7,1084.7 337.4,1084.3 336.4,1083.9 335.7,1083.6 335.1,1083.2 334.6,1082.8 334.1,1082.4 333.7,1082 333.4,1081.7 333.3,1081.3 333.2,1080.9 332.9,1080.5 332.3,1080.2 331.4,1079.8 330.7,1079.4 330.1,1079 329.7,1078.7 329.4,1078.3 329.2,1077.9 329,1077.5 328.8,1077.1 328.5,1076.8 328.1,1076.4 327.7,1076 327.3,1075.6 327,1075.3 326.8,1074.9 326.6,1074.5 326.5,1074.1 326.4,1073.8 326.4,1073.4 326.4,1073 326.4,1072.6 326.4,1072.3 326.4,1071.9 326.4,1071.5 326.4,1071.1 326.2,1071.1 325.4,1071.1 325.2,1071.1 325.2,1071.5 325.2,1071.9 325.2,1072.3 325.2,1072.6 325.2,1073 325.2,1073.4 325.2,1073.8 325.1,1074.1 325,1074.5 324.8,1074.9 324.6,1075.3 324.3,1075.6 323.9,1076 323.5,1076.4 323.1,1076.8 322.8,1077.1 322.6,1077.5 322.4,1077.9 322.2,1078.3 321.9,1078.7 321.5,1079 320.9,1079.4 320.2,1079.8 319.3,1080.2 318.7,1080.5 318.4,1080.9 318.3,1081.3 318.2,1081.7 317.9,1082 317.5,1082.4 317,1082.8 316.5,1083.2 315.9,1083.6 315.2,1083.9 314.2,1084.3 312.9,1084.7 311.3,1085.1 310.1,1085.4 310.9,1085.8 312.4,1086.2 313.8,1086.6 315,1086.9 315.8,1087.3 316.4,1087.7 316.9,1088.1 317.4,1088.4 317.7,1088.8 317.8,1089.2 318.3,1089.6 319.2,1090 320.2,1090.3 318.8,1090.7 311.4,1091.1 300.6,1091.5 288.6,1091.8 279.5,1092.2 276.8,1092.6 276.8,1093 276.8,1093.3 276.8,1093.7" fill="#7cae00" stroke="#333" stroke-width="0.7"/>
<polygon points="484.4,1093.7 484.4,1093.1 484.4,1092.6 476.5,1092 458.5,1091.4 445.9,1090.8 448.3,1090.2 450.9,1089.6 453.2,1089.1 454.3,1088.5 455.8,1087.9 458.3,1087.3 462,1086.7 464.2,1086.2 463.6,1085.6 462.9,1085 463.5,1084.4 464.8,1083.8 466.4,1083.2 467.9,1082.7 469.6,1082.1 471.2,1081.5 472.9,1080.9 474.7,1080.3 476.5,1079.7 478.5,1079.2 481.9,1078.6 486.4,1078 486.4,1077.4 486.4,1076.8 482.7,1076.3 477.3,1075.7 474,1075.1 471.4,1074.5 468.9,1073.9 466.5,1073.3 464.3,1072.8 462.8,1072.2 462.7,1071.6 462.4,1071 459.6,1070.4 455.5,1069.9 452.4,1069.3 450.4,1068.7 448.8,1068.1 447.6,1067.5 447,1066.9 446.3,1066.4 444.5,1065.8 442.5,1065.2 441,1064.6 439.9,1064 439,1063.5 438.2,1062.9 437.5,1062.3 436.9,1061.7 436.4,1061.1 436,1060.5 436,1060 436,1059.4 436,1058.8 435.8,1058.8 435,1058.8 434.8,1058.8 434.8,1059.4 434.8,1060 434.8,1060.5 434.4,1061.1 433.9,1061.7 433.3,1062.3 432.6,1062.9 431.8,1063.5 430.9,1064 429.8,1064.6 428.3,1065.2 426.3,1065.8 424.5,1066.4 423.8,1066.9 423.2,1067.5 422,1068.1 420.4,1068.7 418.4,1069.3 415.3,1069.9 411.2,1070.4 408.4,1071 408.1,1071.6 408,1072.2 406.5,1072.8 404.3,1073.3 401.9,1073.9 399.4,1074.5 396.8,1075.1 393.5,1075.7 388.1,1076.3 384.4,1076.8 384.4,1077.4 384.4,1078 388.9,1078.6 392.3,1079.2 394.3,1079.7 396.1,1080.3 397.9,1080.9 399.6,1081.5 401.2,1082.1 402.9,1082.7 404.4,1083.2 406,1083.8 407.3,1084.4 407.9,1085 407.2,1085.6 406.6,1086.2 408.8,1086.7 412.5,1087.3 415,1087.9 416.5,1088.5 417.6,1089.1 419.9,1089.6 422.5,1090.2 424.9,1090.8 412.3,1091.4 394.3,1092 386.4,1092.6 386.4,1093.1 386.4,1093.7" fill="#00bfc4" stroke="#333" stroke-width="0.7"/>
<polygon points="595,1093.7 595,1093.2 595,1092.8 593.4,1092.3 582.1,1091.8 567,1091.3 556.8,1090.8 558.9,1090.4 561.2,1089.9 563.8,1089.4 565.6,1088.9 567.5,1088.4 570.4,1088 573.5,1087.5 574.9,1087 574.6,1086.5 574,1086 574.3,1085.6 575.4,1085.1 576.8,1084.6 578.3,1084.1 579.8,1083.7 581.3,1083.2 582.9,1082.7 584.5,1082.2 586.2,1081.7 588.1,1081.3 590.8,1080.8 595.4,1080.3 597,1079.8 597,1079.3 597,1078.9 592.8,1078.4 587.2,1077.9 583.5,1077.4 580.7,1076.9 578.1,1076.5 576,1076 574.6,1075.5 574.1,1075 573.4,1074.5 570.8,1074.1 567,1073.6 563.5,1073.1 561.1,1072.6 559.5,1072.1 558.5,1071.7 557.8,1071.2 556.5,1070.7 554.6,1070.2 552.6,1069.8 551.1,1069.3 550,1068.8 549.1,1068.3 548.3,1067.8 547.6,1067.4 547.1,1066.9 546.6,1066.4 546.6,1065.9 546.6,1065.4 546.6,1065 546.4,1065 545.6,1065 545.4,1065 545.4,1065.4 545.4,1065.9 545.4,1066.4 544.9,1066.9 544.4,1067.4 543.7,1067.8 542.9,1068.3 542,1068.8 540.9,1069.3 539.4,1069.8 537.4,1070.2 535.5,1070.7 534.2,1071.2 533.5,1071.7 532.5,1072.1 530.9,1072.6 528.5,1073.1 525,1073.6 521.2,1074.1 518.6,1074.5 517.9,1075 517.4,1075.5 516,1076 513.9,1076.5 511.3,1076.9 508.5,1077.4 504.8,1077.9 499.2,1078.4 495,1078.9 495,1079.3 495,1079.8 496.6,1080.3 501.2,1080.8 503.9,1081.3 505.8,1081.7 507.5,1082.2 509.1,1082.7 510.7,1083.2 512.2,1083.7 513.7,1084.1 515.2,1084.6 516.6,1085.1 517.7,1085.6 518,1086 517.4,1086.5 517.1,1087 518.5,1087.5 521.6,1088 524.5,1088.4 526.4,1088.9 528.2,1089.4 530.8,1089.9 533.1,1090.4 535.2,1090.8 525,1091.3 509.9,1091.8 498.6,1092.3 497,1092.8 497,1093.2 497,1093.7" fill="#c77cff" stroke="#333" stroke-width="0.7"/>
<text x="155" y="1062.6" font-size="14" fill="#222">3</text>
<text x="141" y="1087.5" font-size="29" text-anchor="end" fill="#1a1a1a">PMEPA1</text>
<path d="M195.8 1134h40" stroke="#888" stroke-width="0.9" fill="none"/>
<path d="M215.8 1134.8V1118.4" stroke="#555" stroke-width="0.8" fill="none"/>
<path d="M305.8 1134h40" stroke="#888" stroke-width="0.9" fill="none"/>
<path d="M325.8 1134.8V1114.3" stroke="#555" stroke-width="0.8" fill="none"/>
<path d="M322.8 1128.6h6" stroke="#555" stroke-width="0.8" fill="none"/>
<polygon points="484.4,1134.8 484.4,1134.3 484.4,1133.8 481.1,1133.3 467.2,1132.8 451.6,1132.2 444.2,1131.7 445.7,1131.2 447.5,1130.7 449.5,1130.2 451.1,1129.7 452,1129.2 451.4,1128.6 450.6,1128.1 450.2,1127.6 450.4,1127.1 450.7,1126.6 451,1126.1 451.4,1125.6 451.7,1125.1 452.1,1124.5 452.7,1124 454.1,1123.5 456,1123 457.4,1122.5 456.2,1122 454.3,1121.5 453,1120.9 452.4,1120.4 452,1119.9 451.6,1119.4 451.3,1118.9 450.9,1118.4 450.6,1117.9 450.6,1117.3 451.2,1116.8 452,1116.3 451.6,1115.8 450,1115.3 448.4,1114.8 447.5,1114.3 446.9,1113.8 446.5,1113.2 446.3,1112.7 446.5,1112.2 446.8,1111.7 446.3,1111.2 445,1110.7 443.7,1110.2 442.9,1109.6 442.2,1109.1 441.7,1108.6 441.1,1108.1 440.5,1107.6 439.9,1107.1 439.3,1106.6 438.7,1106 438,1105.5 437.3,1105 436.5,1104.5 436,1104 435.8,1104 435,1104 434.8,1104 434.3,1104.5 433.5,1105 432.8,1105.5 432.1,1106 431.5,1106.6 430.9,1107.1 430.3,1107.6 429.7,1108.1 429.1,1108.6 428.6,1109.1 427.9,1109.6 427.1,1110.2 425.8,1110.7 424.5,1111.2 424,1111.7 424.3,1112.2 424.5,1112.7 424.3,1113.2 423.9,1113.8 423.3,1114.3 422.4,1114.8 420.8,1115.3 419.2,1115.8 418.8,1116.3 419.6,1116.8 420.2,1117.3 420.2,1117.9 419.9,1118.4 419.5,1118.9 419.2,1119.4 418.8,1119.9 418.4,1120.4 417.8,1120.9 416.5,1121.5 414.6,1122 413.4,1122.5 414.8,1123 416.7,1123.5 418.1,1124 418.7,1124.5 419.1,1125.1 419.4,1125.6 419.8,1126.1 420.1,1126.6 420.4,1127.1 420.6,1127.6 420.2,1128.1 419.4,1128.6 418.8,1129.2 419.7,1129.7 421.3,1130.2 423.3,1130.7 425.1,1131.2 426.6,1131.7 419.2,1132.2 403.6,1132.8 389.7,1133.3 386.4,1133.8 386.4,1134.3 386.4,1134.8" fill="#00bfc4" stroke="#333" stroke-width="0.7"/>
<polygon points="595,1134.8 595,1134.4 595,1133.9 594.5,1133.5 586.1,1133 572.3,1132.6 562.2,1132.1 564.7,1131.7 567.5,1131.2 570.6,1130.8 574.7,1130.4 577.7,1129.9 580.3,1129.5 580.9,1129 579.6,1128.6 578,1128.1 577.3,1127.7 577.5,1127.2 578,1126.8 578.6,1126.4 579.3,1125.9 579.9,1125.5 580.5,1125 581.2,1124.6 582.2,1124.1 584.2,1123.7 587.6,1123.2 591.1,1122.8 592,1122.3 589.1,1121.9 585.4,1121.5 582.8,1121 581.3,1120.6 580.3,1120.1 579.5,1119.7 578.8,1119.2 578.8,1118.8 579.7,1118.3 580.9,1117.9 580.8,1117.4 578.5,1117 575.1,1116.6 572.3,1116.1 570.6,1115.7 569.9,1115.2 569.9,1114.8 570.3,1114.3 569.8,1113.9 567.7,1113.4 564.8,1113 562.4,1112.6 560.6,1112.1 559.2,1111.7 557.8,1111.2 556.5,1110.8 555.1,1110.3 553.6,1109.9 552.1,1109.4 550.4,1109 548.6,1108.5 546.6,1108.1 546.4,1108.1 545.6,1108.1 545.4,1108.1 543.4,1108.5 541.6,1109 539.9,1109.4 538.4,1109.9 536.9,1110.3 535.5,1110.8 534.2,1111.2 532.8,1111.7 531.4,1112.1 529.6,1112.6 527.2,1113 524.3,1113.4 522.2,1113.9 521.7,1114.3 522.1,1114.8 522.1,1115.2 521.4,1115.7 519.7,1116.1 516.9,1116.6 513.5,1117 511.2,1117.4 511.1,1117.9 512.3,1118.3 513.2,1118.8 513.2,1119.2 512.5,1119.7 511.7,1120.1 510.7,1120.6 509.2,1121 506.6,1121.5 502.9,1121.9 500,1122.3 500.9,1122.8 504.4,1123.2 507.8,1123.7 509.8,1124.1 510.8,1124.6 511.5,1125 512.1,1125.5 512.7,1125.9 513.4,1126.4 514,1126.8 514.5,1127.2 514.7,1127.7 514,1128.1 512.4,1128.6 511.1,1129 511.7,1129.5 514.3,1129.9 517.3,1130.4 521.4,1130.8 524.5,1131.2 527.3,1131.7 529.8,1132.1 519.7,1132.6 505.9,1133 497.5,1133.5 497,1133.9 497,1134.4 497,1134.8" fill="#c77cff" stroke="#333" stroke-width="0.7"/>
<text x="155" y="1103.7" font-size="14" fill="#222">4</text>
<text x="141" y="1128.6" font-size="29" text-anchor="end" fill="#1a1a1a">RGCC</text>
<polygon points="245.8,1175.9 245.8,1175.5 245.8,1175.1 245.8,1174.8 244.2,1174.4 238.6,1174 231.2,1173.6 224.6,1173.3 222.3,1172.9 223.9,1172.5 225.5,1172.1 226.7,1171.8 227.5,1171.4 227.7,1171 228.1,1170.6 228.7,1170.3 229.5,1169.9 230.5,1169.5 231.7,1169.1 233.3,1168.7 235.4,1168.4 237.6,1168 238.8,1167.6 236.9,1167.2 234.7,1166.9 232.7,1166.5 231.3,1166.1 230.3,1165.7 229.4,1165.4 228.6,1165 227.9,1164.6 227.3,1164.2 226.9,1163.8 226.7,1163.5 226.6,1163.1 226.2,1162.7 225.2,1162.3 224.1,1162 222.9,1161.6 222.1,1161.2 221.5,1160.8 221,1160.5 220.7,1160.1 220.5,1159.7 220.2,1159.3 219.7,1159 219.1,1158.6 218.5,1158.2 218,1157.8 217.6,1157.4 217.3,1157.1 217,1156.7 216.8,1156.3 216.6,1155.9 216.4,1155.6 216.4,1155.2 216.4,1154.8 216.4,1154.4 216.4,1154.1 216.4,1153.7 216.4,1153.3 216.2,1153.3 215.4,1153.3 215.2,1153.3 215.2,1153.7 215.2,1154.1 215.2,1154.4 215.2,1154.8 215.2,1155.2 215.2,1155.6 215,1155.9 214.8,1156.3 214.6,1156.7 214.3,1157.1 214,1157.4 213.6,1157.8 213.1,1158.2 212.5,1158.6 211.9,1159 211.4,1159.3 211.1,1159.7 210.9,1160.1 210.6,1160.5 210.1,1160.8 209.5,1161.2 208.7,1161.6 207.5,1162 206.4,1162.3 205.4,1162.7 205,1163.1 204.9,1163.5 204.7,1163.8 204.3,1164.2 203.7,1164.6 203,1165 202.2,1165.4 201.3,1165.7 200.3,1166.1 198.9,1166.5 196.9,1166.9 194.7,1167.2 192.8,1167.6 194,1168 196.2,1168.4 198.3,1168.7 199.9,1169.1 201.1,1169.5 202.1,1169.9 202.9,1170.3 203.5,1170.6 203.9,1171 204.1,1171.4 204.9,1171.8 206.1,1172.1 207.7,1172.5 209.3,1172.9 207,1173.3 200.4,1173.6 193,1174 187.4,1174.4 185.8,1174.8 185.8,1175.1 185.8,1175.5 185.8,1175.9" fill="#f8766d" stroke="#333" stroke-width="0.7"/>
<polygon points="365.8,1175.9 365.8,1175.5 365.8,1175.1 365.8,1174.7 361.4,1174.3 351.8,1173.8 341.3,1173.4 333.4,1173 333.5,1172.6 335.2,1172.2 336.6,1171.8 337.5,1171.4 337.7,1171 338.2,1170.6 338.9,1170.1 339.9,1169.7 341,1169.3 342.5,1168.9 344.6,1168.5 347.1,1168.1 349,1167.7 347.3,1167.3 345,1166.9 343,1166.4 341.6,1166 340.6,1165.6 339.8,1165.2 339,1164.8 338.2,1164.4 337.5,1164 337,1163.6 336.6,1163.2 336.5,1162.8 336.5,1162.3 336,1161.9 335,1161.5 333.8,1161.1 332.8,1160.7 332,1160.3 331.4,1159.9 331,1159.5 330.6,1159.1 330.4,1158.6 330.2,1158.2 329.9,1157.8 329.3,1157.4 328.7,1157 328.2,1156.6 327.8,1156.2 327.4,1155.8 327.2,1155.4 326.9,1154.9 326.7,1154.5 326.5,1154.1 326.4,1153.7 326.4,1153.3 326.4,1152.9 326.4,1152.5 326.4,1152.1 326.4,1151.7 326.4,1151.2 326.2,1151.2 325.4,1151.2 325.2,1151.2 325.2,1151.7 325.2,1152.1 325.2,1152.5 325.2,1152.9 325.2,1153.3 325.2,1153.7 325.1,1154.1 324.9,1154.5 324.7,1154.9 324.4,1155.4 324.2,1155.8 323.8,1156.2 323.4,1156.6 322.9,1157 322.3,1157.4 321.7,1157.8 321.4,1158.2 321.2,1158.6 321,1159.1 320.6,1159.5 320.2,1159.9 319.6,1160.3 318.8,1160.7 317.8,1161.1 316.6,1161.5 315.6,1161.9 315.1,1162.3 315.1,1162.8 315,1163.2 314.6,1163.6 314.1,1164 313.4,1164.4 312.6,1164.8 311.8,1165.2 311,1165.6 310,1166 308.6,1166.4 306.6,1166.9 304.3,1167.3 302.6,1167.7 304.5,1168.1 307,1168.5 309.1,1168.9 310.6,1169.3 311.7,1169.7 312.7,1170.1 313.4,1170.6 313.9,1171 314.1,1171.4 315,1171.8 316.4,1172.2 318.1,1172.6 318.2,1173 310.3,1173.4 299.8,1173.8 290.2,1174.3 285.8,1174.7 285.8,1175.1 285.8,1175.5 285.8,1175.9" fill="#7cae00" stroke="#333" stroke-width="0.7"/>
<polygon points="484.4,1175.9 484.4,1175.4 484.4,1174.9 481.1,1174.4 467.2,1173.8 451.6,1173.3 447.8,1172.8 450.5,1172.3 453.9,1171.8 458,1171.3 461.6,1170.8 464.2,1170.3 464.4,1169.7 464,1169.2 464.4,1168.7 465.9,1168.2 467.7,1167.7 469.6,1167.2 471.5,1166.7 473.5,1166.1 475.7,1165.6 478.6,1165.1 483.3,1164.6 486.4,1164.1 486.4,1163.6 486.4,1163.1 482.7,1162.5 477.8,1162 474.7,1161.5 472.3,1161 470.1,1160.5 467.9,1160 465.8,1159.5 464,1159 462.8,1158.4 462.7,1157.9 462.6,1157.4 460.7,1156.9 457.1,1156.4 453.8,1155.9 451.6,1155.4 450,1154.8 448.6,1154.3 447.6,1153.8 447.1,1153.3 446.5,1152.8 445.3,1152.3 443.4,1151.8 441.8,1151.2 440.6,1150.7 439.7,1150.2 438.9,1149.7 438.2,1149.2 437.6,1148.7 437,1148.2 436.6,1147.7 436.2,1147.1 436,1146.6 436,1146.1 436,1145.6 436,1145.1 435.8,1145.1 435,1145.1 434.8,1145.1 434.8,1145.6 434.8,1146.1 434.8,1146.6 434.6,1147.1 434.2,1147.7 433.8,1148.2 433.2,1148.7 432.6,1149.2 431.9,1149.7 431.1,1150.2 430.2,1150.7 429,1151.2 427.4,1151.8 425.5,1152.3 424.3,1152.8 423.7,1153.3 423.2,1153.8 422.2,1154.3 420.8,1154.8 419.2,1155.4 417,1155.9 413.7,1156.4 410.1,1156.9 408.2,1157.4 408.1,1157.9 408,1158.4 406.8,1159 405,1159.5 402.9,1160 400.7,1160.5 398.5,1161 396.1,1161.5 393,1162 388.1,1162.5 384.4,1163.1 384.4,1163.6 384.4,1164.1 387.5,1164.6 392.2,1165.1 395.1,1165.6 397.3,1166.1 399.3,1166.7 401.2,1167.2 403.1,1167.7 404.9,1168.2 406.4,1168.7 406.8,1169.2 406.4,1169.7 406.6,1170.3 409.2,1170.8 412.8,1171.3 416.9,1171.8 420.3,1172.3 423,1172.8 419.2,1173.3 403.6,1173.8 389.7,1174.4 386.4,1174.9 386.4,1175.4 386.4,1175.9" fill="#00bfc4" stroke="#333" stroke-width="0.7"/>
<polygon points="595,1175.9 595,1175.4 595,1174.9 593.4,1174.5 582.1,1174 567,1173.5 557.4,1173 559.8,1172.5 562.6,1172.1 566.2,1171.6 569.8,1171.1 573.1,1170.6 575,1170.1 575,1169.7 574.5,1169.2 575,1168.7 576.4,1168.2 578,1167.8 579.8,1167.3 581.6,1166.8 583.5,1166.3 585.4,1165.8 587.7,1165.4 591.1,1164.9 596.5,1164.4 597,1163.9 597,1163.4 597,1163 591.8,1162.5 587.2,1162 584.1,1161.5 581.7,1161 579.4,1160.6 577.2,1160.1 575.2,1159.6 574,1159.1 573.7,1158.6 573.4,1158.2 571.6,1157.7 568.2,1157.2 564.8,1156.7 562.3,1156.2 560.5,1155.8 559.2,1155.3 558.3,1154.8 557.7,1154.3 556.9,1153.8 555.3,1153.4 553.4,1152.9 551.9,1152.4 550.8,1151.9 549.9,1151.5 549.1,1151 548.4,1150.5 547.8,1150 547.3,1149.5 546.8,1149.1 546.6,1148.6 546.6,1148.1 546.6,1147.6 546.6,1147.1 546.4,1147.1 545.6,1147.1 545.4,1147.1 545.4,1147.6 545.4,1148.1 545.4,1148.6 545.2,1149.1 544.7,1149.5 544.2,1150 543.6,1150.5 542.9,1151 542.1,1151.5 541.2,1151.9 540.1,1152.4 538.6,1152.9 536.7,1153.4 535.1,1153.8 534.3,1154.3 533.7,1154.8 532.8,1155.3 531.5,1155.8 529.7,1156.2 527.2,1156.7 523.8,1157.2 520.4,1157.7 518.6,1158.2 518.3,1158.6 518,1159.1 516.8,1159.6 514.8,1160.1 512.6,1160.6 510.3,1161 507.9,1161.5 504.8,1162 500.2,1162.5 495,1163 495,1163.4 495,1163.9 495.5,1164.4 500.9,1164.9 504.3,1165.4 506.6,1165.8 508.5,1166.3 510.4,1166.8 512.2,1167.3 514,1167.8 515.6,1168.2 517,1168.7 517.5,1169.2 517,1169.7 517,1170.1 518.9,1170.6 522.2,1171.1 525.8,1171.6 529.4,1172.1 532.2,1172.5 534.6,1173 525,1173.5 509.9,1174 498.6,1174.5 497,1174.9 497,1175.4 497,1175.9" fill="#c77cff" stroke="#333" stroke-width="0.7"/>
<text x="155" y="1144.8" font-size="14" fill="#222">3</text>
<text x="141" y="1169.7" font-size="29" text-anchor="end" fill="#1a1a1a">PALLD</text>
<path d="M195.8 1216.2h40" stroke="#888" stroke-width="0.9" fill="none"/>
<path d="M215.8 1217V1198.5" stroke="#555" stroke-width="0.8" fill="none"/>
<path d="M212.8 1211.4h6" stroke="#555" stroke-width="0.8" fill="none"/>
<path d="M305.8 1216.2h40" stroke="#888" stroke-width="0.9" fill="none"/>
<path d="M325.8 1217V1192.3" stroke="#555" stroke-width="0.8" fill="none"/>
<path d="M322.8 1209.6h6" stroke="#555" stroke-width="0.8" fill="none"/>
<polygon points="475.4,1217 447.4,1215.8 438.4,1214.5 438.4,1198.5 437.2,1189.3 435.7,1186.2 435.1,1186.2 433.6,1189.3 432.4,1198.5 432.4,1214.5 423.4,1215.8 395.4,1217" fill="#00bfc4" stroke="#333" stroke-width="0.7"/>
<polygon points="595,1217 595,1216.6 595,1216.2 595,1215.8 589.6,1215.3 577.8,1214.9 565,1214.5 555.3,1214.1 549.7,1213.7 549.5,1213.3 550,1212.9 550.3,1212.5 550.4,1212.1 550.6,1211.6 550.8,1211.2 551.2,1210.8 551.6,1210.4 552.1,1210 552.9,1209.6 553.8,1209.2 554.5,1208.8 553.9,1208.4 553.1,1208 552.3,1207.5 551.8,1207.1 551.4,1206.7 551.1,1206.3 550.9,1205.9 550.6,1205.5 550.3,1205.1 550.1,1204.7 550,1204.3 550,1203.8 549.9,1203.4 549.8,1203 549.4,1202.6 548.9,1202.2 548.6,1201.8 548.3,1201.4 548.1,1201 547.9,1200.6 547.8,1200.1 547.7,1199.7 547.6,1199.3 547.5,1198.9 547.3,1198.5 547.1,1198.1 546.9,1197.7 546.7,1197.3 546.6,1196.9 546.6,1196.4 546.6,1196 546.6,1195.6 546.6,1195.2 546.6,1194.8 546.6,1194.4 546.6,1194 546.6,1193.6 546.6,1193.2 546.6,1192.7 546.6,1192.3 546.4,1192.3 545.6,1192.3 545.4,1192.3 545.4,1192.7 545.4,1193.2 545.4,1193.6 545.4,1194 545.4,1194.4 545.4,1194.8 545.4,1195.2 545.4,1195.6 545.4,1196 545.4,1196.4 545.4,1196.9 545.3,1197.3 545.1,1197.7 544.9,1198.1 544.7,1198.5 544.5,1198.9 544.4,1199.3 544.3,1199.7 544.2,1200.1 544.1,1200.6 543.9,1201 543.7,1201.4 543.4,1201.8 543.1,1202.2 542.6,1202.6 542.2,1203 542.1,1203.4 542,1203.8 542,1204.3 541.9,1204.7 541.7,1205.1 541.4,1205.5 541.1,1205.9 540.9,1206.3 540.6,1206.7 540.2,1207.1 539.7,1207.5 538.9,1208 538.1,1208.4 537.5,1208.8 538.2,1209.2 539.1,1209.6 539.9,1210 540.4,1210.4 540.8,1210.8 541.2,1211.2 541.4,1211.6 541.6,1212.1 541.7,1212.5 542,1212.9 542.5,1213.3 542.3,1213.7 536.7,1214.1 527,1214.5 514.2,1214.9 502.4,1215.3 497,1215.8 497,1216.2 497,1216.6 497,1217" fill="#c77cff" stroke="#333" stroke-width="0.7"/>
<text x="155" y="1185.9" font-size="14" fill="#222">4</text>
<text x="141" y="1210.8" font-size="29" text-anchor="end" fill="#1a1a1a">ACTG2</text>
<polygon points="240.8,1258.1 240.8,1257.7 240.8,1257.4 240.8,1257.1 240.4,1256.7 237.2,1256.4 232,1256 226.5,1255.7 222,1255.3 219.4,1255 220.2,1254.7 220.9,1254.3 221.5,1254 221.9,1253.6 222,1253.3 222.2,1252.9 222.4,1252.6 222.8,1252.3 223.2,1251.9 223.7,1251.6 224.3,1251.2 225.1,1250.9 226.1,1250.5 227.2,1250.2 228,1249.9 227.1,1249.5 226,1249.2 224.9,1248.8 224.1,1248.5 223.4,1248.1 222.9,1247.8 222.5,1247.5 222.1,1247.1 221.9,1246.8 221.7,1246.4 221.6,1246.1 221.4,1245.8 221,1245.4 220.4,1245.1 219.8,1244.7 219.3,1244.4 218.9,1244 218.6,1243.7 218.4,1243.4 218.3,1243 218.1,1242.7 217.8,1242.3 217.5,1242 217.2,1241.6 216.9,1241.3 216.7,1241 216.5,1240.6 216.4,1240.3 216.4,1239.9 216.4,1239.6 216.4,1239.2 216.4,1238.9 216.4,1238.6 216.4,1238.2 216.4,1237.9 216.4,1237.5 216.2,1237.5 215.4,1237.5 215.2,1237.5 215.2,1237.9 215.2,1238.2 215.2,1238.6 215.2,1238.9 215.2,1239.2 215.2,1239.6 215.2,1239.9 215.2,1240.3 215.1,1240.6 214.9,1241 214.7,1241.3 214.4,1241.6 214.1,1242 213.8,1242.3 213.5,1242.7 213.3,1243 213.2,1243.4 213,1243.7 212.7,1244 212.3,1244.4 211.8,1244.7 211.2,1245.1 210.6,1245.4 210.2,1245.8 210,1246.1 209.9,1246.4 209.7,1246.8 209.5,1247.1 209.1,1247.5 208.7,1247.8 208.2,1248.1 207.5,1248.5 206.7,1248.8 205.6,1249.2 204.5,1249.5 203.6,1249.9 204.4,1250.2 205.5,1250.5 206.5,1250.9 207.3,1251.2 207.9,1251.6 208.4,1251.9 208.8,1252.3 209.2,1252.6 209.4,1252.9 209.6,1253.3 209.7,1253.6 210.1,1254 210.7,1254.3 211.4,1254.7 212.2,1255 209.6,1255.3 205.1,1255.7 199.6,1256 194.4,1256.4 191.2,1256.7 190.8,1257.1 190.8,1257.4 190.8,1257.7 190.8,1258.1" fill="#f8766d" stroke="#333" stroke-width="0.7"/>
<polygon points="350.8,1258.1 350.8,1257.7 350.8,1257.3 350.8,1257 349.4,1256.6 344.8,1256.2 338.7,1255.8 333.2,1255.4 329.4,1255.1 329.6,1254.7 330.4,1254.3 331,1253.9 331.4,1253.6 331.4,1253.2 331.6,1252.8 331.9,1252.4 332.3,1252.1 332.7,1251.7 333.3,1251.3 334.1,1250.9 335.1,1250.5 336.1,1250.2 336.7,1249.8 335.8,1249.4 334.7,1249 333.8,1248.7 333.2,1248.3 332.7,1247.9 332.2,1247.5 331.9,1247.2 331.5,1246.8 331.2,1246.4 331.1,1246 331,1245.7 330.9,1245.3 330.7,1244.9 330.3,1244.5 329.7,1244.1 329.2,1243.8 328.8,1243.4 328.5,1243 328.3,1242.6 328.1,1242.3 328,1241.9 327.9,1241.5 327.7,1241.1 327.4,1240.8 327.1,1240.4 326.8,1240 326.7,1239.6 326.5,1239.2 326.4,1238.9 326.4,1238.5 326.4,1238.1 326.4,1237.7 326.4,1237.4 326.4,1237 326.4,1236.6 326.4,1236.2 326.4,1235.9 326.4,1235.5 326.2,1235.5 325.4,1235.5 325.2,1235.5 325.2,1235.9 325.2,1236.2 325.2,1236.6 325.2,1237 325.2,1237.4 325.2,1237.7 325.2,1238.1 325.2,1238.5 325.2,1238.9 325.1,1239.2 324.9,1239.6 324.8,1240 324.5,1240.4 324.2,1240.8 323.9,1241.1 323.7,1241.5 323.6,1241.9 323.5,1242.3 323.3,1242.6 323.1,1243 322.8,1243.4 322.4,1243.8 321.9,1244.1 321.3,1244.5 320.9,1244.9 320.7,1245.3 320.6,1245.7 320.5,1246 320.4,1246.4 320.1,1246.8 319.7,1247.2 319.4,1247.5 318.9,1247.9 318.4,1248.3 317.8,1248.7 316.9,1249 315.8,1249.4 314.9,1249.8 315.5,1250.2 316.5,1250.5 317.5,1250.9 318.3,1251.3 318.9,1251.7 319.3,1252.1 319.7,1252.4 320,1252.8 320.2,1253.2 320.2,1253.6 320.6,1253.9 321.2,1254.3 322,1254.7 322.2,1255.1 318.4,1255.4 312.9,1255.8 306.8,1256.2 302.2,1256.6 300.8,1257 300.8,1257.3 300.8,1257.7 300.8,1258.1" fill="#7cae00" stroke="#333" stroke-width="0.7"/>
<polygon points="484.4,1258.1 484.4,1257.6 484.4,1257.1 482.8,1256.6 471.5,1256.2 456.4,1255.7 444.7,1255.2 447.6,1254.7 450.6,1254.2 452.7,1253.8 453.5,1253.3 454.2,1252.8 455.5,1252.3 457.1,1251.8 459.2,1251.4 462.4,1250.9 466.6,1250.4 470.4,1249.9 468.5,1249.5 464.7,1249 461.7,1248.5 459.8,1248 458.5,1247.5 457.3,1247.1 456.2,1246.6 455.1,1246.1 454.1,1245.6 453.1,1245.1 452.1,1244.7 451.4,1244.2 451.3,1243.7 451.5,1243.2 451.1,1242.7 449.7,1242.3 447.7,1241.8 446.2,1241.3 445.1,1240.8 444.3,1240.3 443.6,1239.9 442.9,1239.4 442.4,1238.9 442.2,1238.4 442,1237.9 441.5,1237.5 440.6,1237 439.6,1236.5 438.9,1236 438.4,1235.5 438,1235.1 437.6,1234.6 437.2,1234.1 436.9,1233.6 436.6,1233.2 436.3,1232.7 436.1,1232.2 436,1231.7 436,1231.2 436,1230.8 436,1230.3 436,1229.8 436,1229.3 435.8,1229.3 435,1229.3 434.8,1229.3 434.8,1229.8 434.8,1230.3 434.8,1230.8 434.8,1231.2 434.8,1231.7 434.7,1232.2 434.5,1232.7 434.2,1233.2 433.9,1233.6 433.6,1234.1 433.2,1234.6 432.8,1235.1 432.4,1235.5 431.9,1236 431.2,1236.5 430.2,1237 429.3,1237.5 428.8,1237.9 428.6,1238.4 428.4,1238.9 427.9,1239.4 427.2,1239.9 426.5,1240.3 425.7,1240.8 424.6,1241.3 423.1,1241.8 421.1,1242.3 419.7,1242.7 419.3,1243.2 419.5,1243.7 419.4,1244.2 418.7,1244.7 417.7,1245.1 416.7,1245.6 415.7,1246.1 414.6,1246.6 413.5,1247.1 412.3,1247.5 411,1248 409.1,1248.5 406.1,1249 402.3,1249.5 400.4,1249.9 404.2,1250.4 408.4,1250.9 411.6,1251.4 413.7,1251.8 415.3,1252.3 416.6,1252.8 417.3,1253.3 418.1,1253.8 420.2,1254.2 423.2,1254.7 426.1,1255.2 414.4,1255.7 399.3,1256.2 388,1256.6 386.4,1257.1 386.4,1257.6 386.4,1258.1" fill="#00bfc4" stroke="#333" stroke-width="0.7"/>
<polygon points="595,1258.1 595,1257.7 595,1257.3 595,1256.8 589.6,1256.4 577.8,1256 565,1255.6 555.3,1255.2 556.1,1254.8 558.4,1254.4 560.2,1254 561.5,1253.6 561.7,1253.1 562.3,1252.7 563.3,1252.3 564.5,1251.9 566,1251.5 568,1251.1 570.8,1250.7 574,1250.3 576.5,1249.9 574.3,1249.5 571.2,1249 568.6,1248.6 566.8,1248.2 565.5,1247.8 564.4,1247.4 563.3,1247 562.4,1246.6 561.5,1246.2 560.7,1245.8 560.2,1245.3 560.1,1244.9 560,1244.5 559.5,1244.1 558.1,1243.7 556.5,1243.3 555.2,1242.9 554.2,1242.5 553.4,1242.1 552.8,1241.6 552.4,1241.2 552.1,1240.8 551.8,1240.4 551.3,1240 550.6,1239.6 549.8,1239.2 549.1,1238.8 548.6,1238.4 548.2,1237.9 547.8,1237.5 547.5,1237.1 547.2,1236.7 546.9,1236.3 546.7,1235.9 546.6,1235.5 546.6,1235.1 546.6,1234.7 546.6,1234.2 546.6,1233.8 546.6,1233.4 546.4,1233.4 545.6,1233.4 545.4,1233.4 545.4,1233.8 545.4,1234.2 545.4,1234.7 545.4,1235.1 545.4,1235.5 545.3,1235.9 545.1,1236.3 544.8,1236.7 544.5,1237.1 544.2,1237.5 543.8,1237.9 543.4,1238.4 542.9,1238.8 542.2,1239.2 541.4,1239.6 540.7,1240 540.2,1240.4 539.9,1240.8 539.6,1241.2 539.2,1241.6 538.6,1242.1 537.8,1242.5 536.8,1242.9 535.5,1243.3 533.9,1243.7 532.5,1244.1 532,1244.5 531.9,1244.9 531.8,1245.3 531.3,1245.8 530.5,1246.2 529.6,1246.6 528.7,1247 527.6,1247.4 526.5,1247.8 525.2,1248.2 523.4,1248.6 520.8,1249 517.7,1249.5 515.5,1249.9 518,1250.3 521.2,1250.7 524,1251.1 526,1251.5 527.5,1251.9 528.7,1252.3 529.7,1252.7 530.3,1253.1 530.5,1253.6 531.8,1254 533.6,1254.4 535.9,1254.8 536.7,1255.2 527,1255.6 514.2,1256 502.4,1256.4 497,1256.8 497,1257.3 497,1257.7 497,1258.1" fill="#c77cff" stroke="#333" stroke-width="0.7"/>
<text x="155" y="1227" font-size="14" fill="#222">4</text>
<text x="141" y="1251.9" font-size="29" text-anchor="end" fill="#1a1a1a">MYL9</text>
<polygon points="264.8,1299.2 264.8,1298.8 264.8,1298.4 264.8,1298 262.1,1297.7 253,1297.3 241,1296.9 230.2,1296.5 222.8,1296.2 223.5,1295.8 225,1295.4 226.1,1295 226.9,1294.7 227.1,1294.3 227.4,1293.9 228.1,1293.5 228.8,1293.1 229.7,1292.8 230.8,1292.4 232.4,1292 234.4,1291.6 236.5,1291.3 237.5,1290.9 235.8,1290.5 233.7,1290.1 231.9,1289.8 230.5,1289.4 229.5,1289 228.7,1288.6 227.9,1288.2 227.2,1287.9 226.7,1287.5 226.3,1287.1 226.2,1286.7 226,1286.4 225.6,1286 224.7,1285.6 223.6,1285.2 222.6,1284.9 221.8,1284.5 221.2,1284.1 220.7,1283.7 220.4,1283.4 220.2,1283 220,1282.6 219.5,1282.2 218.9,1281.8 218.4,1281.5 217.9,1281.1 217.5,1280.7 217.2,1280.3 217,1280 216.7,1279.6 216.5,1279.2 216.4,1278.8 216.4,1278.5 216.4,1278.1 216.4,1277.7 216.4,1277.3 216.4,1276.9 216.4,1276.6 216.2,1276.6 215.4,1276.6 215.2,1276.6 215.2,1276.9 215.2,1277.3 215.2,1277.7 215.2,1278.1 215.2,1278.5 215.2,1278.8 215.1,1279.2 214.9,1279.6 214.6,1280 214.4,1280.3 214.1,1280.7 213.7,1281.1 213.2,1281.5 212.7,1281.8 212.1,1282.2 211.6,1282.6 211.4,1283 211.2,1283.4 210.9,1283.7 210.4,1284.1 209.8,1284.5 209,1284.9 208,1285.2 206.9,1285.6 206,1286 205.6,1286.4 205.4,1286.7 205.3,1287.1 204.9,1287.5 204.4,1287.9 203.7,1288.2 202.9,1288.6 202.1,1289 201.1,1289.4 199.7,1289.8 197.9,1290.1 195.8,1290.5 194.1,1290.9 195.1,1291.3 197.2,1291.6 199.2,1292 200.8,1292.4 201.9,1292.8 202.8,1293.1 203.5,1293.5 204.2,1293.9 204.5,1294.3 204.7,1294.7 205.5,1295 206.6,1295.4 208.1,1295.8 208.8,1296.2 201.4,1296.5 190.6,1296.9 178.6,1297.3 169.5,1297.7 166.8,1298 166.8,1298.4 166.8,1298.8 166.8,1299.2" fill="#f8766d" stroke="#333" stroke-width="0.7"/>
<path d="M305.8 1298.4h40" stroke="#888" stroke-width="0.9" fill="none"/>
<path d="M325.8 1299.2V1274.5" stroke="#555" stroke-width="0.8" fill="none"/>
<path d="M317.8 1291.8h16" stroke="#555" stroke-width="0.8" fill="none"/>
<polygon points="484.4,1299.2 484.4,1298.7 484.4,1298.3 483.9,1297.8 475.5,1297.4 461.7,1296.9 449,1296.5 448.2,1296.1 451.7,1295.6 454.7,1295.2 456.9,1294.7 457.3,1294.3 458.2,1293.8 459.7,1293.4 461.6,1292.9 463.9,1292.5 467.3,1292 471.9,1291.6 476.6,1291.2 476.6,1290.7 472.5,1290.3 468.4,1289.8 465.5,1289.4 463.6,1288.9 462.1,1288.5 460.7,1288 459.3,1287.6 458,1287.2 456.8,1286.7 455.7,1286.3 455,1285.8 454.8,1285.4 454.9,1284.9 454.2,1284.5 452.4,1284 450.1,1283.6 448.2,1283.1 446.9,1282.7 445.9,1282.3 445,1281.8 444.3,1281.4 443.9,1280.9 443.6,1280.5 443.2,1280 442.3,1279.6 441.1,1279.1 440.1,1278.7 439.3,1278.2 438.7,1277.8 438.2,1277.4 437.7,1276.9 437.3,1276.5 436.9,1276 436.6,1275.6 436.3,1275.1 436,1274.7 436,1274.2 436,1273.8 436,1273.4 436,1272.9 436,1272.5 435.8,1272.5 435,1272.5 434.8,1272.5 434.8,1272.9 434.8,1273.4 434.8,1273.8 434.8,1274.2 434.8,1274.7 434.5,1275.1 434.2,1275.6 433.9,1276 433.5,1276.5 433.1,1276.9 432.6,1277.4 432.1,1277.8 431.5,1278.2 430.7,1278.7 429.7,1279.1 428.5,1279.6 427.6,1280 427.2,1280.5 426.9,1280.9 426.5,1281.4 425.8,1281.8 424.9,1282.3 423.9,1282.7 422.6,1283.1 420.7,1283.6 418.4,1284 416.6,1284.5 415.9,1284.9 416,1285.4 415.8,1285.8 415.1,1286.3 414,1286.7 412.8,1287.2 411.5,1287.6 410.1,1288 408.7,1288.5 407.2,1288.9 405.3,1289.4 402.4,1289.8 398.3,1290.3 394.2,1290.7 394.2,1291.2 398.9,1291.6 403.5,1292 406.9,1292.5 409.2,1292.9 411.1,1293.4 412.6,1293.8 413.5,1294.3 413.9,1294.7 416.1,1295.2 419.1,1295.6 422.6,1296.1 421.8,1296.5 409.1,1296.9 395.3,1297.4 386.9,1297.8 386.4,1298.3 386.4,1298.7 386.4,1299.2" fill="#00bfc4" stroke="#333" stroke-width="0.7"/>
<polygon points="595,1299.2 595,1298.6 595,1298.1 589.6,1297.5 573.4,1297 558.1,1296.4 558.6,1295.9 561.2,1295.3 564.2,1294.8 566,1294.2 568.6,1293.7 572.2,1293.1 574.7,1292.6 574.7,1292 574,1291.5 574.4,1291 575.8,1290.4 577.4,1289.9 579.1,1289.3 580.9,1288.8 582.7,1288.2 584.5,1287.7 586.5,1287.1 588.8,1286.6 592.5,1286 597,1285.5 597,1284.9 597,1284.4 594.2,1283.8 588.6,1283.3 585.3,1282.7 582.7,1282.2 580.4,1281.6 578.1,1281.1 575.9,1280.5 574.1,1280 573.2,1279.4 573.4,1278.9 572.5,1278.4 569.3,1277.8 565.4,1277.3 562.7,1276.7 560.9,1276.2 559.4,1275.6 558.3,1275.1 557.7,1274.5 557.1,1274 555.6,1273.4 553.6,1272.9 552,1272.3 550.9,1271.8 550,1271.2 549.2,1270.7 548.5,1270.1 547.8,1269.6 547.3,1269 546.9,1268.5 546.6,1267.9 546.6,1267.4 546.6,1266.8 546.6,1266.3 546.4,1266.3 545.6,1266.3 545.4,1266.3 545.4,1266.8 545.4,1267.4 545.4,1267.9 545.1,1268.5 544.7,1269 544.2,1269.6 543.5,1270.1 542.8,1270.7 542,1271.2 541.1,1271.8 540,1272.3 538.4,1272.9 536.4,1273.4 534.9,1274 534.3,1274.5 533.7,1275.1 532.6,1275.6 531.1,1276.2 529.3,1276.7 526.6,1277.3 522.7,1277.8 519.5,1278.4 518.6,1278.9 518.8,1279.4 517.9,1280 516.1,1280.5 513.9,1281.1 511.6,1281.6 509.3,1282.2 506.7,1282.7 503.4,1283.3 497.8,1283.8 495,1284.4 495,1284.9 495,1285.5 499.5,1286 503.2,1286.6 505.5,1287.1 507.5,1287.7 509.3,1288.2 511.1,1288.8 512.9,1289.3 514.6,1289.9 516.2,1290.4 517.6,1291 518,1291.5 517.3,1292 517.3,1292.6 519.8,1293.1 523.4,1293.7 526,1294.2 527.8,1294.8 530.8,1295.3 533.4,1295.9 533.9,1296.4 518.6,1297 502.4,1297.5 497,1298.1 497,1298.6 497,1299.2" fill="#c77cff" stroke="#333" stroke-width="0.7"/>
<text x="155" y="1268.1" font-size="14" fill="#222">3</text>
<text x="141" y="1293" font-size="29" text-anchor="end" fill="#1a1a1a">SULF2</text>
<path d="M210.8 1339.5h10" stroke="#888" stroke-width="0.9" fill="none"/>
<path d="M215.8 1340.3V1319.7" stroke="#555" stroke-width="0.8" fill="none"/>
<path d="M207.8 1334.1h16" stroke="#555" stroke-width="0.8" fill="none"/>
<polygon points="345.8,1340.3 345.8,1339.8 345.8,1339.4 345.8,1339 343.6,1338.6 338.8,1338.2 333.6,1337.8 329.6,1337.4 329.8,1337 330.8,1336.6 331.5,1336.2 332,1335.7 332.1,1335.3 332.3,1334.9 332.7,1334.5 333.2,1334.1 333.8,1333.7 334.6,1333.3 335.7,1332.9 337,1332.5 338,1332 337.1,1331.6 335.9,1331.2 334.8,1330.8 334.1,1330.4 333.6,1330 333.1,1329.6 332.7,1329.2 332.3,1328.8 332,1328.3 331.7,1327.9 331.5,1327.5 331.4,1327.1 331.4,1326.7 331.2,1326.3 330.7,1325.9 330,1325.5 329.5,1325.1 329.1,1324.6 328.8,1324.2 328.5,1323.8 328.3,1323.4 328.2,1323 328.1,1322.6 327.9,1322.2 327.6,1321.8 327.3,1321.4 327,1320.9 326.8,1320.5 326.7,1320.1 326.5,1319.7 326.4,1319.3 326.4,1318.9 326.4,1318.5 326.4,1318.1 326.4,1317.7 326.4,1317.2 326.4,1316.8 326.4,1316.4 326.4,1316 326.4,1315.6 326.2,1315.6 325.4,1315.6 325.2,1315.6 325.2,1316 325.2,1316.4 325.2,1316.8 325.2,1317.2 325.2,1317.7 325.2,1318.1 325.2,1318.5 325.2,1318.9 325.2,1319.3 325.1,1319.7 324.9,1320.1 324.8,1320.5 324.6,1320.9 324.3,1321.4 324,1321.8 323.7,1322.2 323.5,1322.6 323.4,1323 323.3,1323.4 323.1,1323.8 322.8,1324.2 322.5,1324.6 322.1,1325.1 321.6,1325.5 320.9,1325.9 320.4,1326.3 320.2,1326.7 320.2,1327.1 320.1,1327.5 319.9,1327.9 319.6,1328.3 319.3,1328.8 318.9,1329.2 318.5,1329.6 318,1330 317.5,1330.4 316.8,1330.8 315.7,1331.2 314.5,1331.6 313.6,1332 314.6,1332.5 315.9,1332.9 317,1333.3 317.8,1333.7 318.4,1334.1 318.9,1334.5 319.3,1334.9 319.5,1335.3 319.6,1335.7 320.1,1336.2 320.8,1336.6 321.8,1337 322,1337.4 318,1337.8 312.8,1338.2 308,1338.6 305.8,1339 305.8,1339.4 305.8,1339.8 305.8,1340.3" fill="#7cae00" stroke="#333" stroke-width="0.7"/>
<polygon points="484.4,1340.3 484.4,1339.7 484.4,1339.2 479,1338.6 462.8,1338.1 449,1337.5 452.1,1337 456.6,1336.4 461.8,1335.9 463,1335.3 461.6,1334.8 460.6,1334.2 460.7,1333.7 461.3,1333.1 462,1332.6 462.8,1332 464.1,1331.5 466.7,1330.9 470.3,1330.4 471.8,1329.9 469.1,1329.3 466,1328.8 464.5,1328.2 463.8,1327.7 463.3,1327.1 462.8,1326.6 462.2,1326 461.7,1325.5 461.1,1324.9 460.6,1324.4 460.2,1323.8 460.6,1323.3 462.1,1322.7 463,1322.2 461.4,1321.6 458.5,1321.1 456.5,1320.5 455.5,1320 454.7,1319.4 454,1318.9 453.4,1318.3 453.1,1317.8 453.7,1317.2 454.3,1316.7 453.4,1316.2 451.2,1315.6 449.3,1315.1 448.1,1314.5 447.2,1314 446.4,1313.4 445.6,1312.9 444.8,1312.3 443.9,1311.8 443.1,1311.2 442.2,1310.7 441.3,1310.1 440.4,1309.6 439.4,1309 438.3,1308.5 437.1,1307.9 436,1307.4 435.8,1307.4 435,1307.4 434.8,1307.4 433.7,1307.9 432.5,1308.5 431.4,1309 430.4,1309.6 429.5,1310.1 428.6,1310.7 427.7,1311.2 426.9,1311.8 426,1312.3 425.2,1312.9 424.4,1313.4 423.6,1314 422.7,1314.5 421.5,1315.1 419.6,1315.6 417.4,1316.2 416.5,1316.7 417.1,1317.2 417.7,1317.8 417.4,1318.3 416.8,1318.9 416.1,1319.4 415.3,1320 414.3,1320.5 412.3,1321.1 409.4,1321.6 407.8,1322.2 408.7,1322.7 410.2,1323.3 410.6,1323.8 410.2,1324.4 409.7,1324.9 409.1,1325.5 408.6,1326 408,1326.6 407.5,1327.1 407,1327.7 406.3,1328.2 404.8,1328.8 401.7,1329.3 399,1329.9 400.5,1330.4 404.1,1330.9 406.7,1331.5 408,1332 408.8,1332.6 409.5,1333.1 410.1,1333.7 410.2,1334.2 409.2,1334.8 407.8,1335.3 409,1335.9 414.2,1336.4 418.7,1337 421.8,1337.5 408,1338.1 391.8,1338.6 386.4,1339.2 386.4,1339.7 386.4,1340.3" fill="#00bfc4" stroke="#333" stroke-width="0.7"/>
<polygon points="595,1340.3 595,1339.8 595,1339.4 595,1339 589.6,1338.6 577.8,1338.2 565,1337.8 557.3,1337.4 560.5,1337 563.8,1336.6 566.5,1336.2 568.3,1335.7 568.6,1335.3 569.5,1334.9 570.9,1334.5 572.6,1334.1 574.7,1333.7 577.6,1333.3 581.6,1332.9 586.3,1332.5 589.9,1332 586.7,1331.6 582.3,1331.2 578.5,1330.8 575.9,1330.4 574,1330 572.4,1329.6 571,1329.2 569.6,1328.8 568.3,1328.3 567.1,1327.9 566.5,1327.5 566.3,1327.1 566.2,1326.7 565.4,1326.3 563.5,1325.9 561.2,1325.5 559.2,1325.1 557.7,1324.6 556.7,1324.2 555.8,1323.8 555.2,1323.4 554.8,1323 554.4,1322.6 553.7,1322.2 552.6,1321.8 551.4,1321.4 550.5,1320.9 549.7,1320.5 549.1,1320.1 548.6,1319.7 548.1,1319.3 547.7,1318.9 547.3,1318.5 547,1318.1 546.7,1317.7 546.6,1317.2 546.6,1316.8 546.6,1316.4 546.6,1316 546.6,1315.6 546.4,1315.6 545.6,1315.6 545.4,1315.6 545.4,1316 545.4,1316.4 545.4,1316.8 545.4,1317.2 545.3,1317.7 545,1318.1 544.7,1318.5 544.3,1318.9 543.9,1319.3 543.4,1319.7 542.9,1320.1 542.3,1320.5 541.5,1320.9 540.6,1321.4 539.4,1321.8 538.3,1322.2 537.6,1322.6 537.2,1323 536.8,1323.4 536.2,1323.8 535.3,1324.2 534.3,1324.6 532.8,1325.1 530.8,1325.5 528.5,1325.9 526.6,1326.3 525.8,1326.7 525.7,1327.1 525.5,1327.5 524.9,1327.9 523.7,1328.3 522.4,1328.8 521,1329.2 519.6,1329.6 518,1330 516.1,1330.4 513.5,1330.8 509.7,1331.2 505.3,1331.6 502.1,1332 505.7,1332.5 510.4,1332.9 514.4,1333.3 517.3,1333.7 519.4,1334.1 521.1,1334.5 522.5,1334.9 523.4,1335.3 523.7,1335.7 525.5,1336.2 528.2,1336.6 531.5,1337 534.7,1337.4 527,1337.8 514.2,1338.2 502.4,1338.6 497,1339 497,1339.4 497,1339.8 497,1340.3" fill="#c77cff" stroke="#333" stroke-width="0.7"/>
<text x="155" y="1309.2" font-size="14" fill="#222">3</text>
<text x="141" y="1334.1" font-size="29" text-anchor="end" fill="#1a1a1a">FJX1</text>
<rect x="165" y="718" width="433.6" height="622.3" fill="none" stroke="#222" stroke-width="1.8"/>
<path d="M165 765H598.6M165 806.1H598.6M165 847.2H598.6M165 888.3H598.6M165 929.4H598.6M165 970.5H598.6M165 1011.5H598.6M165 1052.6H598.6M165 1093.7H598.6M165 1134.8H598.6M165 1175.9H598.6M165 1217H598.6M165 1258.1H598.6M165 1299.2H598.6" stroke="#222" stroke-width="1.6" fill="none"/>
<text transform="translate(222 1374) rotate(-45)" font-size="28" text-anchor="end" fill="#1a1a1a">Fib1</text>
<text transform="translate(333.5 1374) rotate(-45)" font-size="28" text-anchor="end" fill="#1a1a1a">Fib2</text>
<text transform="translate(445 1374) rotate(-45)" font-size="28" text-anchor="end" fill="#1a1a1a">MFib 1</text>
<text transform="translate(556.5 1374) rotate(-45)" font-size="28" text-anchor="end" fill="#1a1a1a">S1</text>
<g clip-path="url(#clipd1)">
<rect x="821.9" y="698.7" width="469.1" height="427.5" fill="#000"/>
<g clip-path="url(#tis1)">
<rect x="821.9" y="698.7" width="469.1" height="427.5" fill="#161616"/>
<rect x="821.9" y="698.7" width="469.1" height="427.5" fill="url(#nucA)" filter="url(#soft)"/>
<rect x="821.9" y="698.7" width="469.1" height="427.5" fill="#000" filter="url(#patchy)" opacity="0.55"/>
<ellipse cx="960" cy="885" rx="150" ry="14" fill="#000" opacity="0.45" filter="url(#blur12)"/>
<ellipse cx="930" cy="760" rx="110" ry="40" fill="#fff" opacity="0.10" filter="url(#blur12)"/>
<g style="mix-blend-mode:screen">
<polygon points="1197.9,949 1243,922.7 1280.5,949 1291,1005.3 1280.5,1061.6 1224.2,1061.6 1186.7,1035.3 1167.9,997.8" fill="#00a8a8" opacity="0.22" filter="url(#blur12)"/>
<polygon points="1092.8,735.1 1149.1,750.1 1167.9,798.9 1130.4,810.1 1100.3,780.1" fill="#0e8f8f" opacity="0.12" filter="url(#blur12)"/>
<path d="M1251.5 1043A58.8 58.8 0 0 1 1272.7 1023M1258.9 1069.3A40.3 40.3 0 0 1 1270.6 1050.7M1256 1038.4A56.3 56.3 0 0 1 1271.4 1022.3M1270.9 1041.9A46.5 46.5 0 0 1 1287.9 1030.9M1252.6 1001.4A84.5 84.5 0 0 1 1273.7 990.9M1235.2 991.7A110.1 110.1 0 0 1 1282.4 967.7M1217.1 1031.1A88.4 88.4 0 0 1 1236.1 1006.2M1196.4 1013.1A116.8 116.8 0 0 1 1240.9 970.2M1229.3 1039A78.2 78.2 0 0 1 1240.7 1020.3M1248.3 1049.1A57.4 57.4 0 0 1 1259.6 1037.1M1227 1035.6A77 77 0 0 1 1257.9 1007.4M1276.4 1017.5A60.7 60.7 0 0 1 1303.6 1009.3M1267.7 1050.3A43.4 43.4 0 0 1 1275.5 1039.8M1198.7 1027.1A107 107 0 0 1 1234.2 989.6M1245 1040.2A63.4 63.4 0 0 1 1260.4 1028M1192 1048A118.1 118.1 0 0 1 1213.5 998.2M1268.9 1037.8A51.1 51.1 0 0 1 1288.3 1025.9M1228.1 1012.3A101.7 101.7 0 0 1 1256.3 988.6M1244.1 1065A50.7 50.7 0 0 1 1254.5 1047.8M1263.4 1023.2A65.3 65.3 0 0 1 1287.1 1012.1M1265.3 1022.2A69 69 0 0 1 1288 1012.6M1202.9 1054.6A110.9 110.9 0 0 1 1221.8 1016.8M1217.9 1015.7A101.9 101.9 0 0 1 1253.1 979.1M1213.6 1018.8A100.7 100.7 0 0 1 1230.2 997.4M1248.2 1040A65.3 65.3 0 0 1 1268 1023.8M1245.7 1046.8A59.7 59.7 0 0 1 1257.8 1032.8M1216.8 1021.1A105.7 105.7 0 0 1 1254.4 989.7M1264.7 1019.3A74.2 74.2 0 0 1 1298.6 1009.2M1226.3 1045.4A74.4 74.4 0 0 1 1244.7 1023.8M1268 1034.5A44.6 44.6 0 0 1 1289.5 1028.3M1211.3 1040.9A96.7 96.7 0 0 1 1234 1003.1M1265.8 1048.1A45.1 45.1 0 0 1 1275.1 1038.9M1265.8 1037.4A45.4 45.4 0 0 1 1278.6 1027.6M1232.9 1023.8A89.7 89.7 0 0 1 1253.3 1003.9M1247.5 1043.1A67.8 67.8 0 0 1 1264.2 1020M1262.4 999.4A83.7 83.7 0 0 1 1282 990.7M1202.7 1052.9A103.2 103.2 0 0 1 1228.5 1009.9M1239.5 970.6A115.8 115.8 0 0 1 1304 951.5" stroke="#1cc4c4" stroke-width="1.2" fill="none" opacity="0.65"/>
<ellipse cx="1160" cy="1058" rx="35" ry="16" fill="#fff" opacity="0.18" filter="url(#blur6)"/>
<polyline points="1111.6,753.9 1152.9,753.9 1167.9,791.4 1182.9,806.4 1197.9,832.7 1220.4,851.4 1224.2,873.9 1246.7,892.7 1259.8,919 1269.2,937.8 1291,960.3 1291,1005.3 1280.5,1061.6 1265.5,1087.9 1224.2,1086 1186.7,1080.4 1141.6,1069.1" fill="none" stroke="#c020c0" stroke-width="6" opacity="0.32" filter="url(#blur3)"/>
</g>
</g>
<path d="M1087.4 1072.2h0M1156.9 1096.1h0M1119.7 1061h0M983.5 1020.9h0M944.1 1021.2h0M1110.6 1089.7h0M822.6 1001.3h0M958.1 1004.2h0M858.9 1062.6h0M1031.3 1025.7h0M1140.6 1070.4h0M933.9 1015.3h0M918.8 1006.5h0M1037.3 1078.6h0M1093 1050.8h0M837.3 1004h0M831.8 1007.7h0M997.5 1001.9h0M1044.8 1034.8h0M1047.2 1034.6h0M854.4 1014.6h0M889.4 1015.4h0M976.2 1004.7h0M1013.8 1014.1h0M834.6 1016.3h0M971.7 1024.9h0M922.1 1014.4h0M1007.6 1014.6h0M869 1011.7h0M897.9 1016.4h0M943.8 1007.8h0M1084.2 1062.1h0M1002.8 1014.2h0M955.4 1000h0M1060.9 1032.6h0M1035.9 1028.4h0M826.1 1049.5h0M908.4 1015.9h0M1096.9 1050.5h0M1096.3 1075.3h0M976.2 1019.9h0M1023 1061.3h0M1115.1 1061.6h0M1154.5 1075h0M903.8 1096.5h0M948.8 1003h0M846.4 1024.8h0M1077.9 1039.2h0M856.1 1003.5h0M1063.9 1034h0M980.8 1009.8h0M901.3 1004h0M852.2 1027.2h0M926 1000.2h0M1142.8 1081.2h0M833.9 1030.9h0M910.8 1005.9h0M847.2 1024.3h0M1057 1088.6h0M1081.5 1047.4h0" stroke="#505050" stroke-width="3.4" stroke-linecap="round" fill="none"/>
<circle cx="1168" cy="823" r="4.5" fill="none" stroke="#ddd" stroke-width="1.5"/>
</g>
<rect x="1194" y="1110.4" width="88" height="6.6" fill="#fff"/>
<g clip-path="url(#clipd2)">
<rect x="1315.4" y="697.8" width="468.6" height="427.2" fill="#050208"/>
<g clip-path="url(#tis2)">
<rect x="1315.4" y="697.8" width="468.6" height="427.2" fill="#18181c"/>
<rect x="1315.4" y="697.8" width="468.6" height="427.2" fill="url(#nucB)" filter="url(#soft)"/>
<rect x="1315.4" y="697.8" width="468.6" height="427.2" fill="#000" filter="url(#patchy)" opacity="0.5"/>
<g style="mix-blend-mode:screen">
<polygon points="1477.6,697.8 1602.7,697.8 1585.3,751.6 1554.1,821.1 1533.2,880.2 1505.4,942.7 1498.5,1012.2 1484.6,977.5 1470.7,908 1463.7,838.5 1474.2,769" fill="#00c8c8" opacity="0.62" filter="url(#blur12)"/>
<polygon points="1637.5,697.8 1784.1,697.8 1784.1,786.4 1707,803.7 1637.5,838.5 1585.3,855.9 1602.7,769" fill="#0a8a8a" opacity="0.25" filter="url(#blur12)"/>
<polygon points="1505.4,942.7 1568,977.5 1602.7,1047 1568,1116.4 1515.9,1081.7" fill="#0a7070" opacity="0.3" filter="url(#blur12)"/>
<polygon points="1331.7,852.4 1394.2,873.2 1435.9,942.7 1456.8,1029.6 1470.7,1125.1 1394.2,1125.1 1359.5,1057.4 1324.7,1012.2 1317.8,908" fill="#b000b0" opacity="0.27" filter="url(#blur12)"/>
<polygon points="1429,734.2 1484.6,751.6 1484.6,838.5 1456.8,855.9 1429,803.7" fill="#a020a0" opacity="0.45" filter="url(#blur12)"/>
<polygon points="1498.5,1081.7 1689.6,1092.1 1689.6,1125.1 1498.5,1125.1" fill="#8a2090" opacity="0.25" filter="url(#blur12)"/>
<path d="M1397.6 1072.4L1401.8 1079.4L1406.7 1085.9L1413.8 1089.8L1421.6 1092.3M1434.9 1044.5L1436.6 1059.1L1444.5 1071.6L1452.9 1083.8L1459 1097.2M1321.9 957.2L1322.6 963.5L1322 969.8L1320.1 975.8L1321.2 982M1394.5 939L1390.8 948.8L1382.7 955.6L1373.5 960.6L1363.8 964.7M1447.2 1110.2L1454.8 1125.5L1462.5 1140.8L1473.3 1154L1478.6 1170.3M1425.7 1004.8L1435 1012.5L1443.5 1020.9L1450 1031.1L1460.4 1037.1M1400.3 1093.1L1413.3 1101.1L1426.1 1109.2L1437.3 1119.4L1444.7 1132.7M1415.5 936.7L1423.8 944.1L1431.4 952.3L1441.8 956.3L1450.5 963.3M1442.1 1103.3L1441.9 1109.9L1442.2 1116.6L1442.7 1123.2L1444.1 1129.7M1375.1 1063.6L1382.2 1072L1387.3 1081.8L1387.6 1092.8L1391.7 1103M1402.9 1113.5L1406.6 1121.3L1412.6 1127.4L1415.8 1135.4L1417.6 1143.8M1398.4 950.5L1405.6 961.7L1410.6 974.1L1414 987.1L1412.3 1000.3M1347.3 1017.1L1354.4 1026.3L1364.3 1032.7L1373.2 1040.2L1379 1050.4M1402.7 1003.3L1397.4 1017.2L1388.7 1029.4L1386.8 1044.1L1384.2 1058.8M1406.2 926.7L1415 941.2L1416.8 958.1L1422 974.2L1431.5 988.2M1371 979.8L1370.6 990.6L1370.7 1001.4L1369.1 1012.1L1367.9 1022.9M1359.5 1025.1L1357.6 1033.3L1355.7 1041.6L1353.2 1049.7L1349.3 1057.2M1429.2 936.9L1429.7 944.1L1427.8 951.1L1426 958.1L1422.8 964.5M1404.1 1039.5L1408.5 1051.3L1412.8 1063.1L1417.9 1074.6L1426.1 1084.1M1379.4 1051.9L1386.5 1066.9L1396.3 1080.3L1410.5 1088.8L1426.8 1091.8M1377.7 905.7L1375.8 913L1375.4 920.4L1373.5 927.6L1373 935.1M1356.2 893.5L1352.2 904.6L1348.1 915.7L1343.6 926.6L1340.4 937.9M1334.7 910.3L1339.9 919.5L1348.7 925.2L1359.1 927L1368.8 931.2M1446.5 998.8L1447.8 1006.2L1450.2 1013.3L1451.4 1020.7L1449.4 1027.9M1440.9 1103.4L1435.1 1110.6L1428.4 1117.1L1421.8 1123.6L1413.9 1128.4M1435.7 1081.2L1437.1 1090.8L1440 1100.1L1443.2 1109.3L1446 1118.6M1418.3 962.5L1421 973.6L1421.1 985.1L1423.7 996.2L1427.7 1006.9M1329.3 875.6L1326.3 890.2L1324.5 904.9L1324.5 919.8L1327.1 934.4M1415.1 918.3L1413.4 931.1L1414.4 943.9L1419.9 955.6L1423 968.1M1399.2 924.7L1397.8 931.3L1393.6 936.5L1390.2 942.3L1387.3 948.3M1342.8 932.9L1343.8 940L1344 947.3L1345.9 954.2L1345.8 961.4M1428.6 985.2L1429.6 996L1432.6 1006.5L1435.4 1017L1435.1 1027.9M1377.8 985.1L1383.1 998.6L1383.9 1013.1L1389.7 1026.4L1397.4 1038.7M1402.5 993L1411.3 1005.3L1418.7 1018.6L1424.9 1032.4L1426.9 1047.4M1366.5 903.9L1364.9 919.2L1365.3 934.6L1367.4 949.8L1369.2 965.1M1431.6 1007.3L1433.4 1013.9L1432.6 1020.6L1431 1027.3L1430.8 1034.1M1382.4 1096.1L1377.2 1112.2L1366.8 1125.5L1356 1138.5L1342.6 1148.8M1368.1 1010.2L1369.8 1023L1375.8 1034.4L1379.3 1046.9L1377.8 1059.7M1411.5 952.7L1422.2 960.1L1431.6 969.1L1443.2 974.9L1454.1 982M1364.2 949.3L1365.3 955.8L1364.9 962.3L1365.2 968.8L1368.9 974.2M1408.2 993.8L1410.5 1004.1L1414.2 1014L1419.9 1022.9L1425.9 1031.6M1397.8 904.8L1404.5 917.4L1415.5 926.5L1427.5 934.2L1437.3 944.6M1405.8 1044.4L1403.6 1053.3L1401.8 1062.3L1402.4 1071.5L1402 1080.7M1434.8 974.9L1437.6 986.5L1438.4 998.3L1439.5 1010.1L1442.8 1021.5M1385.9 989.9L1389.7 995L1393.1 1000.4L1397.4 1005L1401 1010.2M1399.8 981.9L1397.6 990.3L1395.2 998.6L1390.9 1006.1L1386.3 1013.4M1319.6 924.2L1321.6 932.2L1322.1 940.4L1324.8 948.2L1327.7 955.9M1389.3 1057.5L1387.4 1074L1384.2 1090.3L1383.3 1107L1386 1123.4M1350.1 925.3L1353.3 937.6L1356 950.1L1359.6 962.4L1359.4 975.2M1396.9 1043.1L1398.7 1052.4L1401.6 1061.4L1400.2 1070.7L1397.8 1079.9M1456.7 1080.8L1455.6 1095.4L1448.6 1108.2L1445.1 1122.4L1438.8 1135.6M1417.1 1084.4L1423.9 1090.1L1430 1096.5L1437.2 1101.6L1445.6 1104.5M1439.2 969.1L1445.4 980.1L1455.9 987.2L1464.5 996.4L1474.1 1004.6M1326.7 999.4L1325.7 1012.8L1330.3 1025.3L1334.8 1037.9L1341.1 1049.7M1346.6 999.3L1349.1 1013.6L1352.2 1027.7L1353.8 1042.1L1356.5 1056.3M1359 947.1L1356.2 955.3L1354.2 963.7L1354 972.3L1351.9 980.7M1400.9 1075.9L1405.8 1082L1412.9 1085.2L1419.2 1089.7L1423.8 1096M1369.7 1059L1380.5 1069.8L1388.8 1082.6L1394.4 1096.8L1406.1 1106.6M1367 943.5L1365.7 950.5L1366.1 957.6L1367.5 964.5L1370.6 970.9M1400.1 918.7L1404 928L1406.3 937.9L1408.2 947.8L1412 957.2M1393.4 929.7L1390 938.2L1390.5 947.4L1389.8 956.6L1385.4 964.7M1336.9 920.6L1339.5 931.1L1342.5 941.5L1345.9 951.7L1350.1 961.7M1421.9 937.1L1422.6 950.4L1424.9 963.6L1425.3 977L1427.6 990.2M1348.4 952.1L1348.5 960.9L1346.1 969.4L1343.6 977.8L1345.1 986.5M1362.7 971.3L1368.9 979.3L1373.1 988.6L1380.5 995.5L1387.8 1002.5M1398.5 958.3L1409.5 965.4L1421.4 970.8L1434.3 972.2L1447.3 973.5M1397.8 1059.7L1401.6 1068L1406.7 1075.6L1413 1082.2L1420.1 1088M1341.4 1004.9L1349.5 1014.4L1355.5 1025.3L1359.4 1037.1L1364.5 1048.5M1342.9 998.2L1337.6 1007.2L1331.5 1015.6L1323.3 1021.9L1313.6 1025.7M1452.5 1113.3L1454.8 1121.6L1457 1130L1459.7 1138.2L1456.9 1146.4" stroke="#e040e0" stroke-width="1.3" fill="none" opacity="0.75"/>
<path d="M1501.5 746.5L1497.6 756L1493.5 765.4L1490.4 775.2L1486.7 784.8M1473.3 914.7L1483.6 923.7L1489.6 936L1498.2 946.7L1511.7 949.5M1492.7 969.6L1492.2 985.9L1492.9 1002.1L1495 1018.3L1492.8 1034.5M1576.4 794.1L1574.3 801.6L1571.3 808.8L1568.8 816.1L1564.4 822.5M1498.9 947.6L1506 951.5L1512.6 956.1L1519.5 960.3L1526 965.1M1549.3 697.8L1559.4 703.2L1570.1 707.3L1581.1 704L1592.4 702.3M1582.4 729.7L1590.4 734.1L1596.5 740.9L1603.4 747L1611.5 751.3M1584.3 699.2L1575.2 700.6L1566.5 703.8L1557.7 706.4L1549.4 710.5M1534.7 759.8L1534.1 766.1L1535.4 772.3L1536.4 778.6L1537.4 784.9M1624.7 707.1L1627.1 714.7L1627.8 722.7L1628.6 730.7L1626.7 738.6M1567.2 819.3L1573.1 829.8L1578.7 840.5L1581.3 852.2L1585 863.7M1593.1 735.2L1589.4 743.9L1586.2 752.8L1587.4 762.2L1585.8 771.5M1501.1 778.9L1516.4 780.5L1531 785L1545.9 788.9L1561.3 788.8M1487.4 865.6L1497.5 869.3L1507.7 872.4L1517.4 877L1526.6 882.4M1478.9 850L1482.4 858.4L1488.5 865.3L1495 871.8L1502.7 877M1515.8 870.8L1501.1 880L1486.9 890.1L1470 893.9L1453.5 899.4M1521.4 761.3L1520.8 778.5L1513.6 794.1L1505.7 809.4L1498.6 825.1M1505.7 783.4L1518.5 792.1L1527 805L1531.7 819.7L1536.6 834.4M1515.3 758.6L1516.1 767.2L1514.4 775.8L1515.4 784.5L1517.2 793M1533.5 868.4L1532.3 879.3L1531.9 890.3L1535.3 900.8L1540.1 910.7M1502.4 941.3L1506.6 949.2L1510.7 957.3L1512.5 966.1L1515.5 974.6M1497.6 863.8L1507.7 866.2L1517 870.8L1523.8 878.7L1531.3 885.9M1533.1 825L1537.5 837.5L1539.5 850.6L1541.2 863.8L1541.1 877M1572.7 748.4L1569.9 754.4L1565.7 759.5L1561.4 764.4L1557.2 769.5M1562.6 806L1564.5 822.8L1565.4 839.6L1569.7 856L1574.2 872.3M1492.1 871L1498.7 881.9L1506.2 892.1L1510.6 904.1L1508.5 916.7M1506.6 758.5L1512.7 767L1519.1 775.4L1525.2 784L1530.2 793.3M1485.1 860L1497 865.5L1510.1 864.3L1523.2 865.2L1536 862.5M1507.3 992.8L1512.1 1000.1L1515.4 1008.2L1515.8 1016.9L1512 1024.7M1520 830L1525 835.4L1531.6 838.5L1538.2 841.5L1545.4 842.8M1524.6 772.8L1531.9 775.7L1539.3 778L1546.5 781.1L1554.1 783M1538.7 715.2L1540.6 729.8L1540.8 744.6L1544.8 758.8L1548.8 773M1568.4 813.8L1567 827.7L1567.5 841.6L1566.7 855.6L1562.5 868.9M1512.2 708.2L1513.5 714.5L1515.6 720.6L1518.3 726.4L1521.3 732.1M1539.3 858.1L1544.2 871.5L1551 884.1L1562.8 892.1L1576.4 896.6M1494 991L1504.2 999.4L1513 1009.3L1521.4 1019.5L1523.9 1032.5M1486.9 722.6L1501.2 732.2L1515 742.4L1531.5 746.9L1548.4 750.1M1506.8 800.9L1513.2 811.8L1514.6 824.2L1518 836.3L1522.4 848M1503.1 704.6L1516.4 713.6L1531.3 719.8L1546.1 726.1L1560.6 733.1M1488.5 726.1L1488.9 733.6L1490 740.9L1494.1 747.2L1497.5 753.8M1576.3 800.9L1582.2 807.7L1587.7 814.8L1595 820.1L1603.2 823.7M1557.6 707.4L1559.2 715.6L1560.5 723.9L1563.9 731.5L1565.7 739.6M1473.9 848.7L1473.4 857.7L1468.2 865.1L1459.6 867.8L1450.6 866.9M1488.7 940.3L1492 949.5L1495.7 958.5L1499.7 967.3L1503.4 976.3M1503.4 800L1504.9 816.2L1504.1 832.3L1509.6 847.6L1507.3 863.6M1512.3 877.7L1523.6 881.4L1535.5 882L1547.4 880.8L1559.3 882M1578.8 757.7L1579.8 767.3L1583.3 776.3L1585.4 785.7L1588.7 794.8M1587.1 775.4L1579.2 785.3L1570.6 794.7L1562.8 804.7L1552 811.3M1487.3 831.6L1501.6 838.1L1515 846.4L1527.7 855.6L1534.6 869.7M1574.2 751.6L1581.1 757.9L1588.6 763.2L1597.4 766.4L1605.8 770.4M1510.9 735.7L1518.5 745.1L1527.3 753.4L1534.6 763.1L1539.7 774.1M1473.8 916.6L1473.4 931.4L1474.4 946.1L1474.5 960.9L1476.2 975.6M1623 703.6L1637.8 707.6L1648.7 718.6L1660.9 728.1L1672.3 738.5M1491.3 808.3L1498.7 820.2L1510.2 828.1L1523.2 833.3L1537.1 832M1473.5 819.5L1463 832.7L1454.4 847.1L1443.2 859.8L1435 874.5M1537.2 754.3L1541.4 759.5L1546.5 763.7L1552.7 766.2L1559.3 766.9M1506.3 853.8L1505.2 867L1499.8 879.1L1496.8 891.9L1494.4 904.9M1558.5 753.4L1560.8 766.4L1565.6 778.6L1570.3 790.8L1576.3 802.6M1483.3 985.3L1494.4 984.6L1505.5 983.2L1516.2 986.3L1527.3 987.5M1543.7 763.3L1547.9 771.6L1550.8 780.3L1552.6 789.4L1552.8 798.7M1479.8 862.9L1478.9 869.4L1480 875.8L1482.6 881.8L1486.6 887M1604.4 736.8L1607.6 742.5L1611.9 747.3L1616.9 751.6L1623 753.7M1507.5 987.2L1519.6 994.4L1529.6 1004.4L1538.2 1015.5L1545 1027.9M1502.3 817.2L1507.3 830.9L1512 844.7L1509.1 859.1L1505.5 873.2M1518.9 744.1L1529.8 746.6L1538.9 740.2L1548.5 734.6L1556.7 727.1M1578.8 804.6L1582.9 814L1585.7 823.8L1585.9 834L1584.6 844.2M1514.6 886L1526.4 893.8L1537.8 902.1L1548.4 911.5L1561 917.9M1499.9 891.7L1495.4 901.8L1492.9 912.6L1488.5 922.7L1486.8 933.7M1559.8 784.4L1566.5 789.1L1573.2 793.8L1579.1 799.4L1585.4 804.7M1489.2 816.7L1491 827.8L1495.3 838.2L1497.4 849.3L1497.5 860.6M1562.8 714.5L1562.9 731.8L1564.3 749.1L1560.2 765.9L1554.6 782.3M1503.8 762.5L1510.5 770.2L1519.2 775.6L1529 778.2L1538.9 781M1574.9 800.4L1576.5 808.8L1576 817.4L1574.8 825.9L1569.9 832.9M1491.7 842.4L1499 846.7L1504.6 853.2L1510.3 859.4L1517.5 864M1499 847.1L1495.5 861.8L1491.5 876.4L1481.6 887.8L1483.5 902.7M1524.4 752.2L1522.6 760L1519.8 767.6L1514.9 774.1L1508.9 779.5M1501.7 842.1L1515.3 849.4L1526.4 860.2L1537.2 871.2L1548.2 882.1M1580 751.8L1588.6 762.8L1592.4 776.3L1596.3 789.8L1600.2 803.2M1551.6 853.7L1560.1 867.8L1569 881.5L1578.9 894.7L1586.2 909.4M1535.8 737.4L1539.4 750.2L1537.6 763.3L1533.1 775.7L1527.9 787.9" stroke="#20d0d0" stroke-width="1.2" fill="none" opacity="0.7"/>
<path d="M1610.6 809.2L1620.4 807.3L1630.1 805.1L1640.1 804.8L1650 805.2M1739.9 736.4L1752.6 743.6L1761.5 755.1L1768.6 767.8L1773.6 781.5M1676.5 810.3L1675.2 816.8L1672.8 823L1670.6 829.2L1667.8 835.3M1746.8 724.8L1754.6 734.3L1762.3 743.9L1773.5 748.9L1785.8 748.4M1624.1 774.4L1631.2 771.1L1637.3 766.3L1642.2 760.3L1645.9 753.4M1619.4 805.4L1624.9 813.4L1628.5 822.4L1632.2 831.4L1636.7 840M1679.1 812.5L1686.3 823.4L1692.9 834.7L1697.6 846.8L1698 859.8M1646.8 776.7L1656.1 784.8L1664 794.4L1673.8 801.9L1684.1 808.8M1589.5 838.1L1592.8 832.1L1598.1 827.6L1603.9 824L1609.2 819.6M1724.4 709.1L1735 709.4L1745.5 708.2L1754.4 702.5L1764.8 700.8M1678.7 767.9L1686.1 779L1689.1 792L1688.1 805.3L1686.7 818.5M1693.9 757.7L1701.4 758L1708.9 757.8L1716.2 759.6L1723.7 758.9M1643.6 742.6L1656.3 746.5L1668.9 751.1L1677.6 761.2L1686.1 771.4M1740.7 775L1750.5 778.1L1760.6 780.4L1770.9 780.2L1780.9 782.6M1774.7 780.8L1779.9 786.9L1785.6 792.6L1789.8 799.5L1793.5 806.7M1755.5 790.6L1760.6 802.7L1766 814.6L1768.2 827.5L1768.1 840.6M1700 799.4L1709.2 798L1717.7 794.1L1725.3 788.6L1733.2 783.8M1752 771L1759.4 777.1L1768.3 780.6L1777.5 783.5L1786.9 781.5M1592.3 831.5L1600.3 840.5L1611.2 846L1622.2 850.8L1634.3 850.6M1662.7 794.9L1668.3 792.1L1674.3 790.3L1680.6 789.5L1686.3 786.9M1612.5 794.4L1620.5 794.3L1628.5 794.8L1636.6 795.1L1643.8 791.5M1655.2 772.1L1661.3 777.2L1667.4 782.2L1672.4 788.4L1676.6 795.1M1746.1 762.7L1749.1 769.8L1751.6 777L1753.3 784.5L1758.1 790.5M1665.1 713.9L1678.2 717.4L1691.2 721.2L1703.7 726.4L1714.7 734.2M1741.2 713.4L1752.6 722.3L1766.1 727.5L1780.1 731.2L1794.1 734.8M1678.2 716.9L1690.3 720.4L1702.9 721.1L1715.5 721.8L1728 719.9M1717.3 737.5L1719.7 747.8L1725.3 756.9L1729.4 766.6L1736.3 774.8M1718.7 712L1727 713.1L1734.6 716.6L1743 716.4L1751.3 715.6M1769.6 745.4L1780.1 744.6L1790.4 742.3L1799.5 747.6L1805.3 756.4M1765.4 782L1777.4 786.4L1790 788.4L1802.7 786.7L1815.5 787.1M1772.7 765.3L1786.2 769.8L1800.4 771L1813.6 765.7L1827.6 763M1622.5 749.8L1631.9 751.5L1641.1 749.3L1650.6 750.3L1660.1 749.6M1646.1 752.1L1654.9 763.1L1667.1 770.4L1680.3 775.5L1693.6 780.4M1616.9 803.5L1623.7 809.9L1630.9 815.9L1637 823L1643.1 830.1M1635.6 732.4L1645.7 736.6L1655 742.4L1661.2 751.5L1668.3 759.8M1628.6 829.2L1631.3 837.2L1635.1 844.6L1641.6 849.8L1649.9 851.1M1641.9 755.5L1647.3 743L1651.6 730L1659 718.5L1670 710.4M1603.7 830.8L1612.8 833.4L1620.6 838.6L1625.3 846.7L1631.1 854.2M1644.8 808.7L1658.6 813.5L1672.1 819.4L1686.3 823.4L1700.4 827.4M1631.4 798.5L1642.7 795.7L1654.1 792.9L1665.1 788.8L1675.7 784" stroke="#10a0a0" stroke-width="1.1" fill="none" opacity="0.6"/>
<polygon points="1352,843 1400,855 1450,868 1490,880 1530,887 1570,893 1570,905 1530,903 1490,897 1450,890 1400,875 1360,860" fill="#ffffff" opacity="0.6" filter="url(#blur3)"/>
<polyline points="1570,900 1620,915 1685,940" fill="none" stroke="#fff" stroke-width="6" opacity="0.3" filter="url(#blur3)"/>
</g>
</g>
</g>
<rect x="1679" y="1112" width="95.7" height="5.5" fill="#fff"/>
<text x="1056.5" y="680.7" font-size="31" text-anchor="middle" fill="#1a1a1a">Control</text>
<text x="1550.6" y="682" font-size="31" text-anchor="middle" fill="#1a1a1a">TGFβ1</text>
<circle cx="789.5" cy="1108.4" r="11.5" fill="#00bec4"/>
<circle cx="789.5" cy="973.3" r="11.5" fill="#d4008c"/>
<ellipse cx="789.5" cy="812.6" rx="11.2" ry="12.2" fill="#878787"/>
<text transform="translate(799 1046.5) rotate(-90)" font-size="33" text-anchor="middle" fill="#111" textLength="91" lengthAdjust="spacingAndGlyphs">αSMA</text>
<text transform="translate(799 897.1) rotate(-90)" font-size="33" text-anchor="middle" fill="#111" textLength="104.7" lengthAdjust="spacingAndGlyphs">POSTN</text>
<text transform="translate(799 750.4) rotate(-90)" font-size="33" text-anchor="middle" fill="#111" textLength="72.7" lengthAdjust="spacingAndGlyphs">DAPI</text>
<path d="M864.5 1266.2V1546.2" stroke="#111" stroke-width="2.9" fill="none"/>
<path d="M853.5 1546.2H1258.6" stroke="#111" stroke-width="2.9" fill="none"/>
<path d="M853.5 1453.2H864.5" stroke="#111" stroke-width="2.4" fill="none"/>
<path d="M853.5 1360.2H864.5" stroke="#111" stroke-width="2.4" fill="none"/>
<path d="M853.5 1267.2H864.5" stroke="#111" stroke-width="2.4" fill="none"/>
<text x="850.5" y="1552.4" font-size="17.5" font-weight="bold" text-anchor="end" fill="#111">0</text>
<text x="850.5" y="1459.4" font-size="17.5" font-weight="bold" text-anchor="end" fill="#111">10</text>
<text x="850.5" y="1366.4" font-size="17.5" font-weight="bold" text-anchor="end" fill="#111">20</text>
<text x="850.5" y="1273.4" font-size="17.5" font-weight="bold" text-anchor="end" fill="#111">30</text>
<rect x="923" y="1497.5" width="107.8" height="48.7" fill="#a5a5a9" stroke="#111" stroke-width="3.6"/>
<path d="M976.9 1546.2V1557.7" stroke="#111" stroke-width="2.4" fill="none"/>
<rect x="1091.2" y="1367.7" width="107.3" height="178.5" fill="url(#dots)" stroke="#111" stroke-width="3.6"/>
<path d="M1144.8 1546.2V1557.7" stroke="#111" stroke-width="2.4" fill="none"/>
<path d="M976.7 1491.7V1491.7M949.5 1491.7h54.4M949.5 1491.7h54.4" stroke="#111" stroke-width="2.4" fill="none"/>
<path d="M1144.9 1337.3V1393.6M1116.9 1337.3h56M1116.9 1393.6h56" stroke="#111" stroke-width="2.4" fill="none"/>
<circle cx="956" cy="1500.7" r="5.2" fill="#111"/>
<circle cx="976.7" cy="1491.7" r="5.2" fill="#111"/>
<circle cx="997.8" cy="1491.7" r="5.2" fill="#111"/>
<rect x="1140.1" y="1322.2" width="9.6" height="9.6" fill="#111"/>
<rect x="1140.1" y="1344.9" width="9.6" height="9.6" fill="#111"/>
<rect x="1140.1" y="1415" width="9.6" height="9.6" fill="#111"/>
<path d="M977 1288H1145" stroke="#111" stroke-width="3" fill="none"/>
<text x="1061" y="1289.5" font-size="30" font-weight="bold" text-anchor="middle" fill="#111">*</text>
<text transform="translate(777 1406) rotate(-90)" font-size="29.3" font-weight="bold" text-anchor="middle" fill="#111">Fold change in</text>
<text transform="translate(813.5 1406) rotate(-90)" font-size="29" font-weight="bold" text-anchor="middle" fill="#111">αSMA:DAPI area</text>
<text transform="translate(986 1583) rotate(-45)" font-size="29.5" font-weight="bold" text-anchor="end" fill="#111">Control</text>
<text transform="translate(1152 1586) rotate(-45)" font-size="29.5" font-weight="bold" text-anchor="end" fill="#111">TGFβ1</text>
<path d="M1453.2 1266.7V1546" stroke="#111" stroke-width="2.9" fill="none"/>
<path d="M1442.2 1546H1847" stroke="#111" stroke-width="2.9" fill="none"/>
<path d="M1442.2 1453.2H1453.2" stroke="#111" stroke-width="2.4" fill="none"/>
<path d="M1442.2 1360.5H1453.2" stroke="#111" stroke-width="2.4" fill="none"/>
<path d="M1442.2 1267.7H1453.2" stroke="#111" stroke-width="2.4" fill="none"/>
<text x="1439.2" y="1552.2" font-size="17.5" font-weight="bold" text-anchor="end" fill="#111">0</text>
<text x="1439.2" y="1459.4" font-size="17.5" font-weight="bold" text-anchor="end" fill="#111">10</text>
<text x="1439.2" y="1366.7" font-size="17.5" font-weight="bold" text-anchor="end" fill="#111">20</text>
<text x="1439.2" y="1273.9" font-size="17.5" font-weight="bold" text-anchor="end" fill="#111">30</text>
<rect x="1512" y="1493.7" width="106.5" height="52.3" fill="#a5a5a9" stroke="#111" stroke-width="3.6"/>
<path d="M1565.2 1546V1557.5" stroke="#111" stroke-width="2.4" fill="none"/>
<rect x="1681" y="1357.8" width="106.5" height="188.2" fill="url(#dots)" stroke="#111" stroke-width="3.6"/>
<path d="M1734.2 1546V1557.5" stroke="#111" stroke-width="2.4" fill="none"/>
<path d="M1565.6 1482.3V1499.3M1538.2 1482.3h54.8M1538.2 1499.3h54.8" stroke="#111" stroke-width="2.4" fill="none"/>
<path d="M1734.2 1339.5V1371M1706.7 1339.5h55M1706.7 1371h55" stroke="#111" stroke-width="2.4" fill="none"/>
<circle cx="1555" cy="1482.3" r="5.2" fill="#111"/>
<circle cx="1576.2" cy="1482.3" r="5.2" fill="#111"/>
<circle cx="1565.6" cy="1508" r="5.2" fill="#111"/>
<rect x="1718.8" y="1329" width="9.6" height="9.6" fill="#111"/>
<rect x="1740.1" y="1340.7" width="9.6" height="9.6" fill="#111"/>
<rect x="1729.4" y="1380.2" width="9.6" height="9.6" fill="#111"/>
<path d="M1555.7 1291.4H1736" stroke="#111" stroke-width="3" fill="none"/>
<text x="1645.8" y="1296.9" font-size="30" font-weight="bold" text-anchor="middle" fill="#111" letter-spacing="3">**</text>
<text transform="translate(1366 1406) rotate(-90)" font-size="29.3" font-weight="bold" text-anchor="middle" fill="#111">Fold change in</text>
<text transform="translate(1402.4 1406) rotate(-90)" font-size="29" font-weight="bold" text-anchor="middle" fill="#111">POSTN:DAPI area</text>
<text transform="translate(1577 1585) rotate(-45)" font-size="29.5" font-weight="bold" text-anchor="end" fill="#111">Control</text>
<text transform="translate(1743 1584) rotate(-45)" font-size="29.5" font-weight="bold" text-anchor="end" fill="#111">TGFβ1</text>
<path d="M143.8 1952.1h0M128.1 1916.5h0M138.7 1931h0M145.7 1900.8h0M132.3 1917.4h0M127 1928.1h0M143.9 1902.1h0M124.9 1929.8h0M129.8 1926.8h0M134.2 1931.4h0M142.4 1951.3h0M148 1943h0M126.3 1933.5h0M135.3 1914.5h0M146.5 1923.8h0M132.1 1934.5h0M128.4 1932.9h0M133.9 1924h0M145.4 1937.3h0M138.7 1907.7h0M147.6 1906.4h0M133.2 1914.4h0M150.2 1904.4h0M150.1 1951.8h0M134.4 1932.4h0M146.4 1899h0M148.4 1953.1h0M128.1 1933.2h0M143.7 1917.6h0M134.8 1916.1h0M141.9 1914.4h0M147.8 1932.8h0M144.1 1923h0M137.3 1934.4h0M137.9 1918.4h0M140.2 1918.1h0M144 1918.1h0M144 1938.2h0M146.4 1913.4h0M143.1 1924.6h0M137.9 1936.6h0M148.2 1907.7h0M137.9 1912.9h0M131.1 1919.8h0M144.7 1942.8h0M144.2 1923.2h0M146.3 1941.9h0M148.5 1934.8h0" stroke="#0b2e8d" stroke-width="1.1" stroke-linecap="round" fill="none"/>
<path d="M184.6 1907.3h0M183.7 1895.4h0M178.4 1938.5h0M165.2 1931.9h0M173.2 1920.1h0M178.2 1922.1h0M183.5 1932.5h0M190.1 1957.9h0M150.6 1944.1h0M165.6 1943h0M160.8 1894.2h0M169.1 1908.4h0M155 1912.6h0M174.4 1900.8h0M187.1 1955.9h0M175.1 1941.4h0M188.1 1911.2h0M188.7 1916h0M183.3 1905.7h0M169.3 1954.1h0M190 1888.5h0M154.3 1952.8h0M170.7 1914.5h0M184.4 1938.2h0M161.2 1953.1h0M187.1 1939.4h0M186.1 1922.4h0M172.2 1906.2h0M153.6 1953.5h0M178.7 1907.3h0M170.3 1932.1h0M183 1954.8h0M170.3 1944.7h0M161.5 1914.8h0M171 1898.3h0M164.2 1947.4h0M157.3 1921.4h0M176.4 1944.9h0M157.7 1901.2h0M170.2 1910.9h0M178.5 1972.3h0M168.4 1897.3h0M187.6 1888.8h0M190.3 1906.2h0M156.4 1918.9h0M159.8 1945.9h0M173 1952.2h0M166.3 1936.6h0M188 1973.7h0M166.2 1944.6h0M174.8 1941.3h0M174.9 1947.3h0M175.6 1921.3h0M182.8 1910.2h0M188.6 1929.3h0M182 1889.4h0M168.5 1965.6h0M184 1929.6h0M170.7 1946.1h0M169 1908.7h0M183.7 1954.4h0M164.2 1948.1h0M168.2 1903.1h0M177.3 1933.4h0M167.9 1918.2h0M178.8 1934.7h0M178.6 1905.8h0M163.2 1916.4h0M150.5 1895h0M188.2 1895.4h0M172.6 1959.1h0M188.7 1892.4h0M153.1 1943.2h0M186.5 1949.5h0M166.9 1961.5h0M170.7 1963.1h0M177.1 1906.8h0M168.9 1969.4h0M175 1952.2h0M160.5 1916.6h0M175.1 1903.8h0M169.1 1911.6h0M156 1962.4h0M175.7 1949.6h0M159.4 1896.8h0M170.4 1897.5h0M178.5 1959.4h0M159.5 1928h0M171 1955.9h0M157.4 1961.4h0M154.3 1905.4h0M171.5 1962.2h0M162.5 1914h0M176 1970.4h0M179.3 1952.4h0M182.4 1973.8h0M161.2 1898h0M176.9 1958h0M161.6 1909.8h0M166.3 1937.1h0M165 1912.7h0M180.8 1960.2h0M188.1 1958.3h0M155.7 1950.3h0M188.2 1908.5h0M188.6 1952.8h0M185.3 1938.7h0M152.4 1926.5h0M174.4 1951.5h0M169.2 1903.4h0M168.9 1917.7h0M175.4 1889.6h0M152.1 1902.3h0M164.2 1962.7h0M165.1 1950.4h0M164.4 1895.3h0M169.8 1948.5h0M189.9 1962.6h0M181.3 1892.3h0M186.9 1908.7h0M166.9 1933.2h0M162.3 1894h0M171.8 1948.8h0M173.4 1947.6h0M180.7 1910.8h0" stroke="#0c5caa" stroke-width="1.1" stroke-linecap="round" fill="none"/>
<path d="M200.2 1931.3h0M221 1934.6h0M194.3 1890.8h0M219.3 1906.9h0M229.1 1944.8h0M217.7 1904.6h0M214.6 1959.3h0M193.7 1956.1h0M223.3 1903.8h0M210.2 1982.1h0M190.8 1945.5h0M217.3 1921h0M206 1950.7h0M230 1932.5h0M216.9 1931.7h0M213.5 1931.3h0M224.6 1962.5h0M229.8 1943.4h0M226 1914.4h0M206.3 1978.2h0M201.3 1968.1h0M194.1 1909.4h0M202.7 1896.5h0M209.3 1970.3h0M217 1962.1h0M196.2 1934.2h0M212.2 1979.5h0M215.2 1928.2h0M201.4 1927.7h0M222.1 1955.5h0M199.9 1979.1h0M199.2 1958.9h0M204.2 1968.8h0M207.9 1951.4h0M223 1979.2h0M190.4 1891.8h0M213.1 1929.6h0M208.5 1904.3h0M205.8 1909.7h0M208.1 1907.7h0M219.1 1965.2h0M220.3 1967.3h0M213.7 1959h0M221.9 1943.9h0M198.5 1930.5h0M220.1 1917.4h0M205.4 1902.7h0M205.7 1948.5h0M211.4 1935.8h0M199.4 1901.2h0M209.2 1932.8h0M220.9 1973.5h0M205.6 1905.4h0M217.4 1973.2h0M196.9 1958.6h0M201.7 1899.9h0M217.1 1957.1h0M230 1919.8h0M221.8 1919.8h0M216.6 1958.2h0M202.1 1909h0M194.4 1963.3h0M212.4 1956.2h0M203.8 1941.4h0M193.2 1982.5h0M212.1 1964.2h0M195.8 1952.4h0M227.9 1958.2h0M217.9 1962.3h0M225.8 1972h0M200.1 1898.4h0M223.8 1910.1h0M205.9 1913.2h0M207.6 1924.8h0M211 1942.7h0M200.4 1946.8h0M214.6 1946.8h0M194.4 1941.6h0M198.9 1967.7h0M193.2 1964.8h0M193.6 1902h0M210.4 1936.4h0M203.7 1948.8h0M219.2 1958.4h0M199.4 1930.8h0M190.8 1919.9h0M228.3 1917.3h0M204.1 1906.7h0M202.1 1928.4h0M212.4 1936.2h0M195.3 1966.2h0M207 1931.4h0M205.5 1960.2h0M205.1 1979.2h0M199.1 1910.9h0M197.5 1957.5h0M218.8 1970.1h0M208.2 1934.7h0M209.5 1924.8h0M208.3 1966.5h0M199.1 1914.9h0M208.3 1967.6h0M199.9 1964.8h0M220.4 1901.1h0M192.8 1938.7h0M226 1967.6h0M198.6 1900.7h0M226.6 1957.7h0M211.6 1908.1h0M218.2 1902.4h0M197.9 1981h0M229.7 1974h0M200.3 1946.2h0M192.9 1919.9h0M196.8 1923.3h0M215.7 1906.2h0M224.5 1949h0M206.3 1915.1h0M197.9 1957.6h0M200 1975.6h0M210.9 1910.2h0M214.1 1925.8h0M201.2 1946.1h0M205 1909.8h0M207.1 1926.6h0M204.5 1982h0M226.9 1932.5h0M194.4 1972.3h0M205.5 1978.5h0M210.6 1950.5h0M225.8 1931.5h0M227.2 1943.3h0M222.5 1929.8h0M201.3 1928.2h0M211.3 1923.7h0M214.2 1980.3h0M222 1959.2h0M230.1 1963.1h0M209 1910.2h0M219.5 1926.1h0M217.8 1975.2h0M217.4 1921.5h0" stroke="#1196cc" stroke-width="1.1" stroke-linecap="round" fill="none"/>
<path d="M234.8 1971.7h0M239.4 1942.3h0M230.9 1961h0M236.9 1930.1h0M236.2 1953.6h0M235.1 1971.3h0M235.8 1937.2h0M235.8 1936.9h0M235.4 1935.6h0M231.5 1934.7h0M231 1960.2h0M239.8 1960.7h0M231.3 1965.3h0M240.4 1948.7h0M235.8 1946.2h0M197.1 2003.5h0M198.2 2025.4h0M193.4 2001.8h0M203.1 2010.6h0M205.8 2015.1h0M204.1 1997.8h0M198.1 2023.8h0M205.8 2027h0" stroke="#10d7ef" stroke-width="1.1" stroke-linecap="round" fill="none"/>
<path d="M207.7 2004.6h0M241.1 2055.8h0M217.4 2032h0M234.7 2004.8h0M230.6 1993.9h0M239.4 2025.9h0M238 2044h0M232.7 1992.8h0M222.3 2030.4h0M241.3 1981h0M215.6 2012h0M208.8 1994.8h0M210.2 2012.3h0M213.4 2021.9h0M244.5 2032.4h0M228.3 2039.1h0M213.3 1997.5h0M216.4 1997.5h0M225.3 2014.2h0M243.1 2010.3h0M218.4 2001.6h0M209.8 2030h0M211.5 2009.6h0M233.6 1983.6h0M239.1 2012.6h0M233.6 1985.6h0M219.1 1987h0" stroke="#30f2d8" stroke-width="1.1" stroke-linecap="round" fill="none"/>
<path d="M261.4 2056.3h0M278 2073.8h0M254.9 1999.9h0M286.8 2068h0M287.3 2018.9h0M285.7 2015.5h0M258 2014.6h0M284.2 2042.8h0M252.1 2048h0M283.6 2055.9h0M284.1 2042.2h0M284.7 2003h0M251.8 2064.1h0M248.9 2015.8h0M257.2 2032.3h0M274.1 2003.7h0M282.8 2044.8h0M276.1 2047h0M285.5 2058.8h0M286.7 2038.4h0M263.7 2045.1h0M268.3 2039.6h0M286.7 2038.6h0M260.4 2016.9h0M250.1 2041.7h0M251.4 2025.3h0M258.5 2021.7h0M275.7 2005.7h0M263.5 2004.8h0M261.9 2037.1h0M284.6 2009.6h0M250.5 2020.8h0M271.9 2042.8h0M262.3 2022.8h0M260.2 2039.3h0M263.3 2050.2h0M271 2060.2h0M278.1 2013.1h0M260.8 2000h0M288.7 2073.6h0M282.2 2005.6h0M269.8 2020.4h0M256.8 2037.8h0M257.6 2058.9h0" stroke="#6fe891" stroke-width="1.1" stroke-linecap="round" fill="none"/>
<path d="M321.1 2068.4h0M314.1 2030.3h0M308.1 2037.2h0M298.8 2036.3h0M330.1 2068.6h0M293.1 2056.6h0M327 2055.7h0M315 2062.7h0M316.3 2072.4h0M317 2043.2h0M294.3 2041h0M304 2018h0M309.5 2034.8h0M322.8 2022.6h0M293.6 2060.7h0M292.4 2020.8h0M291 2075.2h0M302.7 2059.4h0M292.7 2056.5h0M327.2 2070.1h0M317.3 2011.7h0M313 2040.1h0M300.3 2022.5h0M315.7 2023.2h0M330.6 2030.5h0M298.8 2020.5h0M320 2058.6h0M308.4 2021.9h0M296.3 2042.8h0M322.6 2047.7h0M294.4 2038.6h0M309.8 2021.1h0M292.9 2024.1h0M301.4 2063.4h0M300 2062.7h0M306.6 2054.3h0M304.5 2015.6h0M296.9 2075.7h0M321.6 2049.6h0M327.1 2024h0M331.4 2022.9h0M301.9 2030.6h0M330.6 2019.4h0M291.1 2019.5h0M297.7 2022.6h0M297.1 2076.2h0M292.8 2007h0M320.1 2030h0M309.8 2023.2h0M306.3 2070.1h0M299.1 2064.3h0" stroke="#ade057" stroke-width="1.1" stroke-linecap="round" fill="none"/>
<path d="M348.6 2017.2h0M335.2 2034.1h0M372 2046.2h0M357.5 2016.1h0M346.7 2011.9h0M362.3 2029.1h0M333.6 2011.6h0M350.5 2049.6h0M364.6 2058.3h0M341.4 2063.5h0M347.2 2037.4h0M344.1 2062.4h0M348.5 2012.2h0M340.3 2065.2h0M358.5 2014h0M360.9 2049.7h0M341.3 2020.3h0M362.7 2057h0M368.4 2059.1h0M339.8 2069.5h0M362.5 2039.3h0M336.3 2016.4h0M338.6 2055.5h0M366.6 2044.1h0" stroke="#e4e020" stroke-width="1.1" stroke-linecap="round" fill="none"/>
<path d="M376.9 2024.2h0M380.8 2028.7h0M385.9 2033.9h0M378.3 2021.8h0M382.2 2021.5h0M380.8 2022.1h0M414.8 2037.7h0M440.3 2034.5h0M435.1 1983.9h0M425.6 2047.6h0M436.6 2019h0M438.2 1945.8h0M421.8 2019.9h0M427.8 1945.7h0M413.7 2030.6h0M424 2008.7h0M438.9 2025.9h0M417.3 2019.8h0M428.3 2057.5h0M416.2 2047.7h0M416 2037.9h0M423 2023.1h0M412.2 2028.6h0M422.6 2053h0M434.5 2006.1h0M422.5 2030.1h0M438.4 2037.3h0M425.7 2011h0M418.9 2022.7h0M436.4 1977.8h0M429.6 2029.3h0M428.1 2070.8h0M414.7 2025.7h0M443.5 1949.2h0" stroke="#ffcb00" stroke-width="1.1" stroke-linecap="round" fill="none"/>
<path d="M438.2 1970.8h0M432 1964.9h0M450 1991.2h0M445.4 1965.7h0M457.1 1932.3h0M447 2031.8h0M459 1943.9h0M471.9 1922.5h0M475.1 2051.7h0M437.9 1979.9h0M437 2004.4h0M450.3 2006.5h0M471 2036h0M422.8 2017.1h0M447.4 2051.7h0M433.9 1945.1h0M461.4 2015.7h0M434.5 2027.4h0M462.4 1937h0M436.5 1967.5h0M437.8 1987.9h0M463.5 2060.8h0M464.4 2061.5h0M438.4 2058.1h0M437.4 2030.6h0M432.4 1981.6h0M471.3 2032.3h0M449.7 1942.9h0M452.7 1995.9h0M419.4 2032.6h0M449.4 1951.4h0M440.4 2042.4h0M461.4 2038h0M444.5 1944.2h0M454.2 1925.1h0M441.9 1969.7h0M447.8 1926.8h0M450.2 1950.1h0M443.4 1980.1h0M448.9 2029.5h0M471.7 1946h0M469.5 2012h0M463.1 2008.8h0M446 2057.4h0M432.1 1971.1h0M444.1 1976.6h0M446.5 2008.5h0M416.4 2034.9h0M420.2 2057.1h0M473.9 1933.5h0M446 2051.2h0M445.2 2050.9h0M431.5 2002h0M436.1 1997.5h0M473.6 1920.3h0M427.6 2000h0M439 2015h0M424.4 2018.7h0M426.1 1997.6h0M440.4 1997.2h0M434 1960h0M472.5 2048.8h0M445.6 2080.6h0M472.5 1960.8h0M459.2 1937.1h0M454.1 1971.1h0M477.5 2018.7h0M481.8 2025.3h0M483.9 2031.6h0M452.5 1961.6h0M428.1 1946.5h0M457.4 1964.1h0M461.5 1986.8h0M479.2 1957.8h0M458 1956.5h0M467.4 1945.5h0M450.5 2036.2h0M464.8 2015.7h0M472.5 2036.8h0M450 2069h0M484.1 2000.3h0M445.2 1928.1h0M462.7 1944.8h0M467 2060.3h0M470 2003.3h0M429.1 2015.7h0M466.1 1975.1h0M439.3 2013.5h0M460.3 2014.9h0M441.1 1953.4h0M458.6 1998.1h0M472.8 1951.2h0M447 2057.6h0M437.9 1937.1h0M480.8 2025.2h0M450.5 1993.4h0M439.2 1949.4h0M440.6 2059.8h0M427.3 1991.2h0M462.4 1928.8h0M444.2 1979h0M485.5 2016.6h0M455.9 1987.4h0M453.6 1997.6h0M449.4 1968.6h0M460 2063.8h0M476.3 1931.8h0M461.1 2060.9h0M454.3 2057.1h0M462.3 1975.6h0M479.7 1973h0M436.7 1983.7h0M438.7 1981.2h0M456.5 1939.5h0M458.3 2003.3h0M445.2 2031.2h0M474 2008.2h0M427.4 2034.3h0M432.3 1989.7h0M469.4 1985.7h0M475.8 2043h0M412.3 2031.3h0M465.1 2057.3h0M448.3 2004.4h0M456.4 2037.6h0M462.9 2022h0M469.8 1947.7h0M450 1984.4h0M424.8 2069.8h0M434.4 1963.9h0M447.2 2045.9h0M443.7 1963.2h0M431.4 2028h0M454.5 2018.6h0M445.1 1953.2h0M439.6 2046.5h0M435.5 2027.4h0" stroke="#ff9f00" stroke-width="1.1" stroke-linecap="round" fill="none"/>
<path d="M473.1 2046.3h0M498.2 2041.8h0M474.1 1945.8h0M495.8 1983.9h0M489.1 1976.8h0M465.7 2054.9h0M459.2 1994.3h0M471.9 1936.6h0M488.1 2019.2h0M497.1 1985.2h0M521.9 2007.3h0M510 2029.5h0M481.1 1969h0M470.7 2008.5h0M473.1 2056.7h0M481 1941.9h0M472.6 2054.4h0M448.4 1971.1h0M491.9 1997.9h0M483.6 2020.6h0M453 2033.4h0M461.8 1938.7h0M484.7 1962.9h0M475.5 2053h0M496.5 1983.3h0M484.2 2038.7h0M459.5 1998.9h0M479.5 1990.5h0M481.9 2023h0M483.9 2022.7h0M483.4 2014.4h0M460.3 1961.9h0M523.3 2003.3h0M469.7 1923.5h0M486 1977h0M471.6 1934.6h0M475.2 1930.3h0M473.4 2040.8h0M488.9 1978.5h0M476.3 2050.9h0M462.9 2053.9h0M491.1 1986h0M481 1987h0M475.7 2043.6h0M467.2 1991.6h0M463.6 1940.8h0M458.9 1951.1h0M499.8 1981.5h0M512.5 2004.6h0M456.4 1976.2h0M484.8 1963.2h0M470.6 2047.9h0M508.3 1991.4h0M476.3 1966.1h0M514.8 1999.1h0M448.7 1962h0M478.3 1999.2h0M461 1926.9h0M493.5 2017.1h0M488 2037.3h0M458.5 2048.4h0M486 2025.7h0M471.9 1923.1h0M460.9 2025.1h0M517.3 2033.7h0M500.2 1979.7h0M488 2017.1h0M477.7 2001.9h0M487.8 1999.5h0M501.5 2021.4h0M493 2041.1h0M461.2 2021h0M465.7 1936.9h0M516.6 2029.2h0M462.8 2054h0M479.5 1971.7h0M474.9 2044.2h0M492.8 2007.7h0M506.9 2031.1h0M477.4 1923.2h0M466.8 1915.8h0M481.9 2015.1h0M504.4 2009.8h0M488.1 1970.4h0M494 1987.3h0M469.9 2006.1h0M474.8 1991.4h0M491.8 1990.2h0M482.3 2009.7h0M469.8 2048.3h0M449.1 1970.8h0M485.7 1991.5h0M471 2027.8h0M490.4 2039.4h0M460.2 2051.6h0M483 1998h0M457.5 1955.5h0M472.1 2055.1h0M498.3 2027.6h0M464.9 2028.6h0M493.5 1978.4h0M503.1 2017.9h0M454.3 1948h0M496.3 2015h0M490.5 1987.4h0M501.2 2007.5h0M475.9 1970.7h0M462.6 2054.2h0M488.9 2020.4h0M475.1 1920.1h0" stroke="#ff7300" stroke-width="1.1" stroke-linecap="round" fill="none"/>
<path d="M518.3 2009h0M531.3 2013.9h0M505.4 2020.3h0M527.8 2010.9h0M518.6 1998.4h0M524 2010.1h0M492.1 1997.3h0M507.4 2013.6h0M516.3 2014.9h0M516.2 2030.4h0M495.5 1996.2h0M491 2037h0M522.2 2004.8h0M495.6 2012.3h0M524 2029.9h0M532.7 2026.7h0M523.1 2003.7h0M536.5 2026h0M527.3 2020.6h0M527.7 2010.5h0M528.8 2013.6h0M509.1 1992.1h0M525 2029h0M528.3 2021.1h0M526.7 2019.4h0" stroke="#ff3c00" stroke-width="1.1" stroke-linecap="round" fill="none"/>
<polyline points="179,1968 186,1960.7 199.5,1955.6 208.4,1965.3 218.9,1960.3 233.2,1960.7 228.6,1978.9 218.9,1984.7 222.8,1995.5 209.6,2002.1 213.8,2015.7 216.9,2030 240.2,2030 257.6,2044.7 277,2059.5 301.4,2059.5 320.8,2045.9 340.1,2040.9 346,2055.2 358.4,2054.4 368.8,2037 387.4,2028.5 384.3,2009.9 404.1,2004.1 418.4,2018.8 432,2026.2 445.5,2015.7 447.5,1995.5" fill="none" stroke="#9a6530" stroke-width="5.4" stroke-linejoin="miter"/>
<circle cx="179" cy="1968" r="6.3" fill="#0000ff"/>
<circle cx="209.6" cy="2002.1" r="6.3" fill="#ff0000"/>
<circle cx="216.9" cy="2030" r="6.3" fill="#ff0000"/>
<circle cx="358.4" cy="2054.4" r="6.3" fill="#ff0000"/>
<circle cx="447.5" cy="1995.5" r="6.3" fill="#ff0000"/>
<text x="96.5" y="1873.5" font-size="30" fill="#1a1a1a">Fib2</text>
<text x="501.5" y="1950.6" font-size="30" fill="#1a1a1a">MFib 1</text>
<path d="M91.7 2010V2099.2H177" stroke="#222" stroke-width="1.3" fill="none"/>
<path d="M91.7 2004.5l-3 9h6zM182.5 2099.2l-9 -3v6z" fill="#222"/>
<text x="91" y="2108.3" font-size="12.3" fill="#333" textLength="79.5" lengthAdjust="spacingAndGlyphs">COMPONENT1</text>
<text transform="translate(89.5 2059.5) rotate(-90)" font-size="12.3" text-anchor="middle" fill="#333" textLength="79" lengthAdjust="spacingAndGlyphs">COMPONENT2</text>
<path d="M737.1 1831.2V2089.2H1196" stroke="#8a8a8a" stroke-width="1.3" fill="none"/>
<text x="733.1" y="2104.7" font-size="18.5" text-anchor="end" fill="#1a1a1a">0</text>
<text x="733.1" y="2050.6" font-size="18.5" text-anchor="end" fill="#1a1a1a">1</text>
<text x="733.1" y="1999" font-size="18.5" text-anchor="end" fill="#1a1a1a">2</text>
<text x="733.1" y="1947.4" font-size="18.5" text-anchor="end" fill="#1a1a1a">3</text>
<text x="733.1" y="1895.8" font-size="18.5" text-anchor="end" fill="#1a1a1a">4</text>
<text x="733.1" y="1844.2" font-size="18.5" text-anchor="end" fill="#1a1a1a">5</text>
<path d="M737.1 2089.2h-3M737.1 2037.6h-3M737.1 1986h-3M737.1 1934.4h-3M737.1 1882.8h-3M737.1 1831.2h-3M828.9 2089.2v2.5M920.7 2089.2v2.5M1012.4 2089.2v2.5M1104.2 2089.2v2.5M1196 2089.2v2.5" stroke="#8a8a8a" stroke-width="1" fill="none"/>
<text x="687" y="1829.5" font-size="19" fill="#1a1a1a">Expression</text>
<text x="955.8" y="1844" font-size="28" text-anchor="middle" fill="#1a1a1a">FN1</text>
<path d="M743.1 2017.7h0M738.2 2089.2h0M742.6 2053.4h0M745.5 2089.2h0M743.7 2089.2h0M741.9 2053.4h0M738.7 2053.4h0M739.7 2089.2h0M743.2 2017.7h0M745 2089.2h0M745 2089.2h0M740.5 2089.2h0M737.4 2053.4h0M746 2089.2h0M743.3 2089.2h0M738.1 2032.5h0M745.8 2089.2h0M739.7 2089.2h0M743.9 2089.2h0M744.5 2006.2h0M737.3 2089.2h0M741.5 2053.4h0M745.2 2089.2h0M740.1 2089.2h0M742.4 2089.2h0M741.6 2089.2h0M745.5 2053.4h0M737.1 2053.4h0M737.1 2053.4h0M737.1 2089.2h0M737.1 2089.2h0M737.1 2089.2h0M737.1 2053.4h0M737.1 2053.4h0M737.1 2053.4h0M737.1 2053.4h0M737.1 2032.5h0M737.1 2089.2h0M737.1 2053.4h0M737.1 2053.4h0M737.1 2089.2h0M737.1 2032.5h0M737.1 2053.4h0M737.1 2089.2h0M737.1 2089.2h0M737.1 2089.2h0M737.1 1996.7h0" stroke="#0c2487" stroke-width="3.3" stroke-linecap="round" fill="none"/>
<path d="M750 2053.4h0M754.6 2032.5h0M754 2089.2h0M750.7 2089.2h0M749.6 2053.4h0M755.8 2089.2h0M753.7 2089.2h0M747.9 2053.4h0M748.7 2053.4h0M748.5 2032.5h0M756.1 2053.4h0M747.8 2089.2h0M748.4 2089.2h0M748.7 2053.4h0M754.6 2032.5h0M747.2 2053.4h0M752.6 2089.2h0M750.2 2089.2h0M753.5 2053.4h0M747.9 2089.2h0M754.5 2089.2h0M752.8 2089.2h0M754.9 2053.4h0M751.2 2089.2h0M747.1 2089.2h0M747.7 2089.2h0M747.7 2032.5h0M752.6 2017.7h0M754.5 2032.5h0M755.9 2053.4h0M752.2 2032.5h0M755.6 2053.4h0M752.3 2089.2h0M748.8 2053.4h0M750.1 2089.2h0M750 2032.5h0" stroke="#0b3894" stroke-width="3.3" stroke-linecap="round" fill="none"/>
<path d="M758.2 2089.2h0M759.8 2089.2h0M759.3 2017.7h0M757.1 2053.4h0M759.5 2089.2h0M758.4 2089.2h0M762.9 2053.4h0M762.4 2089.2h0M758.9 2089.2h0M763.6 2053.4h0M761.6 2017.7h0M758.1 2053.4h0M758.2 2089.2h0M765.3 2089.2h0M756.6 2089.2h0M763.8 2053.4h0M763.5 2032.5h0M757 2032.5h0M761.4 2089.2h0M764.9 2089.2h0M764.4 2089.2h0M765.7 2089.2h0M763.3 2089.2h0M764.1 2089.2h0M763.2 1996.7h0M759.6 2017.7h0M764.6 1996.7h0M761.3 2089.2h0M760.9 2053.4h0M761.8 2053.4h0M765.6 2032.5h0M757.8 2089.2h0" stroke="#0a4da2" stroke-width="3.3" stroke-linecap="round" fill="none"/>
<path d="M771.3 2089.2h0M768.2 1996.7h0M769.7 2032.5h0M768.1 2017.7h0M767 2089.2h0M769.2 2089.2h0M775 2053.4h0M772.3 2032.5h0M771.8 2089.2h0M768.2 2053.4h0M771 2089.2h0M769.6 2017.7h0M770.2 2089.2h0M772.4 2089.2h0M772.7 2089.2h0M773.3 2053.4h0M766.8 2006.2h0M771.6 2053.4h0M770.3 2089.2h0M774.1 2032.5h0M775.1 2053.4h0M771.2 2053.4h0M773.7 2089.2h0M768.8 2032.5h0M771.4 2089.2h0M771.2 2053.4h0M767.1 2053.4h0M772.9 2089.2h0M770.6 2017.7h0M768.6 2032.5h0M765.9 2089.2h0M771.8 2032.5h0M767.1 2006.2h0M769.1 2006.2h0M769.8 2089.2h0M768.5 2089.2h0M775 2017.7h0M774.8 2053.4h0M774.6 2089.2h0" stroke="#0d6ab2" stroke-width="3.3" stroke-linecap="round" fill="none"/>
<path d="M776.4 2089.2h0M776.3 2089.2h0M777.6 2089.2h0M776.8 2053.4h0M777.2 2017.7h0M776.9 2017.7h0M778.2 2053.4h0M777.2 2089.2h0M780.1 2089.2h0M780.1 2089.2h0M783.8 2089.2h0M786.6 2089.2h0M782.3 2089.2h0M786.6 2089.2h0M781.3 2032.5h0M781.9 2032.5h0M785.9 2053.4h0M782.8 2053.4h0" stroke="#1087c3" stroke-width="3.3" stroke-linecap="round" fill="none"/>
<path d="M802.8 2089.2h0M802.1 2089.2h0M791.1 2089.2h0M809 2089.2h0M804.6 2089.2h0M797.1 2089.2h0M808.8 2053.4h0M804.7 2089.2h0M808.5 2089.2h0M798.5 2089.2h0M798.4 2089.2h0M794.8 2089.2h0M798.4 2089.2h0M793.4 2053.4h0M795.8 2089.2h0M791.3 2089.2h0M799.6 2032.5h0M803.9 2089.2h0M787.7 2089.2h0M793.3 2089.2h0M788.3 2089.2h0M808.3 2089.2h0M792.4 2089.2h0" stroke="#11a7d4" stroke-width="3.3" stroke-linecap="round" fill="none"/>
<path d="M823.7 2053.4h0M829.9 2089.2h0M820.6 2089.2h0M821.8 2089.2h0M828 2032.5h0M824.3 2053.4h0M818.3 2089.2h0M810.6 2089.2h0M823.6 2089.2h0M817.7 2053.4h0M816.4 2089.2h0M825.7 2089.2h0M821.5 2053.4h0M819.9 2053.4h0M811.6 2032.5h0M813 2089.2h0M825.4 2089.2h0M823.3 2089.2h0" stroke="#10c7e6" stroke-width="3.3" stroke-linecap="round" fill="none"/>
<path d="M853.9 2089.2h0M844.5 2089.2h0M849.5 2089.2h0M852.6 2089.2h0M844.1 2089.2h0M833.5 2089.2h0M831.9 2089.2h0M839.6 2089.2h0M846 2089.2h0M832.6 2089.2h0M835.4 2089.2h0M836.4 2089.2h0M853.4 2089.2h0M840.7 2089.2h0M847.8 2053.4h0M854 2089.2h0M839.4 2089.2h0M834.3 2089.2h0M850.5 2089.2h0M848.1 2089.2h0M837.9 2089.2h0M852.8 2089.2h0M833.2 2089.2h0M848.1 2089.2h0M836.5 2089.2h0M833 2053.4h0M834.9 2089.2h0" stroke="#10e7f8" stroke-width="3.3" stroke-linecap="round" fill="none"/>
<path d="M884.8 2053.4h0M884.9 2089.2h0M861.1 2089.2h0M890.1 2089.2h0M881.2 2089.2h0M888 2089.2h0M872.5 2089.2h0M857.5 2089.2h0M882 2089.2h0M868.4 2089.2h0M877.8 2089.2h0M871.8 2089.2h0M873.3 2089.2h0M882.3 2089.2h0M855.3 2089.2h0M893 2089.2h0M878.1 2089.2h0M867.9 2089.2h0M876.1 2032.5h0M874.4 2089.2h0M880.4 2053.4h0M865.4 2089.2h0M878.4 2089.2h0M888.1 2053.4h0M868 2089.2h0M886.6 2089.2h0M876.6 2053.4h0M881.6 2089.2h0M878.7 2089.2h0M855.4 2089.2h0M889.8 2089.2h0M871.9 2053.4h0M877.7 2089.2h0M857 2089.2h0M891.4 2089.2h0M882.1 2053.4h0M873.2 2089.2h0" stroke="#21f4ea" stroke-width="3.3" stroke-linecap="round" fill="none"/>
<path d="M924.9 2053.4h0M921.5 2089.2h0M920.6 2053.4h0M922.7 2089.2h0M909.2 2089.2h0M917.2 2089.2h0M917.4 2053.4h0M910.3 2089.2h0M913.7 2089.2h0M919.7 2053.4h0M909.4 2089.2h0M918.9 2089.2h0M929.8 2089.2h0M900.9 2089.2h0M919.3 2053.4h0M901.5 2089.2h0M931.4 2089.2h0M905.3 2089.2h0M933.5 2089.2h0M918.9 2089.2h0M924.1 2089.2h0M911.5 2089.2h0M915.4 2089.2h0M917.2 2089.2h0M906.8 2053.4h0M908.3 2089.2h0M919 2089.2h0M918.3 2089.2h0M926.6 2089.2h0M895 2089.2h0M924.8 2089.2h0M905.9 2053.4h0M930.5 2089.2h0M921.1 2089.2h0M932 2053.4h0M922 2089.2h0M933.1 2089.2h0M909.7 2089.2h0M922.2 2089.2h0" stroke="#3ff1c5" stroke-width="3.3" stroke-linecap="round" fill="none"/>
<path d="M957.6 2089.2h0M964.2 2089.2h0M971.6 2089.2h0M970.1 2089.2h0M963.4 2089.2h0M959.5 2089.2h0M940.4 2089.2h0M941.9 2089.2h0M953.3 2089.2h0M973 2053.4h0M965.8 2089.2h0M943.5 2053.4h0M935.4 2053.4h0M948.1 2089.2h0M949.1 2089.2h0M961.6 2089.2h0M946.2 2089.2h0M959.7 2089.2h0M970.3 2089.2h0M954.1 2089.2h0M967.7 2089.2h0M956.4 2089.2h0M961.4 2089.2h0M940.1 2089.2h0M939.2 2089.2h0M934.7 2089.2h0M953.4 2089.2h0M953.2 2089.2h0M949.4 2089.2h0M939.4 2089.2h0M967 2089.2h0M951.7 2089.2h0" stroke="#5eeca2" stroke-width="3.3" stroke-linecap="round" fill="none"/>
<path d="M1009.1 1981.9h0M1001.7 2032.5h0M1011 2053.4h0M985.3 2089.2h0M1001.5 2089.2h0M1000.3 2089.2h0M977 2089.2h0M1003.9 2089.2h0M988.5 2089.2h0M975.9 2089.2h0M999.4 2089.2h0M1002 2032.5h0M1008 2006.2h0M1011.5 1996.7h0M1005.8 2053.4h0M980.9 2089.2h0M983.6 2089.2h0M990.4 2089.2h0M984.7 2089.2h0M1007.2 2089.2h0M993.9 2089.2h0M990.7 2089.2h0M1009.7 2017.7h0M977.4 2089.2h0M1008.3 2032.5h0M1011.8 2053.4h0M978.3 2089.2h0M1004.8 2089.2h0M977.7 2089.2h0M1004.8 2017.7h0M974.5 2089.2h0M985.5 2089.2h0M983 2089.2h0M989.7 2053.4h0M983.2 2053.4h0M982.2 2089.2h0" stroke="#7fe481" stroke-width="3.3" stroke-linecap="round" fill="none"/>
<path d="M1034.8 2017.7h0M1015.2 2006.2h0M1027.7 2089.2h0M1026.5 2089.2h0M1018.7 2032.5h0M1031.7 2053.4h0M1026 2089.2h0M1034.5 2053.4h0M1016.8 2053.4h0M1018 2032.5h0M1014.6 2089.2h0M1023.8 2032.5h0M1028.1 2053.4h0M1033.9 2089.2h0M1014.4 2017.7h0M1017 2053.4h0M1030.2 2032.5h0M1040.3 2053.4h0M1015.8 2032.5h0M1040.8 2053.4h0M1012.4 2089.2h0M1012.4 2089.2h0M1012.4 2089.2h0M1012.4 1988.8h0M1012.4 2053.4h0M1012.4 2089.2h0M1012.4 2032.5h0M1012.4 2089.2h0M1012.4 2032.5h0M1012.4 2089.2h0M1012.4 2017.7h0M1012.4 1975.8h0M1012.4 1953h0M1012.4 2089.2h0M1012.4 1970.4h0M1012.4 2032.5h0M1012.4 1996.7h0M1012.4 2006.2h0" stroke="#9fe063" stroke-width="3.3" stroke-linecap="round" fill="none"/>
<path d="M1069.2 2053.4h0M1063.1 2053.4h0M1049.9 2053.4h0M1059.2 2089.2h0M1055.4 2053.4h0M1060.1 2053.4h0M1049.4 2089.2h0M1068.4 2053.4h0M1065 1975.8h0M1043.8 2032.5h0M1052.6 2089.2h0M1057.3 2089.2h0M1058 2032.5h0M1054.5 2053.4h0M1066.8 2089.2h0M1041.5 2089.2h0M1047.2 1996.7h0M1043.3 2032.5h0M1058.7 2089.2h0M1044.8 2089.2h0M1042.6 2089.2h0M1060.8 2089.2h0M1046 2053.4h0" stroke="#bce04a" stroke-width="3.3" stroke-linecap="round" fill="none"/>
<path d="M1092.5 2032.5h0M1090.4 2089.2h0M1093.3 2053.4h0M1077.1 2053.4h0M1071.7 2053.4h0M1073.6 2089.2h0M1091.8 2032.5h0M1084.7 2017.7h0M1077.6 2089.2h0M1069.9 2032.5h0M1089 2053.4h0M1076.9 2089.2h0M1084.1 2089.2h0M1077.2 2032.5h0M1086.6 2089.2h0M1087.3 2089.2h0M1085.2 2053.4h0M1079.6 2089.2h0M1087.3 2089.2h0M1079.5 2089.2h0M1080.1 2089.2h0M1074.9 2017.7h0M1095.9 2089.2h0" stroke="#d7e02f" stroke-width="3.3" stroke-linecap="round" fill="none"/>
<path d="M1114.4 2053.4h0M1097.9 2053.4h0M1106.7 2032.5h0M1102.9 2089.2h0M1122.6 2053.4h0M1118.2 2089.2h0M1117.3 2053.4h0M1121.5 2089.2h0M1100.5 2089.2h0M1101.1 2089.2h0M1119.1 2032.5h0M1118.3 2089.2h0M1122.3 2053.4h0" stroke="#f0e011" stroke-width="3.3" stroke-linecap="round" fill="none"/>
<path d="M1136.9 1988.8h0M1140.6 2032.5h0M1127.9 2006.2h0M1139.4 1996.7h0M1136.1 1953h0M1132.1 1996.7h0M1134 2017.7h0M1132.9 1943h0M1127.1 2053.4h0M1136.3 2053.4h0M1136.7 1996.7h0M1130.1 1975.8h0M1137.6 1956.8h0M1130.2 1975.8h0M1137.3 2032.5h0M1129.4 1943h0M1142.4 1996.7h0M1130.2 1988.8h0M1135.7 1996.7h0M1140.4 2089.2h0M1136.1 1975.8h0M1136.6 1946.1h0M1142 2006.2h0M1142 1965.5h0M1142.3 1996.7h0M1141.1 2032.5h0" stroke="#ffd700" stroke-width="3.3" stroke-linecap="round" fill="none"/>
<path d="M1145.7 2006.2h0M1149.7 2006.2h0M1144 2017.7h0M1145.4 2053.4h0M1147 2017.7h0M1155.2 1975.8h0M1146.1 1970.4h0M1154.9 2032.5h0M1156.2 1996.7h0M1149.6 2006.2h0M1157.3 1975.8h0M1151.9 2053.4h0M1148.1 2032.5h0M1149.8 2032.5h0M1145.4 1975.8h0M1157.4 1981.9h0M1154.4 1965.5h0M1145.5 2006.2h0M1158.2 1970.4h0M1157.8 1949.5h0M1148.2 2032.5h0M1158.3 2032.5h0M1147.8 2089.2h0M1158.2 1988.8h0M1143.2 1970.4h0M1152.9 2032.5h0M1145.9 2017.7h0M1150.3 1953h0M1156.8 2053.4h0M1152.2 1970.4h0M1150.2 2017.7h0M1144.7 1981.9h0M1144.9 1975.8h0M1144.6 1981.9h0M1145.7 2006.2h0M1147.7 2053.4h0M1151.8 1988.8h0M1153.2 2089.2h0M1155.3 1961h0M1150.4 2032.5h0M1158.7 2017.7h0M1152.5 2017.7h0M1153.4 1970.4h0M1142.8 1970.4h0M1152.9 1988.8h0M1149.5 2006.2h0M1159.3 2032.5h0M1145.3 1970.4h0M1142.9 1981.9h0M1146.3 2032.5h0M1152.1 1949.5h0M1149.3 1953h0M1151.5 1981.9h0M1156 2006.2h0M1152.5 2053.4h0M1152.4 2006.2h0M1146.1 2053.4h0" stroke="#ffc000" stroke-width="3.3" stroke-linecap="round" fill="none"/>
<path d="M1160.8 2089.2h0M1165 1970.4h0M1163.1 2006.2h0M1169 1988.8h0M1160.1 1970.4h0M1170.6 1970.4h0M1163.2 2032.5h0M1159.9 2017.7h0M1160.5 1970.4h0M1169.4 2006.2h0M1162.5 2017.7h0M1166.5 2017.7h0M1165.8 1975.8h0M1163.3 1988.8h0M1169.2 1956.8h0M1164 2053.4h0M1172.5 1996.7h0M1167.3 1988.8h0M1162.8 2017.7h0M1173 1996.7h0M1171.3 1975.8h0M1167.4 1996.7h0M1159.7 2017.7h0M1168.3 1988.8h0M1168.6 1996.7h0M1169.6 1965.5h0M1167.1 1988.8h0M1163.9 2006.2h0M1161.2 1970.4h0M1167.5 2089.2h0M1166.5 1988.8h0M1159.9 1981.9h0M1169.6 1996.7h0M1160.4 2032.5h0M1161.5 2006.2h0M1167.2 2032.5h0M1159.5 2006.2h0M1161.2 1970.4h0M1160.4 2017.7h0M1170.6 2017.7h0M1172.1 2053.4h0M1167.4 1929.7h0M1168.6 2006.2h0M1163.8 2053.4h0M1173.1 1923.1h0M1172.6 1988.8h0M1168.9 2053.4h0M1164.4 1988.8h0M1171.6 1996.7h0M1167.2 1988.8h0M1168 1975.8h0" stroke="#ffaa00" stroke-width="3.3" stroke-linecap="round" fill="none"/>
<path d="M1183.4 1996.7h0M1174 1908.8h0M1183.3 1875.4h0M1182.1 1896.3h0M1182 1887.3h0M1182.7 1872.2h0M1176.6 1946.1h0M1180.5 1908.8h0M1180.3 1905.7h0M1178.8 2032.5h0M1177.5 1907.2h0M1179.6 1902.9h0M1186.9 1934.6h0M1177.2 2006.2h0M1179.4 1908.8h0M1184.5 1913.7h0M1178.7 2017.7h0M1176.6 1898.9h0M1178.9 1981.9h0M1182.5 2017.7h0M1180.8 1961h0M1184.3 1882.4h0M1174.5 1919.1h0M1184.9 1965.5h0M1186.9 1912h0M1179.2 1925.2h0M1182.5 1961h0M1186.6 1943h0M1174.3 2017.7h0M1179.6 2089.2h0M1184.8 1996.7h0M1184.3 1953h0M1177.3 1949.5h0M1181.6 1908.8h0M1175.2 1847.1h0M1186.4 1961h0M1186.1 1908.8h0M1181 1949.5h0M1185.1 1934.6h0M1183.9 1908.8h0" stroke="#ff9400" stroke-width="3.3" stroke-linecap="round" fill="none"/>
<path d="M1187.8 1929.7h0M1188.7 1913.7h0M1188.6 1943h0M1188 1890.5h0M1187.5 1910.4h0M1187 1934.6h0M1187.8 1929.7h0M1188.5 1907.2h0M1188.9 1915.4h0M1189.2 1975.8h0M1188.1 1988.8h0M1188.7 1900.2h0" stroke="#ff7e00" stroke-width="3.3" stroke-linecap="round" fill="none"/>
<path d="M1190 1929.7h0M1190.8 2053.4h0M1190.3 1940.1h0M1190 1913.7h0M1191.1 1838.9h0M1189.6 1912h0M1190.3 1898.9h0" stroke="#ff6500" stroke-width="3.3" stroke-linecap="round" fill="none"/>
<path d="M1191.9 1946.1h0M1193.3 1925.2h0M1192.7 1940.1h0M1193 1932.1h0" stroke="#ff4a00" stroke-width="3.3" stroke-linecap="round" fill="none"/>
<path d="M1196 1875.4h0M1196 1953h0M1196 1953h0M1196 1940.1h0M1196 1981.9h0M1196 1901.5h0M1196 1923.1h0M1196 1953h0M1196 1975.8h0M1196 1870.7h0M1196 1937.3h0M1196 1929.7h0M1196 1891.6h0M1196 1913.7h0M1196 1996.7h0M1196 1946.1h0M1196 2053.4h0M1196 1921.1h0M1196 1908.8h0M1196 1949.5h0M1196 1956.8h0M1196 1953h0M1196 1943h0M1196 1965.5h0M1196 1885.3h0M1196 1915.4h0M1196 1970.4h0M1196 1970.4h0M1196 1932.1h0M1196 1883.4h0M1196 1975.8h0M1196 1917.3h0M1196 1946.1h0M1196 1890.5h0M1196 1908.8h0M1196 1925.2h0M1196 1981.9h0M1196 1946.1h0M1196 1875.4h0M1196 1923.1h0M1196 1915.4h0M1196 1904.3h0M1196 1965.5h0M1196 1919.1h0M1196 1888.4h0M1196 1901.5h0M1196 1949.5h0M1196 2006.2h0M1196 1970.4h0M1196 1929.7h0M1196 1975.8h0M1196 1898.9h0M1196 1937.3h0M1196 1919.1h0M1196 1932.1h0M1196 1877.9h0M1196 1949.5h0M1196 1937.3h0M1196 1896.3h0M1196 1940.1h0" stroke="#ff2000" stroke-width="3.3" stroke-linecap="round" fill="none"/>
<path d="M1290.5 1831.2V2089.2H1750.5" stroke="#8a8a8a" stroke-width="1.3" fill="none"/>
<text x="1286.5" y="2104.7" font-size="18.5" text-anchor="end" fill="#1a1a1a">0</text>
<text x="1286.5" y="2050.6" font-size="18.5" text-anchor="end" fill="#1a1a1a">0.5</text>
<text x="1286.5" y="1999" font-size="18.5" text-anchor="end" fill="#1a1a1a">1</text>
<text x="1286.5" y="1947.4" font-size="18.5" text-anchor="end" fill="#1a1a1a">1.5</text>
<text x="1286.5" y="1895.8" font-size="18.5" text-anchor="end" fill="#1a1a1a">2</text>
<text x="1286.5" y="1844.2" font-size="18.5" text-anchor="end" fill="#1a1a1a">2.5</text>
<path d="M1290.5 2089.2h-3M1290.5 2037.6h-3M1290.5 1986h-3M1290.5 1934.4h-3M1290.5 1882.8h-3M1290.5 1831.2h-3M1382.5 2089.2v2.5M1474.5 2089.2v2.5M1566.5 2089.2v2.5M1658.5 2089.2v2.5M1750.5 2089.2v2.5" stroke="#8a8a8a" stroke-width="1" fill="none"/>
<text x="1231.9" y="1829.5" font-size="19" fill="#1a1a1a">Expression</text>
<text x="1494.6" y="1844" font-size="28" text-anchor="middle" fill="#1a1a1a">COL22A1</text>
<path d="M1294.3 2089.2h0M1298.3 2089.2h0M1292.8 2089.2h0M1296.7 2089.2h0M1298.3 2089.2h0M1294.9 2089.2h0M1294.8 2089.2h0M1298.9 2089.2h0M1299.5 2089.2h0M1294.7 2089.2h0M1292.1 2089.2h0M1298.6 2089.2h0M1297.6 2089.2h0M1298 2089.2h0M1295.2 2089.2h0M1291.3 2089.2h0M1294.6 2089.2h0M1299.9 2017.7h0M1292.2 2089.2h0M1291 2089.2h0M1290.9 2089.2h0M1295.1 2089.2h0M1292.9 2089.2h0M1292.5 2089.2h0M1290.8 2089.2h0M1296.6 2089.2h0M1299.2 2089.2h0M1293 2089.2h0M1299.2 2089.2h0M1293.2 2089.2h0M1298.2 2089.2h0M1292.7 2089.2h0M1294.1 2089.2h0M1292.3 2017.7h0M1298.5 2089.2h0M1290.5 2089.2h0M1290.5 2089.2h0M1290.5 2089.2h0M1290.5 2089.2h0M1290.5 2089.2h0M1290.5 2089.2h0M1290.5 2089.2h0M1290.5 2089.2h0M1290.5 2089.2h0M1290.5 2089.2h0M1290.5 2089.2h0M1290.5 2089.2h0M1290.5 2089.2h0M1290.5 2089.2h0M1290.5 2089.2h0M1290.5 2089.2h0M1290.5 2089.2h0M1290.5 2089.2h0M1290.5 2089.2h0M1290.5 2089.2h0" stroke="#0c2487" stroke-width="3.3" stroke-linecap="round" fill="none"/>
<path d="M1301.3 2089.2h0M1302.9 2089.2h0M1301.9 2089.2h0M1308.4 2089.2h0M1308 2089.2h0M1306.7 2017.7h0M1304.8 2089.2h0M1303.7 2089.2h0M1307.3 2089.2h0M1308.6 2089.2h0M1304.5 2089.2h0M1309.4 2089.2h0M1306.4 2089.2h0M1307.4 2089.2h0M1309.2 2089.2h0M1302.8 2089.2h0M1302.8 2089.2h0M1309 2089.2h0M1303.7 2089.2h0M1306.6 2089.2h0M1305.7 2089.2h0M1308.7 2089.2h0M1303 2089.2h0M1302.3 2089.2h0M1309.4 2089.2h0M1301.1 2089.2h0M1306.5 2089.2h0M1309 2089.2h0M1307.3 2089.2h0M1302.5 2089.2h0" stroke="#0b3894" stroke-width="3.3" stroke-linecap="round" fill="none"/>
<path d="M1315.3 2089.2h0M1317.7 2089.2h0M1313.8 2089.2h0M1318.2 2089.2h0M1316.7 2089.2h0M1318.8 2089.2h0M1311.7 2089.2h0M1310 2089.2h0M1319.2 2089.2h0M1318.6 2089.2h0M1317.2 2089.2h0M1311.9 2089.2h0M1315.1 2089.2h0M1315.9 2089.2h0M1311.1 2089.2h0M1319.2 2089.2h0M1312.1 2089.2h0M1315 2089.2h0M1315.5 2089.2h0M1310.7 2089.2h0M1316.2 2089.2h0M1311.4 2089.2h0M1314.3 2089.2h0M1316.1 2089.2h0M1311.5 2089.2h0M1319 2089.2h0M1313.5 2089.2h0M1312.2 2089.2h0M1315.9 2089.2h0M1313.8 2089.2h0M1318.2 2089.2h0M1315.9 2089.2h0M1316.2 2089.2h0M1313.1 2089.2h0M1315.6 2089.2h0M1313.7 2089.2h0M1313.2 2089.2h0" stroke="#0a4da2" stroke-width="3.3" stroke-linecap="round" fill="none"/>
<path d="M1324.2 2089.2h0M1320.7 2089.2h0M1327.4 2089.2h0M1322.6 2089.2h0M1328.8 2089.2h0M1327.1 2089.2h0M1325.7 2089.2h0M1326.2 2089.2h0M1327.4 2089.2h0M1324.8 2089.2h0M1319.6 2089.2h0M1327.7 2089.2h0M1325.1 2089.2h0M1322.2 2089.2h0M1325 2089.2h0M1321.6 2089.2h0M1323 2089.2h0M1324.8 2089.2h0M1328.2 2089.2h0M1322.4 2089.2h0M1327.9 2089.2h0M1326.4 2089.2h0M1323.4 2089.2h0M1323.8 2089.2h0M1324.6 2089.2h0M1323.3 2089.2h0M1327 2089.2h0M1320 2089.2h0M1328.5 2089.2h0" stroke="#0d6ab2" stroke-width="3.3" stroke-linecap="round" fill="none"/>
<path d="M1330.6 2017.7h0M1330.8 2089.2h0M1329.3 2089.2h0M1330.4 2089.2h0M1328.9 2089.2h0M1331.1 2089.2h0M1330.3 2089.2h0M1330.9 2089.2h0M1330.8 2089.2h0M1330.6 2089.2h0M1332.6 2089.2h0M1331.7 2089.2h0M1335.5 2089.2h0M1331.5 2089.2h0M1332.4 2089.2h0M1336.7 2089.2h0M1336.1 2089.2h0M1337 2089.2h0" stroke="#1087c3" stroke-width="3.3" stroke-linecap="round" fill="none"/>
<path d="M1360.1 2089.2h0M1352.1 2017.7h0M1356 2089.2h0M1343.2 2089.2h0M1352 2089.2h0M1360.5 2089.2h0M1344.1 2089.2h0M1349.5 2089.2h0M1348.6 2089.2h0M1346.3 2089.2h0M1353.9 2089.2h0M1348.3 2089.2h0M1362 2089.2h0M1347.1 2089.2h0M1347.1 2089.2h0M1345.6 2089.2h0M1362.8 2089.2h0M1345.2 2089.2h0M1359.7 2089.2h0M1341.4 2089.2h0M1358.7 2089.2h0M1344.3 2089.2h0" stroke="#11a7d4" stroke-width="3.3" stroke-linecap="round" fill="none"/>
<path d="M1367.1 2017.7h0M1371.7 2089.2h0M1385.1 2089.2h0M1369.5 2089.2h0M1384.2 2089.2h0M1368.4 2089.2h0M1367.2 2089.2h0M1373.1 2089.2h0M1376.6 2089.2h0M1367.9 2089.2h0M1376.1 2089.2h0M1381.2 2089.2h0M1376.4 2089.2h0M1366.5 2089.2h0M1383.3 2089.2h0M1372.9 2089.2h0" stroke="#10c7e6" stroke-width="3.3" stroke-linecap="round" fill="none"/>
<path d="M1404.6 2089.2h0M1385.2 2089.2h0M1401.1 2089.2h0M1399.1 2089.2h0M1395.8 2089.2h0M1391.5 2089.2h0M1385.2 2089.2h0M1390.9 2089.2h0M1387.2 2089.2h0M1387.3 2089.2h0M1394.9 2089.2h0M1395.8 2089.2h0M1395.3 2089.2h0M1389.7 2089.2h0M1397 2089.2h0M1403.4 2089.2h0M1389.1 2089.2h0M1404.2 2089.2h0M1400.9 2089.2h0M1391.8 2017.7h0M1403.9 2089.2h0M1401.5 2089.2h0M1400.1 2089.2h0M1391.3 2089.2h0M1393 2089.2h0M1403 2089.2h0" stroke="#10e7f8" stroke-width="3.3" stroke-linecap="round" fill="none"/>
<path d="M1424.5 2089.2h0M1419.6 2089.2h0M1418.3 2089.2h0M1428.3 2089.2h0M1425.2 2089.2h0M1438.7 2089.2h0M1429.3 2089.2h0M1416.9 2089.2h0M1434.2 2089.2h0M1419.1 2089.2h0M1434.1 2089.2h0M1427.3 2089.2h0M1419.9 2089.2h0M1414.6 2089.2h0M1419.2 2089.2h0M1409.9 2089.2h0M1424.3 2089.2h0M1443 2089.2h0M1431.8 2089.2h0M1428.2 2089.2h0M1436.4 2089.2h0M1440.6 2089.2h0M1409.2 2089.2h0M1424.4 2089.2h0M1410.9 2089.2h0M1441.3 2089.2h0M1444.6 2089.2h0M1416.6 2089.2h0M1444.3 2089.2h0M1419 2089.2h0M1411.5 2089.2h0M1442 2089.2h0M1433.7 2089.2h0M1444.8 2089.2h0M1423.7 2089.2h0M1411 2089.2h0M1416.5 2089.2h0M1419.8 2089.2h0M1443.1 2089.2h0M1424.3 2089.2h0M1430.1 2089.2h0M1409.9 2089.2h0M1425.4 2089.2h0M1432.9 2089.2h0" stroke="#21f4ea" stroke-width="3.3" stroke-linecap="round" fill="none"/>
<path d="M1463.1 2089.2h0M1474.6 2089.2h0M1486.7 2089.2h0M1461.2 2089.2h0M1457.5 2089.2h0M1462.5 2089.2h0M1487.4 2089.2h0M1460.6 2089.2h0M1485.4 2089.2h0M1449.2 2089.2h0M1464.5 2089.2h0M1448.9 2089.2h0M1458.9 2089.2h0M1457.4 2089.2h0M1470.4 2089.2h0M1475 2089.2h0M1456.7 2089.2h0M1466.1 2089.2h0M1465.9 2089.2h0M1450.4 2089.2h0M1482.7 2089.2h0M1465.1 2089.2h0M1469 2089.2h0M1478 2089.2h0M1449.9 2089.2h0M1451.8 2089.2h0M1467.8 2089.2h0M1481.6 2089.2h0M1486.9 2089.2h0M1467.3 2089.2h0M1457.1 2089.2h0" stroke="#3ff1c5" stroke-width="3.3" stroke-linecap="round" fill="none"/>
<path d="M1502.9 2089.2h0M1504.6 2089.2h0M1522.7 2089.2h0M1513.3 2089.2h0M1511.2 2089.2h0M1504 2089.2h0M1506 2089.2h0M1490.5 2089.2h0M1491.7 2089.2h0M1513.2 2089.2h0M1525.8 2089.2h0M1499.7 2089.2h0M1524.2 2017.7h0M1492.9 2089.2h0M1489.4 2089.2h0M1494.6 2089.2h0M1513.1 2089.2h0M1501.8 2089.2h0M1509.2 2089.2h0M1498.4 2089.2h0M1511 2089.2h0M1505.4 2089.2h0M1498.6 2089.2h0M1503.8 2089.2h0M1522.2 2089.2h0M1524.6 2089.2h0M1492.8 2089.2h0M1506.5 2089.2h0M1498.5 2089.2h0M1494.2 2089.2h0M1497.8 2089.2h0M1522.6 2017.7h0" stroke="#5eeca2" stroke-width="3.3" stroke-linecap="round" fill="none"/>
<path d="M1549.3 2089.2h0M1563.6 2017.7h0M1541.9 2089.2h0M1559.2 2089.2h0M1552.7 2017.7h0M1553.2 2089.2h0M1562.3 2089.2h0M1560.3 2017.7h0M1555.1 2089.2h0M1532.7 2089.2h0M1535.8 2017.7h0M1565.8 2089.2h0M1532.4 1975.8h0M1556.8 2017.7h0M1561 2089.2h0M1560.3 2017.7h0M1564.6 2089.2h0M1547 2089.2h0M1533.5 2089.2h0M1561.1 2017.7h0M1529.8 2089.2h0M1539.7 2089.2h0M1562.8 2089.2h0M1542.4 2089.2h0M1558.3 2089.2h0M1544.1 2017.7h0" stroke="#7fe481" stroke-width="3.3" stroke-linecap="round" fill="none"/>
<path d="M1580.4 2089.2h0M1569 2017.7h0M1590.3 2017.7h0M1588.6 2089.2h0M1572.9 2089.2h0M1582.9 2089.2h0M1591.2 2089.2h0M1580.5 2089.2h0M1575.9 2089.2h0M1570.7 2089.2h0M1574.7 2089.2h0M1594.9 2089.2h0M1586.3 2089.2h0M1575.9 2089.2h0M1577.1 2089.2h0M1575.9 2089.2h0M1582.6 2089.2h0M1588.4 2089.2h0M1571 2017.7h0M1584.6 2089.2h0M1587.2 2017.7h0M1575.1 2089.2h0M1571.7 2089.2h0M1582 1975.8h0M1570.3 2089.2h0M1594.2 2089.2h0M1577.8 2089.2h0M1593.2 2089.2h0M1575.3 2017.7h0M1566.5 2089.2h0M1566.5 2089.2h0M1566.5 2017.7h0M1566.5 2017.7h0M1566.5 2089.2h0M1566.5 2089.2h0M1566.5 2089.2h0M1566.5 2017.7h0M1566.5 2017.7h0M1566.5 2089.2h0M1566.5 2089.2h0M1566.5 2089.2h0M1566.5 2089.2h0M1566.5 2017.7h0M1566.5 2089.2h0M1566.5 2089.2h0M1566.5 2089.2h0M1566.5 2089.2h0" stroke="#9fe063" stroke-width="3.3" stroke-linecap="round" fill="none"/>
<path d="M1595.3 1975.8h0M1605.8 2089.2h0M1605.3 2089.2h0M1601.8 2017.7h0M1596.9 2089.2h0M1608.4 2089.2h0M1603.9 2089.2h0M1604 2089.2h0M1605.7 2089.2h0M1612.3 2017.7h0M1621.2 2017.7h0M1600.8 2089.2h0M1602.1 2089.2h0M1599.3 2089.2h0M1620.2 2089.2h0M1617.3 2089.2h0M1602.6 2017.7h0M1621.6 1975.8h0M1622 2017.7h0M1597.3 2089.2h0M1609.5 2089.2h0M1604.9 2089.2h0M1605.4 2089.2h0M1608.5 2089.2h0M1611.1 2089.2h0M1608.8 2089.2h0M1603.3 2089.2h0" stroke="#bce04a" stroke-width="3.3" stroke-linecap="round" fill="none"/>
<path d="M1636 2089.2h0M1640.1 2089.2h0M1625 2089.2h0M1628.7 2089.2h0M1637.8 2017.7h0M1643.2 2089.2h0M1646.8 2089.2h0M1634.3 2017.7h0M1634.4 2017.7h0M1635.3 2089.2h0M1648.1 1975.8h0M1646.9 2089.2h0M1630.3 2089.2h0M1630.7 2089.2h0M1631 2089.2h0M1645.9 2089.2h0M1640.1 2089.2h0M1644.3 2017.7h0M1639.3 2089.2h0M1638.2 2089.2h0M1648.3 2089.2h0M1628.4 2089.2h0M1632.5 2089.2h0M1643.3 1975.8h0M1625.9 2089.2h0" stroke="#d7e02f" stroke-width="3.3" stroke-linecap="round" fill="none"/>
<path d="M1669.4 2089.2h0M1663.5 2089.2h0M1672 2017.7h0M1660.1 2089.2h0M1669.9 2089.2h0M1663.6 2089.2h0M1664 2089.2h0M1679.1 2089.2h0M1664.4 2089.2h0M1672.8 2089.2h0M1674.1 2017.7h0M1673.4 2089.2h0M1663 2089.2h0M1655.5 2089.2h0M1657.2 2089.2h0M1659.6 2017.7h0M1674.5 2089.2h0M1665.4 2089.2h0M1669.4 2089.2h0M1653.2 2089.2h0M1672.9 2017.7h0M1659.9 2017.7h0M1675.8 2089.2h0" stroke="#f0e011" stroke-width="3.3" stroke-linecap="round" fill="none"/>
<path d="M1692.3 2089.2h0M1683.3 1975.8h0M1689.6 1975.8h0M1694.2 1923.1h0M1686.3 1975.8h0M1690.5 1946.1h0M1694.4 2089.2h0M1688.1 1923.1h0M1690.7 1923.1h0M1681.8 2017.7h0M1683.9 2089.2h0M1686.8 2017.7h0M1691.7 1975.8h0M1685.6 2017.7h0M1696.1 1975.8h0M1695.6 2089.2h0M1696.9 2089.2h0M1695.4 2089.2h0" stroke="#ffd700" stroke-width="3.3" stroke-linecap="round" fill="none"/>
<path d="M1700.3 2089.2h0M1699.9 2017.7h0M1700.2 2017.7h0M1704.5 2017.7h0M1703.4 2017.7h0M1703.6 2017.7h0M1697.4 1975.8h0M1704.6 2089.2h0M1713 1946.1h0M1702.7 2017.7h0M1697.6 1923.1h0M1700.4 1975.8h0M1712.3 2089.2h0M1710.5 2089.2h0M1700.4 2089.2h0M1709.9 2089.2h0M1699.3 2089.2h0M1703.5 2089.2h0M1702.9 1975.8h0M1701.2 1923.1h0M1703.3 2089.2h0M1706.5 2017.7h0M1703 1946.1h0M1703.8 2017.7h0M1711.9 1946.1h0M1707 2089.2h0M1708.1 2089.2h0M1706 2089.2h0M1703 1975.8h0M1706.9 2017.7h0M1704.5 2089.2h0M1698.3 2089.2h0M1706.5 1946.1h0M1708.9 1975.8h0M1702.8 2089.2h0M1698.8 1946.1h0M1703 2089.2h0M1700.4 1923.1h0M1701.1 1975.8h0M1706.5 1946.1h0M1701.2 2089.2h0M1701.1 1975.8h0M1704.9 2017.7h0M1706.1 1975.8h0M1710.2 2017.7h0M1713.6 2089.2h0M1708.5 1923.1h0M1705.2 2089.2h0M1701.2 1975.8h0M1700.7 2089.2h0M1697.7 2089.2h0M1711.4 2089.2h0M1711.7 1975.8h0M1712.1 1975.8h0" stroke="#ffc000" stroke-width="3.3" stroke-linecap="round" fill="none"/>
<path d="M1716.8 2089.2h0M1722.8 2089.2h0M1720.2 2017.7h0M1727.6 1904.3h0M1722.6 2017.7h0M1720.4 2017.7h0M1725.5 1946.1h0M1724 2017.7h0M1718.4 2089.2h0M1727.2 1975.8h0M1719.4 1975.8h0M1725.6 2017.7h0M1718.1 1946.1h0M1717.4 2089.2h0M1720.7 2089.2h0M1719.5 2089.2h0M1714.8 2017.7h0M1722.9 2017.7h0M1726.6 2089.2h0M1721 2017.7h0M1726.4 2089.2h0M1722.4 2089.2h0M1714.7 1975.8h0M1722.5 2089.2h0M1718.6 1975.8h0M1720.1 2089.2h0M1726.5 2017.7h0M1721.6 2089.2h0M1726.7 1904.3h0M1719 2089.2h0M1727.2 2017.7h0M1728.1 1888.4h0M1723.6 2017.7h0M1721.5 2017.7h0M1727.5 2017.7h0M1716.2 1975.8h0M1716.4 1975.8h0M1726.7 1975.8h0M1726.6 2089.2h0M1714.4 2089.2h0M1722.5 2089.2h0M1721.3 2089.2h0M1723.9 2017.7h0" stroke="#ffaa00" stroke-width="3.3" stroke-linecap="round" fill="none"/>
<path d="M1728.2 1923.1h0M1735.9 1874.6h0M1732.8 1874.6h0M1736 1975.8h0M1738.2 2089.2h0M1731.9 2017.7h0M1730.9 1904.3h0M1738.9 1975.8h0M1741.1 1923.1h0M1739.8 2089.2h0M1731.9 1975.8h0M1731.4 1904.3h0M1736.4 2017.7h0M1737.6 2017.7h0M1738.2 1862.4h0M1728.9 1946.1h0M1736.7 1904.3h0M1740.3 1975.8h0M1732 1946.1h0M1730 1975.8h0M1737.9 1923.1h0M1739.4 2017.7h0M1735.7 1946.1h0M1731 2089.2h0M1732 2017.7h0M1735.1 2017.7h0M1733 1904.3h0M1736 2089.2h0M1741 2089.2h0M1738.2 2017.7h0M1732.3 1904.3h0M1735 2089.2h0M1730.4 1975.8h0M1735.4 2017.7h0M1736.3 1975.8h0M1730.7 1838.9h0M1740.5 2017.7h0M1730.1 1923.1h0M1738.8 2017.7h0M1736 1888.4h0M1736.9 1946.1h0M1730.9 1874.6h0M1736.9 1923.1h0M1740.2 2089.2h0M1740 1975.8h0M1740.9 2017.7h0M1729.4 1946.1h0M1731.1 1904.3h0" stroke="#ff9400" stroke-width="3.3" stroke-linecap="round" fill="none"/>
<path d="M1742.5 2089.2h0M1742.7 1904.3h0M1742.1 1975.8h0M1743.5 1975.8h0M1742.7 1862.4h0M1742.5 1975.8h0M1743.1 2089.2h0M1743.3 1946.1h0" stroke="#ff7e00" stroke-width="3.3" stroke-linecap="round" fill="none"/>
<path d="M1744.1 1946.1h0M1744.6 1975.8h0M1744.2 2089.2h0M1745.2 2089.2h0M1744.2 1923.1h0M1744.8 1975.8h0M1745 1862.4h0M1745.4 1946.1h0M1745 1851.6h0M1743.8 1923.1h0M1744.5 1923.1h0M1745.5 1862.4h0M1744.7 1904.3h0M1744.6 1946.1h0M1745.4 2089.2h0" stroke="#ff6500" stroke-width="3.3" stroke-linecap="round" fill="none"/>
<path d="M1746.7 2017.7h0M1746.5 1904.3h0M1746.8 1838.9h0M1747.1 1923.1h0" stroke="#ff4a00" stroke-width="3.3" stroke-linecap="round" fill="none"/>
<path d="M1750.5 2089.2h0M1750.5 2017.7h0M1750.5 2089.2h0M1750.5 1946.1h0M1750.5 2017.7h0M1750.5 2017.7h0M1750.5 2017.7h0M1750.5 2089.2h0M1750.5 1975.8h0M1750.5 2017.7h0M1750.5 1975.8h0M1750.5 2017.7h0M1750.5 2089.2h0M1750.5 1874.6h0M1750.5 2089.2h0M1750.5 1862.4h0M1750.5 2017.7h0M1750.5 1975.8h0M1750.5 1904.3h0M1750.5 2089.2h0M1750.5 1946.1h0M1750.5 1904.3h0M1750.5 2017.7h0M1750.5 2089.2h0M1750.5 1946.1h0M1750.5 1923.1h0M1750.5 2089.2h0M1750.5 1923.1h0M1750.5 1946.1h0M1750.5 1975.8h0M1750.5 2017.7h0M1750.5 2089.2h0M1750.5 1862.4h0M1750.5 1946.1h0M1750.5 2017.7h0M1750.5 1888.4h0M1750.5 2089.2h0M1750.5 1874.6h0M1750.5 2017.7h0M1750.5 2017.7h0M1750.5 1838.9h0M1750.5 1975.8h0M1750.5 1874.6h0M1750.5 1862.4h0M1750.5 1923.1h0M1750.5 1946.1h0M1750.5 1862.4h0M1750.5 1946.1h0M1750.5 2089.2h0M1750.5 1923.1h0M1750.5 1975.8h0M1750.5 1904.3h0M1750.5 1904.3h0M1750.5 2089.2h0M1750.5 1923.1h0M1750.5 1923.1h0M1750.5 1888.4h0M1750.5 2017.7h0M1750.5 2017.7h0M1750.5 1946.1h0" stroke="#ff2000" stroke-width="3.3" stroke-linecap="round" fill="none"/>
<path d="M100 2173.4V2435.6H568.5" stroke="#8a8a8a" stroke-width="1.3" fill="none"/>
<text x="96" y="2451.1" font-size="18.5" text-anchor="end" fill="#1a1a1a">0</text>
<text x="96" y="2396.2" font-size="18.5" text-anchor="end" fill="#1a1a1a">1</text>
<text x="96" y="2343.7" font-size="18.5" text-anchor="end" fill="#1a1a1a">2</text>
<text x="96" y="2291.3" font-size="18.5" text-anchor="end" fill="#1a1a1a">3</text>
<text x="96" y="2238.8" font-size="18.5" text-anchor="end" fill="#1a1a1a">4</text>
<text x="96" y="2186.4" font-size="18.5" text-anchor="end" fill="#1a1a1a">5</text>
<path d="M100 2435.6h-3M100 2383.2h-3M100 2330.7h-3M100 2278.3h-3M100 2225.8h-3M100 2173.4h-3M193.7 2435.6v2.5M287.4 2435.6v2.5M381.1 2435.6v2.5M474.8 2435.6v2.5M568.5 2435.6v2.5" stroke="#8a8a8a" stroke-width="1" fill="none"/>
<text x="53.4" y="2167.4" font-size="19" fill="#1a1a1a">Expression</text>
<text x="328.1" y="2191" font-size="28" text-anchor="middle" fill="#1a1a1a">ACTA2</text>
<path d="M103.6 2435.6h0M104 2435.6h0M106.7 2435.6h0M104.8 2399.3h0M100.1 2435.6h0M101.3 2435.6h0M103.8 2435.6h0M108.7 2435.6h0M109.2 2435.6h0M104.3 2435.6h0M106.2 2435.6h0M108.3 2435.6h0M107.6 2435.6h0M108.7 2435.6h0M107.1 2435.6h0M102.3 2435.6h0M103.6 2435.6h0M108.2 2435.6h0M109 2435.6h0M105.3 2435.6h0M109 2435.6h0M102.2 2435.6h0M108.4 2435.6h0M105.3 2435.6h0M100.8 2435.6h0M108.7 2435.6h0M103.9 2435.6h0M104.4 2435.6h0M103.7 2435.6h0M107.1 2435.6h0M100 2435.6h0M100 2435.6h0M100 2435.6h0M100 2435.6h0M100 2435.6h0M100 2435.6h0M100 2435.6h0M100 2435.6h0M100 2435.6h0M100 2435.6h0M100 2435.6h0M100 2435.6h0M100 2435.6h0M100 2435.6h0M100 2435.6h0M100 2435.6h0M100 2435.6h0M100 2435.6h0M100 2435.6h0M100 2435.6h0" stroke="#0c2487" stroke-width="3.3" stroke-linecap="round" fill="none"/>
<path d="M110 2435.6h0M118.3 2435.6h0M116.5 2435.6h0M118.2 2435.6h0M112 2435.6h0M112.3 2399.3h0M112.6 2435.6h0M113.2 2435.6h0M115.8 2435.6h0M112.6 2435.6h0M118.1 2435.6h0M116.6 2435.6h0M112.3 2435.6h0M111.6 2435.6h0M116.9 2435.6h0M115.6 2435.6h0M112.5 2435.6h0M115.5 2435.6h0M116.6 2435.6h0M116.4 2435.6h0M116 2399.3h0M116.6 2435.6h0M114.7 2435.6h0M114.7 2435.6h0M110.7 2435.6h0M114.5 2435.6h0M111 2435.6h0M113.4 2435.6h0M118.7 2435.6h0M116.4 2435.6h0" stroke="#0b3894" stroke-width="3.3" stroke-linecap="round" fill="none"/>
<path d="M124.5 2435.6h0M120.2 2435.6h0M121.8 2435.6h0M124.7 2399.3h0M127.3 2399.3h0M124.7 2435.6h0M119.9 2399.3h0M127.8 2435.6h0M126.6 2435.6h0M127.7 2435.6h0M128.8 2435.6h0M120.2 2435.6h0M123.7 2435.6h0M125.8 2435.6h0M123.9 2435.6h0M126.3 2435.6h0M125.6 2435.6h0M120.8 2399.3h0M123 2435.6h0M128.7 2435.6h0M124.9 2399.3h0M128.2 2399.3h0M128.2 2435.6h0M122.1 2399.3h0M123.4 2435.6h0M120.9 2435.6h0M120.3 2435.6h0M122.6 2399.3h0M122.3 2435.6h0M120.3 2435.6h0M123.1 2399.3h0M123.7 2399.3h0M120.3 2435.6h0M124.1 2435.6h0M126.1 2435.6h0M124.6 2435.6h0M121.6 2435.6h0" stroke="#0a4da2" stroke-width="3.3" stroke-linecap="round" fill="none"/>
<path d="M133.8 2435.6h0M131 2435.6h0M131.1 2399.3h0M129.4 2435.6h0M137.6 2435.6h0M132.6 2399.3h0M129.8 2435.6h0M131.3 2435.6h0M130.5 2435.6h0M135 2435.6h0M134.6 2435.6h0M132 2435.6h0M137 2435.6h0M135.8 2435.6h0M129.4 2435.6h0M136.7 2435.6h0M131.5 2435.6h0M131.7 2435.6h0M138.8 2435.6h0M135.9 2435.6h0M133.2 2435.6h0M133.3 2399.3h0M136.2 2435.6h0M135.8 2435.6h0M129.9 2435.6h0M129.8 2435.6h0M132.6 2435.6h0M131.3 2435.6h0M138.3 2399.3h0M138.9 2435.6h0M131.4 2435.6h0M135.5 2435.6h0M131.4 2435.6h0M134.3 2435.6h0M134.6 2435.6h0M129.8 2435.6h0M137.9 2435.6h0M138.7 2435.6h0" stroke="#0d6ab2" stroke-width="3.3" stroke-linecap="round" fill="none"/>
<path d="M140.3 2399.3h0M141 2435.6h0M139.3 2435.6h0M140.7 2435.6h0M140.9 2399.3h0M140.7 2435.6h0M139.9 2435.6h0M140.9 2435.6h0M147.9 2435.6h0M142.2 2399.3h0M142.1 2435.6h0M145.7 2399.3h0M141.5 2435.6h0M148.5 2435.6h0M145.1 2435.6h0" stroke="#1087c3" stroke-width="3.3" stroke-linecap="round" fill="none"/>
<path d="M157.9 2435.6h0M162.2 2435.6h0M167.4 2435.6h0M162.1 2435.6h0M156.1 2435.6h0M155.1 2399.3h0M155.9 2435.6h0M170 2435.6h0M164.9 2435.6h0M164.3 2435.6h0M170.8 2435.6h0M159.1 2435.6h0M169.8 2435.6h0M166.2 2435.6h0M159.8 2435.6h0M162.4 2435.6h0M158.7 2435.6h0M155.1 2435.6h0M157.2 2435.6h0M153 2435.6h0M170.6 2399.3h0M152.5 2399.3h0M155.1 2435.6h0M151.7 2435.6h0" stroke="#11a7d4" stroke-width="3.3" stroke-linecap="round" fill="none"/>
<path d="M194 2435.6h0M185.9 2435.6h0M192.7 2435.6h0M189.6 2435.6h0M181.8 2435.6h0M189.2 2435.6h0M194.5 2435.6h0M189.7 2435.6h0M191 2435.6h0M183.3 2435.6h0M184.8 2399.3h0M184.8 2435.6h0M183.2 2435.6h0M194.3 2435.6h0M182.2 2435.6h0M188.2 2435.6h0" stroke="#10c7e6" stroke-width="3.3" stroke-linecap="round" fill="none"/>
<path d="M213.2 2435.6h0M204.3 2435.6h0M198.9 2435.6h0M199.5 2435.6h0M219 2435.6h0M202 2435.6h0M214.4 2435.6h0M209.5 2435.6h0M213.7 2435.6h0M218 2435.6h0M210.6 2435.6h0M219.1 2435.6h0M209.4 2435.6h0M196.4 2435.6h0M216.3 2435.6h0M206.3 2435.6h0M219.3 2435.6h0M211.4 2435.6h0M217.3 2435.6h0M197.2 2435.6h0M217 2435.6h0M207.3 2435.6h0M209.5 2435.6h0" stroke="#10e7f8" stroke-width="3.3" stroke-linecap="round" fill="none"/>
<path d="M231.2 2435.6h0M245 2435.6h0M224 2435.6h0M228.4 2435.6h0M239.3 2399.3h0M255.9 2435.6h0M241.3 2435.6h0M245.1 2435.6h0M228.3 2435.6h0M239.7 2435.6h0M225.6 2435.6h0M226.4 2435.6h0M232 2435.6h0M222.9 2435.6h0M231.4 2435.6h0M254.2 2435.6h0M236.8 2435.6h0M250.6 2435.6h0M230.7 2435.6h0M251.2 2435.6h0M242.1 2435.6h0M253.5 2435.6h0M250.5 2435.6h0M239.4 2435.6h0M239.9 2435.6h0M221.6 2435.6h0M230.5 2435.6h0M239.1 2399.3h0M253.7 2435.6h0M243.1 2435.6h0" stroke="#21f4ea" stroke-width="3.3" stroke-linecap="round" fill="none"/>
<path d="M292.9 2435.6h0M265.4 2399.3h0M268 2435.6h0M297 2435.6h0M297.2 2435.6h0M293.2 2435.6h0M280.3 2435.6h0M268.2 2435.6h0M261.9 2435.6h0M287.7 2435.6h0M274.5 2399.3h0M291.6 2435.6h0M284.3 2435.6h0M296.8 2435.6h0M273.1 2435.6h0M266.7 2435.6h0M263 2435.6h0M284.8 2435.6h0M290.9 2435.6h0M264.2 2435.6h0M301.7 2435.6h0M265.4 2435.6h0M291.6 2435.6h0M297.4 2435.6h0M262 2435.6h0M269.7 2435.6h0M300.8 2435.6h0M297.5 2435.6h0M279.8 2435.6h0M280.1 2435.6h0M280.6 2435.6h0M290.3 2435.6h0M268.6 2399.3h0M270.7 2435.6h0M280 2435.6h0M267.6 2435.6h0M299 2435.6h0M284.9 2435.6h0M289.5 2435.6h0M283.4 2435.6h0M281.4 2435.6h0" stroke="#3ff1c5" stroke-width="3.3" stroke-linecap="round" fill="none"/>
<path d="M327.7 2435.6h0M335.8 2435.6h0M307.9 2435.6h0M322 2435.6h0M324.6 2435.6h0M304.3 2435.6h0M304.9 2435.6h0M310.8 2435.6h0M334 2435.6h0M304.4 2435.6h0M323.8 2435.6h0M315.7 2435.6h0M329.1 2435.6h0M330.1 2435.6h0M337.3 2435.6h0M333.4 2435.6h0M326.9 2435.6h0M314.8 2435.6h0M309.3 2435.6h0M327.9 2435.6h0M317.9 2435.6h0M331.9 2435.6h0M341.2 2435.6h0M339.3 2435.6h0M338.1 2435.6h0M326.6 2435.6h0M326.8 2435.6h0M310.7 2435.6h0M332 2435.6h0M330.2 2435.6h0" stroke="#5eeca2" stroke-width="3.3" stroke-linecap="round" fill="none"/>
<path d="M343.5 2435.6h0M343.9 2435.6h0M363.5 2435.6h0M344.3 2435.6h0M354.5 2435.6h0M353 2435.6h0M347.7 2435.6h0M353.6 2435.6h0M373.7 2435.6h0M343.7 2435.6h0M353.5 2435.6h0M346 2435.6h0M374.2 2435.6h0M377.5 2435.6h0M359.3 2435.6h0M368.1 2435.6h0M371.7 2435.6h0M353 2435.6h0M347.1 2435.6h0M378.9 2435.6h0M373.2 2435.6h0M365.1 2435.6h0M369.8 2435.6h0M380.9 2435.6h0M363.2 2435.6h0M342.9 2435.6h0M366.3 2435.6h0M378.8 2435.6h0M358 2435.6h0M364.7 2435.6h0M357.7 2435.6h0M365.5 2435.6h0M359.3 2435.6h0M355.4 2435.6h0M372.8 2435.6h0M363.9 2435.6h0" stroke="#7fe481" stroke-width="3.3" stroke-linecap="round" fill="none"/>
<path d="M393.1 2399.3h0M394.2 2399.3h0M394.5 2435.6h0M407.9 2435.6h0M401.1 2435.6h0M392.5 2435.6h0M400.1 2435.6h0M393.5 2435.6h0M394.7 2435.6h0M383.4 2435.6h0M384.7 2399.3h0M390.8 2399.3h0M391.1 2435.6h0M382.8 2435.6h0M394.5 2435.6h0M388 2435.6h0M405.4 2435.6h0M392.3 2435.6h0M390.2 2435.6h0M382 2435.6h0M402.9 2435.6h0M397.9 2435.6h0M387.5 2435.6h0M406.8 2435.6h0M394.3 2435.6h0M398 2435.6h0M385.3 2435.6h0M407.3 2435.6h0M398.5 2435.6h0M410.3 2435.6h0M408.8 2435.6h0M381.1 2435.6h0M381.1 2378h0M381.1 2435.6h0M381.1 2399.3h0M381.1 2362.9h0M381.1 2435.6h0M381.1 2435.6h0M381.1 2435.6h0M381.1 2435.6h0M381.1 2435.6h0M381.1 2351.2h0M381.1 2435.6h0M381.1 2351.2h0M381.1 2399.3h0M381.1 2399.3h0M381.1 2435.6h0M381.1 2435.6h0M381.1 2333.6h0" stroke="#9fe063" stroke-width="3.3" stroke-linecap="round" fill="none"/>
<path d="M432.5 2435.6h0M431.5 2435.6h0M438.6 2435.6h0M432.9 2435.6h0M439.4 2435.6h0M413.7 2435.6h0M414.4 2399.3h0M411.5 2435.6h0M421 2435.6h0M424.4 2435.6h0M436.2 2435.6h0M419.4 2435.6h0M416.8 2435.6h0M418.2 2435.6h0M418.3 2435.6h0M429.1 2435.6h0M429.6 2435.6h0M414.2 2435.6h0M438 2435.6h0M419 2435.6h0M422.8 2435.6h0M411.8 2435.6h0M437.8 2435.6h0M422.2 2435.6h0M439.2 2435.6h0" stroke="#bce04a" stroke-width="3.3" stroke-linecap="round" fill="none"/>
<path d="M463 2435.6h0M467 2435.6h0M449 2435.6h0M464.8 2435.6h0M452.7 2435.6h0M447.8 2435.6h0M445.6 2435.6h0M442.9 2435.6h0M456.1 2435.6h0M447.3 2435.6h0M458.5 2435.6h0M445.9 2435.6h0M455.2 2435.6h0M442.2 2435.6h0M440.1 2435.6h0M457.9 2435.6h0M450.4 2435.6h0M467.2 2435.6h0M446 2435.6h0M449.2 2435.6h0M440.6 2435.6h0" stroke="#d7e02f" stroke-width="3.3" stroke-linecap="round" fill="none"/>
<path d="M495.5 2435.6h0M477.4 2435.6h0M476 2435.6h0M472.8 2435.6h0M474.2 2435.6h0M470.3 2435.6h0M474.1 2435.6h0M480.9 2435.6h0M478.1 2435.6h0M484 2435.6h0M476.6 2399.3h0M480.4 2435.6h0M491.9 2435.6h0M474.8 2435.6h0M487.4 2435.6h0M493.5 2435.6h0M486.7 2435.6h0M470.8 2435.6h0M475.8 2435.6h0M484.8 2399.3h0M484.9 2435.6h0M476.9 2435.6h0M470.6 2435.6h0M480.9 2435.6h0M483.8 2435.6h0" stroke="#f0e011" stroke-width="3.3" stroke-linecap="round" fill="none"/>
<path d="M497.4 2435.6h0M497.7 2435.6h0M508.1 2378h0M507.2 2435.6h0M506 2435.6h0M499.4 2435.6h0M500.1 2435.6h0M497.9 2435.6h0M505.7 2435.6h0M507 2435.6h0M505.5 2435.6h0M500.7 2435.6h0M513.2 2435.6h0M511.8 2435.6h0M502.5 2435.6h0M512.4 2399.3h0M512.5 2399.3h0M513.9 2378h0M512.9 2435.6h0M513.7 2435.6h0M512.4 2399.3h0M513 2435.6h0" stroke="#ffd700" stroke-width="3.3" stroke-linecap="round" fill="none"/>
<path d="M521.6 2435.6h0M517.3 2362.9h0M519.2 2435.6h0M522.7 2435.6h0M526.4 2435.6h0M514.9 2435.6h0M527.4 2399.3h0M518.7 2399.3h0M526.5 2435.6h0M521 2399.3h0M518.1 2435.6h0M515.5 2435.6h0M518.4 2435.6h0M518.5 2435.6h0M529.8 2435.6h0M515.3 2435.6h0M524.9 2399.3h0M516 2378h0M520.1 2378h0M520.2 2399.3h0M522 2399.3h0M525.9 2378h0M522 2435.6h0M526.4 2435.6h0M515.9 2435.6h0M522.2 2435.6h0M519.4 2435.6h0M516.3 2399.3h0M514.4 2399.3h0M515.8 2435.6h0M528.8 2435.6h0M522.8 2435.6h0M528.8 2435.6h0M524 2435.6h0M518 2435.6h0M515.4 2435.6h0M518.8 2435.6h0M520.2 2435.6h0M524.7 2435.6h0M516.9 2435.6h0M527.3 2435.6h0M527.7 2435.6h0M521.2 2362.9h0M515.7 2435.6h0M530.2 2435.6h0M523 2435.6h0M518.8 2435.6h0M530.2 2378h0M520.9 2435.6h0M514.6 2435.6h0M521.1 2435.6h0M522 2435.6h0M519 2435.6h0M528.4 2435.6h0M516.7 2435.6h0M528.6 2435.6h0M523.9 2435.6h0M527.6 2399.3h0M516.3 2435.6h0M527.7 2435.6h0M520.9 2399.3h0" stroke="#ffc000" stroke-width="3.3" stroke-linecap="round" fill="none"/>
<path d="M531.1 2399.3h0M542.1 2362.9h0M539.2 2435.6h0M532.5 2378h0M532.2 2399.3h0M540.6 2435.6h0M544.7 2378h0M533.3 2435.6h0M533.3 2378h0M533.8 2435.6h0M533.9 2435.6h0M539.5 2399.3h0M531.1 2435.6h0M540.1 2399.3h0M540.9 2435.6h0M532 2362.9h0M538.2 2399.3h0M540.1 2435.6h0M540.8 2435.6h0M537.9 2378h0M543.9 2378h0M539.6 2435.6h0M535.5 2435.6h0M535.9 2435.6h0M544.9 2435.6h0M537.8 2435.6h0M540.9 2399.3h0M539.2 2378h0M534.7 2435.6h0M535.3 2435.6h0M534.7 2378h0M537.2 2435.6h0M537.4 2435.6h0M543.8 2435.6h0M537.6 2435.6h0M538 2435.6h0M535 2435.6h0M535.4 2435.6h0M541.4 2435.6h0M539.1 2399.3h0M534.4 2399.3h0M544.2 2435.6h0M538.5 2399.3h0M542.9 2435.6h0" stroke="#ffaa00" stroke-width="3.3" stroke-linecap="round" fill="none"/>
<path d="M550 2362.9h0M547.2 2399.3h0M558.9 2435.6h0M553.3 2435.6h0M555.2 2435.6h0M551.1 2435.6h0M548.3 2435.6h0M552.9 2378h0M550.3 2435.6h0M554.7 2378h0M551.8 2435.6h0M559.3 2435.6h0M554.4 2435.6h0M558.8 2435.6h0M555.7 2378h0M546.2 2435.6h0M554.8 2435.6h0M551.8 2435.6h0M547 2435.6h0M557.8 2435.6h0M552.5 2435.6h0M554.5 2435.6h0M546.7 2435.6h0M558.2 2435.6h0M556.6 2378h0M547.1 2435.6h0M547.1 2399.3h0M555.6 2435.6h0M557.2 2435.6h0M550.3 2399.3h0M549.3 2435.6h0M552.5 2435.6h0M550.6 2399.3h0M547.5 2399.3h0M551.5 2435.6h0M547.5 2435.6h0M556.8 2399.3h0M558.2 2399.3h0M556 2435.6h0M558.1 2435.6h0M548.2 2435.6h0M550.7 2435.6h0M554.8 2435.6h0M552.5 2399.3h0M549.1 2435.6h0" stroke="#ff9400" stroke-width="3.3" stroke-linecap="round" fill="none"/>
<path d="M561.3 2435.6h0M559.5 2435.6h0M560.6 2435.6h0M559.5 2435.6h0M559.7 2435.6h0" stroke="#ff7e00" stroke-width="3.3" stroke-linecap="round" fill="none"/>
<path d="M562.4 2435.6h0M563 2399.3h0M562.8 2399.3h0M562.3 2435.6h0" stroke="#ff6500" stroke-width="3.3" stroke-linecap="round" fill="none"/>
<path d="M565.1 2249.2h0M565.1 2252.2h0M566.1 2399.3h0M564.3 2281.2h0M564.7 2314.9h0M563.9 2271.2h0M565.7 2341.6h0" stroke="#ff4a00" stroke-width="3.3" stroke-linecap="round" fill="none"/>
<path d="M568.5 2240.9h0M568.5 2320.4h0M568.5 2228.4h0M568.5 2290.2h0M568.5 2234.8h0M568.5 2236h0M568.5 2351.2h0M568.5 2281.2h0M568.5 2253.9h0M568.5 2297.2h0M568.5 2293.6h0M568.5 2309.9h0M568.5 2266.8h0M568.5 2287h0M568.5 2284h0M568.5 2275.9h0M568.5 2259h0M568.5 2362.9h0M568.5 2293.6h0M568.5 2281.2h0M568.5 2264.7h0M568.5 2314.9h0M568.5 2247.7h0M568.5 2305.3h0M568.5 2259h0M568.5 2362.9h0M568.5 2226.4h0M568.5 2198.5h0M568.5 2240.9h0M568.5 2255.5h0M568.5 2305.3h0M568.5 2264.7h0M568.5 2362.9h0M568.5 2297.2h0M568.5 2297.2h0M568.5 2268.9h0M568.5 2290.2h0M568.5 2252.2h0M568.5 2275.9h0M568.5 2341.6h0M568.5 2341.6h0M568.5 2351.2h0M568.5 2341.6h0M568.5 2237.2h0M568.5 2259h0M568.5 2314.9h0M568.5 2222.7h0M568.5 2314.9h0M568.5 2219.2h0M568.5 2275.9h0M568.5 2305.3h0M568.5 2309.9h0M568.5 2273.5h0M568.5 2271.2h0M568.5 2326.6h0M568.5 2281.2h0M568.5 2278.5h0M568.5 2287h0M568.5 2264.7h0M568.5 2297.2h0" stroke="#ff2000" stroke-width="3.3" stroke-linecap="round" fill="none"/>
<path d="M736.7 2182.1V2442.7H1204.4" stroke="#8a8a8a" stroke-width="1.3" fill="none"/>
<text x="732.7" y="2458.2" font-size="18.5" text-anchor="end" fill="#1a1a1a">0</text>
<text x="732.7" y="2403.6" font-size="18.5" text-anchor="end" fill="#1a1a1a">1</text>
<text x="732.7" y="2351.5" font-size="18.5" text-anchor="end" fill="#1a1a1a">2</text>
<text x="732.7" y="2299.3" font-size="18.5" text-anchor="end" fill="#1a1a1a">3</text>
<text x="732.7" y="2247.2" font-size="18.5" text-anchor="end" fill="#1a1a1a">4</text>
<text x="732.7" y="2195.1" font-size="18.5" text-anchor="end" fill="#1a1a1a">5</text>
<path d="M736.7 2442.7h-3M736.7 2390.6h-3M736.7 2338.5h-3M736.7 2286.3h-3M736.7 2234.2h-3M736.7 2182.1h-3M830.2 2442.7v2.5M923.8 2442.7v2.5M1017.3 2442.7v2.5M1110.9 2442.7v2.5M1204.4 2442.7v2.5" stroke="#8a8a8a" stroke-width="1" fill="none"/>
<text x="686.5" y="2175" font-size="19" fill="#1a1a1a">Expression</text>
<text x="959" y="2190.2" font-size="28" text-anchor="middle" fill="#1a1a1a">COL1A1</text>
<path d="M740.1 2406.6h0M744 2370.4h0M744.2 2442.7h0M742.3 2385.4h0M746.1 2406.6h0M745.8 2349.3h0M744.7 2341.3h0M743.9 2385.4h0M746 2328.2h0M738.5 2385.4h0M741.2 2334.3h0M740 2358.8h0M739.7 2370.4h0M740.4 2385.4h0M739.4 2358.8h0M746.2 2328.2h0M739.7 2406.6h0M741.4 2328.2h0M740.6 2385.4h0M742.9 2305.2h0M744.4 2358.8h0M737 2349.3h0M741.5 2341.3h0M739.3 2358.8h0M740.3 2328.2h0M736.7 2328.2h0M736.7 2370.4h0M736.7 2406.6h0M736.7 2406.6h0M736.7 2334.3h0M736.7 2442.7h0M736.7 2349.3h0M736.7 2406.6h0M736.7 2349.3h0M736.7 2286.6h0M736.7 2341.3h0M736.7 2349.3h0M736.7 2341.3h0M736.7 2305.2h0M736.7 2385.4h0M736.7 2334.3h0M736.7 2385.4h0M736.7 2385.4h0M736.7 2358.8h0M736.7 2349.3h0" stroke="#0c2487" stroke-width="3.3" stroke-linecap="round" fill="none"/>
<path d="M752.5 2309h0M754.8 2317.7h0M752.3 2442.7h0M751.4 2406.6h0M748 2442.7h0M756.1 2349.3h0M751.9 2370.4h0M752.8 2385.4h0M748.3 2341.3h0M752.5 2334.3h0M751.4 2370.4h0M754.8 2341.3h0M753.3 2349.3h0M749.6 2385.4h0M753.2 2298.2h0M746.5 2305.2h0M746.7 2334.3h0M752.3 2442.7h0M750.8 2442.7h0M752.8 2322.7h0M750.3 2349.3h0M752.7 2358.8h0M748.7 2289.2h0M749 2406.6h0M754.2 2358.8h0M748.7 2322.7h0M752 2385.4h0M751.1 2406.6h0M751.6 2385.4h0" stroke="#0b3894" stroke-width="3.3" stroke-linecap="round" fill="none"/>
<path d="M758.2 2406.6h0M762.3 2334.3h0M759.6 2358.8h0M756.8 2322.7h0M762.3 2358.8h0M764.7 2406.6h0M757.7 2406.6h0M757.5 2301.6h0M757.8 2358.8h0M758.7 2406.6h0M763.7 2322.7h0M761.2 2370.4h0M757.4 2385.4h0M765.1 2385.4h0M756.7 2370.4h0M765.9 2442.7h0M759.3 2442.7h0M757.7 2358.8h0M762.9 2322.7h0M758 2385.4h0M758.9 2328.2h0M763.8 2385.4h0M757.7 2317.7h0M763.4 2370.4h0M760.6 2341.3h0M762.7 2301.6h0M756.9 2309h0M764.8 2328.2h0M757.2 2385.4h0M757.8 2370.4h0M761.8 2313.2h0M761.5 2385.4h0M765.9 2442.7h0M758.2 2370.4h0M763.3 2358.8h0M757.8 2442.7h0M759.9 2385.4h0M761.7 2406.6h0M758.8 2370.4h0M763.2 2358.8h0M757.1 2349.3h0M763.4 2385.4h0" stroke="#0a4da2" stroke-width="3.3" stroke-linecap="round" fill="none"/>
<path d="M770.5 2358.8h0M773.4 2349.3h0M774.7 2406.6h0M769.9 2313.2h0M766.4 2334.3h0M769.1 2385.4h0M773.9 2370.4h0M767.8 2358.8h0M775.2 2385.4h0M771.2 2334.3h0M774.7 2328.2h0M770.7 2341.3h0M773.6 2358.8h0M775.3 2385.4h0M769.9 2298.2h0M766.2 2406.6h0M766.4 2358.8h0M768.5 2370.4h0M767.8 2442.7h0M774.9 2442.7h0M770.9 2370.4h0M771.3 2442.7h0M774.5 2341.3h0M772.4 2334.3h0M768.2 2328.2h0M774.5 2309h0M771.8 2370.4h0M769.1 2341.3h0M769.9 2385.4h0M775.4 2442.7h0M775 2349.3h0M775.4 2305.2h0M775.4 2442.7h0" stroke="#0d6ab2" stroke-width="3.3" stroke-linecap="round" fill="none"/>
<path d="M776.4 2322.7h0M777.8 2385.4h0M778.1 2358.8h0M777.5 2309h0M775.8 2341.3h0M776.4 2370.4h0M777 2358.8h0M776.2 2370.4h0M775.8 2358.8h0M777.2 2301.6h0M777.6 2349.3h0M776.9 2358.8h0M776.1 2305.2h0M777.5 2370.4h0M776.3 2370.4h0M781.7 2358.8h0M781.6 2341.3h0M787.5 2385.4h0M775.8 2385.4h0M783.8 2328.2h0M778.9 2305.2h0M783.9 2334.3h0" stroke="#1087c3" stroke-width="3.3" stroke-linecap="round" fill="none"/>
<path d="M799.6 2341.3h0M806.6 2341.3h0M788.5 2358.8h0M788.1 2442.7h0M793.9 2358.8h0M801.8 2370.4h0M802.2 2385.4h0M810.2 2370.4h0M807.4 2349.3h0M808 2406.6h0M796.3 2406.6h0M797.3 2442.7h0M791 2358.8h0M801.2 2406.6h0M796.9 2406.6h0M791.5 2385.4h0M790.9 2370.4h0" stroke="#11a7d4" stroke-width="3.3" stroke-linecap="round" fill="none"/>
<path d="M825 2349.3h0M821.5 2358.8h0M825.6 2370.4h0M814.7 2341.3h0M827.5 2406.6h0M811.7 2370.4h0M828.4 2370.4h0M828.8 2370.4h0M827 2328.2h0M829.8 2385.4h0M832 2385.4h0M814.3 2370.4h0M823.9 2370.4h0M829.1 2442.7h0M811.2 2358.8h0" stroke="#10c7e6" stroke-width="3.3" stroke-linecap="round" fill="none"/>
<path d="M838.7 2370.4h0M848.7 2442.7h0M836.2 2406.6h0M839.4 2358.8h0M849 2406.6h0M853.2 2358.8h0M839.9 2349.3h0M837.2 2385.4h0M836.5 2385.4h0M850.1 2406.6h0M853.6 2442.7h0M835.3 2370.4h0M850.8 2406.6h0M844.2 2385.4h0" stroke="#10e7f8" stroke-width="3.3" stroke-linecap="round" fill="none"/>
<path d="M866.7 2385.4h0M863.1 2442.7h0M896.8 2406.6h0M882.2 2370.4h0M888.5 2406.6h0M872.9 2349.3h0M860 2328.2h0M886.2 2370.4h0M860 2406.6h0M886.3 2358.8h0M894 2385.4h0M870.2 2349.3h0M872.3 2341.3h0M871 2358.8h0M896.7 2385.4h0M868.6 2442.7h0M870.3 2406.6h0M865.7 2406.6h0M869.7 2358.8h0M866.7 2370.4h0M883.8 2358.8h0M873.1 2370.4h0M869.4 2385.4h0M893 2328.2h0M882.9 2406.6h0M895.2 2349.3h0M865.6 2385.4h0M863.4 2406.6h0M861.2 2385.4h0M874 2442.7h0M880.8 2442.7h0M869.8 2358.8h0M869.7 2358.8h0M874.1 2385.4h0M894.7 2358.8h0M863.6 2406.6h0M869.1 2370.4h0M893.2 2370.4h0M876.8 2406.6h0" stroke="#21f4ea" stroke-width="3.3" stroke-linecap="round" fill="none"/>
<path d="M924.4 2370.4h0M921.6 2358.8h0M919.6 2442.7h0M899.6 2349.3h0M933.4 2406.6h0M916.4 2385.4h0M924.9 2370.4h0M916.5 2358.8h0M901.2 2370.4h0M934 2385.4h0M920.2 2341.3h0M902.2 2370.4h0M928.2 2385.4h0M934.9 2328.2h0M899.2 2349.3h0M899.1 2385.4h0M911.4 2406.6h0M898.5 2442.7h0M900.7 2406.6h0M918.6 2442.7h0M897.6 2406.6h0M911.9 2370.4h0M922.2 2370.4h0M905.1 2406.6h0M916.8 2442.7h0M925.8 2406.6h0M912.6 2406.6h0M913.6 2406.6h0" stroke="#3ff1c5" stroke-width="3.3" stroke-linecap="round" fill="none"/>
<path d="M957.8 2406.6h0M961.5 2406.6h0M967.3 2385.4h0M953.8 2406.6h0M955.6 2406.6h0M969.9 2385.4h0M977.4 2406.6h0M953.9 2406.6h0M947.2 2406.6h0M942.7 2385.4h0M958.5 2358.8h0M974.5 2385.4h0M954.9 2341.3h0M941.8 2334.3h0M939.2 2385.4h0M940.4 2442.7h0M969.2 2341.3h0M966.3 2406.6h0M941.7 2358.8h0M939.8 2313.2h0M968.3 2385.4h0M972.5 2385.4h0M940.9 2442.7h0M967 2328.2h0M953.4 2358.8h0M966.3 2385.4h0M964.7 2442.7h0M973.3 2406.6h0M974.2 2442.7h0M948.6 2406.6h0M948.9 2349.3h0M972.1 2317.7h0M947.8 2358.8h0M949.7 2370.4h0M950.2 2358.8h0" stroke="#5eeca2" stroke-width="3.3" stroke-linecap="round" fill="none"/>
<path d="M979.4 2406.6h0M1015.1 2328.2h0M1016.8 2385.4h0M1014 2406.6h0M1012.9 2370.4h0M999.5 2385.4h0M980.6 2349.3h0M1014 2406.6h0M983 2406.6h0M991.5 2341.3h0M1011.2 2328.2h0M978.6 2341.3h0M989.1 2349.3h0M1003 2406.6h0M981.3 2358.8h0M1007.8 2406.6h0M1004 2406.6h0M988 2358.8h0M992.3 2385.4h0M1014.4 2322.7h0M1004.3 2370.4h0M997.6 2305.2h0M998.2 2358.8h0M1014.6 2370.4h0M1013.6 2442.7h0M1000.3 2328.2h0M995.8 2317.7h0M1004 2358.8h0M999.5 2322.7h0" stroke="#7fe481" stroke-width="3.3" stroke-linecap="round" fill="none"/>
<path d="M1044.8 2370.4h0M1039.9 2385.4h0M1022.2 2406.6h0M1027.1 2385.4h0M1034 2406.6h0M1031.4 2317.7h0M1045.2 2370.4h0M1042.1 2442.7h0M1044.6 2322.7h0M1020.6 2341.3h0M1036.7 2370.4h0M1033.4 2442.7h0M1043 2328.2h0M1039.6 2309h0M1034.2 2328.2h0M1029.8 2317.7h0M1024.6 2385.4h0M1040.9 2385.4h0M1038.8 2385.4h0M1017.4 2370.4h0M1021 2349.3h0M1024.2 2406.6h0M1046.3 2334.3h0M1021.8 2385.4h0M1033.3 2406.6h0M1033.1 2334.3h0M1042 2370.4h0M1017.3 2442.7h0M1017.3 2341.3h0M1017.3 2385.4h0M1017.3 2358.8h0M1017.3 2349.3h0M1017.3 2406.6h0M1017.3 2341.3h0M1017.3 2385.4h0M1017.3 2334.3h0M1017.3 2341.3h0M1017.3 2406.6h0M1017.3 2358.8h0M1017.3 2442.7h0M1017.3 2328.2h0M1017.3 2370.4h0M1017.3 2370.4h0M1017.3 2442.7h0M1017.3 2385.4h0" stroke="#9fe063" stroke-width="3.3" stroke-linecap="round" fill="none"/>
<path d="M1062 2341.3h0M1070.8 2322.7h0M1074.9 2370.4h0M1074.9 2328.2h0M1064.6 2370.4h0M1075.5 2385.4h0M1062.6 2358.8h0M1060.3 2406.6h0M1055.6 2341.3h0M1070 2334.3h0M1047.4 2334.3h0M1053.5 2385.4h0M1068.6 2341.3h0M1058.8 2406.6h0M1055.5 2349.3h0M1064.5 2406.6h0M1065.1 2313.2h0M1054 2341.3h0M1065.2 2385.4h0M1072.4 2385.4h0M1050.2 2370.4h0M1054.9 2370.4h0M1057.8 2370.4h0M1075.7 2385.4h0M1061.1 2349.3h0M1056.6 2442.7h0M1059.6 2341.3h0M1056.3 2349.3h0M1054.6 2305.2h0M1066.4 2370.4h0" stroke="#bce04a" stroke-width="3.3" stroke-linecap="round" fill="none"/>
<path d="M1093 2322.7h0M1094.2 2341.3h0M1096.1 2358.8h0M1084.9 2305.2h0M1090.5 2406.6h0M1089.1 2328.2h0M1083 2406.6h0M1079.2 2349.3h0M1095.4 2442.7h0M1087.1 2385.4h0M1096 2358.8h0M1096 2370.4h0M1077.3 2334.3h0M1101.4 2370.4h0M1088.5 2349.3h0M1102.8 2370.4h0M1077.9 2317.7h0M1079.9 2349.3h0M1086.3 2370.4h0M1081.4 2385.4h0M1088 2442.7h0M1078.8 2370.4h0" stroke="#d7e02f" stroke-width="3.3" stroke-linecap="round" fill="none"/>
<path d="M1130.7 2385.4h0M1128.9 2328.2h0M1114.1 2328.2h0M1109.5 2349.3h0M1131.9 2406.6h0M1118 2341.3h0M1115.4 2341.3h0M1123.2 2305.2h0M1125.2 2328.2h0M1107.9 2309h0M1113.7 2385.4h0M1128.7 2334.3h0M1129.4 2358.8h0M1118.3 2406.6h0M1129.8 2406.6h0M1117.4 2334.3h0M1118.7 2341.3h0M1112.4 2406.6h0M1121.3 2334.3h0M1128.9 2317.7h0M1106.4 2385.4h0M1115.6 2406.6h0M1130.1 2358.8h0M1125.2 2370.4h0M1126.4 2358.8h0M1124.6 2406.6h0M1116.4 2349.3h0M1117 2442.7h0M1124.2 2334.3h0M1124.8 2442.7h0M1121.8 2358.8h0M1105.5 2358.8h0M1128.8 2309h0M1125.4 2370.4h0M1129 2341.3h0M1104.4 2442.7h0M1105.2 2370.4h0M1119.7 2349.3h0M1117 2349.3h0M1120.1 2406.6h0M1118.7 2442.7h0" stroke="#f0e011" stroke-width="3.3" stroke-linecap="round" fill="none"/>
<path d="M1143.5 2292.1h0M1146.2 2358.8h0M1144.3 2328.2h0M1138.8 2370.4h0M1135.9 2305.2h0M1134.8 2313.2h0M1140.7 2272.9h0M1140.7 2309h0M1139.6 2272.9h0M1149.5 2270.9h0M1140.1 2334.3h0M1134.5 2267.2h0M1135.2 2370.4h0M1147.7 2442.7h0M1142.5 2385.4h0M1144.8 2341.3h0M1148.8 2370.4h0M1149.8 2358.8h0M1149.1 2322.7h0M1148.5 2286.6h0M1148.9 2301.6h0" stroke="#ffd700" stroke-width="3.3" stroke-linecap="round" fill="none"/>
<path d="M1152.9 2370.4h0M1157 2349.3h0M1155.2 2370.4h0M1155.9 2328.2h0M1151.9 2385.4h0M1155.5 2309h0M1154 2358.8h0M1157.4 2295h0M1166.7 2442.7h0M1152.5 2341.3h0M1166.1 2341.3h0M1159.8 2322.7h0M1158.7 2334.3h0M1165.3 2341.3h0M1156.5 2295h0M1158.9 2309h0M1165.1 2385.4h0M1154.2 2341.3h0M1155.2 2284h0M1151.4 2385.4h0M1158.4 2349.3h0M1150.9 2265.4h0M1153.2 2349.3h0M1153.1 2370.4h0M1158.8 2328.2h0M1152.8 2317.7h0M1160.2 2406.6h0M1153.1 2274.9h0M1152.5 2334.3h0M1155.3 2313.2h0M1150.3 2277.1h0M1164.3 2258.9h0M1161.6 2322.7h0M1157.2 2385.4h0M1164.7 2295h0M1163 2370.4h0M1154.1 2349.3h0M1160.2 2370.4h0M1153.9 2301.6h0M1154.8 2442.7h0M1159.9 2279.3h0M1154.3 2349.3h0M1166.7 2334.3h0M1163.6 2349.3h0M1156.7 2309h0M1163.6 2328.2h0M1150.2 2305.2h0M1158.9 2385.4h0M1152.3 2385.4h0M1166.6 2309h0M1159 2334.3h0M1157 2281.6h0M1155.6 2341.3h0M1153.1 2317.7h0M1150.4 2309h0M1166.8 2322.7h0M1151.4 2313.2h0M1156 2286.6h0M1164.5 2406.6h0M1153.7 2349.3h0M1155 2286.6h0M1152.7 2406.6h0M1153 2322.7h0M1166.3 2305.2h0" stroke="#ffc000" stroke-width="3.3" stroke-linecap="round" fill="none"/>
<path d="M1171.8 2358.8h0M1175.1 2313.2h0M1176.8 2284h0M1177.9 2370.4h0M1181.3 2274.9h0M1168 2406.6h0M1173.1 2322.7h0M1178.4 2406.6h0M1179.7 2305.2h0M1168.6 2370.4h0M1176.1 2334.3h0M1169.6 2305.2h0M1174.4 2328.2h0M1170.6 2317.7h0M1169.4 2292.1h0M1176.1 2385.4h0M1168.6 2289.2h0M1176.7 2358.8h0M1181.5 2349.3h0M1172.5 2322.7h0M1180.9 2349.3h0M1171.3 2322.7h0M1177.1 2305.2h0M1179.8 2305.2h0M1173.5 2349.3h0M1169.8 2341.3h0M1173.9 2334.3h0M1169.3 2349.3h0M1169.6 2349.3h0M1176 2277.1h0M1179 2301.6h0M1177.2 2317.7h0M1174.2 2349.3h0M1172.9 2298.2h0M1180.8 2406.6h0M1170.1 2289.2h0M1180.8 2341.3h0M1167.6 2406.6h0M1167.7 2406.6h0M1179.9 2270.9h0M1177.8 2358.8h0M1175.7 2298.2h0M1171.8 2406.6h0" stroke="#ffaa00" stroke-width="3.3" stroke-linecap="round" fill="none"/>
<path d="M1184.6 2269h0M1192.2 2262.1h0M1182.4 2279.3h0M1188.7 2358.8h0M1182.1 2334.3h0M1187 2254.5h0M1191.8 2234.8h0M1190.1 2234.8h0M1184.1 2298.2h0M1190.8 2258.9h0M1189.1 2257.4h0M1190.7 2249.1h0M1184.7 2242h0M1183.4 2301.6h0M1188.6 2265.4h0M1193.3 2305.2h0M1194.4 2254.5h0M1187.9 2267.2h0M1191.7 2313.2h0M1189.9 2301.6h0M1184 2298.2h0M1194.3 2257.4h0M1185.3 2292.1h0M1191.9 2309h0M1190.2 2298.2h0M1190.3 2279.3h0M1183.8 2232h0M1190.3 2322.7h0M1189.4 2255.9h0M1182.5 2349.3h0M1191.9 2244.3h0M1186.3 2277.1h0M1188.1 2257.4h0M1182.5 2286.6h0M1184.6 2247.9h0M1193.1 2215h0M1190.5 2341.3h0M1185.1 2301.6h0M1186.2 2260.5h0M1188.8 2279.3h0M1184 2317.7h0M1194.3 2238.8h0M1182.6 2250.4h0M1185.2 2279.3h0M1186.2 2328.2h0M1187.2 2267.2h0M1192.4 2313.2h0M1188.1 2243.2h0" stroke="#ff9400" stroke-width="3.3" stroke-linecap="round" fill="none"/>
<path d="M1196.4 2334.3h0M1196.8 2309h0M1195.8 2349.3h0M1195.6 2262.1h0" stroke="#ff7e00" stroke-width="3.3" stroke-linecap="round" fill="none"/>
<path d="M1197.7 2249.1h0M1198.2 2370.4h0M1199.8 2247.9h0M1198.5 2385.4h0M1197.9 2258.9h0" stroke="#ff6500" stroke-width="3.3" stroke-linecap="round" fill="none"/>
<path d="M1201.9 2238.8h0M1201.5 2265.4h0M1200.6 2358.8h0M1201.8 2295h0M1201.6 2229.3h0M1201.1 2258.9h0M1199.8 2235.8h0" stroke="#ff4a00" stroke-width="3.3" stroke-linecap="round" fill="none"/>
<path d="M1204.4 2244.3h0M1204.4 2317.7h0M1204.4 2244.3h0M1204.4 2277.1h0M1204.4 2349.3h0M1204.4 2270.9h0M1204.4 2349.3h0M1204.4 2234.8h0M1204.4 2295h0M1204.4 2257.4h0M1204.4 2301.6h0M1204.4 2281.6h0M1204.4 2284h0M1204.4 2265.4h0M1204.4 2272.9h0M1204.4 2228.4h0M1204.4 2196.8h0M1204.4 2322.7h0M1204.4 2269h0M1204.4 2269h0M1204.4 2328.2h0M1204.4 2230.2h0M1204.4 2251.8h0M1204.4 2289.2h0M1204.4 2341.3h0M1204.4 2279.3h0M1204.4 2289.2h0M1204.4 2289.2h0M1204.4 2298.2h0M1204.4 2295h0M1204.4 2267.2h0M1204.4 2289.2h0M1204.4 2239.9h0M1204.4 2258.9h0M1204.4 2242h0M1204.4 2358.8h0M1204.4 2289.2h0M1204.4 2292.1h0M1204.4 2309h0M1204.4 2358.8h0M1204.4 2247.9h0M1204.4 2341.3h0M1204.4 2281.6h0M1204.4 2260.5h0M1204.4 2301.6h0M1204.4 2240.9h0M1204.4 2243.2h0M1204.4 2281.6h0M1204.4 2262.1h0M1204.4 2270.9h0M1204.4 2295h0M1204.4 2244.3h0M1204.4 2267.2h0M1204.4 2216.3h0M1204.4 2289.2h0M1204.4 2286.6h0M1204.4 2281.6h0M1204.4 2334.3h0M1204.4 2286.6h0M1204.4 2265.4h0" stroke="#ff2000" stroke-width="3.3" stroke-linecap="round" fill="none"/>
<path d="M1285.7 2180.4V2439.2H1750.9" stroke="#8a8a8a" stroke-width="1.3" fill="none"/>
<text x="1281.7" y="2454.7" font-size="18.5" text-anchor="end" fill="#1a1a1a">0</text>
<text x="1281.7" y="2400.4" font-size="18.5" text-anchor="end" fill="#1a1a1a">1</text>
<text x="1281.7" y="2348.7" font-size="18.5" text-anchor="end" fill="#1a1a1a">2</text>
<text x="1281.7" y="2296.9" font-size="18.5" text-anchor="end" fill="#1a1a1a">3</text>
<text x="1281.7" y="2245.2" font-size="18.5" text-anchor="end" fill="#1a1a1a">4</text>
<text x="1281.7" y="2193.4" font-size="18.5" text-anchor="end" fill="#1a1a1a">5</text>
<path d="M1285.7 2439.2h-3M1285.7 2387.4h-3M1285.7 2335.7h-3M1285.7 2283.9h-3M1285.7 2232.2h-3M1285.7 2180.4h-3M1378.7 2439.2v2.5M1471.8 2439.2v2.5M1564.8 2439.2v2.5M1657.9 2439.2v2.5M1750.9 2439.2v2.5" stroke="#8a8a8a" stroke-width="1" fill="none"/>
<text x="1238.3" y="2175" font-size="19" fill="#1a1a1a">Expression</text>
<text x="1511.1" y="2190.2" font-size="28" text-anchor="middle" fill="#1a1a1a">POSTN</text>
<path d="M1288 2382.3h0M1287.6 2439.2h0M1287.7 2439.2h0M1288.2 2403.3h0M1288.4 2439.2h0M1295.2 2439.2h0M1286.5 2338.5h0M1285.8 2439.2h0M1294.2 2439.2h0M1291.9 2439.2h0M1286.3 2439.2h0M1289.3 2439.2h0M1295 2439.2h0M1290.2 2439.2h0M1293.8 2439.2h0M1292.1 2439.2h0M1285.7 2439.2h0M1293.6 2439.2h0M1292.3 2403.3h0M1288.8 2403.3h0M1291.6 2403.3h0M1290.1 2439.2h0M1288.1 2439.2h0M1285.8 2403.3h0M1293.9 2439.2h0M1285.9 2439.2h0M1287.3 2403.3h0M1291.9 2403.3h0M1294.6 2439.2h0M1294.2 2439.2h0M1287.8 2439.2h0M1294.8 2403.3h0M1285.7 2403.3h0M1285.7 2439.2h0M1285.7 2403.3h0M1285.7 2439.2h0M1285.7 2439.2h0M1285.7 2439.2h0M1285.7 2439.2h0M1285.7 2439.2h0M1285.7 2439.2h0M1285.7 2439.2h0M1285.7 2439.2h0M1285.7 2439.2h0M1285.7 2439.2h0M1285.7 2403.3h0M1285.7 2403.3h0M1285.7 2439.2h0M1285.7 2439.2h0M1285.7 2439.2h0M1285.7 2439.2h0M1285.7 2439.2h0" stroke="#0c2487" stroke-width="3.3" stroke-linecap="round" fill="none"/>
<path d="M1297.7 2439.2h0M1301.8 2439.2h0M1302.8 2439.2h0M1295.5 2439.2h0M1303.9 2439.2h0M1302.1 2439.2h0M1297.1 2439.2h0M1304 2382.3h0M1299.3 2439.2h0M1298.9 2403.3h0M1304.5 2403.3h0M1295.6 2439.2h0M1299.1 2439.2h0M1295.6 2382.3h0M1301.1 2403.3h0M1302.4 2439.2h0M1295.8 2382.3h0M1301.5 2439.2h0M1302 2403.3h0M1301.6 2403.3h0M1302.5 2439.2h0M1299 2367.4h0M1302.5 2439.2h0M1303.3 2439.2h0M1299.4 2382.3h0M1302.7 2439.2h0M1296.5 2439.2h0M1297.4 2439.2h0M1304.4 2403.3h0M1300 2382.3h0M1304.7 2403.3h0M1299.8 2439.2h0M1302.4 2439.2h0M1300.3 2439.2h0M1301 2439.2h0" stroke="#0b3894" stroke-width="3.3" stroke-linecap="round" fill="none"/>
<path d="M1307.3 2439.2h0M1313 2439.2h0M1306.3 2439.2h0M1314 2439.2h0M1309 2403.3h0M1314.1 2439.2h0M1306.8 2439.2h0M1306.9 2439.2h0M1306.9 2367.4h0M1309 2439.2h0M1313.9 2439.2h0M1314.3 2439.2h0M1305.1 2439.2h0M1312.5 2439.2h0M1314.7 2403.3h0M1312.3 2439.2h0M1311.3 2439.2h0M1308.9 2382.3h0M1305.8 2382.3h0M1312.1 2382.3h0M1307.8 2439.2h0M1306.3 2439.2h0M1308.9 2403.3h0M1305.8 2403.3h0M1313.6 2403.3h0M1310.6 2439.2h0M1306.7 2403.3h0M1314.6 2403.3h0M1310.9 2439.2h0" stroke="#0a4da2" stroke-width="3.3" stroke-linecap="round" fill="none"/>
<path d="M1319.4 2439.2h0M1319.5 2439.2h0M1323.3 2403.3h0M1321 2439.2h0M1322.5 2439.2h0M1322.1 2439.2h0M1323.2 2439.2h0M1322.2 2439.2h0M1315.3 2439.2h0M1319.5 2382.3h0M1314.9 2403.3h0M1319.1 2439.2h0M1319.2 2439.2h0M1321.1 2403.3h0M1316.7 2439.2h0M1319.1 2382.3h0M1319.1 2439.2h0M1315.6 2439.2h0M1316 2439.2h0M1319.6 2403.3h0M1315.5 2382.3h0M1321.2 2439.2h0M1324.4 2367.4h0M1320.2 2367.4h0M1321.6 2439.2h0M1320.4 2439.2h0M1321.9 2439.2h0M1323 2403.3h0M1321.7 2439.2h0M1318.9 2382.3h0M1316.6 2382.3h0M1314.9 2439.2h0M1322.8 2403.3h0M1322.9 2403.3h0" stroke="#0d6ab2" stroke-width="3.3" stroke-linecap="round" fill="none"/>
<path d="M1327.5 2439.2h0M1326.5 2439.2h0M1324.8 2403.3h0M1325.5 2439.2h0M1324.9 2439.2h0M1325.1 2403.3h0M1327.2 2439.2h0M1325.8 2403.3h0M1324.8 2439.2h0M1327.1 2439.2h0M1324.6 2439.2h0M1330.6 2382.3h0M1329.3 2439.2h0M1332.5 2367.4h0M1330.2 2439.2h0M1328.1 2439.2h0M1336.3 2439.2h0M1325.3 2439.2h0M1328.9 2439.2h0M1331 2439.2h0M1325.3 2439.2h0M1327 2439.2h0M1325.3 2367.4h0" stroke="#1087c3" stroke-width="3.3" stroke-linecap="round" fill="none"/>
<path d="M1342.2 2439.2h0M1339.3 2439.2h0M1340.7 2439.2h0M1347.9 2439.2h0M1358.3 2439.2h0M1346 2439.2h0M1345.8 2439.2h0M1346.7 2403.3h0M1348.8 2403.3h0M1350 2439.2h0M1348.6 2403.3h0M1349.7 2439.2h0M1345 2439.2h0M1346.1 2439.2h0M1354.9 2355.9h0M1349 2382.3h0M1356.7 2382.3h0M1352.4 2382.3h0M1350.3 2439.2h0M1337.8 2439.2h0M1348.2 2439.2h0M1357.5 2403.3h0M1337.2 2439.2h0M1338.6 2382.3h0M1356.6 2403.3h0" stroke="#11a7d4" stroke-width="3.3" stroke-linecap="round" fill="none"/>
<path d="M1361.7 2439.2h0M1362.7 2439.2h0M1373.9 2403.3h0M1366.2 2439.2h0M1375.9 2439.2h0M1372.8 2403.3h0M1371.3 2439.2h0M1370.5 2439.2h0M1379.6 2439.2h0M1363.4 2439.2h0M1380.9 2439.2h0M1362.1 2439.2h0" stroke="#10c7e6" stroke-width="3.3" stroke-linecap="round" fill="none"/>
<path d="M1395.8 2439.2h0M1385.4 2439.2h0M1396.3 2439.2h0M1399.8 2439.2h0M1396.7 2439.2h0M1390 2439.2h0M1404.8 2403.3h0M1382.4 2439.2h0M1393.1 2403.3h0M1395.3 2403.3h0M1398 2439.2h0M1395.5 2439.2h0M1383.1 2439.2h0M1392.3 2439.2h0M1401 2439.2h0M1392.5 2439.2h0M1404 2382.3h0M1381.7 2439.2h0M1403.6 2382.3h0M1395.1 2439.2h0M1395.3 2439.2h0M1388.3 2439.2h0M1405.1 2382.3h0M1385.8 2439.2h0M1396.6 2439.2h0M1387.4 2403.3h0M1399.2 2382.3h0" stroke="#10e7f8" stroke-width="3.3" stroke-linecap="round" fill="none"/>
<path d="M1410.9 2439.2h0M1443.5 2382.3h0M1417.6 2439.2h0M1435 2439.2h0M1422.6 2439.2h0M1417 2367.4h0M1418 2439.2h0M1427.6 2439.2h0M1418.7 2439.2h0M1415.3 2439.2h0M1428.7 2403.3h0M1410.5 2439.2h0M1422.5 2439.2h0M1417.9 2439.2h0M1421.9 2439.2h0M1443.7 2403.3h0M1418.1 2439.2h0M1416 2367.4h0M1409.3 2439.2h0M1423.8 2439.2h0M1430.4 2403.3h0M1422.6 2403.3h0M1438.8 2403.3h0M1419.8 2439.2h0M1415.9 2403.3h0M1437.3 2439.2h0M1420.3 2403.3h0M1442.1 2439.2h0M1433.2 2403.3h0M1420.7 2439.2h0M1413.9 2439.2h0M1414.2 2439.2h0M1439.7 2439.2h0M1409.7 2439.2h0M1436.4 2439.2h0M1406.7 2439.2h0M1430 2382.3h0M1412 2439.2h0" stroke="#21f4ea" stroke-width="3.3" stroke-linecap="round" fill="none"/>
<path d="M1481.9 2403.3h0M1466.2 2439.2h0M1453.2 2439.2h0M1446.5 2439.2h0M1462.2 2439.2h0M1482.2 2439.2h0M1474 2439.2h0M1446 2439.2h0M1470.9 2403.3h0M1465.7 2403.3h0M1482.6 2403.3h0M1465.4 2403.3h0M1460.8 2439.2h0M1465.3 2439.2h0M1479.3 2439.2h0M1477.2 2439.2h0M1449.7 2439.2h0M1485.1 2439.2h0M1470.3 2439.2h0M1450.9 2439.2h0M1462.8 2439.2h0M1453.7 2439.2h0M1474.8 2367.4h0M1465.4 2439.2h0M1462.6 2382.3h0M1449.8 2439.2h0M1456 2439.2h0M1468 2439.2h0M1484.3 2439.2h0M1457.8 2439.2h0M1447.1 2439.2h0M1484.6 2439.2h0M1479.9 2439.2h0M1472.3 2439.2h0M1466.7 2439.2h0M1453.2 2439.2h0" stroke="#3ff1c5" stroke-width="3.3" stroke-linecap="round" fill="none"/>
<path d="M1515.6 2439.2h0M1511.5 2439.2h0M1525.1 2403.3h0M1504.9 2439.2h0M1510.1 2439.2h0M1523.1 2439.2h0M1510.5 2403.3h0M1492.1 2439.2h0M1514.3 2439.2h0M1495.8 2403.3h0M1509.2 2439.2h0M1516.3 2439.2h0M1507.2 2382.3h0M1491.6 2403.3h0M1506.1 2439.2h0M1522.8 2439.2h0M1491.2 2439.2h0M1514.5 2439.2h0M1513.6 2439.2h0M1503.4 2439.2h0M1503.7 2403.3h0M1519.2 2439.2h0M1509.8 2439.2h0M1519.5 2439.2h0M1521.7 2439.2h0M1522 2403.3h0M1491.1 2439.2h0M1523 2403.3h0M1501.9 2403.3h0M1520.8 2439.2h0M1495.7 2439.2h0M1508.4 2439.2h0M1520.9 2439.2h0M1497.6 2439.2h0M1497.6 2439.2h0M1525.7 2382.3h0M1521.3 2382.3h0M1500.9 2403.3h0M1491.8 2439.2h0" stroke="#5eeca2" stroke-width="3.3" stroke-linecap="round" fill="none"/>
<path d="M1527 2403.3h0M1535.3 2439.2h0M1551 2382.3h0M1537.7 2439.2h0M1557.6 2439.2h0M1533.7 2439.2h0M1532.4 2439.2h0M1552.4 2439.2h0M1556.2 2439.2h0M1561.6 2403.3h0M1529.5 2439.2h0M1535.5 2439.2h0M1554.1 2439.2h0M1539.3 2439.2h0M1545.8 2403.3h0M1540.8 2439.2h0M1541.3 2439.2h0M1550.1 2403.3h0M1547.2 2439.2h0M1547.2 2439.2h0M1545.4 2439.2h0M1546.1 2439.2h0M1536.7 2439.2h0M1533 2403.3h0M1535.3 2439.2h0M1545.1 2439.2h0M1538.4 2439.2h0M1542.8 2439.2h0M1552.2 2439.2h0M1530 2439.2h0M1539.9 2439.2h0M1526.5 2403.3h0M1527.5 2403.3h0M1563.2 2439.2h0" stroke="#7fe481" stroke-width="3.3" stroke-linecap="round" fill="none"/>
<path d="M1582.4 2403.3h0M1592.5 2439.2h0M1579.4 2439.2h0M1586 2439.2h0M1581.5 2439.2h0M1583.9 2439.2h0M1583.1 2439.2h0M1581.7 2439.2h0M1573.5 2403.3h0M1577.3 2403.3h0M1572.5 2439.2h0M1589.6 2439.2h0M1587.2 2439.2h0M1574.7 2439.2h0M1570.9 2439.2h0M1592.5 2403.3h0M1578.7 2439.2h0M1572.2 2403.3h0M1564.8 2439.2h0M1564.8 2439.2h0M1564.8 2439.2h0M1564.8 2439.2h0M1564.8 2439.2h0M1564.8 2403.3h0M1564.8 2439.2h0M1564.8 2439.2h0M1564.8 2439.2h0M1564.8 2439.2h0M1564.8 2439.2h0M1564.8 2403.3h0M1564.8 2439.2h0M1564.8 2439.2h0M1564.8 2382.3h0M1564.8 2439.2h0M1564.8 2403.3h0M1564.8 2439.2h0" stroke="#9fe063" stroke-width="3.3" stroke-linecap="round" fill="none"/>
<path d="M1622.5 2439.2h0M1599.6 2439.2h0M1601.2 2439.2h0M1607.7 2439.2h0M1602.4 2439.2h0M1621.1 2382.3h0M1612.8 2367.4h0M1605.7 2403.3h0M1595 2382.3h0M1621.7 2439.2h0M1622.1 2439.2h0M1603.1 2439.2h0M1604.2 2439.2h0M1601.8 2439.2h0M1606.4 2439.2h0M1619.9 2403.3h0M1601.1 2439.2h0M1604.3 2439.2h0M1618.5 2403.3h0M1601.1 2382.3h0" stroke="#bce04a" stroke-width="3.3" stroke-linecap="round" fill="none"/>
<path d="M1637.2 2439.2h0M1640.7 2439.2h0M1648.7 2439.2h0M1636.8 2439.2h0M1628.5 2439.2h0M1623.6 2439.2h0M1629.8 2403.3h0M1634.7 2439.2h0M1642.8 2403.3h0M1637.8 2439.2h0M1634.7 2439.2h0M1631.2 2439.2h0M1627.6 2439.2h0M1625 2439.2h0M1636 2439.2h0M1636.7 2439.2h0M1643 2439.2h0M1647.6 2439.2h0M1641.4 2439.2h0M1623.1 2439.2h0M1644.7 2439.2h0M1638.6 2403.3h0" stroke="#d7e02f" stroke-width="3.3" stroke-linecap="round" fill="none"/>
<path d="M1655.2 2439.2h0M1651.5 2439.2h0M1674.8 2439.2h0M1662.6 2403.3h0M1674.5 2439.2h0M1658.5 2439.2h0M1673.4 2439.2h0M1677.7 2403.3h0M1663.3 2439.2h0M1661.2 2439.2h0M1659 2439.2h0M1678.3 2439.2h0M1678.3 2439.2h0M1666.2 2439.2h0M1665.3 2439.2h0M1672.2 2439.2h0M1665 2439.2h0M1670.5 2439.2h0M1660.2 2403.3h0M1670.1 2403.3h0M1664.1 2439.2h0M1654.7 2403.3h0" stroke="#f0e011" stroke-width="3.3" stroke-linecap="round" fill="none"/>
<path d="M1681.9 2286.8h0M1687.3 2331.6h0M1679.7 2439.2h0M1684.3 2315.1h0M1685.6 2331.6h0M1685.2 2382.3h0M1684.1 2320h0M1689.1 2310.6h0M1687.3 2286.8h0M1694.8 2382.3h0M1690 2338.5h0M1689.2 2299h0M1683.7 2295.7h0M1681.3 2302.6h0M1687.8 2310.6h0M1688.2 2367.4h0M1696.3 2338.5h0M1696 2310.6h0M1695.1 2281.6h0M1695.7 2346.5h0M1695.2 2355.9h0M1695.7 2355.9h0M1695.9 2310.6h0" stroke="#ffd700" stroke-width="3.3" stroke-linecap="round" fill="none"/>
<path d="M1700.7 2284.1h0M1697.1 2325.5h0M1704.1 2382.3h0M1701.4 2439.2h0M1703.1 2338.5h0M1699.7 2315.1h0M1702.6 2299h0M1700.2 2382.3h0M1698.4 2367.4h0M1697.5 2382.3h0M1700.6 2302.6h0M1703.4 2320h0M1707 2292.6h0M1701.4 2284.1h0M1699.1 2346.5h0M1713.2 2338.5h0M1702.9 2439.2h0M1707.9 2331.6h0M1708.1 2367.4h0M1704.3 2346.5h0M1710.7 2382.3h0M1711.4 2382.3h0M1705.7 2382.3h0M1709.8 2325.5h0M1700.2 2302.6h0M1700.6 2331.6h0M1703.2 2382.3h0M1713 2338.5h0M1701.3 2346.5h0M1713.2 2439.2h0M1699 2346.5h0M1708.9 2320h0M1713.4 2331.6h0M1698.5 2403.3h0M1707.6 2310.6h0M1700.5 2295.7h0M1707.8 2367.4h0M1696.8 2315.1h0M1702.1 2325.5h0M1708.7 2315.1h0M1713.2 2355.9h0M1697.1 2295.7h0M1701.9 2403.3h0M1702.8 2310.6h0M1706.1 2367.4h0M1701.8 2346.5h0M1708.7 2346.5h0M1697.1 2281.6h0M1700.6 2439.2h0M1699.3 2338.5h0M1698.8 2292.6h0M1713.2 2338.5h0M1704.6 2286.8h0M1706.6 2310.6h0M1703 2403.3h0M1701.5 2403.3h0M1697.5 2320h0M1711.1 2338.5h0M1702.1 2310.6h0M1711.9 2382.3h0M1706.8 2310.6h0" stroke="#ffc000" stroke-width="3.3" stroke-linecap="round" fill="none"/>
<path d="M1720.8 2331.6h0M1723.9 2382.3h0M1720.6 2302.6h0M1714.1 2310.6h0M1719.4 2346.5h0M1716.5 2289.6h0M1716.7 2331.6h0M1716.8 2295.7h0M1717.5 2325.5h0M1726 2338.5h0M1717.6 2331.6h0M1719.7 2310.6h0M1714.2 2367.4h0M1715.5 2382.3h0M1722.7 2403.3h0M1727.9 2247h0M1716.4 2346.5h0M1719.8 2331.6h0M1719.1 2306.4h0M1719 2315.1h0M1719.3 2310.6h0M1713.8 2355.9h0M1721 2403.3h0M1714.3 2367.4h0M1717.8 2439.2h0M1721.6 2299h0M1721.3 2367.4h0M1719.6 2382.3h0M1718 2346.5h0M1721.3 2346.5h0M1719.5 2338.5h0M1714.5 2325.5h0M1721.2 2403.3h0M1725.3 2331.6h0M1724.9 2382.3h0M1727.4 2346.5h0M1721.2 2355.9h0M1724.3 2306.4h0M1726.5 2346.5h0M1727.7 2263.2h0M1721.2 2382.3h0M1727.1 2403.3h0M1717.1 2295.7h0M1721.7 2382.3h0M1719.4 2331.6h0M1719.6 2382.3h0M1725.1 2355.9h0M1716.6 2320h0M1725.1 2315.1h0M1719.8 2382.3h0M1721.2 2346.5h0M1722.6 2382.3h0M1722.1 2338.5h0M1713.8 2306.4h0M1723 2367.4h0M1725.4 2315.1h0M1716.4 2253.7h0" stroke="#ffaa00" stroke-width="3.3" stroke-linecap="round" fill="none"/>
<path d="M1731.6 2302.6h0M1740.3 2346.5h0M1735.9 2286.8h0M1741.4 2259.8h0M1737.7 2310.6h0M1739.1 2274.7h0M1731.5 2263.2h0M1733.1 2292.6h0M1733 2325.5h0M1739.7 2315.1h0M1731.7 2255.2h0M1738.7 2315.1h0M1734.1 2276.9h0M1731.3 2239.9h0M1731.1 2320h0M1738.9 2266.7h0M1736 2264.9h0M1738.6 2403.3h0M1738 2255.2h0M1731.9 2315.1h0M1735.9 2320h0M1729.5 2299h0M1739.5 2320h0M1739 2284.1h0M1740.5 2325.5h0M1738.4 2255.2h0M1739.7 2263.2h0M1730.5 2236.7h0M1738.1 2292.6h0M1733.8 2306.4h0M1735.6 2289.6h0M1730.1 2276.9h0M1739.8 2264.9h0M1736.8 2289.6h0M1741.4 2338.5h0M1740.1 2289.6h0M1734.4 2276.9h0M1728.3 2331.6h0" stroke="#ff9400" stroke-width="3.3" stroke-linecap="round" fill="none"/>
<path d="M1742.8 2286.8h0M1742.6 2281.6h0M1743.4 2315.1h0M1742.8 2292.6h0" stroke="#ff7e00" stroke-width="3.3" stroke-linecap="round" fill="none"/>
<path d="M1745.5 2302.6h0M1745.5 2224.8h0M1744.8 2439.2h0M1744.6 2268.6h0M1744.8 2250.9h0M1744.3 2256.7h0M1745.6 2346.5h0M1745.6 2264.9h0" stroke="#ff6500" stroke-width="3.3" stroke-linecap="round" fill="none"/>
<path d="M1747.6 2264.9h0M1748.5 2439.2h0M1748 2231.8h0" stroke="#ff4a00" stroke-width="3.3" stroke-linecap="round" fill="none"/>
<path d="M1750.9 2289.6h0M1750.9 2338.5h0M1750.9 2289.6h0M1750.9 2284.1h0M1750.9 2315.1h0M1750.9 2320h0M1750.9 2263.2h0M1750.9 2266.7h0M1750.9 2253.7h0M1750.9 2338.5h0M1750.9 2256.7h0M1750.9 2338.5h0M1750.9 2239.9h0M1750.9 2266.7h0M1750.9 2284.1h0M1750.9 2272.6h0M1750.9 2382.3h0M1750.9 2270.6h0M1750.9 2299h0M1750.9 2244.5h0M1750.9 2289.6h0M1750.9 2266.7h0M1750.9 2338.5h0M1750.9 2237.8h0M1750.9 2243.3h0M1750.9 2331.6h0M1750.9 2255.2h0M1750.9 2310.6h0M1750.9 2439.2h0M1750.9 2306.4h0M1750.9 2355.9h0M1750.9 2289.6h0M1750.9 2295.7h0M1750.9 2268.6h0M1750.9 2236.7h0M1750.9 2253.7h0M1750.9 2270.6h0M1750.9 2272.6h0M1750.9 2382.3h0M1750.9 2289.6h0M1750.9 2244.5h0M1750.9 2272.6h0M1750.9 2315.1h0M1750.9 2382.3h0M1750.9 2325.5h0M1750.9 2274.7h0M1750.9 2346.5h0M1750.9 2331.6h0M1750.9 2281.6h0M1750.9 2272.6h0M1750.9 2310.6h0M1750.9 2252.3h0M1750.9 2259.8h0M1750.9 2310.6h0M1750.9 2292.6h0M1750.9 2299h0M1750.9 2315.1h0M1750.9 2302.6h0M1750.9 2325.5h0M1750.9 2241h0" stroke="#ff2000" stroke-width="3.3" stroke-linecap="round" fill="none"/>
<text x="33.2" y="2485.8" font-size="25.5" fill="#1a1a1a">Pseudotime</text>
<rect x="32.7" y="2493.6" width="200.3" height="33.6" fill="url(#jetg)"/>
<text x="37" y="2545.5" font-size="17" text-anchor="middle" fill="#1a1a1a">0</text>
<text x="229.5" y="2545.5" font-size="17" text-anchor="middle" fill="#1a1a1a">1</text>
</svg>
</body></html>
